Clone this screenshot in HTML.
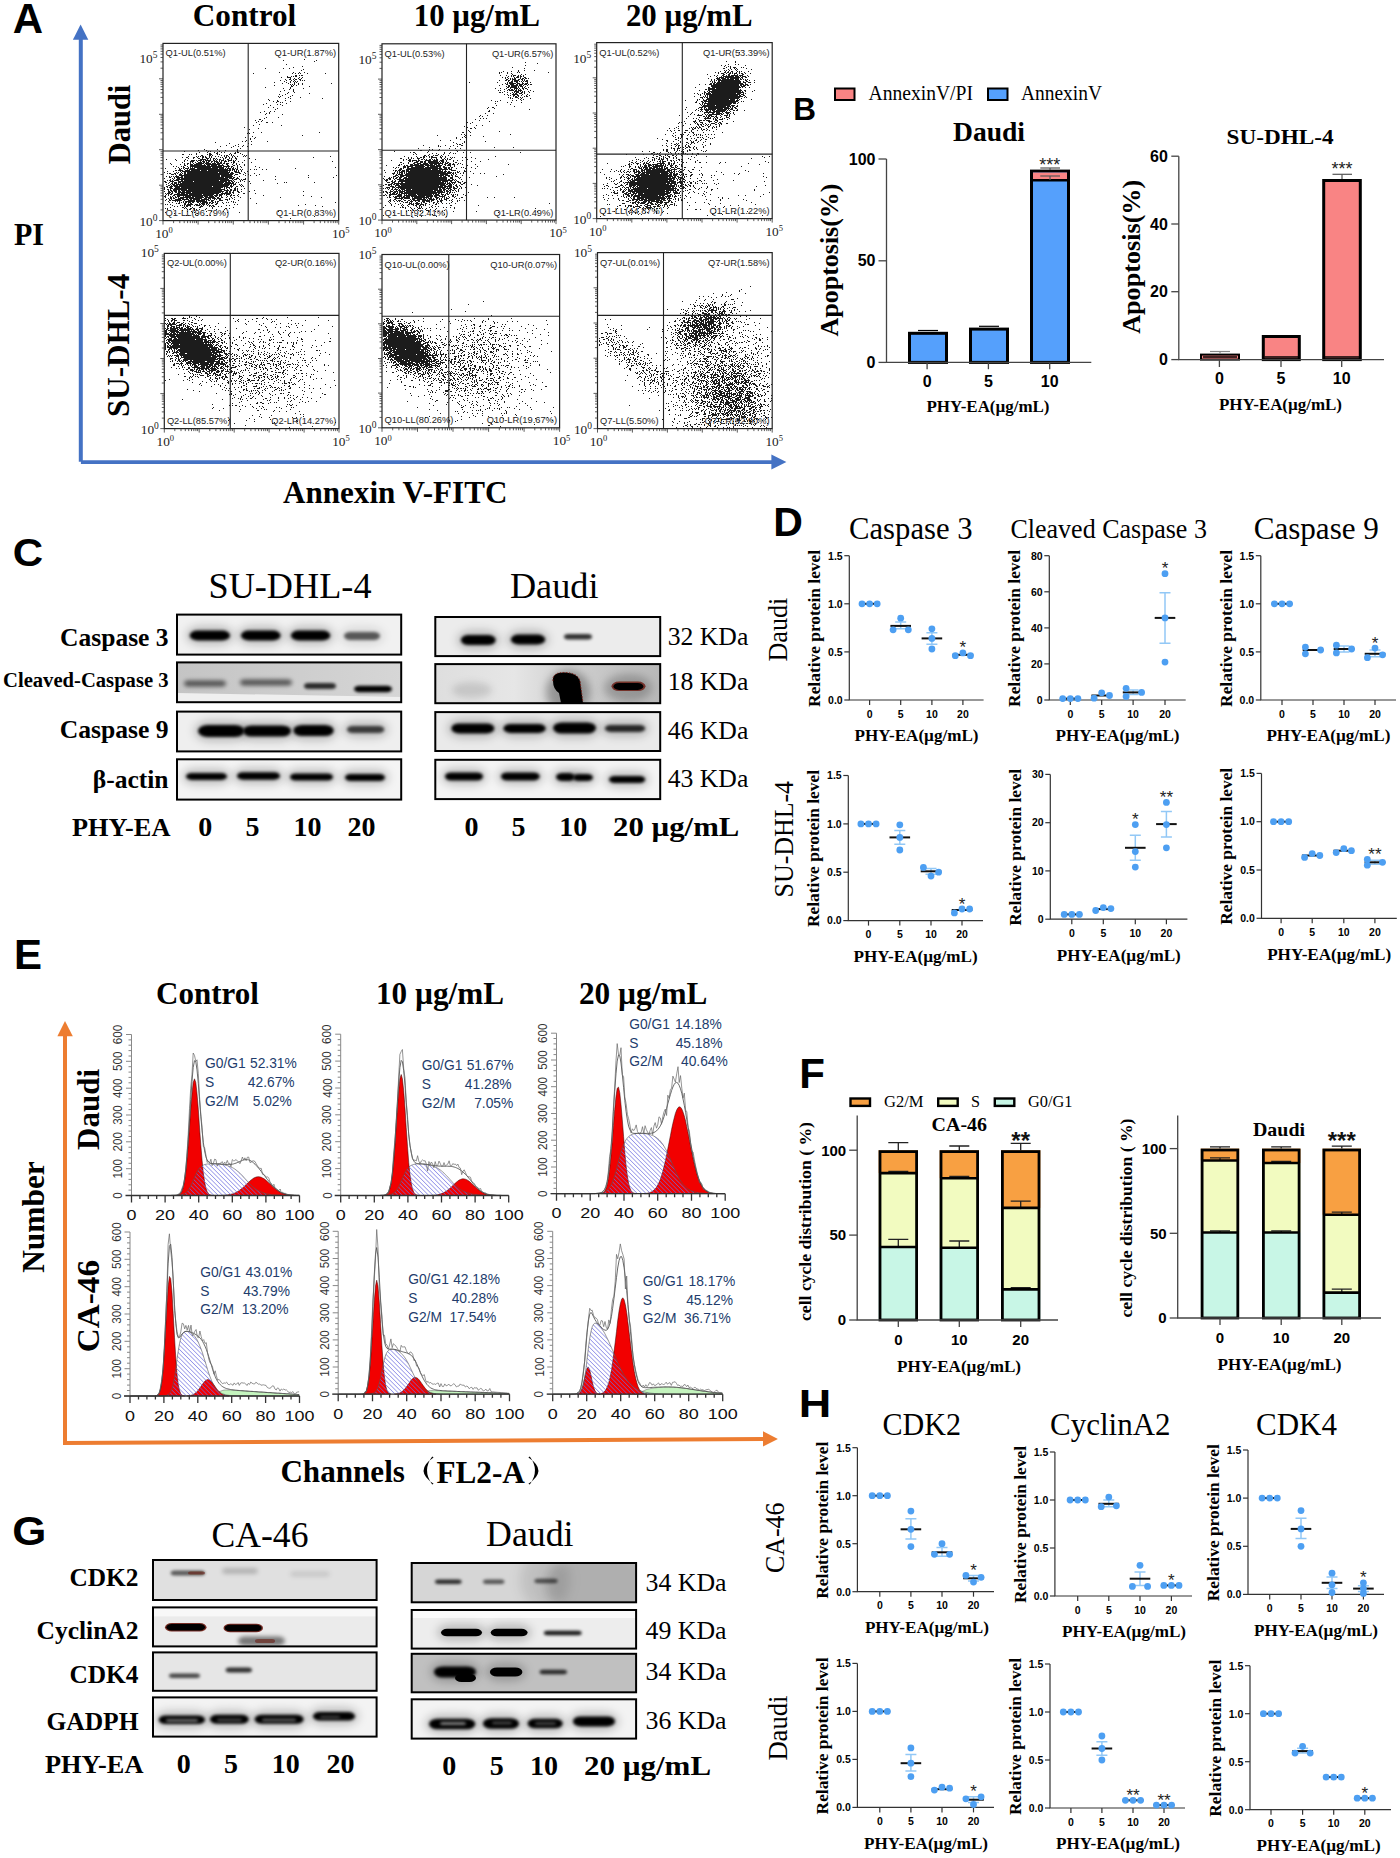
<!DOCTYPE html>
<html><head><meta charset="utf-8"><title>Figure</title>
<style>html,body{margin:0;padding:0;background:#fff;}svg{display:block;}</style>
</head><body>
<svg width="1400" height="1858" viewBox="0 0 1400 1858">
<rect width="1400" height="1858" fill="#fff"/>
<path d="M304 59h1M283 60h1M316 60h1M314 61h1M286 64h1M302 66h1M293 67h1M265 68h1M283 68h1M289 68h1M303 69h1M301 70h1M279 72h1M293 72h1M299 72h1M304 72h1M253 73h1M292 73h1M295 73h1M298 73h1M300 73h1M307 73h1M325 73h1M295 75h2M299 75h1M301 75h2M287 76h1M291 76h1M293 76h1M295 76h2M281 77h1M287 77h4M299 77h1M302 77h1M290 78h1M294 78h1M298 78h1M301 78h1M285 79h1M289 79h2M293 79h1M295 79h2M299 79h2M280 80h1M286 80h1M291 80h1M294 80h1M300 80h1M302 80h1M304 80h1M284 81h1M290 81h1M293 81h1M295 81h1M297 81h1M274 82h1M286 82h1M290 82h1M294 82h1M296 82h1M282 83h1M288 83h1M294 83h1M298 83h1M302 83h1M331 83h1M290 84h1M292 84h1M294 84h1M298 84h1M302 84h1M274 85h1M291 85h1M293 85h1M296 85h1M291 86h2M309 86h1M265 87h1M290 87h1M283 88h1M290 88h1M303 88h1M289 89h1M293 89h1M284 90h1M293 90h1M280 91h1M293 91h1M288 92h1M294 92h1M287 93h1M309 93h1M279 94h1M285 94h1M282 95h1M292 95h1M278 96h1M280 96h1M290 96h1M279 97h1M288 97h1M300 97h1M285 98h1M290 98h1M322 98h1M268 99h1M269 100h1M277 100h1M285 100h1M273 101h1M277 101h2M290 101h1M276 102h1M280 102h1M282 102h1M266 103h1M286 103h1M263 104h1M277 104h1M280 104h1M270 105h1M282 105h1M268 107h1M273 107h1M277 108h1M275 109h1M264 111h1M270 111h1M274 111h1M260 112h1M269 112h1M266 113h1M269 113h1M265 114h1M282 114h1M266 117h1M278 117h1M264 118h1M259 119h2M255 120h1M262 120h1M258 121h1M261 121h1M256 122h1M266 122h2M272 122h1M259 124h1M253 125h1M281 125h1M244 127h1M258 128h1M249 129h1M248 132h1M253 132h1M261 132h1M319 132h1M247 133h1M249 133h1M302 135h1M252 136h1M245 137h1M255 137h1M250 138h1M254 138h1M250 139h1M246 140h1M242 141h1M245 141h1M251 141h1M267 141h1M215 142h1M229 143h1M248 143h1M238 144h1M251 144h1M226 145h1M235 145h1M243 145h1M220 146h1M233 146h1M238 146h1M242 146h1M247 146h1M231 147h1M240 148h1M204 149h1M217 149h1M237 149h1M198 150h1M206 150h1M225 150h1M237 150h1M184 151h1M208 151h1M210 151h1M219 151h1M237 151h1M248 151h1M199 152h1M207 152h1M214 152h1M217 152h1M221 152h1M224 152h1M235 152h1M237 152h2M196 153h1M209 153h2M216 153h2M230 153h1M234 153h2M240 153h1M182 154h2M189 154h1M191 154h1M196 154h1M207 154h1M209 154h3M217 154h1M219 154h1M229 154h1M231 154h1M242 154h1M201 155h2M209 155h2M212 155h1M221 155h1M224 155h1M226 155h2M231 155h1M233 155h1M244 155h1M246 155h1M188 156h1M196 156h1M198 156h1M200 156h1M202 156h2M205 156h1M209 156h1M211 156h1M215 156h1M218 156h1M224 156h1M226 156h1M228 156h1M232 156h1M234 156h1M237 156h1M243 156h1M245 156h1M330 156h1M182 157h1M186 157h2M193 157h2M197 157h1M202 157h2M205 157h2M209 157h1M211 157h1M220 157h1M222 157h1M225 157h2M229 157h1M232 157h1M235 157h1M313 157h1M188 158h1M193 158h1M198 158h2M202 158h1M206 158h3M210 158h1M213 158h2M216 158h1M223 158h1M225 158h1M229 158h1M231 158h1M235 158h2M249 158h1M166 159h1M175 159h1M185 159h1M200 159h6M207 159h1M210 159h1M213 159h1M215 159h1M217 159h1M219 159h2M223 159h1M227 159h2M231 159h1M236 159h1M255 159h1M279 159h1M176 160h1M184 160h1M187 160h1M191 160h4M196 160h1M198 160h4M203 160h1M205 160h6M213 160h2M216 160h1M219 160h1M221 160h3M225 160h1M228 160h4M233 160h1M235 160h1M244 160h1M184 161h1M190 161h4M197 161h1M200 161h1M202 161h3M206 161h1M208 161h2M211 161h2M214 161h4M219 161h1M221 161h1M224 161h3M228 161h1M233 161h2M238 161h1M332 161h1M182 162h1M190 162h1M192 162h1M195 162h1M198 162h4M203 162h2M206 162h3M211 162h1M214 162h1M216 162h3M220 162h2M224 162h1M231 162h1M233 162h2M242 162h1M251 162h1M170 163h1M184 163h1M187 163h2M190 163h1M193 163h1M196 163h8M205 163h6M212 163h4M217 163h5M223 163h2M226 163h3M233 163h1M236 163h1M171 164h1M180 164h1M184 164h1M187 164h1M190 164h3M194 164h8M204 164h1M206 164h14M222 164h1M226 164h2M232 164h1M236 164h1M239 164h1M244 164h1M184 165h2M190 165h16M207 165h3M211 165h6M218 165h6M227 165h2M233 165h2M237 165h1M244 165h1M173 166h1M176 166h1M181 166h1M183 166h1M187 166h1M190 166h32M223 166h7M231 166h2M237 166h1M240 166h1M255 166h1M178 167h1M183 167h2M188 167h1M190 167h1M192 167h1M194 167h17M212 167h12M226 167h1M228 167h1M231 167h1M233 167h1M237 167h1M241 167h1M259 167h1M335 167h1M165 168h1M175 168h1M179 168h1M181 168h1M183 168h1M185 168h4M190 168h5M197 168h21M219 168h5M225 168h1M227 168h4M232 168h2M235 168h1M237 168h1M295 168h1M179 169h2M184 169h1M187 169h1M189 169h39M229 169h2M232 169h3M236 169h2M240 169h1M242 169h1M250 169h1M254 169h1M256 169h1M262 169h1M266 169h1M175 170h2M178 170h5M185 170h5M191 170h9M201 170h6M208 170h23M232 170h1M234 170h1M236 170h1M238 170h1M241 170h1M167 171h1M173 171h1M180 171h1M182 171h46M229 171h1M234 171h3M238 171h1M241 171h1M247 171h1M164 172h1M176 172h1M178 172h1M181 172h1M184 172h2M187 172h31M219 172h11M231 172h2M235 172h5M244 172h1M167 173h1M169 173h2M174 173h2M177 173h1M180 173h1M182 173h1M184 173h2M187 173h42M230 173h4M239 173h2M245 173h1M254 173h1M171 174h3M175 174h1M179 174h3M184 174h49M235 174h3M243 174h1M248 174h1M259 174h1M176 175h1M179 175h41M221 175h11M234 175h1M245 175h1M250 175h1M256 175h1M308 175h1M336 175h1M166 176h1M169 176h1M171 176h1M173 176h1M175 176h4M181 176h2M184 176h36M221 176h12M239 176h1M275 176h1M169 177h2M174 177h1M176 177h7M184 177h40M225 177h7M233 177h2M237 177h1M308 177h1M333 177h1M164 178h1M172 178h1M174 178h1M177 178h3M181 178h47M229 178h5M236 178h3M245 178h1M170 179h1M173 179h1M176 179h53M232 179h1M234 179h3M239 179h1M241 179h1M243 179h3M275 179h1M167 180h1M169 180h2M172 180h1M174 180h5M181 180h2M184 180h35M220 180h12M233 180h1M240 180h1M242 180h1M263 180h1M164 181h2M170 181h4M178 181h15M194 181h33M228 181h2M231 181h2M234 181h1M240 181h1M244 181h1M249 181h1M165 182h2M169 182h1M172 182h1M174 182h3M178 182h3M182 182h42M225 182h6M232 182h2M236 182h1M238 182h1M284 182h1M286 182h1M314 182h1M168 183h1M171 183h2M174 183h3M178 183h1M180 183h43M224 183h10M235 183h1M250 183h1M277 183h1M166 184h1M170 184h1M172 184h3M176 184h54M231 184h1M233 184h3M239 184h1M241 184h1M168 185h2M171 185h1M173 185h5M179 185h50M230 185h2M233 185h1M240 185h1M242 185h1M166 186h2M170 186h3M174 186h38M213 186h15M230 186h3M236 186h2M241 186h1M243 186h1M164 187h1M167 187h1M169 187h3M175 187h5M181 187h42M224 187h1M226 187h4M231 187h1M235 187h1M164 188h1M170 188h3M174 188h47M224 188h1M226 188h1M229 188h1M234 188h2M237 188h1M244 188h1M164 189h1M167 189h2M170 189h1M173 189h14M188 189h37M227 189h1M230 189h2M234 189h2M237 189h1M241 189h1M168 190h1M170 190h2M173 190h4M178 190h2M181 190h41M224 190h5M230 190h2M233 190h3M237 190h1M254 190h1M164 191h1M168 191h2M171 191h2M174 191h3M178 191h3M182 191h3M186 191h38M226 191h2M229 191h2M233 191h1M237 191h2M241 191h1M249 191h1M303 191h1M168 192h3M172 192h1M175 192h2M178 192h13M192 192h29M222 192h1M225 192h3M229 192h2M232 192h2M238 192h2M165 193h1M167 193h3M171 193h2M177 193h3M181 193h4M186 193h33M221 193h10M233 193h1M243 193h2M255 193h1M166 194h1M168 194h1M170 194h2M174 194h14M189 194h13M203 194h11M216 194h2M219 194h4M224 194h1M226 194h4M231 194h1M238 194h1M165 195h1M168 195h1M173 195h2M177 195h36M214 195h4M219 195h3M226 195h1M230 195h2M233 195h2M237 195h1M263 195h1M303 195h1M164 196h2M170 196h1M172 196h1M175 196h1M177 196h3M183 196h1M185 196h6M192 196h11M204 196h4M209 196h5M215 196h2M219 196h1M221 196h1M227 196h1M230 196h1M238 196h1M311 196h1M165 197h1M170 197h2M173 197h1M175 197h2M178 197h1M180 197h14M195 197h9M205 197h10M217 197h2M221 197h2M226 197h1M231 197h1M234 197h1M240 197h1M280 197h1M321 197h1M168 198h1M170 198h2M173 198h2M178 198h6M186 198h2M189 198h13M204 198h3M208 198h3M212 198h4M217 198h4M229 198h1M232 198h1M250 198h1M166 199h1M169 199h1M171 199h1M175 199h6M182 199h7M190 199h2M193 199h7M201 199h8M210 199h1M214 199h1M216 199h1M219 199h2M225 199h3M229 199h1M234 199h1M165 200h1M169 200h2M172 200h10M184 200h1M188 200h7M196 200h9M206 200h1M208 200h2M211 200h3M219 200h4M227 200h1M238 200h1M168 201h1M175 201h1M177 201h1M179 201h1M183 201h1M185 201h10M196 201h11M211 201h2M215 201h1M217 201h2M231 201h1M233 201h1M169 202h1M172 202h1M179 202h1M181 202h1M183 202h1M185 202h2M188 202h3M192 202h2M197 202h2M200 202h1M202 202h6M209 202h2M212 202h2M215 202h1M217 202h1M222 202h1M226 202h1M228 202h1M233 202h1M235 202h1M335 202h1M176 203h1M178 203h2M184 203h2M188 203h1M190 203h2M199 203h1M201 203h4M206 203h2M209 203h1M211 203h2M216 203h2M223 203h1M256 203h1M165 204h1M167 204h1M170 204h1M184 204h2M187 204h6M195 204h3M199 204h2M202 204h3M206 204h1M208 204h1M215 204h2M234 204h1M237 204h1M305 204h1M172 205h1M180 205h1M182 205h1M184 205h1M186 205h5M194 205h1M196 205h4M201 205h1M203 205h1M207 205h1M209 205h2M212 205h2M226 205h1M229 205h1M298 205h1M315 205h1M174 206h1M177 206h1M184 206h1M186 206h2M190 206h1M200 206h3M209 206h1M211 206h1M213 206h2M218 206h1M221 206h1M322 206h1M170 207h1M182 207h2M185 207h1M192 207h1M199 207h2M212 207h1M233 207h1M165 208h1M167 208h1M184 208h1M186 208h1M190 208h2M193 208h2M206 208h1M212 208h1M225 208h2M229 208h1M167 209h1M173 209h1M187 209h1M189 209h2M194 209h1M196 209h1M199 209h1M205 209h1M216 209h1M224 209h1M182 210h1M194 210h1M187 211h1M191 211h1M206 211h1M211 211h1M223 211h1M278 211h1M165 212h1M192 212h1M194 212h1M227 212h1M239 212h1M174 213h1M197 213h1M195 214h1M186 215h1M188 215h1M197 215h1M207 215h1M210 215h1M314 216h1M290 218h1" stroke="#1c1c1c" stroke-width="1" fill="none" transform="translate(0 .5)"/>
<rect x="163" y="43.4" width="175.7" height="177.2" fill="none" stroke="#222" stroke-width="1.2"/>
<line x1="248.2" y1="43.4" x2="248.2" y2="220.6" stroke="#222" stroke-width="1.1"/>
<line x1="163" y1="151" x2="338.7" y2="151" stroke="#222" stroke-width="1.1"/>
<path d="M163 220.6h-4M163 209.9h-2.5M163 203.7h-2.5M163 199.3h-2.5M163 195.8h-2.5M163 193.0h-2.5M163 190.6h-2.5M163 188.6h-2.5M163 186.8h-2.5M163 185.2h-4M163 174.5h-2.5M163 168.3h-2.5M163 163.8h-2.5M163 160.4h-2.5M163 157.6h-2.5M163 155.2h-2.5M163 153.2h-2.5M163 151.3h-2.5M163 149.7h-4M163 139.1h-2.5M163 132.8h-2.5M163 128.4h-2.5M163 124.9h-2.5M163 122.1h-2.5M163 119.8h-2.5M163 117.7h-2.5M163 115.9h-2.5M163 114.3h-4M163 103.6h-2.5M163 97.4h-2.5M163 92.9h-2.5M163 89.5h-2.5M163 86.7h-2.5M163 84.3h-2.5M163 82.3h-2.5M163 80.5h-2.5M163 78.8h-4M163 68.2h-2.5M163 61.9h-2.5M163 57.5h-2.5M163 54.1h-2.5M163 51.3h-2.5M163 48.9h-2.5M163 46.8h-2.5M163 45.0h-2.5M163 220.6v4M173.6 220.6v2.5M179.8 220.6v2.5M184.2 220.6v2.5M187.6 220.6v2.5M190.3 220.6v2.5M192.7 220.6v2.5M194.7 220.6v2.5M196.5 220.6v2.5M198.1 220.6v4M208.7 220.6v2.5M214.9 220.6v2.5M219.3 220.6v2.5M222.7 220.6v2.5M225.5 220.6v2.5M227.8 220.6v2.5M229.9 220.6v2.5M231.7 220.6v2.5M233.3 220.6v4M243.9 220.6v2.5M250.0 220.6v2.5M254.4 220.6v2.5M257.8 220.6v2.5M260.6 220.6v2.5M263.0 220.6v2.5M265.0 220.6v2.5M266.8 220.6v2.5M268.4 220.6v4M279.0 220.6v2.5M285.2 220.6v2.5M289.6 220.6v2.5M293.0 220.6v2.5M295.8 220.6v2.5M298.1 220.6v2.5M300.2 220.6v2.5M302.0 220.6v2.5M303.6 220.6v4M314.1 220.6v2.5M320.3 220.6v2.5M324.7 220.6v2.5M328.1 220.6v2.5M330.9 220.6v2.5M333.3 220.6v2.5M335.3 220.6v2.5M337.1 220.6v2.5M338.7 220.6v4" stroke="#333" stroke-width=".8" fill="none"/>
<text x="165.6" y="56.4" font-family="'Liberation Sans', sans-serif" font-size="8.9" fill="#222" textLength="60.0" lengthAdjust="spacingAndGlyphs">Q1-UL(0.51%)</text>
<text x="336.1" y="56.4" font-family="'Liberation Sans', sans-serif" font-size="8.9" text-anchor="end" fill="#222" textLength="61.5" lengthAdjust="spacingAndGlyphs">Q1-UR(1.87%)</text>
<text x="165.6" y="216.1" font-family="'Liberation Sans', sans-serif" font-size="8.9" fill="#222" textLength="63.6" lengthAdjust="spacingAndGlyphs">Q1-LL(96.79%)</text>
<text x="336.1" y="216.1" font-family="'Liberation Sans', sans-serif" font-size="8.9" text-anchor="end" fill="#222" textLength="60.0" lengthAdjust="spacingAndGlyphs">Q1-LR(0.83%)</text>
<text x="157.5" y="63.4" font-family="'Liberation Serif', serif" font-size="13.3" text-anchor="end" fill="#222">10<tspan font-size="9.5" dy="-5">5</tspan></text>
<text x="157.5" y="225.6" font-family="'Liberation Serif', serif" font-size="13.3" text-anchor="end" fill="#222">10<tspan font-size="9.5" dy="-5">0</tspan></text>
<text x="164" y="237.8" font-family="'Liberation Serif', serif" font-size="13.3" text-anchor="middle" fill="#222">10<tspan font-size="8.5" dy="-4.5">0</tspan></text>
<text x="340.7" y="237.8" font-family="'Liberation Serif', serif" font-size="13.3" text-anchor="middle" fill="#222">10<tspan font-size="8.5" dy="-4.5">5</tspan></text>
<path d="M525 62h1M537 63h1M525 65h1M512 67h1M524 68h1M518 70h1M524 70h1M534 70h1M503 71h1M511 71h1M518 71h1M499 72h1M501 72h1M507 72h1M517 72h1M519 72h1M548 72h1M499 73h1M507 73h1M511 73h1M512 74h1M521 74h1M525 74h1M500 75h1M506 75h1M511 75h1M513 75h3M518 75h1M520 75h1M523 75h1M508 76h1M511 76h1M513 76h1M517 76h2M520 76h2M523 76h1M502 77h1M505 77h1M507 77h1M514 77h1M516 77h3M520 77h1M524 77h2M505 78h1M508 78h1M510 78h1M512 78h1M514 78h2M520 78h1M522 78h2M525 78h2M528 78h1M506 79h2M510 79h1M512 79h4M518 79h2M521 79h2M524 79h1M499 80h1M505 80h2M508 80h2M512 80h1M514 80h5M522 80h1M524 80h1M526 80h2M508 81h1M511 81h2M514 81h4M519 81h1M521 81h1M523 81h1M525 81h3M469 82h1M497 82h1M507 82h1M509 82h4M516 82h2M522 82h1M527 82h1M530 82h1M505 83h1M507 83h1M509 83h7M517 83h3M522 83h2M525 83h3M502 84h1M506 84h2M510 84h4M516 84h2M519 84h4M524 84h3M528 84h1M530 84h2M499 85h1M508 85h2M511 85h7M519 85h3M523 85h1M527 85h1M506 86h1M508 86h2M511 86h6M518 86h1M520 86h3M525 86h1M507 87h2M510 87h7M518 87h1M522 87h1M524 87h1M528 87h1M495 88h1M500 88h1M506 88h1M510 88h1M514 88h4M519 88h1M522 88h2M525 88h2M504 89h1M508 89h2M511 89h2M514 89h1M516 89h1M518 89h1M520 89h1M523 89h1M527 89h1M498 90h1M500 90h1M507 90h1M509 90h5M515 90h2M518 90h4M530 90h1M504 91h1M514 91h5M520 91h1M522 91h1M524 91h1M528 91h1M533 91h1M499 92h2M502 92h1M507 92h1M512 92h1M514 92h1M516 92h3M521 92h2M524 92h1M529 92h1M510 93h1M513 93h1M515 93h2M519 93h3M524 93h1M504 94h1M507 94h1M512 94h6M522 94h1M527 94h1M508 95h1M510 95h1M513 95h2M517 95h2M521 95h1M526 95h1M529 95h1M513 96h1M515 96h2M518 96h1M524 96h1M526 96h2M508 97h1M510 97h1M515 97h3M520 97h1M522 97h1M510 98h1M512 98h1M518 98h1M521 98h1M530 98h1M520 99h1M523 99h1M491 100h1M500 100h1M512 100h1M516 100h1M521 100h1M495 101h1M497 101h1M507 102h1M511 102h1M521 102h1M495 103h1M510 104h1M496 105h1M514 106h1M488 107h1M492 107h2M487 108h1M494 108h1M529 109h1M489 110h1M488 111h2M485 113h1M493 113h1M480 115h1M487 115h1M479 116h1M482 116h1M480 118h1M483 118h1M486 118h1M475 119h1M479 120h1M489 121h1M467 122h1M472 122h1M470 123h1M476 125h1M482 125h1M464 126h1M467 127h1M474 127h1M470 128h2M475 128h1M468 130h1M469 131h1M499 131h1M462 132h2M466 132h1M470 132h1M461 134h1M464 134h1M510 134h1M437 135h1M465 135h1M470 135h1M464 136h1M483 136h1M456 137h1M462 137h1M465 137h1M456 138h1M466 138h1M460 139h1M440 140h1M450 140h1M466 140h1M464 141h1M485 141h1M453 142h1M464 142h1M466 142h1M456 143h1M462 143h1M457 144h1M459 144h2M423 145h1M438 145h1M445 145h1M453 145h1M461 145h2M438 146h1M440 146h1M450 146h1M457 146h1M429 147h1M494 147h1M513 147h1M418 148h1M449 148h1M455 148h1M460 148h1M429 149h1M432 149h1M439 149h1M420 150h2M438 150h1M456 150h1M464 150h1M394 151h1M428 151h1M457 151h1M410 152h1M413 152h2M427 152h1M444 152h1M450 152h1M463 152h1M470 152h1M520 152h1M415 153h1M432 153h1M436 153h1M444 153h1M449 153h1M453 153h1M455 153h1M413 154h1M416 154h1M429 154h1M438 154h1M443 154h1M424 155h2M428 155h1M433 155h1M435 155h3M441 155h1M448 155h1M404 156h1M416 156h1M423 156h2M426 156h1M429 156h1M431 156h2M440 156h1M442 156h1M445 156h1M495 156h1M408 157h1M411 157h1M417 157h1M420 157h2M423 157h2M429 157h1M431 157h6M440 157h2M445 157h1M450 157h1M452 157h1M454 157h1M462 157h1M465 157h1M471 157h1M400 158h2M408 158h1M411 158h1M413 158h1M417 158h3M423 158h1M431 158h1M436 158h1M441 158h1M444 158h1M447 158h1M451 158h1M475 158h1M403 159h1M406 159h1M409 159h2M418 159h1M421 159h2M424 159h1M426 159h1M429 159h2M432 159h1M434 159h1M436 159h2M442 159h2M445 159h1M447 159h1M449 159h2M467 159h1M488 159h1M391 160h1M403 160h1M408 160h3M412 160h5M418 160h2M425 160h6M433 160h5M440 160h4M446 160h1M453 160h1M457 160h1M462 160h1M409 161h2M412 161h1M416 161h3M420 161h3M424 161h2M428 161h10M439 161h1M441 161h3M446 161h1M453 161h1M471 161h1M480 161h1M400 162h2M408 162h1M414 162h4M420 162h3M424 162h2M428 162h11M440 162h1M442 162h2M445 162h1M447 162h2M455 162h2M403 163h1M408 163h1M413 163h2M417 163h4M423 163h5M429 163h14M445 163h3M449 163h2M453 163h1M458 163h1M460 163h1M399 164h1M401 164h1M410 164h3M414 164h5M420 164h9M430 164h3M434 164h3M438 164h2M442 164h1M444 164h2M448 164h3M452 164h3M457 164h1M462 164h1M475 164h1M508 164h1M386 165h1M398 165h2M404 165h1M406 165h2M410 165h14M425 165h10M436 165h6M445 165h1M447 165h4M454 165h1M467 165h1M403 166h3M407 166h6M415 166h10M427 166h2M430 166h11M443 166h2M450 166h1M454 166h1M477 166h1M393 167h1M396 167h1M398 167h1M403 167h3M407 167h2M411 167h13M425 167h13M439 167h2M443 167h4M448 167h2M451 167h2M461 167h1M463 167h1M471 167h1M395 168h1M400 168h2M403 168h1M407 168h35M444 168h3M448 168h2M451 168h1M456 168h1M465 168h1M475 168h1M399 169h3M406 169h25M432 169h6M439 169h9M449 169h3M384 170h1M393 170h1M395 170h2M398 170h3M402 170h3M406 170h3M410 170h31M442 170h1M445 170h1M451 170h5M464 170h1M395 171h1M397 171h1M399 171h1M401 171h4M406 171h37M444 171h3M448 171h2M457 171h1M459 171h1M464 171h2M470 171h1M385 172h1M394 172h1M397 172h1M399 172h4M404 172h1M406 172h1M408 172h38M447 172h5M453 172h1M455 172h1M457 172h2M463 172h1M466 172h1M392 173h3M397 173h1M399 173h1M401 173h2M404 173h1M406 173h45M452 173h2M455 173h1M460 173h1M463 173h1M473 173h1M480 173h1M484 173h1M393 174h1M396 174h1M398 174h5M405 174h34M440 174h8M451 174h1M453 174h1M456 174h1M503 174h1M395 175h3M400 175h44M445 175h5M451 175h2M455 175h1M462 175h1M384 176h1M393 176h3M398 176h1M400 176h4M406 176h33M440 176h2M443 176h3M448 176h2M452 176h1M455 176h3M496 176h1M389 177h1M391 177h1M393 177h1M396 177h2M399 177h3M404 177h3M408 177h39M450 177h3M458 177h1M460 177h1M469 177h1M383 178h1M388 178h3M393 178h1M395 178h2M399 178h2M403 178h44M450 178h3M459 178h1M384 179h1M386 179h2M389 179h2M394 179h1M397 179h7M405 179h42M448 179h2M452 179h2M455 179h1M461 179h1M385 180h3M392 180h1M395 180h1M399 180h54M454 180h1M456 180h1M386 181h1M391 181h2M394 181h2M398 181h43M442 181h6M450 181h2M455 181h1M457 181h2M462 181h1M387 182h3M392 182h3M398 182h1M401 182h2M405 182h39M445 182h1M447 182h1M449 182h1M451 182h5M458 182h3M464 182h2M391 183h2M394 183h52M447 183h4M452 183h1M454 183h1M460 183h1M463 183h2M385 184h2M388 184h4M393 184h2M396 184h3M400 184h45M446 184h2M449 184h3M453 184h1M456 184h1M461 184h2M471 184h1M383 185h1M388 185h2M391 185h1M395 185h5M401 185h38M440 185h6M448 185h4M455 185h2M459 185h1M477 185h1M390 186h4M395 186h1M398 186h45M444 186h8M453 186h1M456 186h2M460 186h1M386 187h4M392 187h3M396 187h50M447 187h1M449 187h3M453 187h2M457 187h1M461 187h1M465 187h1M383 188h1M385 188h1M387 188h1M389 188h1M392 188h1M395 188h1M398 188h1M400 188h38M439 188h2M442 188h3M446 188h5M453 188h4M459 188h1M461 188h1M388 189h1M391 189h2M394 189h4M399 189h1M401 189h4M406 189h5M412 189h26M439 189h3M443 189h3M448 189h1M450 189h2M454 189h1M458 189h1M390 190h1M393 190h1M396 190h1M398 190h3M402 190h1M404 190h29M434 190h8M443 190h2M446 190h2M449 190h2M452 190h2M455 190h1M458 190h1M383 191h1M385 191h2M390 191h3M394 191h4M399 191h6M406 191h30M437 191h6M444 191h1M446 191h3M450 191h1M456 191h1M458 191h1M383 192h1M386 192h2M389 192h2M393 192h3M397 192h1M399 192h4M404 192h41M447 192h1M449 192h2M452 192h1M454 192h1M468 192h1M387 193h1M390 193h1M392 193h3M396 193h2M399 193h1M401 193h36M438 193h2M441 193h1M446 193h2M449 193h1M385 194h1M389 194h8M398 194h4M404 194h1M406 194h1M408 194h8M417 194h15M433 194h1M435 194h4M441 194h3M445 194h1M447 194h2M451 194h1M453 194h1M455 194h1M457 194h1M463 194h1M383 195h2M386 195h1M389 195h2M397 195h5M404 195h13M418 195h15M434 195h6M442 195h1M444 195h2M452 195h2M457 195h1M465 195h1M389 196h1M393 196h1M395 196h7M403 196h2M406 196h4M411 196h14M426 196h7M434 196h3M439 196h6M448 196h1M452 196h2M455 196h1M387 197h1M389 197h2M394 197h3M399 197h1M401 197h9M412 197h1M414 197h15M430 197h2M435 197h4M442 197h1M444 197h1M446 197h1M449 197h1M454 197h1M461 197h2M487 197h1M494 197h1M514 197h1M395 198h8M404 198h6M412 198h10M423 198h2M426 198h1M428 198h4M433 198h1M436 198h2M439 198h1M441 198h1M444 198h1M446 198h3M456 198h1M459 198h1M390 199h1M394 199h2M401 199h1M403 199h1M410 199h1M412 199h3M417 199h9M427 199h1M429 199h6M436 199h1M439 199h1M441 199h1M444 199h3M452 199h1M389 200h2M393 200h1M396 200h1M398 200h3M404 200h2M408 200h2M411 200h1M413 200h7M422 200h8M431 200h3M437 200h1M440 200h3M446 200h1M449 200h1M451 200h1M457 200h1M459 200h1M464 200h1M388 201h1M390 201h1M394 201h1M397 201h1M399 201h1M401 201h2M407 201h1M410 201h3M415 201h1M418 201h2M422 201h3M426 201h4M431 201h1M437 201h2M440 201h2M452 201h1M457 201h1M389 202h1M403 202h1M405 202h3M409 202h1M411 202h1M416 202h2M421 202h1M423 202h2M429 202h1M433 202h2M437 202h1M441 202h1M451 202h1M390 203h1M395 203h1M400 203h1M409 203h3M413 203h1M415 203h5M421 203h1M425 203h2M433 203h1M436 203h1M438 203h1M442 203h1M446 203h1M449 203h1M455 203h1M549 203h1M391 204h1M398 204h1M402 204h1M408 204h2M411 204h3M416 204h3M420 204h4M425 204h1M429 204h1M435 204h2M385 205h1M391 205h1M401 205h1M403 205h1M407 205h1M413 205h1M415 205h2M419 205h2M423 205h1M425 205h1M432 205h1M450 205h2M478 205h1M394 206h1M402 206h1M408 206h1M416 206h1M419 206h1M421 206h1M431 206h1M435 206h1M438 206h1M383 207h1M400 207h1M402 207h2M405 207h1M410 207h1M417 207h1M419 207h1M421 207h1M429 207h1M432 207h1M443 207h1M446 207h1M450 207h1M454 207h1M405 208h1M411 208h1M414 208h1M418 208h3M422 208h1M426 208h1M436 208h1M454 208h1M535 208h1M412 209h1M417 209h1M425 209h1M430 209h1M435 209h1M408 210h1M410 210h1M413 210h1M418 210h1M426 210h3M444 210h1M406 211h1M420 211h1M428 211h1M435 211h1M438 211h1M442 211h1M453 211h1M476 211h1M537 211h1M393 212h1M412 212h1M422 212h1M498 212h1M432 214h1M444 214h1M383 215h1M433 215h1M411 216h1M417 216h1M421 216h1M436 216h1M446 216h1" stroke="#1c1c1c" stroke-width="1" fill="none" transform="translate(0 .5)"/>
<rect x="382" y="43.8" width="174" height="176.3" fill="none" stroke="#222" stroke-width="1.2"/>
<line x1="466.5" y1="43.8" x2="466.5" y2="220.1" stroke="#222" stroke-width="1.1"/>
<line x1="382" y1="150.2" x2="556" y2="150.2" stroke="#222" stroke-width="1.1"/>
<path d="M382 220.1h-4M382 209.5h-2.5M382 203.3h-2.5M382 198.9h-2.5M382 195.5h-2.5M382 192.7h-2.5M382 190.3h-2.5M382 188.3h-2.5M382 186.5h-2.5M382 184.8h-4M382 174.2h-2.5M382 168.0h-2.5M382 163.6h-2.5M382 160.2h-2.5M382 157.4h-2.5M382 155.0h-2.5M382 153.0h-2.5M382 151.2h-2.5M382 149.6h-4M382 139.0h-2.5M382 132.8h-2.5M382 128.4h-2.5M382 124.9h-2.5M382 122.1h-2.5M382 119.8h-2.5M382 117.7h-2.5M382 115.9h-2.5M382 114.3h-4M382 103.7h-2.5M382 97.5h-2.5M382 93.1h-2.5M382 89.7h-2.5M382 86.9h-2.5M382 84.5h-2.5M382 82.5h-2.5M382 80.7h-2.5M382 79.1h-4M382 68.4h-2.5M382 62.2h-2.5M382 57.8h-2.5M382 54.4h-2.5M382 51.6h-2.5M382 49.3h-2.5M382 47.2h-2.5M382 45.4h-2.5M382 220.1v4M392.5 220.1v2.5M398.6 220.1v2.5M403.0 220.1v2.5M406.3 220.1v2.5M409.1 220.1v2.5M411.4 220.1v2.5M413.4 220.1v2.5M415.2 220.1v2.5M416.8 220.1v4M427.3 220.1v2.5M433.4 220.1v2.5M437.8 220.1v2.5M441.1 220.1v2.5M443.9 220.1v2.5M446.2 220.1v2.5M448.2 220.1v2.5M450.0 220.1v2.5M451.6 220.1v4M462.1 220.1v2.5M468.2 220.1v2.5M472.6 220.1v2.5M475.9 220.1v2.5M478.7 220.1v2.5M481.0 220.1v2.5M483.0 220.1v2.5M484.8 220.1v2.5M486.4 220.1v4M496.9 220.1v2.5M503.0 220.1v2.5M507.4 220.1v2.5M510.7 220.1v2.5M513.5 220.1v2.5M515.8 220.1v2.5M517.8 220.1v2.5M519.6 220.1v2.5M521.2 220.1v4M531.7 220.1v2.5M537.8 220.1v2.5M542.2 220.1v2.5M545.5 220.1v2.5M548.3 220.1v2.5M550.6 220.1v2.5M552.6 220.1v2.5M554.4 220.1v2.5M556 220.1v4" stroke="#333" stroke-width=".8" fill="none"/>
<text x="384.6" y="56.8" font-family="'Liberation Sans', sans-serif" font-size="8.9" fill="#222" textLength="60.0" lengthAdjust="spacingAndGlyphs">Q1-UL(0.53%)</text>
<text x="553.4" y="56.8" font-family="'Liberation Sans', sans-serif" font-size="8.9" text-anchor="end" fill="#222" textLength="61.5" lengthAdjust="spacingAndGlyphs">Q1-UR(6.57%)</text>
<text x="384.6" y="215.6" font-family="'Liberation Sans', sans-serif" font-size="8.9" fill="#222" textLength="63.6" lengthAdjust="spacingAndGlyphs">Q1-LL(92.41%)</text>
<text x="553.4" y="215.6" font-family="'Liberation Sans', sans-serif" font-size="8.9" text-anchor="end" fill="#222" textLength="60.0" lengthAdjust="spacingAndGlyphs">Q1-LR(0.49%)</text>
<text x="376.5" y="63.8" font-family="'Liberation Serif', serif" font-size="13.3" text-anchor="end" fill="#222">10<tspan font-size="9.5" dy="-5">5</tspan></text>
<text x="376.5" y="225.1" font-family="'Liberation Serif', serif" font-size="13.3" text-anchor="end" fill="#222">10<tspan font-size="9.5" dy="-5">0</tspan></text>
<text x="383" y="237.3" font-family="'Liberation Serif', serif" font-size="13.3" text-anchor="middle" fill="#222">10<tspan font-size="8.5" dy="-4.5">0</tspan></text>
<text x="558" y="237.3" font-family="'Liberation Serif', serif" font-size="13.3" text-anchor="middle" fill="#222">10<tspan font-size="8.5" dy="-4.5">5</tspan></text>
<path d="M739 52h1M726 61h1M735 61h1M735 62h1M728 64h1M735 64h1M738 64h1M721 65h1M725 65h1M745 65h1M724 66h1M728 66h1M730 66h1M726 67h1M730 67h1M733 67h3M741 67h1M743 67h1M723 68h2M730 68h1M734 68h1M736 68h1M746 68h1M728 69h1M731 69h1M735 69h1M737 69h1M751 69h1M724 70h1M726 70h1M729 70h1M736 70h1M720 71h1M725 71h1M728 71h1M731 71h2M737 71h1M739 71h1M741 71h1M748 71h1M715 72h1M718 72h1M724 72h2M727 72h2M730 72h1M732 72h1M736 72h1M739 72h1M744 72h1M718 73h1M721 73h3M726 73h1M729 73h2M732 73h1M734 73h3M739 73h1M741 73h2M745 73h1M750 73h1M707 74h1M723 74h2M728 74h2M734 74h1M737 74h1M742 74h2M714 75h1M717 75h1M722 75h2M726 75h1M728 75h2M731 75h7M739 75h4M747 75h1M710 76h1M716 76h1M721 76h1M723 76h11M735 76h4M740 76h1M742 76h4M748 76h1M717 77h1M719 77h5M725 77h15M741 77h2M745 77h2M708 78h1M716 78h4M721 78h5M727 78h2M730 78h9M740 78h1M742 78h1M711 79h1M714 79h1M717 79h4M722 79h12M735 79h4M740 79h2M743 79h1M745 79h1M747 79h1M711 80h1M714 80h1M716 80h1M718 80h22M745 80h2M749 80h1M754 80h1M710 81h1M712 81h1M714 81h1M718 81h2M721 81h20M743 81h1M746 81h2M712 82h1M714 82h2M717 82h24M743 82h3M748 82h3M754 82h1M710 83h2M713 83h2M716 83h27M745 83h1M699 84h1M705 84h1M709 84h3M713 84h26M740 84h4M745 84h3M750 84h1M711 85h28M740 85h2M743 85h3M747 85h2M711 86h29M741 86h4M695 87h1M708 87h2M712 87h29M742 87h1M745 87h1M749 87h1M708 88h7M716 88h23M705 89h2M708 89h31M740 89h1M699 90h1M708 90h2M712 90h30M744 90h2M754 90h1M704 91h1M707 91h1M709 91h32M742 91h1M745 91h1M752 91h1M704 92h2M708 92h2M711 92h33M694 93h1M697 93h1M702 93h1M704 93h1M706 93h5M712 93h24M737 93h4M743 93h1M745 93h1M698 94h1M700 94h1M704 94h1M706 94h34M741 94h3M700 95h1M705 95h1M707 95h1M709 95h29M739 95h2M743 95h2M694 96h1M703 96h1M705 96h1M707 96h1M709 96h34M745 96h1M700 97h3M704 97h1M706 97h2M709 97h31M744 97h1M746 97h1M702 98h1M707 98h32M741 98h1M697 99h1M699 99h1M703 99h1M706 99h23M730 99h5M737 99h1M739 99h1M751 99h1M685 100h1M697 100h1M703 100h4M708 100h27M736 100h3M696 101h1M701 101h2M704 101h34M741 101h1M743 101h1M695 102h2M702 102h2M705 102h1M708 102h28M738 102h1M699 103h1M702 103h1M704 103h28M733 103h3M737 103h1M700 104h1M702 104h1M704 104h1M707 104h24M701 105h1M703 105h12M716 105h14M731 105h4M737 105h1M702 106h24M727 106h4M732 106h2M736 106h2M686 107h1M699 107h4M704 107h2M708 107h21M730 107h1M732 107h1M734 107h2M698 108h1M701 108h1M704 108h1M706 108h1M708 108h15M724 108h6M731 108h2M735 108h2M685 109h1M696 109h1M700 109h3M704 109h12M717 109h10M728 109h1M730 109h3M737 109h1M695 110h1M698 110h1M701 110h1M705 110h4M710 110h1M712 110h3M716 110h10M727 110h1M729 110h1M733 110h2M736 110h2M744 110h1M700 111h1M702 111h1M706 111h2M709 111h2M713 111h12M726 111h1M730 111h1M687 112h1M692 112h1M704 112h11M716 112h4M722 112h1M725 112h5M733 112h1M691 113h1M704 113h1M708 113h1M712 113h2M716 113h6M723 113h1M726 113h3M730 113h1M733 113h1M690 114h1M694 114h1M698 114h1M702 114h1M705 114h1M707 114h1M709 114h11M721 114h2M727 114h1M729 114h1M734 114h1M679 115h1M697 115h5M706 115h1M708 115h4M716 115h1M720 115h1M724 115h4M729 115h1M688 116h1M703 116h2M706 116h1M708 116h2M711 116h3M715 116h2M721 116h1M726 116h1M729 116h1M699 117h1M705 117h1M707 117h2M710 117h1M714 117h1M716 117h2M720 117h1M726 117h3M686 118h1M693 118h1M696 118h1M704 118h7M713 118h1M715 118h1M717 118h1M722 118h1M724 118h1M729 118h1M698 119h1M705 119h1M713 119h1M715 119h2M719 119h4M727 119h1M695 120h1M699 120h3M703 120h2M706 120h4M715 120h3M684 121h1M693 121h3M699 121h1M708 121h4M714 121h1M717 121h1M722 121h1M733 121h1M679 122h1M681 122h1M694 122h1M696 122h1M700 122h3M709 122h1M715 122h2M719 122h2M678 123h1M685 123h1M695 123h1M697 123h1M702 123h1M705 123h1M711 123h4M718 123h1M720 123h2M726 123h2M690 124h1M697 124h2M700 124h2M703 124h1M706 124h1M708 124h1M710 124h1M715 124h2M719 124h1M721 124h1M683 125h1M698 125h1M701 125h1M705 125h1M707 125h1M710 125h1M719 125h1M678 126h1M682 126h1M696 126h1M699 126h1M702 126h2M708 126h2M713 126h1M716 126h1M719 126h1M676 127h1M691 127h1M693 127h1M695 127h1M697 127h1M699 127h2M708 127h1M712 127h1M714 127h1M716 127h1M669 128h1M674 128h1M678 128h1M689 128h1M692 128h1M694 128h2M698 128h1M701 128h1M706 128h1M712 128h1M692 129h2M701 129h1M703 129h2M707 129h1M716 129h1M667 130h1M670 130h1M674 130h1M678 130h2M685 130h3M691 130h1M697 130h1M702 130h1M706 130h1M709 130h1M671 131h1M691 131h1M713 131h1M675 132h1M684 132h2M689 132h1M692 132h2M703 132h1M722 132h1M673 133h1M682 133h1M693 133h1M665 134h1M680 134h2M683 134h1M688 134h1M694 134h1M696 134h1M698 134h1M700 134h1M705 134h1M708 134h1M711 134h1M714 134h1M672 135h1M675 135h1M681 135h2M687 135h1M693 135h1M696 135h1M700 135h1M702 135h1M673 136h1M681 136h2M690 136h1M706 136h1M675 137h1M678 137h1M681 137h1M697 137h2M700 137h1M702 137h1M708 137h1M714 137h1M657 138h1M678 138h1M680 138h1M686 138h2M691 138h1M694 138h1M703 138h1M710 138h1M712 138h1M662 139h1M675 139h2M687 139h1M696 139h1M701 139h1M705 139h2M666 140h2M678 140h1M690 140h1M695 140h2M700 140h1M667 141h1M673 141h1M680 141h1M691 141h1M693 141h1M698 141h1M705 141h1M680 142h1M686 142h2M691 142h3M697 142h1M703 142h1M666 143h1M671 143h1M676 143h1M678 143h1M682 143h1M688 143h1M691 143h1M694 143h1M710 143h1M674 144h2M677 144h1M686 144h1M690 144h1M702 144h1M710 144h1M662 145h1M666 145h1M671 145h1M676 145h1M678 145h2M685 145h1M688 145h1M705 145h1M667 146h1M675 146h1M678 146h1M682 146h1M685 146h1M688 146h2M694 146h1M703 146h1M671 147h1M678 147h1M680 147h1M683 147h1M686 147h2M689 147h2M693 147h1M696 147h1M703 147h1M671 148h1M673 148h2M677 148h3M685 148h1M693 148h1M696 148h1M663 149h1M666 149h2M674 149h1M677 149h1M683 149h1M689 149h1M694 149h1M697 149h1M663 150h1M666 150h2M674 150h1M677 150h1M679 150h1M682 150h1M687 150h1M689 150h2M701 150h1M706 150h1M642 151h1M649 151h1M666 151h2M676 151h1M681 151h1M683 151h1M687 151h1M703 151h1M705 151h1M653 152h2M660 152h1M668 152h1M670 152h1M675 152h1M683 152h1M651 153h2M657 153h1M659 153h1M671 153h1M675 153h1M678 153h1M681 153h1M683 153h1M685 153h1M692 153h1M697 153h2M626 154h1M643 154h1M654 154h1M656 154h1M665 154h1M668 154h1M687 154h1M692 154h1M698 154h1M653 155h1M659 155h2M665 155h1M667 155h1M672 155h2M676 155h1M681 155h1M696 155h1M656 156h2M661 156h1M663 156h1M668 156h2M675 156h1M682 156h1M691 156h1M706 156h1M762 156h1M769 156h1M635 157h1M646 157h1M652 157h2M659 157h1M663 157h1M665 157h1M669 157h1M673 157h1M676 157h1M694 157h1M764 157h1M644 158h1M648 158h1M654 158h1M656 158h1M659 158h1M661 158h1M663 158h1M666 158h2M673 158h1M676 158h1M688 158h1M751 158h1M636 159h1M638 159h1M652 159h1M654 159h1M658 159h2M661 159h3M667 159h1M678 159h2M681 159h2M690 159h1M632 160h1M640 160h1M643 160h1M648 160h1M652 160h1M654 160h1M660 160h1M662 160h1M667 160h1M670 160h2M673 160h1M676 160h1M679 160h1M682 160h1M697 160h1M629 161h1M636 161h1M642 161h1M647 161h1M650 161h1M657 161h1M659 161h2M662 161h4M671 161h1M674 161h1M681 161h1M695 161h1M765 161h1M631 162h2M635 162h1M640 162h1M644 162h1M646 162h1M649 162h1M653 162h1M660 162h1M662 162h2M668 162h2M674 162h1M677 162h1M682 162h2M686 162h1M695 162h1M699 162h2M706 162h1M720 162h1M725 162h1M768 162h1M607 163h1M629 163h1M633 163h1M636 163h3M643 163h2M646 163h3M657 163h8M668 163h2M671 163h1M673 163h2M682 163h1M719 163h1M748 163h1M628 164h2M631 164h1M637 164h1M640 164h1M643 164h1M645 164h1M648 164h3M652 164h6M660 164h2M663 164h1M665 164h1M668 164h2M671 164h1M673 164h1M679 164h1M681 164h1M759 164h1M625 165h1M629 165h1M640 165h1M644 165h3M648 165h4M653 165h1M655 165h9M665 165h1M667 165h1M670 165h3M675 165h2M681 165h1M621 166h1M623 166h1M629 166h2M635 166h1M638 166h1M640 166h1M642 166h1M644 166h3M648 166h2M652 166h11M664 166h2M670 166h2M675 166h1M677 166h1M681 166h2M741 166h1M629 167h1M635 167h1M638 167h2M641 167h1M643 167h5M649 167h3M653 167h5M659 167h1M661 167h2M664 167h1M666 167h2M671 167h3M675 167h2M684 167h2M694 167h1M701 167h1M631 168h2M639 168h3M643 168h1M645 168h3M649 168h6M656 168h7M664 168h4M670 168h1M674 168h1M677 168h3M602 169h1M611 169h1M621 169h1M628 169h1M630 169h1M633 169h4M641 169h2M644 169h7M652 169h14M667 169h3M671 169h6M680 169h2M684 169h1M692 169h2M616 170h1M620 170h1M624 170h1M633 170h2M636 170h1M638 170h1M641 170h4M646 170h19M667 170h5M674 170h1M679 170h1M683 170h1M688 170h1M699 170h1M745 170h1M610 171h1M614 171h1M618 171h1M620 171h1M623 171h1M627 171h2M630 171h1M633 171h2M636 171h4M641 171h2M644 171h1M646 171h24M671 171h1M673 171h2M676 171h1M678 171h1M680 171h2M689 171h1M716 171h1M748 171h1M600 172h1M621 172h1M624 172h1M626 172h1M629 172h1M634 172h3M638 172h3M642 172h26M669 172h4M674 172h1M679 172h3M690 172h2M721 172h1M634 173h1M638 173h2M641 173h4M646 173h14M661 173h8M670 173h2M673 173h2M676 173h2M683 173h1M701 173h1M734 173h1M739 173h1M763 173h1M604 174h1M619 174h1M623 174h1M626 174h3M630 174h1M635 174h4M640 174h9M650 174h18M669 174h3M673 174h5M679 174h1M681 174h1M683 174h1M685 174h2M691 174h2M699 174h1M702 174h1M723 174h1M738 174h1M622 175h1M628 175h2M631 175h3M636 175h36M673 175h4M680 175h1M683 175h1M690 175h2M702 175h1M711 175h1M714 175h1M621 176h1M623 176h1M627 176h1M630 176h1M632 176h8M641 176h32M674 176h2M677 176h2M682 176h1M684 176h1M686 176h1M690 176h1M763 176h1M606 177h1M609 177h1M620 177h2M624 177h1M626 177h1M628 177h1M630 177h1M634 177h2M637 177h31M669 177h2M672 177h4M678 177h5M684 177h1M701 177h1M711 177h1M766 177h1M606 178h1M611 178h1M620 178h1M627 178h3M632 178h1M634 178h1M636 178h39M676 178h1M678 178h1M680 178h4M690 178h1M697 178h1M609 179h1M616 179h1M624 179h1M628 179h1M631 179h2M634 179h38M673 179h2M677 179h1M679 179h2M683 179h2M717 179h1M614 180h1M621 180h1M627 180h1M629 180h2M632 180h36M669 180h5M677 180h1M680 180h1M682 180h1M685 180h1M699 180h2M704 180h1M713 180h1M733 180h1M611 181h1M613 181h1M620 181h2M628 181h1M630 181h5M637 181h39M679 181h3M683 181h2M689 181h1M693 181h1M697 181h1M701 181h1M764 181h1M619 182h1M623 182h1M625 182h45M671 182h5M677 182h6M684 182h1M687 182h1M690 182h2M695 182h1M607 183h1M614 183h1M617 183h1M624 183h1M627 183h1M629 183h37M667 183h9M677 183h1M680 183h3M690 183h2M695 183h1M697 183h1M702 183h1M704 183h1M706 183h1M714 183h1M718 183h1M603 184h1M615 184h2M621 184h1M626 184h2M629 184h40M670 184h2M674 184h3M681 184h1M683 184h1M685 184h1M688 184h1M716 184h1M606 185h2M620 185h3M625 185h1M629 185h7M637 185h38M676 185h1M678 185h1M680 185h2M685 185h2M689 185h2M693 185h1M765 185h1M604 186h1M608 186h1M618 186h2M623 186h1M629 186h3M633 186h2M636 186h2M639 186h36M676 186h1M678 186h1M680 186h2M683 186h1M687 186h1M690 186h1M693 186h1M707 186h1M756 186h1M612 187h1M615 187h3M622 187h1M624 187h1M626 187h3M630 187h1M632 187h2M635 187h1M637 187h34M672 187h2M675 187h1M679 187h1M682 187h3M694 187h1M701 187h1M707 187h1M602 188h1M604 188h1M607 188h1M620 188h1M625 188h1M628 188h1M630 188h1M633 188h14M648 188h29M680 188h4M685 188h1M695 188h1M699 188h1M706 188h1M717 188h1M610 189h1M620 189h2M624 189h1M626 189h1M628 189h2M631 189h43M675 189h1M677 189h2M689 189h2M698 189h1M711 189h2M754 189h1M613 190h1M617 190h1M620 190h1M623 190h1M625 190h1M628 190h5M634 190h31M666 190h10M677 190h2M685 190h1M687 190h1M711 190h1M754 190h1M614 191h1M622 191h3M628 191h41M670 191h1M673 191h1M675 191h2M680 191h1M683 191h1M693 191h1M704 191h1M611 192h1M613 192h2M617 192h1M622 192h2M626 192h2M630 192h1M632 192h3M636 192h29M666 192h5M673 192h5M679 192h1M689 192h1M694 192h1M706 192h1M769 192h1M614 193h4M624 193h3M628 193h3M633 193h4M638 193h5M644 193h26M674 193h6M682 193h1M688 193h1M698 193h1M703 193h1M606 194h1M623 194h1M625 194h4M631 194h3M635 194h1M638 194h30M670 194h2M674 194h1M704 194h1M710 194h1M763 194h1M603 195h1M608 195h1M612 195h1M617 195h1M623 195h1M627 195h3M631 195h2M634 195h24M659 195h6M667 195h4M672 195h1M675 195h1M678 195h1M680 195h1M682 195h1M685 195h1M702 195h1M738 195h1M745 195h1M621 196h1M623 196h1M626 196h1M628 196h2M631 196h1M633 196h7M641 196h20M662 196h2M665 196h6M672 196h1M674 196h3M686 196h1M705 196h1M760 196h1M603 197h1M624 197h1M626 197h1M630 197h1M633 197h2M637 197h28M666 197h1M668 197h2M674 197h1M680 197h1M690 197h1M718 197h1M722 197h1M608 198h1M613 198h1M618 198h1M628 198h1M631 198h1M633 198h2M637 198h7M645 198h21M667 198h5M675 198h1M678 198h1M684 198h1M722 198h1M728 198h1M604 199h1M618 199h1M628 199h1M632 199h8M641 199h6M648 199h12M661 199h4M667 199h1M669 199h1M673 199h1M675 199h1M678 199h1M681 199h1M706 199h1M720 199h1M743 199h1M607 200h1M619 200h1M622 200h2M629 200h2M632 200h2M636 200h2M639 200h4M644 200h11M656 200h6M663 200h3M668 200h3M678 200h1M681 200h2M710 200h1M720 200h1M746 200h1M626 201h3M635 201h2M638 201h1M643 201h4M648 201h2M651 201h8M660 201h3M668 201h2M671 201h1M675 201h1M630 202h1M632 202h4M637 202h3M641 202h5M648 202h4M656 202h7M664 202h5M671 202h2M687 202h1M695 202h1M704 202h1M751 202h1M622 203h3M632 203h2M635 203h1M638 203h1M640 203h5M647 203h2M650 203h3M655 203h1M657 203h1M660 203h2M665 203h2M674 203h1M708 203h1M720 203h1M607 204h1M609 204h1M636 204h2M645 204h3M651 204h3M655 204h2M658 204h2M664 204h3M670 204h3M674 204h1M709 204h1M755 204h1M619 205h2M625 205h1M628 205h4M637 205h1M640 205h2M644 205h1M647 205h4M657 205h2M660 205h1M662 205h1M664 205h1M667 205h1M669 205h1M674 205h1M676 205h1M689 205h1M730 205h1M738 205h1M617 206h1M625 206h1M628 206h1M630 206h2M633 206h1M635 206h5M645 206h3M650 206h1M653 206h3M657 206h3M664 206h1M667 206h1M715 206h1M724 206h1M627 207h1M633 207h2M639 207h2M643 207h1M646 207h6M654 207h1M663 207h1M668 207h1M723 207h1M617 208h1M638 208h1M642 208h1M645 208h1M647 208h1M650 208h1M652 208h1M656 208h2M659 208h1M667 208h1M616 209h1M624 209h2M643 209h1M648 209h1M654 209h1M687 209h1M695 209h2M700 209h1M715 209h1M630 210h1M632 210h1M654 210h1M605 211h1M614 211h1M628 211h1M633 211h1M638 211h1M656 211h1M663 211h1M747 211h1M635 212h1M645 212h1M647 212h1M656 212h1M662 212h1M715 212h1M629 213h1M635 213h1M656 213h1M667 213h1M721 213h1M734 213h1M603 214h1M631 214h1M638 214h1M641 214h1M712 214h1M722 214h1M707 215h1M762 215h1M600 216h1" stroke="#1c1c1c" stroke-width="1" fill="none" transform="translate(0 .5)"/>
<rect x="596.7" y="42.6" width="175.5" height="176" fill="none" stroke="#222" stroke-width="1.2"/>
<line x1="682.3" y1="42.6" x2="682.3" y2="218.6" stroke="#222" stroke-width="1.1"/>
<line x1="596.7" y1="154.1" x2="772.2" y2="154.1" stroke="#222" stroke-width="1.1"/>
<path d="M596.7 218.6h-4M596.7 208.0h-2.5M596.7 201.8h-2.5M596.7 197.4h-2.5M596.7 194.0h-2.5M596.7 191.2h-2.5M596.7 188.9h-2.5M596.7 186.8h-2.5M596.7 185.0h-2.5M596.7 183.4h-4M596.7 172.8h-2.5M596.7 166.6h-2.5M596.7 162.2h-2.5M596.7 158.8h-2.5M596.7 156.0h-2.5M596.7 153.7h-2.5M596.7 151.6h-2.5M596.7 149.8h-2.5M596.7 148.2h-4M596.7 137.6h-2.5M596.7 131.4h-2.5M596.7 127.0h-2.5M596.7 123.6h-2.5M596.7 120.8h-2.5M596.7 118.5h-2.5M596.7 116.4h-2.5M596.7 114.6h-2.5M596.7 113h-4M596.7 102.4h-2.5M596.7 96.2h-2.5M596.7 91.8h-2.5M596.7 88.4h-2.5M596.7 85.6h-2.5M596.7 83.3h-2.5M596.7 81.2h-2.5M596.7 79.4h-2.5M596.7 77.8h-4M596.7 67.2h-2.5M596.7 61.0h-2.5M596.7 56.6h-2.5M596.7 53.2h-2.5M596.7 50.4h-2.5M596.7 48.1h-2.5M596.7 46.0h-2.5M596.7 44.2h-2.5M596.7 218.6v4M607.3 218.6v2.5M613.4 218.6v2.5M617.8 218.6v2.5M621.2 218.6v2.5M624.0 218.6v2.5M626.4 218.6v2.5M628.4 218.6v2.5M630.2 218.6v2.5M631.8 218.6v4M642.4 218.6v2.5M648.5 218.6v2.5M652.9 218.6v2.5M656.3 218.6v2.5M659.1 218.6v2.5M661.5 218.6v2.5M663.5 218.6v2.5M665.3 218.6v2.5M666.9 218.6v4M677.5 218.6v2.5M683.6 218.6v2.5M688.0 218.6v2.5M691.4 218.6v2.5M694.2 218.6v2.5M696.6 218.6v2.5M698.6 218.6v2.5M700.4 218.6v2.5M702 218.6v4M712.6 218.6v2.5M718.7 218.6v2.5M723.1 218.6v2.5M726.5 218.6v2.5M729.3 218.6v2.5M731.7 218.6v2.5M733.7 218.6v2.5M735.5 218.6v2.5M737.1 218.6v4M747.7 218.6v2.5M753.8 218.6v2.5M758.2 218.6v2.5M761.6 218.6v2.5M764.4 218.6v2.5M766.8 218.6v2.5M768.8 218.6v2.5M770.6 218.6v2.5M772.2 218.6v4" stroke="#333" stroke-width=".8" fill="none"/>
<text x="599.3" y="55.6" font-family="'Liberation Sans', sans-serif" font-size="8.9" fill="#222" textLength="60.0" lengthAdjust="spacingAndGlyphs">Q1-UL(0.52%)</text>
<text x="769.6" y="55.6" font-family="'Liberation Sans', sans-serif" font-size="8.9" text-anchor="end" fill="#222" textLength="66.7" lengthAdjust="spacingAndGlyphs">Q1-UR(53.39%)</text>
<text x="599.3" y="214.1" font-family="'Liberation Sans', sans-serif" font-size="8.9" fill="#222" textLength="63.6" lengthAdjust="spacingAndGlyphs">Q1-LL(44.87%)</text>
<text x="769.6" y="214.1" font-family="'Liberation Sans', sans-serif" font-size="8.9" text-anchor="end" fill="#222" textLength="60.0" lengthAdjust="spacingAndGlyphs">Q1-LR(1.22%)</text>
<text x="591.2" y="62.6" font-family="'Liberation Serif', serif" font-size="13.3" text-anchor="end" fill="#222">10<tspan font-size="9.5" dy="-5">5</tspan></text>
<text x="591.2" y="223.6" font-family="'Liberation Serif', serif" font-size="13.3" text-anchor="end" fill="#222">10<tspan font-size="9.5" dy="-5">0</tspan></text>
<text x="597.7" y="235.8" font-family="'Liberation Serif', serif" font-size="13.3" text-anchor="middle" fill="#222">10<tspan font-size="8.5" dy="-4.5">0</tspan></text>
<text x="774.2" y="235.8" font-family="'Liberation Serif', serif" font-size="13.3" text-anchor="middle" fill="#222">10<tspan font-size="8.5" dy="-4.5">5</tspan></text>
<path d="M172 315h1M189 316h1M196 316h1M183 317h1M189 317h1M191 317h1M199 317h1M263 317h1M287 317h1M318 317h1M165 318h1M171 318h2M174 318h2M182 318h4M187 318h1M194 318h1M233 318h1M256 318h2M262 318h1M266 318h1M167 319h1M172 319h3M195 319h1M202 319h1M238 319h1M245 319h1M252 319h1M267 319h1M271 319h1M276 319h1M165 320h1M168 320h1M171 320h2M174 320h3M183 320h2M187 320h1M192 320h1M198 320h1M201 320h1M237 320h1M291 320h1M305 320h1M328 320h1M168 321h1M171 321h1M174 321h1M189 321h1M235 321h1M238 321h1M248 321h1M256 321h1M272 321h1M274 321h1M169 322h1M173 322h2M177 322h3M183 322h1M191 322h2M271 322h1M165 323h1M167 323h1M169 323h2M172 323h3M176 323h1M181 323h2M185 323h1M188 323h1M194 323h3M218 323h1M245 323h1M263 323h1M280 323h1M288 323h1M295 323h1M298 323h1M166 324h1M168 324h8M179 324h3M183 324h2M189 324h1M191 324h1M201 324h1M246 324h1M259 324h1M276 324h1M291 324h1M167 325h2M170 325h2M176 325h6M183 325h1M185 325h1M187 325h1M192 325h1M199 325h1M204 325h2M209 325h1M261 325h1M296 325h1M302 325h1M318 325h1M167 326h2M171 326h4M176 326h1M179 326h1M183 326h1M185 326h1M187 326h3M193 326h1M195 326h1M197 326h1M204 326h1M215 326h1M265 326h1M286 326h1M288 326h1M332 326h1M167 327h1M170 327h2M173 327h2M176 327h4M181 327h2M186 327h3M190 327h2M197 327h1M202 327h1M210 327h1M225 327h1M266 327h1M275 327h1M280 327h1M289 327h1M297 327h1M165 328h1M167 328h2M170 328h8M179 328h4M184 328h2M187 328h4M192 328h1M196 328h2M199 328h4M236 328h1M166 329h2M170 329h6M177 329h2M180 329h14M195 329h4M201 329h2M207 329h1M214 329h1M218 329h1M258 329h2M267 329h1M314 329h1M165 330h2M168 330h10M179 330h11M191 330h1M193 330h2M197 330h2M200 330h2M205 330h1M227 330h1M263 330h1M267 330h1M285 330h1M165 331h2M170 331h9M181 331h3M185 331h1M187 331h10M198 331h4M209 331h1M214 331h1M225 331h1M246 331h1M269 331h1M278 331h1M301 331h1M305 331h1M311 331h1M165 332h2M169 332h1M171 332h4M176 332h15M192 332h9M202 332h4M220 332h2M243 332h1M255 332h1M260 332h1M268 332h1M278 332h1M283 332h1M290 332h1M294 332h1M299 332h1M165 333h4M170 333h2M173 333h3M177 333h1M179 333h15M195 333h1M197 333h5M203 333h2M207 333h1M210 333h2M215 333h1M222 333h1M224 333h2M229 333h1M242 333h1M254 333h1M279 333h1M289 333h1M328 333h1M165 334h30M196 334h1M198 334h3M203 334h2M211 334h1M221 334h1M224 334h1M272 334h1M280 334h1M288 334h1M165 335h1M169 335h6M176 335h16M193 335h6M202 335h3M208 335h4M214 335h1M222 335h1M228 335h1M264 335h1M288 335h1M165 336h1M167 336h2M170 336h30M201 336h8M210 336h1M215 336h1M221 336h1M239 336h1M259 336h2M273 336h1M289 336h1M166 337h1M168 337h1M171 337h5M177 337h23M201 337h5M207 337h2M211 337h1M215 337h1M218 337h1M229 337h1M233 337h1M239 337h1M243 337h1M245 337h1M270 337h1M281 337h1M297 337h1M165 338h1M169 338h3M174 338h3M178 338h25M205 338h1M208 338h2M212 338h2M217 338h1M220 338h1M225 338h1M229 338h1M243 338h1M249 338h1M253 338h1M301 338h1M330 338h1M167 339h5M173 339h22M196 339h11M212 339h1M214 339h1M218 339h1M221 339h1M230 339h1M236 339h1M258 339h1M261 339h1M269 339h1M271 339h1M273 339h1M301 339h2M166 340h1M168 340h35M204 340h3M208 340h4M213 340h2M221 340h2M234 340h1M241 340h1M269 340h2M282 340h2M297 340h1M315 340h1M168 341h2M171 341h32M204 341h5M210 341h1M212 341h4M218 341h2M224 341h1M248 341h1M253 341h1M260 341h1M263 341h1M302 341h1M329 341h2M166 342h2M169 342h2M172 342h43M216 342h2M221 342h2M224 342h1M230 342h1M232 342h1M249 342h1M251 342h1M259 342h1M263 342h1M265 342h1M273 342h1M277 342h1M279 342h3M287 342h1M291 342h1M293 342h1M296 342h1M324 342h1M165 343h1M167 343h2M171 343h33M205 343h2M208 343h1M210 343h1M212 343h1M218 343h1M222 343h1M226 343h1M232 343h1M245 343h1M252 343h1M269 343h1M287 343h1M293 343h1M296 343h1M165 344h1M168 344h1M171 344h1M173 344h6M180 344h32M213 344h1M216 344h2M235 344h2M250 344h1M253 344h1M268 344h1M293 344h1M165 345h1M167 345h1M169 345h2M172 345h41M215 345h2M218 345h1M220 345h2M230 345h1M237 345h1M243 345h1M253 345h2M263 345h1M269 345h1M279 345h1M292 345h1M302 345h1M312 345h1M321 345h1M165 346h1M167 346h2M170 346h38M209 346h4M214 346h1M219 346h2M224 346h2M231 346h1M250 346h1M255 346h1M259 346h1M263 346h1M274 346h1M279 346h1M292 346h2M316 346h1M165 347h1M167 347h51M220 347h1M222 347h1M225 347h1M227 347h1M249 347h1M254 347h1M259 347h1M265 347h1M278 347h1M282 347h2M285 347h1M294 347h1M311 347h1M165 348h1M169 348h3M173 348h5M180 348h30M211 348h6M218 348h1M221 348h1M226 348h2M230 348h1M234 348h1M239 348h1M255 348h1M262 348h1M264 348h1M269 348h1M277 348h2M165 349h1M168 349h2M171 349h1M174 349h1M176 349h1M178 349h39M218 349h4M237 349h2M253 349h1M278 349h1M290 349h1M293 349h1M301 349h1M168 350h1M172 350h1M174 350h1M177 350h42M221 350h4M226 350h1M238 350h1M242 350h1M246 350h1M248 350h1M258 350h1M277 350h1M280 350h1M316 350h2M319 350h1M166 351h2M169 351h1M172 351h1M174 351h1M176 351h2M179 351h32M212 351h3M216 351h6M223 351h2M229 351h1M247 351h1M251 351h1M253 351h1M264 351h1M286 351h1M300 351h1M304 351h1M167 352h1M169 352h1M173 352h6M180 352h43M224 352h1M243 352h1M258 352h1M261 352h1M267 352h1M275 352h1M280 352h1M284 352h1M296 352h1M298 352h1M325 352h1M166 353h1M172 353h2M176 353h1M179 353h6M187 353h25M213 353h4M219 353h1M224 353h3M228 353h2M232 353h1M242 353h1M253 353h1M258 353h1M264 353h1M269 353h1M278 353h1M285 353h1M288 353h1M292 353h1M320 353h1M166 354h1M177 354h1M179 354h35M215 354h3M219 354h2M225 354h3M230 354h2M234 354h1M236 354h1M244 354h2M247 354h1M249 354h1M258 354h1M260 354h1M263 354h1M266 354h1M272 354h1M274 354h1M276 354h1M279 354h1M290 354h2M293 354h1M298 354h1M301 354h1M304 354h1M329 354h1M168 355h1M170 355h1M172 355h1M174 355h5M180 355h36M217 355h6M226 355h1M228 355h1M234 355h1M237 355h1M243 355h1M245 355h2M251 355h2M264 355h1M269 355h1M271 355h1M281 355h1M284 355h1M293 355h1M319 355h1M167 356h1M169 356h1M171 356h1M176 356h3M181 356h1M183 356h28M212 356h9M225 356h1M227 356h1M232 356h1M236 356h1M239 356h1M243 356h1M249 356h1M251 356h1M255 356h1M259 356h1M267 356h1M269 356h2M278 356h1M282 356h1M284 356h1M175 357h1M178 357h1M181 357h36M219 357h1M221 357h4M226 357h2M241 357h1M249 357h2M255 357h1M260 357h1M268 357h2M274 357h1M277 357h1M286 357h1M290 357h1M300 357h1M312 357h1M170 358h3M176 358h1M178 358h1M180 358h1M184 358h32M217 358h6M224 358h3M229 358h1M232 358h2M236 358h2M239 358h1M241 358h1M246 358h1M248 358h1M254 358h1M264 358h2M267 358h1M273 358h1M275 358h1M279 358h1M290 358h1M303 358h1M311 358h1M315 358h1M170 359h1M175 359h1M178 359h2M183 359h35M219 359h5M229 359h1M231 359h1M234 359h2M244 359h1M250 359h2M256 359h2M272 359h1M274 359h1M172 360h1M175 360h1M178 360h2M181 360h1M183 360h5M190 360h2M193 360h22M218 360h2M223 360h2M227 360h1M229 360h2M234 360h1M239 360h1M258 360h1M260 360h1M262 360h1M264 360h1M266 360h1M270 360h3M281 360h1M285 360h1M297 360h1M302 360h1M304 360h2M312 360h1M316 360h1M170 361h1M172 361h1M177 361h1M179 361h2M182 361h2M185 361h1M188 361h17M207 361h13M221 361h2M224 361h1M229 361h2M232 361h1M235 361h1M239 361h1M242 361h1M246 361h1M251 361h1M253 361h1M255 361h1M267 361h1M272 361h1M274 361h1M277 361h2M280 361h1M288 361h1M181 362h1M186 362h5M192 362h22M216 362h4M221 362h2M225 362h3M230 362h1M245 362h2M248 362h1M253 362h1M261 362h1M263 362h1M280 362h1M283 362h1M285 362h1M298 362h1M305 362h1M310 362h1M174 363h1M176 363h3M180 363h3M186 363h6M193 363h6M200 363h9M210 363h4M215 363h10M226 363h1M233 363h2M239 363h1M249 363h3M261 363h1M267 363h3M273 363h1M278 363h1M280 363h1M284 363h1M292 363h1M173 364h2M179 364h1M181 364h1M185 364h1M187 364h1M190 364h1M192 364h4M198 364h15M214 364h5M220 364h6M229 364h1M244 364h3M252 364h1M254 364h1M257 364h1M260 364h2M263 364h2M270 364h1M273 364h1M275 364h2M279 364h2M287 364h4M293 364h1M295 364h1M297 364h1M308 364h1M324 364h1M173 365h2M181 365h1M183 365h1M188 365h1M190 365h1M192 365h1M194 365h3M198 365h1M201 365h7M209 365h4M214 365h2M218 365h2M223 365h1M225 365h1M227 365h1M230 365h1M232 365h2M238 365h1M241 365h1M245 365h1M249 365h1M251 365h1M255 365h2M259 365h1M262 365h1M264 365h1M273 365h1M276 365h1M278 365h1M286 365h1M298 365h1M302 365h1M306 365h1M324 365h1M328 365h1M178 366h1M182 366h1M191 366h1M194 366h4M200 366h5M206 366h5M212 366h5M218 366h1M221 366h2M225 366h4M235 366h2M239 366h1M251 366h2M256 366h1M259 366h1M270 366h1M276 366h1M280 366h1M283 366h1M289 366h1M297 366h1M307 366h1M312 366h1M171 367h1M182 367h1M184 367h1M188 367h2M192 367h8M201 367h4M206 367h4M211 367h2M214 367h1M216 367h2M220 367h2M223 367h1M227 367h1M231 367h5M246 367h1M254 367h2M259 367h2M262 367h1M265 367h1M275 367h1M281 367h1M283 367h1M287 367h1M292 367h1M296 367h1M300 367h1M176 368h1M179 368h1M188 368h2M194 368h1M197 368h12M210 368h6M217 368h2M220 368h3M224 368h1M230 368h2M247 368h1M249 368h1M256 368h1M263 368h1M265 368h2M270 368h2M276 368h2M281 368h1M295 368h1M183 369h1M186 369h2M190 369h3M194 369h1M196 369h2M199 369h1M201 369h3M205 369h2M208 369h2M211 369h6M223 369h1M225 369h1M227 369h1M229 369h2M237 369h1M245 369h1M254 369h1M260 369h1M263 369h1M267 369h1M278 369h1M285 369h1M296 369h1M313 369h1M190 370h4M196 370h1M198 370h3M203 370h1M206 370h1M209 370h7M217 370h2M221 370h3M227 370h1M231 370h1M241 370h1M243 370h1M245 370h1M248 370h1M267 370h1M275 370h1M283 370h2M287 370h1M294 370h1M300 370h2M314 370h1M325 370h1M188 371h1M192 371h1M194 371h3M198 371h1M200 371h1M202 371h3M207 371h3M211 371h2M216 371h4M221 371h2M225 371h4M230 371h3M234 371h1M240 371h1M261 371h1M271 371h2M283 371h1M317 371h1M189 372h1M196 372h5M205 372h2M209 372h1M211 372h1M214 372h1M216 372h3M221 372h1M229 372h3M234 372h1M236 372h1M238 372h1M242 372h1M249 372h1M256 372h1M258 372h1M265 372h1M275 372h2M278 372h3M282 372h2M333 372h1M184 373h1M190 373h1M192 373h1M201 373h1M205 373h3M209 373h2M213 373h3M220 373h1M222 373h1M226 373h1M228 373h1M233 373h4M239 373h1M254 373h3M263 373h2M282 373h1M285 373h1M296 373h1M298 373h1M301 373h2M306 373h1M178 374h1M193 374h1M195 374h1M197 374h1M199 374h1M207 374h2M213 374h1M215 374h3M219 374h2M224 374h2M233 374h1M235 374h1M251 374h1M263 374h1M265 374h1M267 374h1M273 374h1M275 374h1M283 374h1M287 374h1M311 374h1M313 374h1M193 375h1M200 375h4M207 375h1M209 375h2M212 375h1M215 375h1M217 375h4M225 375h1M232 375h2M239 375h1M243 375h1M249 375h2M253 375h3M259 375h3M270 375h2M277 375h1M293 375h2M306 375h1M184 376h2M190 376h1M192 376h1M195 376h1M197 376h1M207 376h2M216 376h1M222 376h2M225 376h2M230 376h1M239 376h3M253 376h1M258 376h1M263 376h2M267 376h1M272 376h1M275 376h1M277 376h2M284 376h1M295 376h1M302 376h1M310 376h1M189 377h1M191 377h1M198 377h1M205 377h1M210 377h1M215 377h1M219 377h1M221 377h2M225 377h3M239 377h1M242 377h1M256 377h1M258 377h2M261 377h1M264 377h1M267 377h1M271 377h1M275 377h1M277 377h1M281 377h1M283 377h1M293 377h2M310 377h1M189 378h1M210 378h1M215 378h3M219 378h1M222 378h1M224 378h1M230 378h1M232 378h1M238 378h1M241 378h1M247 378h1M254 378h1M259 378h1M268 378h1M273 378h1M276 378h1M291 378h1M296 378h1M316 378h1M321 378h1M169 379h1M187 379h1M192 379h1M209 379h1M212 379h1M217 379h1M223 379h2M230 379h1M240 379h1M248 379h2M258 379h1M264 379h1M269 379h1M271 379h2M278 379h1M290 379h1M300 379h1M302 379h1M313 379h1M165 380h1M183 380h1M189 380h1M210 380h1M216 380h1M227 380h1M231 380h1M234 380h1M236 380h1M241 380h1M243 380h1M247 380h3M251 380h4M257 380h2M262 380h2M276 380h1M280 380h1M284 380h1M290 380h1M299 380h1M334 380h1M202 381h1M211 381h1M214 381h1M216 381h1M228 381h1M231 381h1M235 381h1M239 381h2M245 381h1M250 381h1M261 381h1M274 381h1M284 381h1M298 381h1M192 382h1M206 382h1M227 382h2M241 382h1M243 382h1M248 382h1M264 382h1M268 382h1M278 382h1M284 382h1M288 382h2M291 382h1M304 382h1M200 383h1M222 383h1M228 383h1M232 383h1M235 383h1M239 383h1M243 383h1M246 383h1M252 383h1M255 383h3M259 383h1M261 383h1M273 383h1M282 383h1M284 383h3M289 383h1M294 383h1M199 384h1M214 384h1M218 384h1M232 384h1M246 384h1M261 384h1M264 384h1M292 384h2M295 384h1M304 384h1M325 384h1M201 385h1M220 385h1M225 385h1M243 385h2M256 385h1M269 385h2M284 385h1M289 385h1M309 385h1M335 385h1M211 386h1M220 386h1M241 386h1M246 386h1M253 386h4M263 386h1M266 386h1M271 386h1M288 386h2M224 387h1M234 387h1M238 387h1M241 387h1M259 387h1M261 387h1M270 387h1M272 387h1M274 387h2M278 387h1M281 387h1M290 387h1M299 387h1M304 387h1M330 387h1M226 388h1M229 388h1M246 388h1M254 388h1M257 388h3M265 388h1M267 388h1M277 388h1M279 388h1M289 388h2M309 388h1M313 388h1M320 388h1M187 389h1M222 389h1M235 389h1M243 389h2M246 389h1M264 389h1M275 389h2M281 389h1M285 389h1M193 390h1M225 390h1M228 390h1M243 390h1M246 390h2M251 390h1M253 390h1M255 390h1M257 390h1M262 390h1M265 390h1M274 390h1M279 390h1M281 390h1M283 390h1M302 390h1M199 391h1M230 391h2M239 391h1M249 391h1M251 391h1M258 391h1M272 391h1M304 391h1M240 392h1M256 392h1M259 392h1M262 392h1M288 392h2M311 392h1M216 393h1M231 393h1M250 393h1M252 393h1M255 393h1M259 393h1M269 393h1M280 393h2M283 393h1M322 393h1M229 394h1M231 394h1M235 394h1M245 394h1M258 394h1M270 394h1M275 394h1M288 394h1M303 394h1M324 394h2M233 395h1M243 395h1M250 395h1M261 395h1M272 395h1M287 395h1M290 395h1M293 395h1M241 396h1M248 396h1M253 396h1M262 396h1M297 396h1M234 397h1M241 397h1M252 397h1M270 397h1M278 397h1M284 397h1M290 397h1M296 397h1M302 397h1M307 397h1M320 397h1M232 398h1M238 398h1M240 398h1M246 398h1M250 398h2M255 398h1M265 398h2M278 398h1M284 398h1M288 398h1M293 398h1M311 398h1M182 399h1M222 399h1M240 399h1M242 399h1M263 399h1M270 399h1M294 399h1M300 399h1M247 400h1M267 400h1M269 400h1M278 400h1M291 400h1M241 401h1M287 401h1M290 401h1M302 401h1M308 401h1M316 401h1M239 402h1M257 402h1M260 402h2M270 402h1M274 402h1M276 402h1M299 402h1M305 402h1M232 403h1M256 403h2M262 403h2M268 403h1M212 404h1M250 404h1M287 404h1M289 404h1M292 404h1M229 405h1M232 405h1M235 405h2M242 405h1M290 405h2M296 405h1M239 406h1M245 406h1M252 406h1M259 406h1M262 406h1M286 406h1M213 407h1M253 407h1M263 407h1M276 407h1M279 407h1M291 407h1M293 407h1M212 408h1M223 408h1M256 408h1M261 408h1M281 408h1M240 409h1M264 409h1M266 409h1M290 409h1M219 410h1M257 410h2M274 410h1M239 411h1M273 411h1M279 411h1M286 411h1M299 411h1M295 413h1M260 414h1M300 414h1M303 414h1M252 415h1M271 415h1M259 416h1M303 416h1M261 417h1M269 417h1M292 417h1M296 417h1M249 418h1M229 419h1M254 419h1M270 419h1M228 420h1M246 420h1M296 420h1M254 421h1M297 421h1M274 422h1M335 422h1M234 423h1M272 423h1M290 423h1M245 425h1M312 426h1M289 427h1" stroke="#1c1c1c" stroke-width="1" fill="none" transform="translate(0 .5)"/>
<rect x="164.3" y="253.4" width="174.7" height="175.2" fill="none" stroke="#222" stroke-width="1.2"/>
<line x1="230.3" y1="253.4" x2="230.3" y2="428.6" stroke="#222" stroke-width="1.1"/>
<line x1="164.3" y1="315.4" x2="339" y2="315.4" stroke="#222" stroke-width="1.1"/>
<path d="M164.3 428.6h-4M164.3 418.1h-2.5M164.3 411.9h-2.5M164.3 407.5h-2.5M164.3 404.1h-2.5M164.3 401.3h-2.5M164.3 399.0h-2.5M164.3 397.0h-2.5M164.3 395.2h-2.5M164.3 393.6h-4M164.3 383.0h-2.5M164.3 376.8h-2.5M164.3 372.5h-2.5M164.3 369.1h-2.5M164.3 366.3h-2.5M164.3 363.9h-2.5M164.3 361.9h-2.5M164.3 360.1h-2.5M164.3 358.5h-4M164.3 348.0h-2.5M164.3 341.8h-2.5M164.3 337.4h-2.5M164.3 334.0h-2.5M164.3 331.3h-2.5M164.3 328.9h-2.5M164.3 326.9h-2.5M164.3 325.1h-2.5M164.3 323.5h-4M164.3 312.9h-2.5M164.3 306.8h-2.5M164.3 302.4h-2.5M164.3 299.0h-2.5M164.3 296.2h-2.5M164.3 293.9h-2.5M164.3 291.8h-2.5M164.3 290.0h-2.5M164.3 288.4h-4M164.3 277.9h-2.5M164.3 271.7h-2.5M164.3 267.3h-2.5M164.3 263.9h-2.5M164.3 261.2h-2.5M164.3 258.8h-2.5M164.3 256.8h-2.5M164.3 255.0h-2.5M164.3 428.6v4M174.8 428.6v2.5M181.0 428.6v2.5M185.3 428.6v2.5M188.7 428.6v2.5M191.5 428.6v2.5M193.8 428.6v2.5M195.9 428.6v2.5M197.6 428.6v2.5M199.2 428.6v4M209.8 428.6v2.5M215.9 428.6v2.5M220.3 428.6v2.5M223.7 428.6v2.5M226.4 428.6v2.5M228.8 428.6v2.5M230.8 428.6v2.5M232.6 428.6v2.5M234.2 428.6v4M244.7 428.6v2.5M250.9 428.6v2.5M255.2 428.6v2.5M258.6 428.6v2.5M261.4 428.6v2.5M263.7 428.6v2.5M265.7 428.6v2.5M267.5 428.6v2.5M269.1 428.6v4M279.6 428.6v2.5M285.8 428.6v2.5M290.2 428.6v2.5M293.5 428.6v2.5M296.3 428.6v2.5M298.6 428.6v2.5M300.7 428.6v2.5M302.5 428.6v2.5M304.1 428.6v4M314.6 428.6v2.5M320.7 428.6v2.5M325.1 428.6v2.5M328.5 428.6v2.5M331.2 428.6v2.5M333.6 428.6v2.5M335.6 428.6v2.5M337.4 428.6v2.5M339 428.6v4" stroke="#333" stroke-width=".8" fill="none"/>
<text x="166.9" y="266.4" font-family="'Liberation Sans', sans-serif" font-size="8.9" fill="#222" textLength="60.0" lengthAdjust="spacingAndGlyphs">Q2-UL(0.00%)</text>
<text x="336.4" y="266.4" font-family="'Liberation Sans', sans-serif" font-size="8.9" text-anchor="end" fill="#222" textLength="61.5" lengthAdjust="spacingAndGlyphs">Q2-UR(0.16%)</text>
<text x="166.9" y="424.1" font-family="'Liberation Sans', sans-serif" font-size="8.9" fill="#222" textLength="63.6" lengthAdjust="spacingAndGlyphs">Q2-LL(85.57%)</text>
<text x="336.4" y="424.1" font-family="'Liberation Sans', sans-serif" font-size="8.9" text-anchor="end" fill="#222" textLength="65.1" lengthAdjust="spacingAndGlyphs">Q2-LR(14.27%)</text>
<text x="158.8" y="257.4" font-family="'Liberation Serif', serif" font-size="13.3" text-anchor="end" fill="#222">10<tspan font-size="9.5" dy="-5">5</tspan></text>
<text x="158.8" y="433.6" font-family="'Liberation Serif', serif" font-size="13.3" text-anchor="end" fill="#222">10<tspan font-size="9.5" dy="-5">0</tspan></text>
<text x="165.3" y="445.8" font-family="'Liberation Serif', serif" font-size="13.3" text-anchor="middle" fill="#222">10<tspan font-size="8.5" dy="-4.5">0</tspan></text>
<text x="341" y="445.8" font-family="'Liberation Serif', serif" font-size="13.3" text-anchor="middle" fill="#222">10<tspan font-size="8.5" dy="-4.5">5</tspan></text>
<path d="M483 301h1M468 304h1M451 309h1M465 311h1M412 312h1M491 315h1M386 318h3M395 318h1M423 318h1M474 318h1M488 318h1M511 318h1M384 319h1M387 319h1M389 319h1M395 319h1M401 319h2M442 319h1M455 319h1M462 319h1M488 319h1M386 320h3M390 320h1M392 320h1M398 320h1M413 320h1M418 320h1M458 320h1M464 320h1M467 320h1M470 320h1M483 320h1M546 320h1M384 321h1M386 321h1M388 321h1M390 321h2M393 321h1M397 321h2M400 321h1M404 321h1M414 321h1M423 321h1M440 321h1M449 321h1M461 321h1M471 321h1M482 321h1M485 321h1M493 321h1M507 321h1M512 321h1M517 321h1M383 322h1M387 322h6M406 322h1M410 322h1M414 322h1M482 322h1M494 322h1M497 322h1M383 323h2M387 323h3M391 323h2M398 323h4M404 323h1M408 323h2M450 323h1M494 323h1M383 324h1M386 324h1M392 324h3M399 324h1M401 324h2M436 324h1M465 324h1M473 324h2M502 324h1M505 324h1M528 324h1M547 324h1M386 325h1M388 325h2M392 325h1M398 325h2M402 325h2M405 325h1M407 325h1M409 325h2M412 325h1M461 325h1M471 325h1M474 325h1M480 325h1M485 325h1M490 325h1M533 325h1M383 326h2M386 326h8M396 326h1M399 326h6M406 326h1M408 326h1M410 326h1M413 326h1M421 326h1M466 326h1M479 326h2M492 326h3M501 326h1M504 326h1M521 326h1M383 327h3M388 327h6M395 327h1M397 327h1M400 327h2M404 327h4M412 327h1M415 327h1M418 327h1M444 327h1M463 327h1M474 327h1M490 327h2M497 327h1M383 328h4M389 328h4M395 328h4M400 328h1M402 328h3M406 328h1M412 328h2M418 328h1M424 328h1M427 328h1M430 328h1M436 328h1M460 328h1M466 328h1M472 328h1M474 328h1M480 328h1M489 328h2M503 328h1M509 328h1M525 328h1M536 328h1M383 329h2M386 329h13M400 329h1M403 329h5M411 329h2M419 329h1M421 329h1M440 329h1M457 329h1M462 329h1M484 329h1M544 329h1M383 330h3M387 330h6M395 330h3M400 330h6M407 330h1M410 330h2M414 330h1M416 330h2M420 330h1M422 330h1M430 330h1M473 330h1M482 330h1M488 330h1M490 330h2M502 330h1M509 330h1M512 330h1M519 330h1M532 330h1M383 331h4M388 331h12M401 331h3M405 331h3M411 331h1M413 331h3M417 331h2M420 331h1M422 331h1M447 331h1M462 331h1M464 331h1M470 331h1M472 331h2M479 331h1M490 331h1M495 331h2M383 332h10M394 332h10M405 332h10M418 332h2M468 332h1M480 332h1M485 332h1M527 332h1M548 332h1M383 333h6M390 333h14M405 333h6M412 333h1M417 333h1M419 333h1M459 333h1M473 333h1M483 333h1M489 333h1M492 333h1M494 333h3M500 333h1M532 333h1M383 334h4M388 334h17M406 334h3M410 334h1M413 334h2M416 334h2M423 334h1M461 334h1M463 334h2M470 334h1M477 334h1M481 334h1M483 334h1M490 334h2M505 334h2M509 334h1M540 334h1M383 335h4M388 335h28M418 335h4M423 335h1M427 335h1M436 335h1M439 335h1M460 335h1M468 335h1M470 335h1M477 335h2M493 335h1M501 335h1M504 335h1M506 335h2M511 335h1M514 335h1M516 335h1M548 335h1M383 336h3M387 336h10M398 336h8M407 336h10M418 336h4M423 336h1M430 336h1M440 336h1M446 336h1M453 336h1M456 336h1M462 336h1M464 336h1M469 336h1M483 336h1M508 336h1M386 337h1M388 337h28M418 337h1M420 337h1M423 337h1M430 337h1M456 337h1M459 337h1M463 337h1M465 337h1M474 337h1M482 337h1M485 337h1M489 337h1M492 337h2M495 337h1M507 337h1M535 337h1M384 338h3M388 338h32M421 338h1M423 338h1M428 338h1M436 338h1M445 338h1M458 338h1M466 338h1M480 338h1M482 338h1M491 338h1M499 338h1M504 338h1M516 338h2M524 338h1M383 339h35M419 339h3M424 339h2M437 339h1M441 339h1M445 339h1M450 339h1M456 339h1M459 339h1M464 339h1M471 339h2M477 339h1M479 339h2M488 339h1M495 339h1M499 339h1M502 339h1M529 339h1M383 340h1M385 340h31M417 340h1M419 340h1M421 340h3M425 340h1M429 340h1M440 340h1M450 340h1M456 340h2M467 340h2M473 340h1M476 340h1M478 340h1M481 340h1M485 340h1M487 340h1M495 340h1M498 340h1M508 340h1M515 340h1M522 340h1M541 340h1M384 341h31M416 341h6M423 341h2M428 341h1M430 341h1M432 341h1M449 341h1M451 341h1M458 341h1M477 341h1M488 341h1M495 341h1M512 341h1M517 341h1M527 341h1M383 342h38M425 342h4M430 342h1M432 342h1M434 342h2M441 342h2M448 342h1M450 342h1M457 342h1M463 342h1M472 342h1M474 342h1M477 342h1M483 342h2M489 342h1M516 342h1M383 343h38M423 343h3M427 343h1M431 343h1M435 343h2M444 343h1M462 343h2M490 343h1M503 343h1M505 343h1M520 343h1M547 343h1M383 344h2M386 344h38M427 344h2M442 344h2M446 344h1M448 344h2M466 344h1M472 344h1M474 344h1M478 344h1M480 344h2M483 344h2M486 344h1M490 344h1M492 344h3M496 344h1M498 344h1M522 344h1M541 344h1M383 345h2M386 345h1M388 345h35M425 345h5M436 345h1M439 345h1M444 345h2M449 345h1M453 345h1M455 345h2M458 345h1M462 345h1M470 345h1M472 345h1M479 345h1M481 345h1M492 345h1M499 345h2M509 345h2M517 345h2M384 346h3M388 346h36M425 346h3M429 346h1M432 346h1M434 346h1M437 346h1M451 346h2M454 346h1M464 346h1M466 346h1M468 346h1M471 346h2M474 346h1M488 346h1M492 346h1M499 346h1M501 346h1M504 346h2M510 346h1M524 346h1M529 346h2M383 347h8M392 347h29M422 347h7M430 347h1M433 347h1M435 347h1M438 347h3M443 347h1M457 347h1M462 347h1M471 347h1M473 347h1M476 347h1M480 347h1M482 347h1M491 347h1M493 347h1M495 347h1M503 347h1M525 347h1M383 348h13M397 348h24M423 348h4M428 348h2M431 348h1M433 348h2M438 348h1M457 348h2M474 348h1M477 348h1M482 348h1M488 348h1M492 348h3M504 348h1M517 348h1M539 348h1M383 349h2M386 349h2M389 349h3M393 349h12M406 349h22M430 349h2M434 349h2M439 349h1M452 349h1M456 349h1M460 349h2M465 349h1M470 349h1M473 349h2M479 349h1M483 349h1M488 349h1M493 349h1M496 349h3M504 349h3M508 349h1M517 349h1M383 350h1M385 350h4M390 350h5M396 350h24M421 350h3M425 350h1M427 350h3M431 350h1M433 350h1M437 350h1M441 350h1M447 350h1M450 350h1M452 350h1M454 350h1M460 350h3M480 350h1M484 350h2M496 350h1M498 350h1M520 350h1M527 350h1M389 351h3M393 351h31M425 351h3M429 351h1M434 351h1M436 351h1M440 351h1M454 351h1M459 351h1M463 351h2M474 351h1M477 351h1M480 351h1M486 351h1M490 351h2M493 351h1M496 351h1M507 351h1M512 351h1M529 351h1M551 351h1M384 352h1M387 352h4M392 352h34M427 352h2M430 352h1M434 352h1M436 352h1M440 352h1M454 352h1M462 352h1M468 352h1M473 352h2M480 352h1M484 352h1M490 352h3M527 352h1M531 352h1M384 353h1M386 353h1M388 353h4M394 353h34M429 353h1M433 353h2M436 353h1M440 353h1M443 353h1M448 353h1M450 353h1M452 353h3M458 353h1M461 353h1M469 353h1M471 353h1M474 353h1M476 353h2M485 353h1M493 353h1M505 353h1M512 353h1M517 353h1M521 353h1M384 354h5M390 354h26M417 354h7M425 354h3M429 354h2M432 354h1M435 354h2M438 354h1M440 354h4M445 354h2M464 354h1M468 354h1M473 354h1M476 354h1M484 354h1M487 354h1M495 354h1M503 354h2M506 354h1M512 354h1M517 354h2M387 355h1M389 355h8M399 355h39M441 355h1M445 355h1M458 355h1M460 355h2M463 355h2M471 355h1M474 355h1M481 355h1M485 355h1M492 355h1M494 355h1M507 355h1M530 355h1M534 355h1M384 356h1M387 356h1M389 356h5M395 356h34M432 356h2M437 356h1M441 356h1M445 356h1M448 356h1M454 356h3M458 356h1M461 356h1M468 356h2M472 356h1M476 356h1M479 356h1M481 356h1M485 356h1M488 356h1M494 356h1M496 356h1M498 356h1M512 356h1M525 356h1M533 356h1M537 356h1M383 357h1M385 357h1M388 357h3M392 357h34M427 357h4M432 357h4M440 357h1M444 357h1M446 357h1M455 357h1M458 357h1M468 357h1M472 357h1M476 357h1M478 357h1M480 357h2M483 357h2M486 357h1M493 357h1M508 357h1M517 357h1M385 358h1M388 358h1M391 358h1M394 358h33M428 358h3M433 358h2M440 358h1M449 358h1M454 358h2M460 358h1M463 358h1M467 358h1M472 358h1M477 358h1M481 358h1M486 358h1M490 358h1M501 358h1M507 358h1M519 358h1M528 358h1M387 359h2M390 359h3M394 359h8M403 359h5M409 359h13M423 359h5M429 359h3M434 359h4M440 359h1M443 359h1M445 359h1M451 359h2M454 359h2M459 359h1M479 359h1M481 359h1M488 359h1M490 359h1M496 359h1M498 359h1M501 359h1M515 359h2M525 359h1M390 360h1M392 360h2M396 360h8M405 360h20M426 360h4M431 360h1M433 360h3M438 360h1M441 360h2M445 360h2M448 360h2M451 360h1M459 360h1M461 360h4M469 360h2M481 360h5M488 360h1M492 360h1M504 360h1M512 360h1M524 360h2M527 360h1M384 361h1M391 361h1M394 361h2M397 361h13M411 361h24M436 361h3M440 361h1M448 361h1M450 361h2M454 361h2M458 361h1M460 361h1M467 361h1M470 361h2M473 361h1M482 361h1M488 361h1M491 361h1M494 361h1M504 361h1M507 361h1M518 361h1M533 361h1M535 361h1M537 361h1M387 362h1M389 362h1M391 362h1M393 362h3M398 362h1M400 362h7M408 362h5M415 362h5M421 362h7M429 362h1M431 362h1M435 362h2M440 362h5M450 362h2M454 362h1M457 362h3M463 362h1M467 362h1M471 362h1M477 362h1M481 362h1M483 362h1M486 362h1M493 362h2M498 362h1M500 362h1M525 362h3M385 363h1M393 363h1M396 363h1M399 363h16M416 363h2M419 363h5M425 363h5M432 363h3M436 363h5M442 363h1M448 363h1M451 363h1M454 363h1M460 363h1M462 363h1M465 363h1M470 363h1M485 363h1M490 363h2M498 363h1M509 363h1M530 363h1M395 364h4M400 364h11M412 364h7M420 364h2M423 364h9M435 364h1M438 364h1M440 364h1M445 364h1M452 364h2M456 364h1M460 364h1M468 364h1M472 364h1M485 364h1M492 364h1M539 364h1M383 365h1M386 365h1M392 365h4M397 365h2M402 365h1M404 365h3M408 365h5M414 365h5M420 365h4M425 365h5M431 365h7M439 365h1M446 365h1M460 365h1M464 365h1M468 365h1M470 365h2M474 365h2M493 365h1M496 365h2M501 365h1M503 365h1M506 365h3M523 365h1M530 365h1M539 365h1M391 366h1M396 366h1M399 366h1M405 366h3M409 366h3M413 366h1M417 366h3M421 366h1M424 366h4M429 366h3M435 366h1M437 366h3M446 366h1M454 366h2M458 366h2M463 366h2M468 366h1M474 366h2M479 366h2M482 366h1M489 366h1M493 366h1M505 366h1M511 366h1M526 366h1M386 367h1M391 367h1M396 367h2M401 367h1M404 367h1M408 367h2M411 367h1M415 367h3M419 367h2M422 367h3M426 367h1M428 367h5M436 367h1M441 367h1M445 367h2M448 367h1M451 367h1M459 367h1M462 367h2M470 367h1M475 367h1M479 367h2M482 367h1M485 367h1M493 367h1M496 367h1M498 367h1M507 367h1M511 367h1M514 367h1M518 367h1M528 367h1M395 368h1M403 368h1M405 368h2M408 368h1M410 368h2M413 368h2M416 368h5M423 368h1M426 368h2M435 368h1M437 368h1M440 368h1M453 368h1M461 368h1M464 368h3M469 368h2M472 368h3M479 368h1M483 368h1M485 368h1M489 368h1M492 368h1M498 368h2M526 368h1M397 369h1M400 369h1M404 369h4M410 369h1M412 369h2M416 369h4M421 369h1M423 369h1M425 369h1M428 369h5M438 369h1M441 369h2M455 369h2M458 369h1M460 369h1M464 369h3M470 369h1M474 369h1M476 369h1M478 369h1M480 369h1M483 369h1M485 369h2M489 369h2M495 369h2M510 369h1M547 369h1M398 370h1M400 370h2M404 370h1M407 370h1M410 370h2M416 370h2M419 370h2M426 370h1M428 370h2M431 370h1M434 370h1M436 370h1M440 370h1M442 370h1M460 370h3M465 370h1M470 370h1M472 370h2M477 370h2M482 370h1M486 370h1M489 370h3M498 370h1M519 370h1M386 371h1M396 371h1M402 371h1M406 371h1M408 371h2M413 371h2M417 371h2M422 371h1M425 371h1M428 371h1M431 371h1M434 371h1M439 371h1M447 371h1M449 371h1M451 371h1M455 371h1M468 371h2M472 371h1M481 371h1M483 371h1M487 371h1M490 371h2M499 371h1M502 371h2M392 372h2M404 372h2M408 372h1M410 372h2M415 372h1M417 372h1M423 372h1M425 372h1M427 372h1M429 372h1M433 372h3M439 372h1M441 372h1M444 372h3M448 372h1M450 372h1M452 372h1M458 372h1M467 372h1M469 372h1M472 372h1M476 372h2M487 372h1M496 372h1M499 372h1M505 372h1M510 372h2M550 372h1M405 373h2M408 373h1M414 373h2M418 373h3M423 373h1M425 373h1M427 373h2M430 373h1M438 373h1M441 373h2M449 373h3M453 373h2M456 373h1M462 373h2M469 373h3M483 373h1M490 373h3M501 373h2M509 373h1M530 373h1M410 374h1M413 374h1M418 374h1M421 374h4M428 374h1M432 374h1M437 374h1M439 374h1M443 374h1M445 374h1M447 374h1M450 374h1M455 374h1M457 374h1M459 374h1M461 374h1M463 374h1M466 374h2M469 374h1M472 374h1M475 374h1M487 374h1M490 374h2M497 374h1M504 374h1M508 374h1M513 374h1M520 374h1M398 375h1M403 375h1M406 375h1M414 375h1M420 375h1M422 375h1M429 375h1M431 375h1M436 375h1M442 375h2M450 375h2M454 375h1M460 375h2M464 375h2M467 375h1M469 375h1M471 375h6M490 375h1M493 375h1M533 375h1M397 376h1M406 376h1M416 376h1M419 376h2M422 376h1M428 376h2M439 376h1M443 376h2M448 376h1M452 376h1M458 376h1M463 376h1M470 376h1M472 376h1M475 376h1M487 376h1M499 376h1M503 376h1M525 376h1M400 377h2M406 377h1M413 377h1M418 377h1M423 377h1M425 377h1M431 377h1M444 377h2M453 377h1M459 377h1M462 377h1M466 377h1M468 377h1M473 377h1M475 377h1M479 377h1M494 377h1M499 377h2M507 377h1M514 377h2M528 377h1M404 378h1M415 378h1M423 378h1M427 378h1M429 378h2M433 378h1M435 378h1M438 378h1M441 378h1M449 378h1M453 378h2M457 378h1M460 378h1M468 378h1M470 378h1M472 378h1M479 378h1M486 378h2M490 378h3M498 378h2M507 378h2M397 379h1M400 379h1M419 379h1M425 379h1M434 379h1M438 379h1M442 379h2M445 379h1M450 379h2M454 379h1M457 379h2M461 379h1M465 379h1M467 379h1M472 379h1M476 379h1M482 379h1M486 379h1M493 379h1M503 379h1M512 379h1M521 379h1M536 379h1M390 380h1M411 380h2M419 380h1M423 380h1M433 380h1M436 380h1M439 380h2M443 380h1M447 380h1M449 380h2M452 380h1M455 380h1M463 380h1M466 380h1M474 380h1M476 380h1M479 380h3M488 380h1M490 380h2M493 380h1M496 380h1M500 380h1M401 381h1M424 381h1M428 381h1M431 381h1M441 381h1M458 381h1M461 381h1M471 381h1M474 381h1M476 381h1M484 381h1M494 381h1M517 381h1M401 382h1M427 382h1M439 382h3M444 382h1M446 382h2M449 382h1M453 382h1M455 382h1M460 382h1M472 382h1M474 382h1M477 382h1M483 382h1M485 382h2M492 382h1M495 382h4M506 382h1M508 382h1M529 382h1M542 382h1M389 383h1M431 383h2M444 383h1M449 383h1M451 383h1M453 383h1M459 383h1M462 383h2M467 383h2M477 383h1M488 383h2M491 383h1M497 383h1M512 383h1M419 384h1M430 384h1M451 384h2M455 384h1M457 384h1M465 384h1M472 384h1M475 384h2M481 384h2M488 384h1M490 384h1M492 384h1M494 384h1M497 384h2M510 384h1M533 384h1M404 385h2M424 385h1M428 385h3M441 385h1M448 385h2M452 385h3M458 385h1M469 385h1M471 385h1M474 385h1M477 385h1M481 385h1M483 385h1M488 385h1M505 385h1M509 385h1M512 385h1M519 385h1M530 385h1M535 385h1M409 386h2M413 386h1M432 386h1M455 386h1M465 386h2M472 386h4M482 386h1M488 386h1M501 386h1M508 386h2M519 386h1M545 386h2M387 387h1M413 387h1M415 387h1M439 387h1M448 387h1M452 387h1M457 387h1M467 387h1M486 387h1M493 387h1M497 387h1M501 387h1M506 387h1M512 387h1M514 387h1M454 388h1M456 388h1M458 388h1M460 388h2M463 388h1M465 388h1M472 388h1M478 388h1M480 388h1M484 388h3M490 388h1M495 388h2M508 388h1M405 389h1M427 389h1M439 389h1M448 389h2M457 389h1M465 389h1M470 389h1M477 389h2M481 389h1M483 389h1M487 389h4M500 389h1M507 389h1M521 389h2M525 389h1M531 389h1M541 389h1M431 390h1M436 390h1M445 390h4M456 390h1M461 390h1M464 390h2M467 390h1M471 390h1M488 390h1M493 390h1M495 390h1M506 390h1M533 390h1M428 391h1M432 391h1M445 391h3M450 391h2M459 391h1M464 391h1M477 391h1M481 391h2M485 391h1M490 391h1M499 391h1M506 391h1M519 391h1M524 391h1M430 392h1M432 392h1M435 392h1M443 392h1M455 392h1M468 392h1M477 392h1M482 392h1M489 392h1M495 392h2M521 392h1M410 393h1M445 393h1M465 393h1M470 393h1M473 393h1M476 393h1M478 393h2M481 393h1M483 393h1M497 393h1M507 393h1M510 393h1M429 394h1M444 394h1M447 394h1M458 394h1M502 394h1M511 394h1M411 395h1M424 395h1M446 395h1M451 395h2M454 395h1M458 395h1M460 395h1M465 395h1M467 395h2M472 395h1M481 395h1M495 395h2M503 395h1M508 395h1M519 395h1M418 396h1M431 396h1M461 396h2M483 396h2M501 396h1M504 396h1M508 396h1M450 397h1M453 397h1M475 397h1M478 397h1M487 397h1M492 397h1M502 397h1M430 398h1M449 398h1M455 398h1M467 398h1M490 398h2M493 398h1M502 398h1M531 398h1M432 399h1M463 399h1M483 399h1M488 399h1M498 399h1M501 399h1M517 399h1M436 400h2M452 400h1M464 400h1M467 400h1M488 400h2M495 400h1M407 401h1M435 401h1M459 401h1M472 401h1M476 401h1M497 401h1M504 401h1M522 401h1M536 401h1M447 402h1M457 402h1M469 402h1M477 402h1M489 402h1M504 402h1M544 402h1M429 403h1M458 403h1M472 403h1M490 403h1M494 403h1M497 403h1M519 403h1M525 403h1M446 404h1M459 404h1M471 404h1M476 404h1M499 404h1M433 405h1M461 405h1M465 405h1M473 405h1M477 405h1M483 405h1M490 405h1M498 405h1M527 405h1M463 406h1M480 406h1M516 406h1M417 407h1M461 407h2M470 407h1M473 407h1M489 407h1M501 407h1M507 407h1M509 407h1M530 407h1M553 407h1M487 408h1M489 408h1M494 408h1M497 408h1M499 408h1M514 408h1M429 409h1M462 409h1M480 409h1M485 409h1M499 409h1M519 409h1M531 409h1M437 410h1M472 410h1M476 410h1M478 410h1M480 410h1M492 410h1M505 410h1M455 411h1M457 411h1M464 411h1M482 411h1M506 411h1M550 411h1M463 412h1M467 412h1M506 412h1M440 413h1M458 413h1M472 413h1M477 413h1M482 413h1M501 413h1M504 413h1M506 413h1M551 413h1M515 414h1M473 415h1M482 415h1M502 415h1M516 415h1M429 416h1M461 416h1M475 416h1M488 416h1M425 417h1M448 417h1M469 417h1M547 417h1M503 418h1M535 418h1M461 419h1M449 420h1M457 420h1M552 420h1M455 421h1M494 421h1M482 423h1M491 423h1M534 424h1M488 425h2M500 426h1" stroke="#1c1c1c" stroke-width="1" fill="none" transform="translate(0 .5)"/>
<rect x="382" y="254.5" width="177.6" height="173.3" fill="none" stroke="#222" stroke-width="1.2"/>
<line x1="448.8" y1="254.5" x2="448.8" y2="427.8" stroke="#222" stroke-width="1.1"/>
<line x1="382" y1="316.2" x2="559.6" y2="316.2" stroke="#222" stroke-width="1.1"/>
<path d="M382 427.8h-4M382 417.4h-2.5M382 411.3h-2.5M382 406.9h-2.5M382 403.6h-2.5M382 400.8h-2.5M382 398.5h-2.5M382 396.5h-2.5M382 394.7h-2.5M382 393.1h-4M382 382.7h-2.5M382 376.6h-2.5M382 372.3h-2.5M382 368.9h-2.5M382 366.2h-2.5M382 363.8h-2.5M382 361.8h-2.5M382 360.1h-2.5M382 358.5h-4M382 348.0h-2.5M382 341.9h-2.5M382 337.6h-2.5M382 334.3h-2.5M382 331.5h-2.5M382 329.2h-2.5M382 327.2h-2.5M382 325.4h-2.5M382 323.8h-4M382 313.4h-2.5M382 307.3h-2.5M382 303.0h-2.5M382 299.6h-2.5M382 296.8h-2.5M382 294.5h-2.5M382 292.5h-2.5M382 290.7h-2.5M382 289.2h-4M382 278.7h-2.5M382 272.6h-2.5M382 268.3h-2.5M382 264.9h-2.5M382 262.2h-2.5M382 259.9h-2.5M382 257.9h-2.5M382 256.1h-2.5M382 427.8v4M392.7 427.8v2.5M398.9 427.8v2.5M403.4 427.8v2.5M406.8 427.8v2.5M409.6 427.8v2.5M412.0 427.8v2.5M414.1 427.8v2.5M415.9 427.8v2.5M417.5 427.8v4M428.2 427.8v2.5M434.5 427.8v2.5M438.9 427.8v2.5M442.3 427.8v2.5M445.2 427.8v2.5M447.5 427.8v2.5M449.6 427.8v2.5M451.4 427.8v2.5M453.0 427.8v4M463.7 427.8v2.5M470.0 427.8v2.5M474.4 427.8v2.5M477.9 427.8v2.5M480.7 427.8v2.5M483.1 427.8v2.5M485.1 427.8v2.5M486.9 427.8v2.5M488.6 427.8v4M499.3 427.8v2.5M505.5 427.8v2.5M509.9 427.8v2.5M513.4 427.8v2.5M516.2 427.8v2.5M518.6 427.8v2.5M520.6 427.8v2.5M522.5 427.8v2.5M524.1 427.8v4M534.8 427.8v2.5M541.0 427.8v2.5M545.5 427.8v2.5M548.9 427.8v2.5M551.7 427.8v2.5M554.1 427.8v2.5M556.2 427.8v2.5M558.0 427.8v2.5M559.6 427.8v4" stroke="#333" stroke-width=".8" fill="none"/>
<text x="384.6" y="267.5" font-family="'Liberation Sans', sans-serif" font-size="8.9" fill="#222" textLength="65.1" lengthAdjust="spacingAndGlyphs">Q10-UL(0.00%)</text>
<text x="557" y="267.5" font-family="'Liberation Sans', sans-serif" font-size="8.9" text-anchor="end" fill="#222" textLength="66.7" lengthAdjust="spacingAndGlyphs">Q10-UR(0.07%)</text>
<text x="384.6" y="423.3" font-family="'Liberation Sans', sans-serif" font-size="8.9" fill="#222" textLength="68.8" lengthAdjust="spacingAndGlyphs">Q10-LL(80.26%)</text>
<text x="557" y="423.3" font-family="'Liberation Sans', sans-serif" font-size="8.9" text-anchor="end" fill="#222" textLength="70.3" lengthAdjust="spacingAndGlyphs">Q10-LR(19.67%)</text>
<text x="376.5" y="258.5" font-family="'Liberation Serif', serif" font-size="13.3" text-anchor="end" fill="#222">10<tspan font-size="9.5" dy="-5">5</tspan></text>
<text x="376.5" y="432.8" font-family="'Liberation Serif', serif" font-size="13.3" text-anchor="end" fill="#222">10<tspan font-size="9.5" dy="-5">0</tspan></text>
<text x="383" y="445" font-family="'Liberation Serif', serif" font-size="13.3" text-anchor="middle" fill="#222">10<tspan font-size="8.5" dy="-4.5">0</tspan></text>
<text x="561.6" y="445" font-family="'Liberation Serif', serif" font-size="13.3" text-anchor="middle" fill="#222">10<tspan font-size="8.5" dy="-4.5">5</tspan></text>
<path d="M718 265h1M750 286h1M741 289h1M739 290h1M739 291h1M726 292h1M713 293h1M745 293h1M722 294h1M731 294h1M722 295h1M730 295h1M699 296h1M703 296h1M708 296h1M721 296h1M725 296h1M728 296h1M711 297h1M716 297h1M699 298h1M737 298h1M705 299h1M713 299h1M731 299h3M696 300h1M704 300h1M682 301h1M712 301h1M726 301h1M734 301h1M695 302h1M711 302h1M714 302h2M725 302h1M742 302h1M700 303h1M703 303h1M707 303h1M714 303h1M724 303h1M734 303h1M690 304h1M693 304h1M708 304h1M710 304h1M712 304h1M721 304h1M724 304h2M728 304h1M730 304h1M732 304h1M694 305h1M697 305h1M699 305h1M701 305h2M706 305h1M708 305h2M712 305h1M724 305h2M741 305h1M694 306h2M700 306h1M703 306h1M705 306h1M707 306h1M709 306h1M713 306h1M715 306h1M722 306h2M700 307h2M705 307h2M710 307h2M713 307h4M718 307h1M721 307h1M723 307h1M729 307h1M733 307h3M688 308h1M692 308h1M694 308h1M702 308h1M704 308h1M709 308h2M713 308h1M716 308h1M718 308h1M720 308h1M724 308h1M727 308h1M732 308h1M667 309h1M681 309h1M683 309h1M707 309h1M709 309h1M711 309h3M716 309h1M718 309h1M720 309h1M723 309h1M734 309h1M737 309h1M685 310h1M687 310h1M693 310h1M696 310h1M698 310h1M700 310h1M702 310h1M704 310h2M708 310h9M723 310h2M729 310h1M731 310h1M734 310h1M750 310h1M686 311h1M692 311h1M694 311h1M700 311h1M705 311h2M708 311h1M711 311h2M715 311h1M719 311h2M722 311h4M731 311h1M739 311h1M745 311h1M683 312h1M688 312h1M693 312h1M702 312h2M707 312h1M711 312h2M715 312h2M719 312h1M721 312h2M724 312h1M730 312h2M680 313h1M685 313h2M692 313h1M695 313h1M697 313h1M702 313h5M708 313h2M713 313h1M717 313h1M719 313h4M724 313h1M732 313h1M736 313h1M685 314h1M688 314h1M692 314h1M698 314h3M704 314h6M715 314h1M718 314h2M721 314h3M725 314h2M728 314h2M676 315h1M690 315h1M696 315h3M703 315h1M705 315h1M707 315h5M714 315h1M717 315h2M720 315h4M725 315h1M729 315h1M731 315h1M747 315h1M691 316h2M694 316h2M698 316h1M700 316h1M703 316h2M706 316h3M710 316h2M713 316h2M716 316h1M719 316h2M726 316h1M740 316h1M746 316h1M683 317h2M689 317h1M692 317h1M694 317h3M700 317h3M704 317h3M708 317h8M717 317h2M720 317h1M723 317h1M728 317h2M677 318h1M682 318h1M684 318h1M686 318h1M688 318h2M691 318h3M696 318h2M699 318h3M705 318h7M713 318h10M724 318h1M727 318h1M730 318h1M734 318h1M736 318h1M749 318h1M760 318h1M605 319h1M610 319h1M680 319h1M686 319h1M688 319h1M694 319h2M699 319h3M703 319h6M710 319h4M715 319h2M719 319h1M722 319h1M725 319h1M727 319h1M729 319h1M735 319h1M746 319h1M675 320h1M679 320h1M683 320h2M688 320h3M693 320h6M700 320h4M705 320h2M708 320h1M710 320h4M718 320h2M722 320h1M725 320h2M728 320h2M674 321h2M683 321h2M687 321h2M692 321h3M696 321h4M701 321h3M705 321h1M707 321h9M717 321h1M719 321h1M722 321h1M724 321h1M726 321h2M732 321h1M736 321h1M738 321h1M740 321h1M669 322h1M681 322h2M684 322h7M692 322h1M694 322h3M699 322h3M703 322h1M705 322h9M716 322h1M719 322h2M723 322h1M726 322h1M731 322h2M741 322h1M744 322h1M754 322h1M682 323h1M687 323h1M690 323h1M692 323h1M695 323h4M700 323h4M705 323h2M708 323h6M718 323h4M723 323h1M726 323h3M732 323h2M759 323h1M607 324h1M677 324h1M681 324h1M684 324h2M688 324h1M690 324h1M692 324h3M696 324h2M699 324h8M708 324h4M713 324h3M719 324h2M728 324h1M745 324h1M747 324h2M621 325h1M667 325h1M674 325h2M678 325h1M680 325h2M683 325h3M687 325h14M702 325h8M711 325h1M713 325h3M717 325h3M726 325h2M729 325h2M755 325h1M670 326h1M675 326h1M680 326h1M683 326h3M688 326h1M690 326h3M694 326h5M700 326h2M703 326h4M708 326h2M711 326h3M716 326h2M719 326h2M724 326h1M726 326h1M728 326h2M732 326h1M737 326h1M743 326h1M608 327h1M649 327h1M671 327h1M682 327h1M686 327h3M692 327h4M697 327h5M703 327h5M709 327h1M711 327h4M716 327h2M719 327h3M724 327h1M726 327h1M731 327h1M739 327h1M767 327h1M613 328h1M668 328h1M677 328h1M679 328h1M685 328h4M693 328h2M696 328h2M699 328h1M702 328h1M704 328h9M714 328h2M718 328h1M720 328h1M724 328h1M726 328h1M731 328h1M737 328h1M610 329h1M616 329h1M621 329h1M647 329h1M662 329h1M672 329h1M675 329h1M679 329h1M681 329h2M685 329h1M687 329h2M692 329h2M698 329h7M706 329h5M714 329h2M717 329h4M722 329h1M733 329h2M759 329h1M613 330h1M615 330h1M667 330h1M675 330h1M677 330h2M682 330h2M685 330h1M687 330h3M691 330h1M693 330h4M698 330h3M702 330h1M706 330h4M711 330h2M714 330h1M717 330h2M727 330h1M733 330h1M743 330h1M745 330h1M748 330h1M615 331h2M662 331h1M679 331h4M684 331h1M687 331h1M689 331h1M691 331h1M693 331h8M702 331h1M704 331h1M707 331h5M713 331h3M717 331h1M719 331h1M722 331h1M725 331h1M750 331h1M753 331h1M771 331h1M605 332h2M615 332h1M671 332h1M675 332h2M678 332h3M688 332h1M692 332h2M695 332h3M699 332h7M707 332h1M709 332h5M722 332h1M733 332h1M739 332h1M741 332h1M601 333h2M607 333h1M609 333h3M616 333h1M673 333h1M677 333h1M679 333h2M684 333h3M689 333h8M698 333h14M713 333h4M718 333h2M721 333h3M739 333h1M607 334h1M671 334h1M675 334h1M678 334h1M680 334h2M684 334h3M689 334h1M691 334h1M694 334h3M698 334h2M701 334h1M703 334h2M706 334h2M709 334h1M711 334h1M720 334h1M726 334h2M742 334h1M756 334h1M760 334h1M616 335h1M618 335h1M620 335h1M677 335h1M682 335h1M685 335h2M689 335h5M695 335h11M707 335h2M710 335h1M713 335h5M719 335h1M722 335h1M732 335h1M745 335h1M753 335h1M606 336h1M609 336h1M612 336h1M614 336h1M624 336h1M673 336h1M678 336h2M682 336h1M686 336h3M690 336h4M695 336h3M699 336h2M703 336h2M707 336h2M711 336h3M715 336h2M720 336h2M723 336h1M727 336h1M729 336h1M740 336h1M742 336h1M747 336h1M601 337h3M608 337h1M616 337h1M619 337h1M661 337h1M665 337h1M672 337h1M677 337h1M679 337h1M682 337h1M684 337h1M686 337h1M688 337h3M692 337h6M700 337h1M702 337h1M704 337h2M709 337h1M711 337h2M714 337h2M720 337h1M729 337h2M735 337h1M743 337h1M748 337h1M755 337h2M767 337h1M599 338h1M606 338h2M611 338h1M626 338h1M666 338h1M677 338h1M680 338h2M685 338h2M688 338h4M694 338h4M699 338h3M703 338h1M706 338h2M711 338h1M713 338h2M719 338h1M728 338h1M733 338h1M735 338h1M752 338h1M756 338h1M759 338h1M762 338h1M603 339h2M608 339h1M611 339h1M613 339h1M672 339h1M678 339h1M683 339h1M685 339h3M692 339h7M705 339h1M707 339h1M710 339h1M714 339h1M723 339h2M728 339h1M754 339h1M759 339h2M767 339h1M599 340h1M608 340h1M610 340h1M613 340h1M619 340h1M621 340h1M670 340h1M672 340h2M678 340h2M684 340h2M687 340h1M691 340h1M693 340h2M696 340h2M699 340h2M703 340h1M705 340h2M708 340h2M713 340h1M720 340h1M730 340h2M747 340h1M759 340h2M599 341h1M611 341h1M617 341h1M622 341h1M627 341h1M633 341h1M663 341h1M667 341h1M675 341h1M680 341h1M682 341h1M684 341h1M686 341h1M691 341h2M696 341h1M698 341h2M702 341h2M707 341h1M711 341h1M729 341h1M734 341h1M744 341h1M748 341h2M600 342h1M606 342h1M609 342h1M612 342h1M614 342h1M618 342h1M622 342h1M625 342h1M628 342h1M632 342h1M666 342h1M672 342h1M680 342h1M683 342h1M688 342h2M692 342h1M695 342h2M698 342h2M704 342h1M706 342h1M709 342h1M711 342h2M717 342h1M726 342h2M736 342h1M739 342h1M741 342h2M746 342h1M756 342h1M762 342h1M603 343h1M606 343h1M616 343h1M642 343h1M666 343h1M671 343h1M676 343h2M681 343h1M684 343h1M687 343h4M695 343h1M700 343h2M705 343h1M708 343h1M714 343h1M718 343h1M725 343h1M732 343h1M735 343h1M737 343h1M755 343h1M599 344h1M601 344h1M607 344h2M613 344h1M615 344h1M619 344h1M640 344h1M674 344h1M676 344h1M683 344h1M685 344h1M687 344h1M693 344h1M695 344h2M699 344h1M704 344h1M706 344h1M710 344h1M718 344h2M725 344h1M728 344h1M753 344h1M599 345h1M611 345h2M620 345h1M622 345h2M626 345h2M632 345h1M675 345h1M677 345h2M680 345h2M684 345h2M689 345h1M694 345h2M697 345h1M700 345h1M704 345h2M708 345h1M710 345h1M721 345h1M727 345h1M735 345h1M748 345h1M758 345h1M767 345h1M608 346h1M612 346h1M619 346h1M623 346h2M626 346h1M638 346h2M670 346h1M687 346h1M690 346h1M693 346h1M695 346h1M699 346h1M702 346h3M709 346h1M711 346h1M715 346h1M729 346h1M758 346h1M761 346h1M764 346h1M767 346h1M613 347h1M616 347h1M619 347h1M623 347h3M643 347h1M666 347h2M676 347h1M679 347h1M684 347h2M691 347h1M701 347h2M715 347h1M719 347h1M722 347h2M729 347h1M731 347h1M740 347h1M744 347h2M755 347h1M769 347h1M613 348h1M615 348h1M623 348h1M630 348h1M634 348h1M637 348h1M676 348h2M681 348h3M686 348h2M689 348h1M694 348h1M698 348h1M703 348h1M705 348h1M707 348h2M718 348h3M725 348h1M730 348h3M739 348h1M742 348h1M748 348h1M755 348h2M760 348h1M608 349h1M613 349h1M615 349h1M617 349h3M625 349h2M628 349h2M632 349h1M671 349h1M681 349h1M685 349h1M694 349h1M698 349h1M704 349h1M707 349h1M709 349h1M711 349h1M714 349h1M720 349h1M724 349h2M728 349h2M731 349h1M756 349h1M759 349h1M765 349h1M767 349h1M605 350h1M620 350h1M630 350h1M633 350h1M636 350h1M685 350h1M689 350h2M700 350h1M708 350h1M711 350h1M715 350h1M719 350h5M725 350h2M730 350h1M741 350h1M743 350h1M751 350h1M763 350h1M610 351h2M615 351h1M628 351h1M633 351h1M636 351h1M641 351h2M665 351h1M667 351h1M682 351h2M694 351h2M698 351h2M704 351h1M710 351h2M721 351h1M723 351h4M729 351h1M731 351h1M733 351h3M742 351h1M745 351h1M758 351h1M608 352h1M614 352h1M616 352h1M620 352h2M624 352h1M628 352h1M632 352h2M635 352h1M638 352h1M675 352h1M689 352h1M700 352h1M704 352h1M708 352h3M717 352h1M721 352h1M726 352h1M729 352h1M733 352h1M739 352h1M741 352h1M751 352h1M757 352h1M770 352h1M610 353h1M623 353h1M630 353h1M633 353h1M637 353h1M656 353h1M666 353h1M677 353h1M681 353h1M683 353h1M688 353h1M690 353h1M698 353h1M701 353h1M710 353h1M712 353h3M716 353h2M722 353h2M728 353h1M736 353h1M751 353h1M753 353h1M757 353h1M761 353h1M619 354h1M621 354h1M624 354h1M627 354h1M629 354h1M631 354h3M638 354h1M647 354h2M672 354h1M688 354h1M690 354h1M694 354h1M700 354h1M702 354h2M711 354h1M715 354h1M720 354h1M725 354h1M729 354h1M735 354h1M745 354h1M747 354h1M753 354h1M755 354h1M605 355h1M610 355h1M614 355h1M616 355h2M619 355h1M623 355h1M625 355h1M629 355h1M634 355h1M648 355h1M665 355h1M680 355h1M682 355h1M685 355h1M693 355h2M697 355h1M704 355h1M718 355h2M722 355h1M724 355h3M730 355h2M733 355h2M737 355h1M745 355h1M749 355h1M758 355h1M767 355h2M607 356h1M615 356h1M637 356h2M644 356h1M685 356h1M703 356h1M706 356h6M713 356h1M715 356h1M722 356h1M725 356h1M728 356h3M732 356h1M735 356h1M745 356h2M752 356h1M765 356h1M767 356h1M617 357h1M624 357h1M626 357h1M630 357h1M633 357h1M637 357h1M640 357h1M667 357h1M683 357h1M689 357h1M691 357h1M694 357h1M707 357h2M713 357h1M716 357h2M721 357h2M725 357h2M728 357h1M733 357h1M737 357h1M744 357h1M747 357h2M752 357h1M757 357h1M624 358h1M628 358h1M633 358h1M635 358h1M644 358h1M647 358h1M651 358h1M681 358h1M696 358h1M700 358h1M703 358h4M712 358h1M718 358h1M724 358h2M727 358h1M729 358h1M736 358h1M740 358h1M742 358h1M745 358h1M747 358h1M751 358h1M753 358h1M761 358h1M615 359h1M619 359h1M624 359h1M627 359h4M634 359h2M637 359h1M665 359h1M669 359h1M677 359h1M695 359h1M699 359h1M704 359h2M707 359h1M714 359h2M717 359h1M721 359h1M731 359h1M733 359h1M735 359h1M741 359h2M749 359h1M751 359h1M622 360h1M626 360h1M629 360h1M634 360h1M640 360h2M649 360h1M664 360h1M667 360h1M690 360h1M694 360h1M700 360h1M706 360h1M716 360h1M720 360h1M729 360h1M731 360h1M739 360h1M743 360h2M753 360h1M757 360h1M619 361h1M621 361h1M629 361h1M632 361h1M635 361h2M643 361h1M680 361h1M687 361h1M693 361h1M697 361h1M699 361h2M702 361h3M706 361h3M710 361h1M716 361h1M720 361h5M729 361h1M731 361h2M736 361h2M741 361h1M743 361h1M745 361h1M747 361h1M769 361h1M626 362h1M628 362h2M639 362h1M645 362h1M650 362h2M687 362h1M692 362h1M705 362h1M710 362h1M715 362h1M721 362h2M734 362h1M739 362h1M745 362h1M755 362h1M757 362h1M761 362h1M619 363h1M631 363h1M634 363h1M636 363h1M638 363h1M640 363h1M643 363h1M645 363h1M647 363h1M649 363h1M688 363h1M690 363h2M694 363h4M705 363h2M708 363h1M711 363h1M715 363h1M720 363h1M722 363h1M726 363h1M732 363h1M735 363h1M738 363h1M741 363h1M743 363h2M746 363h2M749 363h1M758 363h1M766 363h1M619 364h1M627 364h1M636 364h1M639 364h2M642 364h1M645 364h1M673 364h1M678 364h1M687 364h1M693 364h1M696 364h1M698 364h1M700 364h3M707 364h1M710 364h1M713 364h1M717 364h2M724 364h1M730 364h3M734 364h1M737 364h1M740 364h1M747 364h1M751 364h1M753 364h1M755 364h1M758 364h1M766 364h1M628 365h1M631 365h3M637 365h1M644 365h1M647 365h1M652 365h1M656 365h1M660 365h1M672 365h1M682 365h1M691 365h1M694 365h1M702 365h1M707 365h3M714 365h2M717 365h1M719 365h1M721 365h2M724 365h3M728 365h1M731 365h2M734 365h1M736 365h1M738 365h1M740 365h1M742 365h2M748 365h1M762 365h1M627 366h1M631 366h1M641 366h1M663 366h1M698 366h2M705 366h3M714 366h1M718 366h3M725 366h1M729 366h2M732 366h2M735 366h1M737 366h3M743 366h2M747 366h1M750 366h1M754 366h4M762 366h1M626 367h1M642 367h3M649 367h1M656 367h1M667 367h1M685 367h1M691 367h1M695 367h1M699 367h1M701 367h1M706 367h1M708 367h1M711 367h2M714 367h1M718 367h1M721 367h1M723 367h1M728 367h1M730 367h1M734 367h1M738 367h1M740 367h1M743 367h1M748 367h1M750 367h1M766 367h1M624 368h1M629 368h2M636 368h1M643 368h1M648 368h1M650 368h1M656 368h1M664 368h1M666 368h1M684 368h2M702 368h1M704 368h1M707 368h1M710 368h1M715 368h1M719 368h1M721 368h1M723 368h1M729 368h1M732 368h1M735 368h1M739 368h1M741 368h2M750 368h1M755 368h1M760 368h1M769 368h1M629 369h2M646 369h1M649 369h1M655 369h1M663 369h1M674 369h1M681 369h1M683 369h1M692 369h1M700 369h1M703 369h1M709 369h2M712 369h1M714 369h1M717 369h2M721 369h3M726 369h1M728 369h1M732 369h2M737 369h2M746 369h1M752 369h1M755 369h1M769 369h1M630 370h1M642 370h2M646 370h2M651 370h2M654 370h2M663 370h1M672 370h1M679 370h1M683 370h1M688 370h1M698 370h1M704 370h1M708 370h2M711 370h1M717 370h4M723 370h3M732 370h2M735 370h1M739 370h2M742 370h1M744 370h2M749 370h1M752 370h2M757 370h1M760 370h2M769 370h1M639 371h1M643 371h1M649 371h1M656 371h3M660 371h1M665 371h4M677 371h2M695 371h1M698 371h1M700 371h1M702 371h1M707 371h1M713 371h1M719 371h1M721 371h1M723 371h1M726 371h1M730 371h1M733 371h3M739 371h2M742 371h1M748 371h1M751 371h1M754 371h1M756 371h3M761 371h1M763 371h2M635 372h1M637 372h1M641 372h1M644 372h1M649 372h1M657 372h1M683 372h1M686 372h1M691 372h1M693 372h4M700 372h1M703 372h1M706 372h4M713 372h1M715 372h1M717 372h1M719 372h1M722 372h1M724 372h2M729 372h1M731 372h2M734 372h1M737 372h2M745 372h2M754 372h2M767 372h1M636 373h2M640 373h1M642 373h1M645 373h1M650 373h1M654 373h1M661 373h2M664 373h1M666 373h1M668 373h1M679 373h1M683 373h1M687 373h1M691 373h1M695 373h1M699 373h1M701 373h2M705 373h1M712 373h1M715 373h1M720 373h1M722 373h2M725 373h2M728 373h1M731 373h1M733 373h9M744 373h2M751 373h1M758 373h3M764 373h1M769 373h1M639 374h1M646 374h1M651 374h1M653 374h1M656 374h2M660 374h1M663 374h1M666 374h1M673 374h1M694 374h1M697 374h1M700 374h2M703 374h2M710 374h3M714 374h4M720 374h1M723 374h1M727 374h2M731 374h2M736 374h1M741 374h1M743 374h1M745 374h1M747 374h1M750 374h1M756 374h1M759 374h1M627 375h1M649 375h1M651 375h1M653 375h1M662 375h1M668 375h1M670 375h1M682 375h1M687 375h2M694 375h1M696 375h1M700 375h2M704 375h2M707 375h1M711 375h1M713 375h3M717 375h2M722 375h2M726 375h1M729 375h1M731 375h1M733 375h3M737 375h4M742 375h2M751 375h1M753 375h3M758 375h1M763 375h1M766 375h1M639 376h2M645 376h1M647 376h1M651 376h1M660 376h1M662 376h1M671 376h1M679 376h1M684 376h1M688 376h1M691 376h1M693 376h2M697 376h2M700 376h1M702 376h3M707 376h2M711 376h1M713 376h1M717 376h3M721 376h3M725 376h1M730 376h2M733 376h5M739 376h1M741 376h2M744 376h1M746 376h1M749 376h1M751 376h1M754 376h1M756 376h2M759 376h1M765 376h1M638 377h1M641 377h1M645 377h1M650 377h1M655 377h1M657 377h1M660 377h2M664 377h1M676 377h3M686 377h1M692 377h2M698 377h1M702 377h1M704 377h2M707 377h1M710 377h7M721 377h3M726 377h4M731 377h2M734 377h3M739 377h1M742 377h2M748 377h2M760 377h1M768 377h1M637 378h1M644 378h1M648 378h1M654 378h1M661 378h1M669 378h1M673 378h1M685 378h2M692 378h1M694 378h2M697 378h1M701 378h1M704 378h1M708 378h1M711 378h1M713 378h1M717 378h1M720 378h1M722 378h1M724 378h1M726 378h1M728 378h1M730 378h1M732 378h2M735 378h1M739 378h1M741 378h1M743 378h2M747 378h1M762 378h1M764 378h1M644 379h1M651 379h1M654 379h1M657 379h1M662 379h1M668 379h2M680 379h1M682 379h1M684 379h2M688 379h1M695 379h1M698 379h2M706 379h1M712 379h1M715 379h2M718 379h2M722 379h1M724 379h2M727 379h3M731 379h2M735 379h1M737 379h1M739 379h1M741 379h2M744 379h2M748 379h1M761 379h1M625 380h1M640 380h1M644 380h1M647 380h2M650 380h1M652 380h3M661 380h1M663 380h1M673 380h1M675 380h2M684 380h1M688 380h1M697 380h2M700 380h5M707 380h1M711 380h2M714 380h3M718 380h2M722 380h3M726 380h2M734 380h3M738 380h1M744 380h6M754 380h1M756 380h1M759 380h1M642 381h1M652 381h1M654 381h1M657 381h1M661 381h1M677 381h1M684 381h1M689 381h1M693 381h1M699 381h1M701 381h1M703 381h1M705 381h2M708 381h1M710 381h1M712 381h3M716 381h2M719 381h1M721 381h2M724 381h1M729 381h1M734 381h3M738 381h1M741 381h3M745 381h2M748 381h1M751 381h2M764 381h1M644 382h1M650 382h2M656 382h1M658 382h1M664 382h1M673 382h1M676 382h1M682 382h1M686 382h1M692 382h2M696 382h1M701 382h1M706 382h2M711 382h1M713 382h2M716 382h1M718 382h2M722 382h1M724 382h2M728 382h1M730 382h1M732 382h1M735 382h5M741 382h2M744 382h5M750 382h1M644 383h1M650 383h1M653 383h1M658 383h1M667 383h1M672 383h1M681 383h2M684 383h1M687 383h1M692 383h1M694 383h2M698 383h1M700 383h1M702 383h1M706 383h1M708 383h1M713 383h7M723 383h2M726 383h1M729 383h4M734 383h1M736 383h1M738 383h1M740 383h2M743 383h3M749 383h2M752 383h3M760 383h1M767 383h1M639 384h1M644 384h1M649 384h1M658 384h1M662 384h1M667 384h1M678 384h1M681 384h1M684 384h1M690 384h2M698 384h1M700 384h1M706 384h2M710 384h1M712 384h1M714 384h2M718 384h2M721 384h1M726 384h8M737 384h2M745 384h2M749 384h1M751 384h1M753 384h3M759 384h1M766 384h1M771 384h1M644 385h1M660 385h1M667 385h1M670 385h1M675 385h1M682 385h1M687 385h1M689 385h1M693 385h1M695 385h1M703 385h1M705 385h2M717 385h5M725 385h5M732 385h1M734 385h1M742 385h2M746 385h2M749 385h1M755 385h2M759 385h1M762 385h2M769 385h1M632 386h1M645 386h1M650 386h1M655 386h1M664 386h1M674 386h2M690 386h1M695 386h4M700 386h1M703 386h2M707 386h2M711 386h4M716 386h2M719 386h2M723 386h1M727 386h1M730 386h2M734 386h3M742 386h2M747 386h1M756 386h2M763 386h3M767 386h2M661 387h1M663 387h1M683 387h2M690 387h1M692 387h1M697 387h1M701 387h1M703 387h2M706 387h2M712 387h1M714 387h3M718 387h2M721 387h3M725 387h4M730 387h2M733 387h1M735 387h1M737 387h1M739 387h3M743 387h4M749 387h2M754 387h1M767 387h1M769 387h1M645 388h1M650 388h1M655 388h1M657 388h1M665 388h1M672 388h1M681 388h1M692 388h1M694 388h1M697 388h1M699 388h3M707 388h1M709 388h2M712 388h2M716 388h1M718 388h2M723 388h1M727 388h3M731 388h2M734 388h1M736 388h2M739 388h2M742 388h1M745 388h1M748 388h2M756 388h2M761 388h1M675 389h2M682 389h1M686 389h1M688 389h1M694 389h1M696 389h1M701 389h1M703 389h4M708 389h2M711 389h1M715 389h1M718 389h1M721 389h2M724 389h1M726 389h1M728 389h2M732 389h2M736 389h2M739 389h5M745 389h1M747 389h1M749 389h1M751 389h1M756 389h2M763 389h2M638 390h1M642 390h1M645 390h1M649 390h1M655 390h1M665 390h1M669 390h1M672 390h1M681 390h1M694 390h1M698 390h2M704 390h1M706 390h1M708 390h1M712 390h6M719 390h2M724 390h2M728 390h4M735 390h1M737 390h2M741 390h2M744 390h1M758 390h1M762 390h1M648 391h1M653 391h1M658 391h1M665 391h1M671 391h1M685 391h1M689 391h1M693 391h2M701 391h1M706 391h1M711 391h1M714 391h2M718 391h5M725 391h5M735 391h1M739 391h5M746 391h5M755 391h1M759 391h1M767 391h2M651 392h1M657 392h1M664 392h1M686 392h1M693 392h1M697 392h3M701 392h1M705 392h2M708 392h1M710 392h1M712 392h2M715 392h2M719 392h3M723 392h2M727 392h1M729 392h1M731 392h1M736 392h1M738 392h3M743 392h1M747 392h1M749 392h4M754 392h1M764 392h1M643 393h1M676 393h1M680 393h1M682 393h2M688 393h1M691 393h1M693 393h1M697 393h1M699 393h2M705 393h1M707 393h1M709 393h2M712 393h1M715 393h4M720 393h5M726 393h6M733 393h3M737 393h1M739 393h4M746 393h3M750 393h3M754 393h1M757 393h1M765 393h1M668 394h1M670 394h1M673 394h1M676 394h1M684 394h1M696 394h2M701 394h1M705 394h3M709 394h1M712 394h4M718 394h4M724 394h1M726 394h2M729 394h1M731 394h5M737 394h1M739 394h1M741 394h1M743 394h1M745 394h1M747 394h1M749 394h1M752 394h1M755 394h1M758 394h1M760 394h1M765 394h1M658 395h1M678 395h1M685 395h1M691 395h3M695 395h1M700 395h1M702 395h3M706 395h3M710 395h1M713 395h1M716 395h2M719 395h9M729 395h1M731 395h1M733 395h1M736 395h6M745 395h6M752 395h2M757 395h2M761 395h2M764 395h1M771 395h1M678 396h1M681 396h3M685 396h1M693 396h1M696 396h1M701 396h1M703 396h2M706 396h1M708 396h1M711 396h1M713 396h2M716 396h4M722 396h4M727 396h5M735 396h2M739 396h3M745 396h1M748 396h5M758 396h2M761 396h1M673 397h1M678 397h1M682 397h1M684 397h1M694 397h1M696 397h2M699 397h1M701 397h1M703 397h6M713 397h4M720 397h3M725 397h5M732 397h3M737 397h4M742 397h1M745 397h5M754 397h2M649 398h1M679 398h1M686 398h1M693 398h1M704 398h1M707 398h1M711 398h1M713 398h2M716 398h3M720 398h1M722 398h1M724 398h1M728 398h4M735 398h4M740 398h1M744 398h6M754 398h2M768 398h1M771 398h1M686 399h1M691 399h1M695 399h1M701 399h1M709 399h1M712 399h4M717 399h3M721 399h2M725 399h2M728 399h1M730 399h1M732 399h1M735 399h6M742 399h3M747 399h4M757 399h1M760 399h1M764 399h1M679 400h1M684 400h1M690 400h1M692 400h1M695 400h4M701 400h2M712 400h1M715 400h1M718 400h1M721 400h3M726 400h2M730 400h5M736 400h4M741 400h1M744 400h2M747 400h5M757 400h1M759 400h1M764 400h1M771 400h1M671 401h1M684 401h1M691 401h1M693 401h1M697 401h1M702 401h4M707 401h1M709 401h1M713 401h1M717 401h1M720 401h2M723 401h1M726 401h3M732 401h5M740 401h2M743 401h1M745 401h3M749 401h1M751 401h1M753 401h2M758 401h1M764 401h2M770 401h1M676 402h1M683 402h1M685 402h1M688 402h1M692 402h1M695 402h2M698 402h1M701 402h2M705 402h1M708 402h2M711 402h1M714 402h4M720 402h4M725 402h9M735 402h2M738 402h1M740 402h2M744 402h1M746 402h1M748 402h1M750 402h4M755 402h1M666 403h1M668 403h1M697 403h1M700 403h2M703 403h2M707 403h1M711 403h1M720 403h1M723 403h1M725 403h5M733 403h1M735 403h1M737 403h1M739 403h1M741 403h2M748 403h2M754 403h2M760 403h1M673 404h1M685 404h2M696 404h1M703 404h1M707 404h1M710 404h3M715 404h2M719 404h3M724 404h5M730 404h2M733 404h2M736 404h1M738 404h1M742 404h1M744 404h1M746 404h1M748 404h1M751 404h2M758 404h1M760 404h2M763 404h2M768 404h1M629 405h1M675 405h1M677 405h1M681 405h1M685 405h1M695 405h1M699 405h3M706 405h2M710 405h1M713 405h2M719 405h1M723 405h1M725 405h1M728 405h4M734 405h3M738 405h1M741 405h1M744 405h1M746 405h1M748 405h1M750 405h1M755 405h1M757 405h1M759 405h1M761 405h1M765 405h1M767 405h1M668 406h1M673 406h1M682 406h1M688 406h1M691 406h1M697 406h1M703 406h2M707 406h5M713 406h8M723 406h1M725 406h1M729 406h3M733 406h1M735 406h5M741 406h1M744 406h2M747 406h4M752 406h3M760 406h3M768 406h1M679 407h1M686 407h1M698 407h2M704 407h1M710 407h2M714 407h2M717 407h1M719 407h1M721 407h3M726 407h1M728 407h1M730 407h3M735 407h3M739 407h4M744 407h1M751 407h3M755 407h2M759 407h2M665 408h1M682 408h1M691 408h1M694 408h1M696 408h1M698 408h1M708 408h1M712 408h1M718 408h2M721 408h1M725 408h1M729 408h1M731 408h2M734 408h7M743 408h2M749 408h3M755 408h1M760 408h1M669 409h1M675 409h1M689 409h1M692 409h1M695 409h1M698 409h1M703 409h1M706 409h1M710 409h1M714 409h1M716 409h1M718 409h1M720 409h2M723 409h1M725 409h1M727 409h2M730 409h1M734 409h2M742 409h3M749 409h2M753 409h2M756 409h1M759 409h1M770 409h1M659 410h1M668 410h2M680 410h1M682 410h1M686 410h1M688 410h1M701 410h2M705 410h1M711 410h3M715 410h2M719 410h2M724 410h2M727 410h1M729 410h7M737 410h3M741 410h2M744 410h1M746 410h2M751 410h1M753 410h2M760 410h2M763 410h2M767 410h1M692 411h1M701 411h1M704 411h1M709 411h1M716 411h1M719 411h2M722 411h1M724 411h1M728 411h2M731 411h1M733 411h2M736 411h1M738 411h3M743 411h1M746 411h1M749 411h2M753 411h1M755 411h1M757 411h2M760 411h1M769 411h1M692 412h1M695 412h4M704 412h1M709 412h1M711 412h1M715 412h1M720 412h1M724 412h1M726 412h3M730 412h3M736 412h1M738 412h1M740 412h1M742 412h1M744 412h2M747 412h3M753 412h2M764 412h1M691 413h1M696 413h2M704 413h2M709 413h1M712 413h2M715 413h1M717 413h3M721 413h3M725 413h3M729 413h1M731 413h1M736 413h1M740 413h1M742 413h3M750 413h1M752 413h2M756 413h1M761 413h1M764 413h1M669 414h1M675 414h1M680 414h1M690 414h1M699 414h1M703 414h3M711 414h6M718 414h1M722 414h4M727 414h2M730 414h3M734 414h2M737 414h2M740 414h1M742 414h2M745 414h2M749 414h2M754 414h2M759 414h1M768 414h1M678 415h1M680 415h1M689 415h1M692 415h1M697 415h1M708 415h3M712 415h5M718 415h1M720 415h1M723 415h1M726 415h3M730 415h1M732 415h1M735 415h3M739 415h1M741 415h1M744 415h1M747 415h1M749 415h2M752 415h1M755 415h1M763 415h2M690 416h2M694 416h1M696 416h1M704 416h2M708 416h1M712 416h1M717 416h1M724 416h1M727 416h1M733 416h1M736 416h1M738 416h2M741 416h5M752 416h1M754 416h2M761 416h1M765 416h1M688 417h2M708 417h1M711 417h1M716 417h1M720 417h1M723 417h1M730 417h2M734 417h1M739 417h1M741 417h5M747 417h1M751 417h1M753 417h2M765 417h2M768 417h1M771 417h1M674 418h1M684 418h3M702 418h3M707 418h1M714 418h1M717 418h3M729 418h1M731 418h3M737 418h1M739 418h1M746 418h1M756 418h2M766 418h1M662 419h1M674 419h1M696 419h1M700 419h1M702 419h1M709 419h1M711 419h1M718 419h1M721 419h9M731 419h1M737 419h3M746 419h1M749 419h1M751 419h1M754 419h1M756 419h1M758 419h1M765 419h1M702 420h1M708 420h1M711 420h1M714 420h1M718 420h1M721 420h1M737 420h4M744 420h1M747 420h1M749 420h2M753 420h1M762 420h1M672 421h1M679 421h1M689 421h1M704 421h1M709 421h1M713 421h1M716 421h3M723 421h1M733 421h1M735 421h1M744 421h2M747 421h1M749 421h3M754 421h1M673 422h1M684 422h1M687 422h1M700 422h1M702 422h2M709 422h1M715 422h1M720 422h1M738 422h1M750 422h1M758 422h1M677 423h1M684 423h1M696 423h1M708 423h1M710 423h1M717 423h1M721 423h1M723 423h2M728 423h1M730 423h1M732 423h2M737 423h1M740 423h1M746 423h2M749 423h2M755 423h1M767 423h1M687 424h1M690 424h1M694 424h2M698 424h2M701 424h1M704 424h1M708 424h1M710 424h1M720 424h1M728 424h1M735 424h1M743 424h1M751 424h1M753 424h1M755 424h1M672 425h1M685 425h2M690 425h1M704 425h1M709 425h2M715 425h1M718 425h1M726 425h1M735 425h1M737 425h1M739 425h1M741 425h1M745 425h1M754 425h1M761 425h1M763 425h1M683 426h1M687 426h1M691 426h2M697 426h1M707 426h1M710 426h1M714 426h2M733 426h1M743 426h1M747 426h1M760 426h1M764 426h1M676 427h1M692 427h1M700 427h1M706 427h1M717 427h1M723 427h1M727 427h1M729 427h1M733 427h1M752 427h1M766 427h1" stroke="#1c1c1c" stroke-width="1" fill="none" transform="translate(0 .5)"/>
<rect x="597.5" y="252.6" width="174.7" height="176" fill="none" stroke="#222" stroke-width="1.2"/>
<line x1="663.5" y1="252.6" x2="663.5" y2="428.6" stroke="#222" stroke-width="1.1"/>
<line x1="597.5" y1="315.4" x2="772.2" y2="315.4" stroke="#222" stroke-width="1.1"/>
<path d="M597.5 428.6h-4M597.5 418.0h-2.5M597.5 411.8h-2.5M597.5 407.4h-2.5M597.5 404.0h-2.5M597.5 401.2h-2.5M597.5 398.9h-2.5M597.5 396.8h-2.5M597.5 395.0h-2.5M597.5 393.4h-4M597.5 382.8h-2.5M597.5 376.6h-2.5M597.5 372.2h-2.5M597.5 368.8h-2.5M597.5 366.0h-2.5M597.5 363.7h-2.5M597.5 361.6h-2.5M597.5 359.8h-2.5M597.5 358.2h-4M597.5 347.6h-2.5M597.5 341.4h-2.5M597.5 337.0h-2.5M597.5 333.6h-2.5M597.5 330.8h-2.5M597.5 328.5h-2.5M597.5 326.4h-2.5M597.5 324.6h-2.5M597.5 323h-4M597.5 312.4h-2.5M597.5 306.2h-2.5M597.5 301.8h-2.5M597.5 298.4h-2.5M597.5 295.6h-2.5M597.5 293.3h-2.5M597.5 291.2h-2.5M597.5 289.4h-2.5M597.5 287.8h-4M597.5 277.2h-2.5M597.5 271.0h-2.5M597.5 266.6h-2.5M597.5 263.2h-2.5M597.5 260.4h-2.5M597.5 258.1h-2.5M597.5 256.0h-2.5M597.5 254.2h-2.5M597.5 428.6v4M608.0 428.6v2.5M614.2 428.6v2.5M618.5 428.6v2.5M621.9 428.6v2.5M624.7 428.6v2.5M627.0 428.6v2.5M629.1 428.6v2.5M630.8 428.6v2.5M632.4 428.6v4M643.0 428.6v2.5M649.1 428.6v2.5M653.5 428.6v2.5M656.9 428.6v2.5M659.6 428.6v2.5M662.0 428.6v2.5M664.0 428.6v2.5M665.8 428.6v2.5M667.4 428.6v4M677.9 428.6v2.5M684.1 428.6v2.5M688.4 428.6v2.5M691.8 428.6v2.5M694.6 428.6v2.5M696.9 428.6v2.5M698.9 428.6v2.5M700.7 428.6v2.5M702.3 428.6v4M712.8 428.6v2.5M719.0 428.6v2.5M723.4 428.6v2.5M726.7 428.6v2.5M729.5 428.6v2.5M731.8 428.6v2.5M733.9 428.6v2.5M735.7 428.6v2.5M737.3 428.6v4M747.8 428.6v2.5M753.9 428.6v2.5M758.3 428.6v2.5M761.7 428.6v2.5M764.4 428.6v2.5M766.8 428.6v2.5M768.8 428.6v2.5M770.6 428.6v2.5M772.2 428.6v4" stroke="#333" stroke-width=".8" fill="none"/>
<text x="600.1" y="265.6" font-family="'Liberation Sans', sans-serif" font-size="8.9" fill="#222" textLength="60.0" lengthAdjust="spacingAndGlyphs">Q7-UL(0.01%)</text>
<text x="769.6" y="265.6" font-family="'Liberation Sans', sans-serif" font-size="8.9" text-anchor="end" fill="#222" textLength="61.5" lengthAdjust="spacingAndGlyphs">Q7-UR(1.58%)</text>
<text x="600.1" y="424.1" font-family="'Liberation Sans', sans-serif" font-size="8.9" fill="#222" textLength="58.4" lengthAdjust="spacingAndGlyphs">Q7-LL(5.50%)</text>
<text x="769.6" y="424.1" font-family="'Liberation Sans', sans-serif" font-size="8.9" text-anchor="end" fill="#222" textLength="65.1" lengthAdjust="spacingAndGlyphs">Q7-LR(92.90%)</text>
<text x="592" y="256.6" font-family="'Liberation Serif', serif" font-size="13.3" text-anchor="end" fill="#222">10<tspan font-size="9.5" dy="-5">5</tspan></text>
<text x="592" y="433.6" font-family="'Liberation Serif', serif" font-size="13.3" text-anchor="end" fill="#222">10<tspan font-size="9.5" dy="-5">0</tspan></text>
<text x="598.5" y="445.8" font-family="'Liberation Serif', serif" font-size="13.3" text-anchor="middle" fill="#222">10<tspan font-size="8.5" dy="-4.5">0</tspan></text>
<text x="774.2" y="445.8" font-family="'Liberation Serif', serif" font-size="13.3" text-anchor="middle" fill="#222">10<tspan font-size="8.5" dy="-4.5">5</tspan></text>
<text x="244.5" y="25.5" font-family="'Liberation Serif', serif" font-size="31" font-weight="bold" text-anchor="middle" textLength="103.5" lengthAdjust="spacingAndGlyphs">Control</text>
<text x="476.9" y="25.5" font-family="'Liberation Serif', serif" font-size="31" font-weight="bold" text-anchor="middle" textLength="126.3" lengthAdjust="spacingAndGlyphs">10 µg/mL</text>
<text x="689.3" y="25.5" font-family="'Liberation Serif', serif" font-size="31" font-weight="bold" text-anchor="middle" textLength="126.7" lengthAdjust="spacingAndGlyphs">20 µg/mL</text>
<text x="130" y="124.5" font-family="'Liberation Serif', serif" font-size="32" font-weight="bold" text-anchor="middle" transform="rotate(-90 130 124.5)" textLength="79.7" lengthAdjust="spacingAndGlyphs">Daudi</text>
<text x="128.7" y="345.4" font-family="'Liberation Serif', serif" font-size="32" font-weight="bold" text-anchor="middle" transform="rotate(-90 128.7 345.4)" textLength="143.2" lengthAdjust="spacingAndGlyphs">SU-DHL-4</text>
<text x="29" y="245.2" font-family="'Liberation Serif', serif" font-size="32" font-weight="bold" text-anchor="middle" textLength="30" lengthAdjust="spacingAndGlyphs">PI</text>
<text x="28" y="33" font-family="'Liberation Sans', sans-serif" font-size="42" font-weight="bold" text-anchor="middle">A</text>
<line x1="80.8" y1="38" x2="80.8" y2="461.8" stroke="#4472C4" stroke-width="4"/>
<path d="M72.9 39.8L80.6 24.4L88.3 39.8Z" fill="#4472C4"/>
<line x1="80.9" y1="462.1" x2="773" y2="462.1" stroke="#4472C4" stroke-width="3.8"/>
<path d="M771.4 454.6L786.4 462.1L771.4 469.6Z" fill="#4472C4"/>
<text x="395.2" y="503.4" font-family="'Liberation Serif', serif" font-size="31.5" font-weight="bold" text-anchor="middle" textLength="224.4" lengthAdjust="spacingAndGlyphs">Annexin V-FITC</text>
<text x="804.6" y="120.4" font-family="'Liberation Sans', sans-serif" font-size="31.5" font-weight="bold" text-anchor="middle">B</text>
<rect x="835" y="88.5" width="19.5" height="11.5" fill="#F98484" stroke="#000" stroke-width="2"/>
<text x="868.5" y="100" font-family="'Liberation Serif', serif" font-size="20" textLength="104.5" lengthAdjust="spacingAndGlyphs">AnnexinV/PI</text>
<rect x="988" y="88.5" width="19.5" height="11.5" fill="#55A0FC" stroke="#000" stroke-width="2"/>
<text x="1021" y="100" font-family="'Liberation Serif', serif" font-size="20" textLength="81" lengthAdjust="spacingAndGlyphs">AnnexinV</text>
<text x="989" y="141" font-family="'Liberation Serif', serif" font-size="28" font-weight="bold" text-anchor="middle" textLength="72" lengthAdjust="spacingAndGlyphs">Daudi</text>
<rect x="909.5" y="333.3" width="37" height="29.1" fill="#55A0FC" stroke="#000" stroke-width="3"/>
<rect x="970.5" y="329.1" width="37" height="33.3" fill="#55A0FC" stroke="#000" stroke-width="3"/>
<rect x="1031.5" y="171.1" width="37" height="191.3" fill="#55A0FC" stroke="#000" stroke-width="3"/>
<rect x="1033" y="172.6" width="34" height="6.6" fill="#F98484"/>
<line x1="1033" y1="180.2" x2="1067" y2="180.2" stroke="#000" stroke-width="2.6"/>
<line x1="1040.3" y1="168" x2="1060" y2="168" stroke="#555" stroke-width="1.2"/>
<line x1="1050" y1="168" x2="1050" y2="170" stroke="#555" stroke-width="1.2"/>
<line x1="1040.3" y1="176" x2="1060" y2="176" stroke="#555" stroke-width="1.2"/>
<line x1="1050" y1="176" x2="1050" y2="180" stroke="#555" stroke-width="1.2"/>
<line x1="918" y1="330.5" x2="938" y2="330.5" stroke="#000" stroke-width="1.2"/>
<line x1="979" y1="326.3" x2="999" y2="326.3" stroke="#000" stroke-width="1.2"/>
<text x="1049.7" y="170.5" font-family="'Liberation Sans', sans-serif" font-size="18" text-anchor="middle" fill="#222">***</text>
<path d="M886.5 159V362.4H1091.3" stroke="#444" stroke-width="1.3" fill="none"/>
<line x1="878.5" y1="159" x2="886.5" y2="159" stroke="#444" stroke-width="1.3"/>
<text x="875.5" y="164.6" font-family="'Liberation Sans', sans-serif" font-size="16" font-weight="bold" text-anchor="end">100</text>
<line x1="878.5" y1="260.8" x2="886.5" y2="260.8" stroke="#444" stroke-width="1.3"/>
<text x="875.5" y="266.4" font-family="'Liberation Sans', sans-serif" font-size="16" font-weight="bold" text-anchor="end">50</text>
<line x1="878.5" y1="362.4" x2="886.5" y2="362.4" stroke="#444" stroke-width="1.3"/>
<text x="875.5" y="368" font-family="'Liberation Sans', sans-serif" font-size="16" font-weight="bold" text-anchor="end">0</text>
<line x1="927.1" y1="362.4" x2="927.1" y2="369.2" stroke="#444" stroke-width="1.3"/>
<text x="927.1" y="386.5" font-family="'Liberation Sans', sans-serif" font-size="16" font-weight="bold" text-anchor="middle">0</text>
<line x1="988.4" y1="362.4" x2="988.4" y2="369.2" stroke="#444" stroke-width="1.3"/>
<text x="988.4" y="386.5" font-family="'Liberation Sans', sans-serif" font-size="16" font-weight="bold" text-anchor="middle">5</text>
<line x1="1049.7" y1="362.4" x2="1049.7" y2="369.2" stroke="#444" stroke-width="1.3"/>
<text x="1049.7" y="386.5" font-family="'Liberation Sans', sans-serif" font-size="16" font-weight="bold" text-anchor="middle">10</text>
<text x="988" y="412.4" font-family="'Liberation Serif', serif" font-size="16" font-weight="bold" text-anchor="middle" textLength="123" lengthAdjust="spacingAndGlyphs">PHY-EA(µg/mL)</text>
<text x="838" y="260" font-family="'Liberation Serif', serif" font-size="26" font-weight="bold" text-anchor="middle" transform="rotate(-90 838 260)" textLength="153" lengthAdjust="spacingAndGlyphs">Apoptosis(%)</text>
<text x="1280" y="144.3" font-family="'Liberation Serif', serif" font-size="22" font-weight="bold" text-anchor="middle" textLength="107" lengthAdjust="spacingAndGlyphs">SU-DHL-4</text>
<rect x="1201" y="354.6" width="38" height="5" fill="#F98484" stroke="#000" stroke-width="2"/>
<rect x="1263.3" y="336.5" width="36" height="23.1" fill="#F98484" stroke="#000" stroke-width="3"/>
<rect x="1323.7" y="180.5" width="36.6" height="179.1" fill="#F98484" stroke="#000" stroke-width="3"/>
<line x1="1203" y1="357" x2="1237" y2="357" stroke="#000" stroke-width="1.3"/>
<line x1="1264.5" y1="357" x2="1298" y2="357" stroke="#000" stroke-width="1.3"/>
<line x1="1325" y1="357" x2="1359" y2="357" stroke="#000" stroke-width="1.3"/>
<line x1="1332.5" y1="174.3" x2="1352" y2="174.3" stroke="#555" stroke-width="1.2"/>
<line x1="1342" y1="174.3" x2="1342" y2="179" stroke="#555" stroke-width="1.2"/>
<line x1="1210" y1="351.5" x2="1230" y2="351.5" stroke="#888" stroke-width="1.2"/>
<line x1="1220" y1="351.5" x2="1220" y2="354" stroke="#888" stroke-width="1.2"/>
<text x="1342" y="175" font-family="'Liberation Sans', sans-serif" font-size="18" text-anchor="middle" fill="#222">***</text>
<path d="M1178.8 156.2V359.6H1384" stroke="#444" stroke-width="1.3" fill="none"/>
<line x1="1171.3" y1="156.2" x2="1178.8" y2="156.2" stroke="#444" stroke-width="1.3"/>
<text x="1167.9" y="161.8" font-family="'Liberation Sans', sans-serif" font-size="16" font-weight="bold" text-anchor="end">60</text>
<line x1="1171.3" y1="224" x2="1178.8" y2="224" stroke="#444" stroke-width="1.3"/>
<text x="1167.9" y="229.6" font-family="'Liberation Sans', sans-serif" font-size="16" font-weight="bold" text-anchor="end">40</text>
<line x1="1171.3" y1="291.7" x2="1178.8" y2="291.7" stroke="#444" stroke-width="1.3"/>
<text x="1167.9" y="297.3" font-family="'Liberation Sans', sans-serif" font-size="16" font-weight="bold" text-anchor="end">20</text>
<line x1="1171.3" y1="359.6" x2="1178.8" y2="359.6" stroke="#444" stroke-width="1.3"/>
<text x="1167.9" y="365.2" font-family="'Liberation Sans', sans-serif" font-size="16" font-weight="bold" text-anchor="end">0</text>
<line x1="1219.4" y1="359.6" x2="1219.4" y2="367" stroke="#444" stroke-width="1.3"/>
<text x="1219.4" y="384.2" font-family="'Liberation Sans', sans-serif" font-size="16" font-weight="bold" text-anchor="middle">0</text>
<line x1="1281" y1="359.6" x2="1281" y2="367" stroke="#444" stroke-width="1.3"/>
<text x="1281" y="384.2" font-family="'Liberation Sans', sans-serif" font-size="16" font-weight="bold" text-anchor="middle">5</text>
<line x1="1341.7" y1="359.6" x2="1341.7" y2="367" stroke="#444" stroke-width="1.3"/>
<text x="1341.7" y="384.2" font-family="'Liberation Sans', sans-serif" font-size="16" font-weight="bold" text-anchor="middle">10</text>
<text x="1280.5" y="410" font-family="'Liberation Serif', serif" font-size="16" font-weight="bold" text-anchor="middle" textLength="123" lengthAdjust="spacingAndGlyphs">PHY-EA(µg/mL)</text>
<text x="1140" y="256.8" font-family="'Liberation Serif', serif" font-size="26" font-weight="bold" text-anchor="middle" transform="rotate(-90 1140 256.8)" textLength="154" lengthAdjust="spacingAndGlyphs">Apoptosis(%)</text>
<defs>
<filter id="bl1" x="-50%" y="-100%" width="200%" height="300%"><feGaussianBlur stdDeviation=".7"/></filter>
<filter id="bl2" x="-50%" y="-100%" width="200%" height="300%"><feGaussianBlur stdDeviation="1.4"/></filter>
<filter id="bl3" x="-50%" y="-100%" width="200%" height="300%"><feGaussianBlur stdDeviation="2.1"/></filter>
<filter id="bl4" x="-50%" y="-100%" width="200%" height="300%"><feGaussianBlur stdDeviation="2.8"/></filter>
<filter id="bl5" x="-50%" y="-100%" width="200%" height="300%"><feGaussianBlur stdDeviation="3.5"/></filter>
<filter id="bl6" x="-50%" y="-100%" width="200%" height="300%"><feGaussianBlur stdDeviation="4.2"/></filter>
<filter id="bl8" x="-50%" y="-100%" width="200%" height="300%"><feGaussianBlur stdDeviation="5.6"/></filter>
</defs>
<text x="27.9" y="565.6" font-family="'Liberation Sans', sans-serif" font-size="39.5" font-weight="bold" text-anchor="middle" textLength="30.4" lengthAdjust="spacingAndGlyphs">C</text>
<text x="290" y="598.4" font-family="'Liberation Serif', serif" font-size="36" text-anchor="middle" textLength="163" lengthAdjust="spacingAndGlyphs">SU-DHL-4</text>
<text x="554.2" y="597.6" font-family="'Liberation Serif', serif" font-size="36" text-anchor="middle" textLength="88.6" lengthAdjust="spacingAndGlyphs">Daudi</text>
<text x="168.6" y="645.5" font-family="'Liberation Serif', serif" font-size="25.5" font-weight="bold" text-anchor="end" textLength="108.6" lengthAdjust="spacingAndGlyphs">Caspase 3</text>
<text x="168.6" y="686.6" font-family="'Liberation Serif', serif" font-size="20.8" font-weight="bold" text-anchor="end" textLength="165.6" lengthAdjust="spacingAndGlyphs">Cleaved-Caspase 3</text>
<text x="168.6" y="738.4" font-family="'Liberation Serif', serif" font-size="25.5" font-weight="bold" text-anchor="end" textLength="108.9" lengthAdjust="spacingAndGlyphs">Caspase 9</text>
<text x="168.6" y="787.6" font-family="'Liberation Serif', serif" font-size="25.5" font-weight="bold" text-anchor="end" textLength="75.9" lengthAdjust="spacingAndGlyphs">β-actin</text>
<text x="667.7" y="644.5" font-family="'Liberation Serif', serif" font-size="25" textLength="80.6" lengthAdjust="spacingAndGlyphs">32 KDa</text>
<text x="667.7" y="689.9" font-family="'Liberation Serif', serif" font-size="25" textLength="80.6" lengthAdjust="spacingAndGlyphs">18 KDa</text>
<text x="667.7" y="738.5" font-family="'Liberation Serif', serif" font-size="25" textLength="80.6" lengthAdjust="spacingAndGlyphs">46 KDa</text>
<text x="667.7" y="787" font-family="'Liberation Serif', serif" font-size="25" textLength="80.6" lengthAdjust="spacingAndGlyphs">43 KDa</text>
<text x="72" y="835.6" font-family="'Liberation Serif', serif" font-size="26" font-weight="bold" textLength="98.4" lengthAdjust="spacingAndGlyphs">PHY-EA</text>
<text x="205.2" y="835.6" font-family="'Liberation Serif', serif" font-size="28" font-weight="bold" text-anchor="middle">0</text>
<text x="252.5" y="835.6" font-family="'Liberation Serif', serif" font-size="28" font-weight="bold" text-anchor="middle">5</text>
<text x="307.5" y="835.6" font-family="'Liberation Serif', serif" font-size="28" font-weight="bold" text-anchor="middle">10</text>
<text x="361.5" y="835.6" font-family="'Liberation Serif', serif" font-size="28" font-weight="bold" text-anchor="middle">20</text>
<text x="471.4" y="835.6" font-family="'Liberation Serif', serif" font-size="28" font-weight="bold" text-anchor="middle">0</text>
<text x="518.4" y="835.6" font-family="'Liberation Serif', serif" font-size="28" font-weight="bold" text-anchor="middle">5</text>
<text x="573.2" y="835.6" font-family="'Liberation Serif', serif" font-size="28" font-weight="bold" text-anchor="middle">10</text>
<text x="613" y="835.6" font-family="'Liberation Serif', serif" font-size="28" font-weight="bold" textLength="126.3" lengthAdjust="spacingAndGlyphs">20 µg/mL</text>
<clipPath id="cb1"><rect x="177" y="614.6" width="224.2" height="40"/></clipPath>
<g clip-path="url(#cb1)">
<rect x="177" y="614.6" width="224.2" height="40" fill="#f1f1f1"/>
<rect x="185.7" y="625.5" width="48.3" height="20" rx="16" fill="#000" fill-opacity=".2" filter="url(#bl6)"/>
<rect x="189.7" y="630.5" width="40.3" height="10" rx="8" fill="#000" fill-opacity="1" filter="url(#bl2)"/>
<rect x="237" y="625.5" width="47.6" height="20" rx="16" fill="#000" fill-opacity=".2" filter="url(#bl6)"/>
<rect x="241" y="630.5" width="39.6" height="10" rx="8" fill="#000" fill-opacity="1" filter="url(#bl2)"/>
<rect x="286.9" y="625.5" width="47.4" height="20" rx="16" fill="#000" fill-opacity=".2" filter="url(#bl6)"/>
<rect x="290.9" y="630.5" width="39.4" height="10" rx="8" fill="#000" fill-opacity="1" filter="url(#bl2)"/>
<rect x="340" y="627" width="44" height="18" rx="14.4" fill="#000" fill-opacity=".1" filter="url(#bl6)"/>
<rect x="344" y="632" width="36" height="8" rx="6.4" fill="#000" fill-opacity=".6" filter="url(#bl2)"/>
</g>
<rect x="177" y="614.6" width="224.2" height="40" fill="none" stroke="#000" stroke-width="2"/>
<clipPath id="cb2"><rect x="177" y="662.4" width="224.2" height="39.8"/></clipPath>
<g clip-path="url(#cb2)">
<rect x="177" y="662.4" width="224.2" height="39.8" fill="#efefef"/>
<linearGradient id="gc2" x1="0" x2="1" y1="0" y2="0"><stop offset="0" stop-color="#c4c4c4"/><stop offset="1" stop-color="#d6d6d6"/></linearGradient><path d="M177 662.4H401.2V697L177 693Z" fill="url(#gc2)"/>
<rect x="184" y="680.5" width="42" height="6" rx="4.8" fill="#000" fill-opacity=".6" filter="url(#bl3)"/>
<rect x="240" y="679.5" width="52" height="6" rx="4.8" fill="#000" fill-opacity=".6" filter="url(#bl3)"/>
<rect x="304" y="683" width="32" height="6" rx="4.8" fill="#000" fill-opacity=".8" filter="url(#bl2)"/>
<rect x="354" y="685.8" width="38" height="6.5" rx="5.2" fill="#000" fill-opacity="1" filter="url(#bl2)"/>
</g>
<rect x="177" y="662.4" width="224.2" height="39.8" fill="none" stroke="#000" stroke-width="2"/>
<clipPath id="cb3"><rect x="177" y="711.6" width="224.2" height="39.8"/></clipPath>
<g clip-path="url(#cb3)">
<rect x="177" y="711.6" width="224.2" height="39.8" fill="#efefef"/>
<rect x="194" y="720" width="54.5" height="22" rx="17.6" fill="#000" fill-opacity=".2" filter="url(#bl6)"/>
<rect x="198" y="725" width="46.5" height="12" rx="9.6" fill="#000" fill-opacity="1" filter="url(#bl2)"/>
<rect x="239" y="720.5" width="56" height="21" rx="16.8" fill="#000" fill-opacity=".2" filter="url(#bl6)"/>
<rect x="243" y="725.5" width="48" height="11" rx="8.8" fill="#000" fill-opacity="1" filter="url(#bl2)"/>
<rect x="289.4" y="720" width="48.3" height="21" rx="16.8" fill="#000" fill-opacity=".2" filter="url(#bl6)"/>
<rect x="293.4" y="725" width="40.3" height="11" rx="8.8" fill="#000" fill-opacity="1" filter="url(#bl2)"/>
<rect x="343" y="721" width="45.3" height="17" rx="13.6" fill="#000" fill-opacity=".2" filter="url(#bl6)"/>
<rect x="347" y="726" width="37.3" height="7" rx="5.6" fill="#000" fill-opacity=".7" filter="url(#bl2)"/>
</g>
<rect x="177" y="711.6" width="224.2" height="39.8" fill="none" stroke="#000" stroke-width="2"/>
<clipPath id="cb4"><rect x="177" y="759.3" width="224.2" height="40.3"/></clipPath>
<g clip-path="url(#cb4)">
<rect x="177" y="759.3" width="224.2" height="40.3" fill="#f4f4f4"/>
<rect x="182" y="767.9" width="49" height="17" rx="13.6" fill="#000" fill-opacity=".2" filter="url(#bl6)"/>
<rect x="186" y="772.9" width="41" height="7" rx="5.6" fill="#000" fill-opacity="1" filter="url(#bl2)"/>
<rect x="233" y="767.2" width="51" height="17.5" rx="14" fill="#000" fill-opacity=".2" filter="url(#bl6)"/>
<rect x="237" y="772.2" width="43" height="7.5" rx="6" fill="#000" fill-opacity="1" filter="url(#bl2)"/>
<rect x="286" y="768.5" width="51" height="17" rx="13.6" fill="#000" fill-opacity=".2" filter="url(#bl6)"/>
<rect x="290" y="773.5" width="43" height="7" rx="5.6" fill="#000" fill-opacity="1" filter="url(#bl2)"/>
<rect x="341" y="769" width="48" height="17" rx="13.6" fill="#000" fill-opacity=".2" filter="url(#bl6)"/>
<rect x="345" y="774" width="40" height="7" rx="5.6" fill="#000" fill-opacity="1" filter="url(#bl2)"/>
</g>
<rect x="177" y="759.3" width="224.2" height="40.3" fill="none" stroke="#000" stroke-width="2"/>
<clipPath id="cb5"><rect x="435.3" y="617" width="224.9" height="39.1"/></clipPath>
<g clip-path="url(#cb5)">
<rect x="435.3" y="617" width="224.9" height="39.1" fill="#ececec"/>
<rect x="456.9" y="630.1" width="42.8" height="20" rx="16" fill="#000" fill-opacity=".2" filter="url(#bl6)"/>
<rect x="460.9" y="635.1" width="34.8" height="10" rx="8" fill="#000" fill-opacity="1" filter="url(#bl2)"/>
<rect x="506.9" y="629.5" width="42.3" height="20" rx="16" fill="#000" fill-opacity=".2" filter="url(#bl6)"/>
<rect x="510.9" y="634.5" width="34.3" height="10" rx="8" fill="#000" fill-opacity="1" filter="url(#bl2)"/>
<rect x="564" y="633.9" width="28" height="5.5" rx="4.4" fill="#000" fill-opacity=".8" filter="url(#bl2)"/>
</g>
<rect x="435.3" y="617" width="224.9" height="39.1" fill="none" stroke="#000" stroke-width="2"/>
<clipPath id="cb6"><rect x="435.3" y="664.1" width="224.9" height="39.1"/></clipPath>
<g clip-path="url(#cb6)">
<rect x="435.3" y="664.1" width="224.9" height="39.1" fill="#dcdcdc"/>
<linearGradient id="gc6" x1="0" x2="1" y1="0" y2="0"><stop offset="0" stop-color="#dedede"/><stop offset=".35" stop-color="#e6e6e6"/><stop offset=".6" stop-color="#cfcfcf"/><stop offset="1" stop-color="#b8b8b8"/></linearGradient><rect x="435" y="664" width="226" height="40" fill="url(#gc6)"/><ellipse cx="568" cy="692" rx="22" ry="22" fill="#000" fill-opacity=".3" filter="url(#bl6)"/><ellipse cx="628" cy="688" rx="24" ry="14" fill="#000" fill-opacity=".22" filter="url(#bl6)"/><ellipse cx="472" cy="690" rx="20" ry="8" fill="#000" fill-opacity=".12" filter="url(#bl5)"/><path d="M553 681Q552 672 565 672.5Q578 673 580 681L583 703L561 703L559 693Q553 689 553 681Z" fill="#000" filter="url(#bl1)"/><path d="M553 681Q552 672 565 672.5Q578 673 580 681L583 703" fill="none" stroke="#7a1a12" stroke-width="1" stroke-dasharray="1.5 1.5"/>
<rect x="611.5" y="681.6" width="34" height="9.5" rx="7.6" fill="#6a1610" fill-opacity=".8" filter="url(#bl1)"/>
<rect x="613.4" y="682.9" width="30" height="7" rx="5.6" fill="#000" fill-opacity="1" filter="url(#bl1)"/>
</g>
<rect x="435.3" y="664.1" width="224.9" height="39.1" fill="none" stroke="#000" stroke-width="2"/>
<clipPath id="cb7"><rect x="435.3" y="712.1" width="224.9" height="38.9"/></clipPath>
<g clip-path="url(#cb7)">
<rect x="435.3" y="712.1" width="224.9" height="38.9" fill="#eaeaea"/>
<rect x="447.4" y="718.4" width="50.9" height="20" rx="16" fill="#000" fill-opacity=".2" filter="url(#bl6)"/>
<rect x="451.4" y="723.4" width="42.9" height="10" rx="8" fill="#000" fill-opacity="1" filter="url(#bl2)"/>
<rect x="499.4" y="718.9" width="50.3" height="19" rx="15.2" fill="#000" fill-opacity=".2" filter="url(#bl6)"/>
<rect x="503.4" y="723.9" width="42.3" height="9" rx="7.2" fill="#000" fill-opacity="1" filter="url(#bl2)"/>
<rect x="549.1" y="717.5" width="50.9" height="21" rx="16.8" fill="#000" fill-opacity=".2" filter="url(#bl6)"/>
<rect x="553.1" y="722.5" width="42.9" height="11" rx="8.8" fill="#000" fill-opacity="1" filter="url(#bl2)"/>
<rect x="600.9" y="719.9" width="48.3" height="17" rx="13.6" fill="#000" fill-opacity=".2" filter="url(#bl6)"/>
<rect x="604.9" y="724.9" width="40.3" height="7" rx="5.6" fill="#000" fill-opacity=".8" filter="url(#bl2)"/>
</g>
<rect x="435.3" y="712.1" width="224.9" height="38.9" fill="none" stroke="#000" stroke-width="2"/>
<clipPath id="cb8"><rect x="435.3" y="759.8" width="224.9" height="39.3"/></clipPath>
<g clip-path="url(#cb8)">
<rect x="435.3" y="759.8" width="224.9" height="39.3" fill="#f4f4f4"/>
<rect x="441" y="767.4" width="46" height="18" rx="14.4" fill="#000" fill-opacity=".2" filter="url(#bl6)"/>
<rect x="445" y="772.4" width="38" height="8" rx="6.4" fill="#000" fill-opacity="1" filter="url(#bl2)"/>
<rect x="497" y="767.4" width="46.7" height="18" rx="14.4" fill="#000" fill-opacity=".2" filter="url(#bl6)"/>
<rect x="501" y="772.4" width="38.7" height="8" rx="6.4" fill="#000" fill-opacity="1" filter="url(#bl2)"/>
<rect x="552" y="768" width="27" height="18" rx="14.4" fill="#000" fill-opacity=".2" filter="url(#bl6)"/>
<rect x="556" y="773" width="19" height="8" rx="6.4" fill="#000" fill-opacity="1" filter="url(#bl2)"/>
<rect x="569" y="769" width="28" height="17" rx="13.6" fill="#000" fill-opacity=".2" filter="url(#bl6)"/>
<rect x="573" y="774" width="20" height="7" rx="5.6" fill="#000" fill-opacity="1" filter="url(#bl2)"/>
<rect x="605" y="771" width="44.2" height="17" rx="13.6" fill="#000" fill-opacity=".2" filter="url(#bl6)"/>
<rect x="609" y="776" width="36.2" height="7" rx="5.6" fill="#000" fill-opacity="1" filter="url(#bl2)"/>
</g>
<rect x="435.3" y="759.8" width="224.9" height="39.3" fill="none" stroke="#000" stroke-width="2"/>
<text x="788" y="536" font-family="'Liberation Sans', sans-serif" font-size="41" font-weight="bold" text-anchor="middle">D</text>
<text x="910.8" y="539.4" font-family="'Liberation Serif', serif" font-size="30.5" text-anchor="middle" textLength="123.5" lengthAdjust="spacingAndGlyphs">Caspase 3</text>
<text x="1108.7" y="537.5" font-family="'Liberation Serif', serif" font-size="26.5" text-anchor="middle" textLength="196.5" lengthAdjust="spacingAndGlyphs">Cleaved Caspase 3</text>
<text x="1316.3" y="539.4" font-family="'Liberation Serif', serif" font-size="30.5" text-anchor="middle" textLength="125.3" lengthAdjust="spacingAndGlyphs">Caspase 9</text>
<text x="787.4" y="629.6" font-family="'Liberation Serif', serif" font-size="27.6" text-anchor="middle" transform="rotate(-90 787.4 629.6)" textLength="64" lengthAdjust="spacingAndGlyphs">Daudi</text>
<text x="792.7" y="839.2" font-family="'Liberation Serif', serif" font-size="28" text-anchor="middle" transform="rotate(-90 792.7 839.2)" textLength="116.5" lengthAdjust="spacingAndGlyphs">SU-DHL-4</text>
<path d="M849.3 555.7V700H983.6" stroke="#333" stroke-width="1.2" fill="none"/>
<line x1="844.3" y1="700" x2="849.3" y2="700" stroke="#333" stroke-width="1.2"/>
<text x="842.7" y="703.8" font-family="'Liberation Sans', sans-serif" font-size="10.5" font-weight="bold" text-anchor="end">0.0</text>
<line x1="844.3" y1="651.9" x2="849.3" y2="651.9" stroke="#333" stroke-width="1.2"/>
<text x="842.7" y="655.6" font-family="'Liberation Sans', sans-serif" font-size="10.5" font-weight="bold" text-anchor="end">0.5</text>
<line x1="844.3" y1="603.8" x2="849.3" y2="603.8" stroke="#333" stroke-width="1.2"/>
<text x="842.7" y="607.6" font-family="'Liberation Sans', sans-serif" font-size="10.5" font-weight="bold" text-anchor="end">1.0</text>
<line x1="844.3" y1="555.7" x2="849.3" y2="555.7" stroke="#333" stroke-width="1.2"/>
<text x="842.7" y="559.5" font-family="'Liberation Sans', sans-serif" font-size="10.5" font-weight="bold" text-anchor="end">1.5</text>
<line x1="869.6" y1="700" x2="869.6" y2="705" stroke="#333" stroke-width="1.2"/>
<text x="869.6" y="717.5" font-family="'Liberation Sans', sans-serif" font-size="10.5" font-weight="bold" text-anchor="middle">0</text>
<line x1="900.7" y1="700" x2="900.7" y2="705" stroke="#333" stroke-width="1.2"/>
<text x="900.7" y="717.5" font-family="'Liberation Sans', sans-serif" font-size="10.5" font-weight="bold" text-anchor="middle">5</text>
<line x1="931.9" y1="700" x2="931.9" y2="705" stroke="#333" stroke-width="1.2"/>
<text x="931.9" y="717.5" font-family="'Liberation Sans', sans-serif" font-size="10.5" font-weight="bold" text-anchor="middle">10</text>
<line x1="962.9" y1="700" x2="962.9" y2="705" stroke="#333" stroke-width="1.2"/>
<text x="962.9" y="717.5" font-family="'Liberation Sans', sans-serif" font-size="10.5" font-weight="bold" text-anchor="middle">20</text>
<line x1="859.3" y1="603.8" x2="879.9" y2="603.8" stroke="#111" stroke-width="2"/>
<circle cx="862" cy="603.8" r="3.4" fill="#4D9FF2"/>
<circle cx="869.6" cy="603.8" r="3.4" fill="#4D9FF2"/>
<circle cx="877.2" cy="603.8" r="3.4" fill="#4D9FF2"/>
<path d="M900.7 622.1V628.8M895.2 622.1h11M895.2 628.8h11" stroke="#92C8F6" stroke-width="1.5" fill="none"/>
<line x1="890.4" y1="625.9" x2="911" y2="625.9" stroke="#111" stroke-width="2"/>
<circle cx="893.1" cy="629.8" r="3.4" fill="#4D9FF2"/>
<circle cx="900.7" cy="618.2" r="3.4" fill="#4D9FF2"/>
<circle cx="908.3" cy="629.8" r="3.4" fill="#4D9FF2"/>
<path d="M931.9 632.7V644.2M926.4 632.7h11M926.4 644.2h11" stroke="#92C8F6" stroke-width="1.5" fill="none"/>
<line x1="921.6" y1="638.4" x2="942.2" y2="638.4" stroke="#111" stroke-width="2"/>
<circle cx="931.9" cy="628.8" r="3.4" fill="#4D9FF2"/>
<circle cx="931.9" cy="638.4" r="3.4" fill="#4D9FF2"/>
<circle cx="931.9" cy="649.0" r="3.4" fill="#4D9FF2"/>
<line x1="952.6" y1="654.8" x2="973.2" y2="654.8" stroke="#111" stroke-width="2"/>
<circle cx="955.3" cy="655.7" r="3.4" fill="#4D9FF2"/>
<circle cx="962.9" cy="652.9" r="3.4" fill="#4D9FF2"/>
<circle cx="970.5" cy="655.7" r="3.4" fill="#4D9FF2"/>
<text x="962.9" y="653.4" font-family="'Liberation Sans', sans-serif" font-size="17" text-anchor="middle" fill="#222">*</text>
<text x="820.3" y="628.4" font-family="'Liberation Serif', serif" font-size="17" font-weight="bold" text-anchor="middle" transform="rotate(-90 820.3 628.4)" textLength="157" lengthAdjust="spacingAndGlyphs">Relative protein level</text>
<text x="916.5" y="741.4" font-family="'Liberation Serif', serif" font-size="16" font-weight="bold" text-anchor="middle" textLength="124" lengthAdjust="spacingAndGlyphs">PHY-EA(µg/mL)</text>
<path d="M1049.3 555.7V700H1185.7" stroke="#333" stroke-width="1.2" fill="none"/>
<line x1="1044.3" y1="700" x2="1049.3" y2="700" stroke="#333" stroke-width="1.2"/>
<text x="1042.7" y="703.8" font-family="'Liberation Sans', sans-serif" font-size="10.5" font-weight="bold" text-anchor="end">0</text>
<line x1="1044.3" y1="663.9" x2="1049.3" y2="663.9" stroke="#333" stroke-width="1.2"/>
<text x="1042.7" y="667.7" font-family="'Liberation Sans', sans-serif" font-size="10.5" font-weight="bold" text-anchor="end">20</text>
<line x1="1044.3" y1="627.9" x2="1049.3" y2="627.9" stroke="#333" stroke-width="1.2"/>
<text x="1042.7" y="631.6" font-family="'Liberation Sans', sans-serif" font-size="10.5" font-weight="bold" text-anchor="end">40</text>
<line x1="1044.3" y1="591.8" x2="1049.3" y2="591.8" stroke="#333" stroke-width="1.2"/>
<text x="1042.7" y="595.5" font-family="'Liberation Sans', sans-serif" font-size="10.5" font-weight="bold" text-anchor="end">60</text>
<line x1="1044.3" y1="555.7" x2="1049.3" y2="555.7" stroke="#333" stroke-width="1.2"/>
<text x="1042.7" y="559.5" font-family="'Liberation Sans', sans-serif" font-size="10.5" font-weight="bold" text-anchor="end">80</text>
<line x1="1070.3" y1="700" x2="1070.3" y2="705" stroke="#333" stroke-width="1.2"/>
<text x="1070.3" y="717.5" font-family="'Liberation Sans', sans-serif" font-size="10.5" font-weight="bold" text-anchor="middle">0</text>
<line x1="1101.7" y1="700" x2="1101.7" y2="705" stroke="#333" stroke-width="1.2"/>
<text x="1101.7" y="717.5" font-family="'Liberation Sans', sans-serif" font-size="10.5" font-weight="bold" text-anchor="middle">5</text>
<line x1="1133.1" y1="700" x2="1133.1" y2="705" stroke="#333" stroke-width="1.2"/>
<text x="1133.1" y="717.5" font-family="'Liberation Sans', sans-serif" font-size="10.5" font-weight="bold" text-anchor="middle">10</text>
<line x1="1165" y1="700" x2="1165" y2="705" stroke="#333" stroke-width="1.2"/>
<text x="1165" y="717.5" font-family="'Liberation Sans', sans-serif" font-size="10.5" font-weight="bold" text-anchor="middle">20</text>
<line x1="1060" y1="698.6" x2="1080.6" y2="698.6" stroke="#111" stroke-width="2"/>
<circle cx="1062.7" cy="698.6" r="3.4" fill="#4D9FF2"/>
<circle cx="1070.3" cy="698.6" r="3.4" fill="#4D9FF2"/>
<circle cx="1077.9" cy="698.6" r="3.4" fill="#4D9FF2"/>
<line x1="1091.4" y1="695.5" x2="1112" y2="695.5" stroke="#111" stroke-width="2"/>
<circle cx="1094.1" cy="698.2" r="3.4" fill="#4D9FF2"/>
<circle cx="1101.7" cy="692.8" r="3.4" fill="#4D9FF2"/>
<circle cx="1109.5" cy="695.5" r="3.4" fill="#4D9FF2"/>
<path d="M1133.1 689.9V694.6M1127.6 689.9h11M1127.6 694.6h11" stroke="#92C8F6" stroke-width="1.5" fill="none"/>
<line x1="1122.8" y1="692.4" x2="1143.4" y2="692.4" stroke="#111" stroke-width="2"/>
<circle cx="1126.1" cy="688.3" r="3.4" fill="#4D9FF2"/>
<circle cx="1126.1" cy="696.4" r="3.4" fill="#4D9FF2"/>
<circle cx="1141.6" cy="692.4" r="3.4" fill="#4D9FF2"/>
<path d="M1165 592.7V643.2M1159.5 592.7h11M1159.5 643.2h11" stroke="#92C8F6" stroke-width="1.5" fill="none"/>
<line x1="1154.7" y1="617.9" x2="1175.3" y2="617.9" stroke="#111" stroke-width="2"/>
<circle cx="1165" cy="573.7" r="3.4" fill="#4D9FF2"/>
<circle cx="1165" cy="617.9" r="3.4" fill="#4D9FF2"/>
<circle cx="1165" cy="662.1" r="3.4" fill="#4D9FF2"/>
<text x="1165" y="574.2" font-family="'Liberation Sans', sans-serif" font-size="17" text-anchor="middle" fill="#222">*</text>
<text x="1020.3" y="628.4" font-family="'Liberation Serif', serif" font-size="17" font-weight="bold" text-anchor="middle" transform="rotate(-90 1020.3 628.4)" textLength="157" lengthAdjust="spacingAndGlyphs">Relative protein level</text>
<text x="1117.5" y="741.4" font-family="'Liberation Serif', serif" font-size="16" font-weight="bold" text-anchor="middle" textLength="124" lengthAdjust="spacingAndGlyphs">PHY-EA(µg/mL)</text>
<path d="M1260.8 555.7V700H1396" stroke="#333" stroke-width="1.2" fill="none"/>
<line x1="1255.8" y1="700" x2="1260.8" y2="700" stroke="#333" stroke-width="1.2"/>
<text x="1254.2" y="703.8" font-family="'Liberation Sans', sans-serif" font-size="10.5" font-weight="bold" text-anchor="end">0.0</text>
<line x1="1255.8" y1="651.9" x2="1260.8" y2="651.9" stroke="#333" stroke-width="1.2"/>
<text x="1254.2" y="655.6" font-family="'Liberation Sans', sans-serif" font-size="10.5" font-weight="bold" text-anchor="end">0.5</text>
<line x1="1255.8" y1="603.8" x2="1260.8" y2="603.8" stroke="#333" stroke-width="1.2"/>
<text x="1254.2" y="607.6" font-family="'Liberation Sans', sans-serif" font-size="10.5" font-weight="bold" text-anchor="end">1.0</text>
<line x1="1255.8" y1="555.7" x2="1260.8" y2="555.7" stroke="#333" stroke-width="1.2"/>
<text x="1254.2" y="559.5" font-family="'Liberation Sans', sans-serif" font-size="10.5" font-weight="bold" text-anchor="end">1.5</text>
<line x1="1282" y1="700" x2="1282" y2="705" stroke="#333" stroke-width="1.2"/>
<text x="1282" y="717.5" font-family="'Liberation Sans', sans-serif" font-size="10.5" font-weight="bold" text-anchor="middle">0</text>
<line x1="1313" y1="700" x2="1313" y2="705" stroke="#333" stroke-width="1.2"/>
<text x="1313" y="717.5" font-family="'Liberation Sans', sans-serif" font-size="10.5" font-weight="bold" text-anchor="middle">5</text>
<line x1="1344" y1="700" x2="1344" y2="705" stroke="#333" stroke-width="1.2"/>
<text x="1344" y="717.5" font-family="'Liberation Sans', sans-serif" font-size="10.5" font-weight="bold" text-anchor="middle">10</text>
<line x1="1375" y1="700" x2="1375" y2="705" stroke="#333" stroke-width="1.2"/>
<text x="1375" y="717.5" font-family="'Liberation Sans', sans-serif" font-size="10.5" font-weight="bold" text-anchor="middle">20</text>
<line x1="1271.7" y1="603.8" x2="1292.3" y2="603.8" stroke="#111" stroke-width="2"/>
<circle cx="1274.4" cy="603.8" r="3.4" fill="#4D9FF2"/>
<circle cx="1282" cy="603.8" r="3.4" fill="#4D9FF2"/>
<circle cx="1289.6" cy="603.8" r="3.4" fill="#4D9FF2"/>
<line x1="1302.7" y1="650.0" x2="1323.3" y2="650.0" stroke="#111" stroke-width="2"/>
<circle cx="1305.4" cy="647.1" r="3.4" fill="#4D9FF2"/>
<circle cx="1305.4" cy="653.8" r="3.4" fill="#4D9FF2"/>
<circle cx="1320.6" cy="650.0" r="3.4" fill="#4D9FF2"/>
<path d="M1344 646.1V651.9M1338.5 646.1h11M1338.5 651.9h11" stroke="#92C8F6" stroke-width="1.5" fill="none"/>
<line x1="1333.7" y1="649.0" x2="1354.3" y2="649.0" stroke="#111" stroke-width="2"/>
<circle cx="1336.4" cy="645.2" r="3.4" fill="#4D9FF2"/>
<circle cx="1336.4" cy="652.9" r="3.4" fill="#4D9FF2"/>
<circle cx="1351.6" cy="649.0" r="3.4" fill="#4D9FF2"/>
<path d="M1375 650.0V656.7M1369.5 650.0h11M1369.5 656.7h11" stroke="#92C8F6" stroke-width="1.5" fill="none"/>
<line x1="1364.7" y1="653.8" x2="1385.3" y2="653.8" stroke="#111" stroke-width="2"/>
<circle cx="1367.4" cy="657.7" r="3.4" fill="#4D9FF2"/>
<circle cx="1375" cy="648.1" r="3.4" fill="#4D9FF2"/>
<circle cx="1382.6" cy="654.8" r="3.4" fill="#4D9FF2"/>
<text x="1375" y="648.6" font-family="'Liberation Sans', sans-serif" font-size="17" text-anchor="middle" fill="#222">*</text>
<text x="1231.8" y="628.4" font-family="'Liberation Serif', serif" font-size="17" font-weight="bold" text-anchor="middle" transform="rotate(-90 1231.8 628.4)" textLength="157" lengthAdjust="spacingAndGlyphs">Relative protein level</text>
<text x="1328.4" y="741.4" font-family="'Liberation Serif', serif" font-size="16" font-weight="bold" text-anchor="middle" textLength="124" lengthAdjust="spacingAndGlyphs">PHY-EA(µg/mL)</text>
<path d="M848.3 775.5V920.6H983" stroke="#333" stroke-width="1.2" fill="none"/>
<line x1="843.3" y1="920.6" x2="848.3" y2="920.6" stroke="#333" stroke-width="1.2"/>
<text x="841.7" y="924.4" font-family="'Liberation Sans', sans-serif" font-size="10.5" font-weight="bold" text-anchor="end">0.0</text>
<line x1="843.3" y1="872.2" x2="848.3" y2="872.2" stroke="#333" stroke-width="1.2"/>
<text x="841.7" y="876.0" font-family="'Liberation Sans', sans-serif" font-size="10.5" font-weight="bold" text-anchor="end">0.5</text>
<line x1="843.3" y1="823.9" x2="848.3" y2="823.9" stroke="#333" stroke-width="1.2"/>
<text x="841.7" y="827.6" font-family="'Liberation Sans', sans-serif" font-size="10.5" font-weight="bold" text-anchor="end">1.0</text>
<line x1="843.3" y1="775.5" x2="848.3" y2="775.5" stroke="#333" stroke-width="1.2"/>
<text x="841.7" y="779.2" font-family="'Liberation Sans', sans-serif" font-size="10.5" font-weight="bold" text-anchor="end">1.5</text>
<line x1="868.5" y1="920.6" x2="868.5" y2="925.6" stroke="#333" stroke-width="1.2"/>
<text x="868.5" y="938.1" font-family="'Liberation Sans', sans-serif" font-size="10.5" font-weight="bold" text-anchor="middle">0</text>
<line x1="899.8" y1="920.6" x2="899.8" y2="925.6" stroke="#333" stroke-width="1.2"/>
<text x="899.8" y="938.1" font-family="'Liberation Sans', sans-serif" font-size="10.5" font-weight="bold" text-anchor="middle">5</text>
<line x1="931" y1="920.6" x2="931" y2="925.6" stroke="#333" stroke-width="1.2"/>
<text x="931" y="938.1" font-family="'Liberation Sans', sans-serif" font-size="10.5" font-weight="bold" text-anchor="middle">10</text>
<line x1="962" y1="920.6" x2="962" y2="925.6" stroke="#333" stroke-width="1.2"/>
<text x="962" y="938.1" font-family="'Liberation Sans', sans-serif" font-size="10.5" font-weight="bold" text-anchor="middle">20</text>
<line x1="858.2" y1="823.9" x2="878.8" y2="823.9" stroke="#111" stroke-width="2"/>
<circle cx="860.9" cy="823.9" r="3.4" fill="#4D9FF2"/>
<circle cx="868.5" cy="823.9" r="3.4" fill="#4D9FF2"/>
<circle cx="876.1" cy="823.9" r="3.4" fill="#4D9FF2"/>
<path d="M899.8 830.6V844.2M894.3 830.6h11M894.3 844.2h11" stroke="#92C8F6" stroke-width="1.5" fill="none"/>
<line x1="889.5" y1="837.4" x2="910.1" y2="837.4" stroke="#111" stroke-width="2"/>
<circle cx="899.8" cy="824.8" r="3.4" fill="#4D9FF2"/>
<circle cx="899.8" cy="837.4" r="3.4" fill="#4D9FF2"/>
<circle cx="899.8" cy="850.0" r="3.4" fill="#4D9FF2"/>
<path d="M931 868.4V874.2M925.5 868.4h11M925.5 874.2h11" stroke="#92C8F6" stroke-width="1.5" fill="none"/>
<line x1="920.7" y1="871.3" x2="941.3" y2="871.3" stroke="#111" stroke-width="2"/>
<circle cx="923.4" cy="867.4" r="3.4" fill="#4D9FF2"/>
<circle cx="931" cy="876.1" r="3.4" fill="#4D9FF2"/>
<circle cx="938.6" cy="872.2" r="3.4" fill="#4D9FF2"/>
<line x1="951.7" y1="910.0" x2="972.3" y2="910.0" stroke="#111" stroke-width="2"/>
<circle cx="954.4" cy="912.9" r="3.4" fill="#4D9FF2"/>
<circle cx="962" cy="909.0" r="3.4" fill="#4D9FF2"/>
<circle cx="969.6" cy="909.0" r="3.4" fill="#4D9FF2"/>
<text x="962" y="909.5" font-family="'Liberation Sans', sans-serif" font-size="17" text-anchor="middle" fill="#222">*</text>
<text x="819.3" y="848.5" font-family="'Liberation Serif', serif" font-size="17" font-weight="bold" text-anchor="middle" transform="rotate(-90 819.3 848.5)" textLength="157" lengthAdjust="spacingAndGlyphs">Relative protein level</text>
<text x="915.6" y="962" font-family="'Liberation Serif', serif" font-size="16" font-weight="bold" text-anchor="middle" textLength="124" lengthAdjust="spacingAndGlyphs">PHY-EA(µg/mL)</text>
<path d="M1050.3 774.4V919.2H1187.4" stroke="#333" stroke-width="1.2" fill="none"/>
<line x1="1045.3" y1="919.2" x2="1050.3" y2="919.2" stroke="#333" stroke-width="1.2"/>
<text x="1043.7" y="923.0" font-family="'Liberation Sans', sans-serif" font-size="10.5" font-weight="bold" text-anchor="end">0</text>
<line x1="1045.3" y1="870.9" x2="1050.3" y2="870.9" stroke="#333" stroke-width="1.2"/>
<text x="1043.7" y="874.7" font-family="'Liberation Sans', sans-serif" font-size="10.5" font-weight="bold" text-anchor="end">10</text>
<line x1="1045.3" y1="822.7" x2="1050.3" y2="822.7" stroke="#333" stroke-width="1.2"/>
<text x="1043.7" y="826.4" font-family="'Liberation Sans', sans-serif" font-size="10.5" font-weight="bold" text-anchor="end">20</text>
<line x1="1045.3" y1="774.4" x2="1050.3" y2="774.4" stroke="#333" stroke-width="1.2"/>
<text x="1043.7" y="778.1" font-family="'Liberation Sans', sans-serif" font-size="10.5" font-weight="bold" text-anchor="end">30</text>
<line x1="1071.8" y1="919.2" x2="1071.8" y2="924.2" stroke="#333" stroke-width="1.2"/>
<text x="1071.8" y="936.7" font-family="'Liberation Sans', sans-serif" font-size="10.5" font-weight="bold" text-anchor="middle">0</text>
<line x1="1103.3" y1="919.2" x2="1103.3" y2="924.2" stroke="#333" stroke-width="1.2"/>
<text x="1103.3" y="936.7" font-family="'Liberation Sans', sans-serif" font-size="10.5" font-weight="bold" text-anchor="middle">5</text>
<line x1="1135.3" y1="919.2" x2="1135.3" y2="924.2" stroke="#333" stroke-width="1.2"/>
<text x="1135.3" y="936.7" font-family="'Liberation Sans', sans-serif" font-size="10.5" font-weight="bold" text-anchor="middle">10</text>
<line x1="1166.4" y1="919.2" x2="1166.4" y2="924.2" stroke="#333" stroke-width="1.2"/>
<text x="1166.4" y="936.7" font-family="'Liberation Sans', sans-serif" font-size="10.5" font-weight="bold" text-anchor="middle">20</text>
<line x1="1061.5" y1="914.4" x2="1082.1" y2="914.4" stroke="#111" stroke-width="2"/>
<circle cx="1064.2" cy="914.4" r="3.4" fill="#4D9FF2"/>
<circle cx="1071.8" cy="914.4" r="3.4" fill="#4D9FF2"/>
<circle cx="1079.4" cy="914.4" r="3.4" fill="#4D9FF2"/>
<line x1="1093" y1="909.1" x2="1113.6" y2="909.1" stroke="#111" stroke-width="2"/>
<circle cx="1095.7" cy="910.5" r="3.4" fill="#4D9FF2"/>
<circle cx="1103.3" cy="907.6" r="3.4" fill="#4D9FF2"/>
<circle cx="1110.9" cy="908.6" r="3.4" fill="#4D9FF2"/>
<path d="M1135.3 835.2V860.3M1129.8 835.2h11M1129.8 860.3h11" stroke="#92C8F6" stroke-width="1.5" fill="none"/>
<line x1="1125" y1="847.8" x2="1145.6" y2="847.8" stroke="#111" stroke-width="2"/>
<circle cx="1135.3" cy="824.6" r="3.4" fill="#4D9FF2"/>
<circle cx="1135.3" cy="851.6" r="3.4" fill="#4D9FF2"/>
<circle cx="1135.3" cy="867.1" r="3.4" fill="#4D9FF2"/>
<text x="1135.3" y="825.1" font-family="'Liberation Sans', sans-serif" font-size="17" text-anchor="middle" fill="#222">*</text>
<path d="M1166.4 811.6V837.1M1160.9 811.6h11M1160.9 837.1h11" stroke="#92C8F6" stroke-width="1.5" fill="none"/>
<line x1="1156.1" y1="824.1" x2="1176.7" y2="824.1" stroke="#111" stroke-width="2"/>
<circle cx="1166.4" cy="802.4" r="3.4" fill="#4D9FF2"/>
<circle cx="1166.4" cy="824.6" r="3.4" fill="#4D9FF2"/>
<circle cx="1166.4" cy="847.8" r="3.4" fill="#4D9FF2"/>
<text x="1166.4" y="802.9" font-family="'Liberation Sans', sans-serif" font-size="17" text-anchor="middle" fill="#222">**</text>
<text x="1021.3" y="847.3" font-family="'Liberation Serif', serif" font-size="17" font-weight="bold" text-anchor="middle" transform="rotate(-90 1021.3 847.3)" textLength="157" lengthAdjust="spacingAndGlyphs">Relative protein level</text>
<text x="1118.8" y="960.6" font-family="'Liberation Serif', serif" font-size="16" font-weight="bold" text-anchor="middle" textLength="124" lengthAdjust="spacingAndGlyphs">PHY-EA(µg/mL)</text>
<path d="M1261.5 773.4V918.3H1396.8" stroke="#333" stroke-width="1.2" fill="none"/>
<line x1="1256.5" y1="918.3" x2="1261.5" y2="918.3" stroke="#333" stroke-width="1.2"/>
<text x="1254.9" y="922.0" font-family="'Liberation Sans', sans-serif" font-size="10.5" font-weight="bold" text-anchor="end">0.0</text>
<line x1="1256.5" y1="870" x2="1261.5" y2="870" stroke="#333" stroke-width="1.2"/>
<text x="1254.9" y="873.8" font-family="'Liberation Sans', sans-serif" font-size="10.5" font-weight="bold" text-anchor="end">0.5</text>
<line x1="1256.5" y1="821.7" x2="1261.5" y2="821.7" stroke="#333" stroke-width="1.2"/>
<text x="1254.9" y="825.4" font-family="'Liberation Sans', sans-serif" font-size="10.5" font-weight="bold" text-anchor="end">1.0</text>
<line x1="1256.5" y1="773.4" x2="1261.5" y2="773.4" stroke="#333" stroke-width="1.2"/>
<text x="1254.9" y="777.1" font-family="'Liberation Sans', sans-serif" font-size="10.5" font-weight="bold" text-anchor="end">1.5</text>
<line x1="1281.1" y1="918.3" x2="1281.1" y2="923.3" stroke="#333" stroke-width="1.2"/>
<text x="1281.1" y="935.8" font-family="'Liberation Sans', sans-serif" font-size="10.5" font-weight="bold" text-anchor="middle">0</text>
<line x1="1312.2" y1="918.3" x2="1312.2" y2="923.3" stroke="#333" stroke-width="1.2"/>
<text x="1312.2" y="935.8" font-family="'Liberation Sans', sans-serif" font-size="10.5" font-weight="bold" text-anchor="middle">5</text>
<line x1="1343.8" y1="918.3" x2="1343.8" y2="923.3" stroke="#333" stroke-width="1.2"/>
<text x="1343.8" y="935.8" font-family="'Liberation Sans', sans-serif" font-size="10.5" font-weight="bold" text-anchor="middle">10</text>
<line x1="1374.9" y1="918.3" x2="1374.9" y2="923.3" stroke="#333" stroke-width="1.2"/>
<text x="1374.9" y="935.8" font-family="'Liberation Sans', sans-serif" font-size="10.5" font-weight="bold" text-anchor="middle">20</text>
<line x1="1270.8" y1="821.7" x2="1291.4" y2="821.7" stroke="#111" stroke-width="2"/>
<circle cx="1273.5" cy="821.7" r="3.4" fill="#4D9FF2"/>
<circle cx="1281.1" cy="821.7" r="3.4" fill="#4D9FF2"/>
<circle cx="1288.7" cy="821.7" r="3.4" fill="#4D9FF2"/>
<line x1="1301.9" y1="855.5" x2="1322.5" y2="855.5" stroke="#111" stroke-width="2"/>
<circle cx="1304.6" cy="857.4" r="3.4" fill="#4D9FF2"/>
<circle cx="1312.2" cy="853.6" r="3.4" fill="#4D9FF2"/>
<circle cx="1319.8" cy="855.5" r="3.4" fill="#4D9FF2"/>
<line x1="1333.5" y1="850.7" x2="1354.1" y2="850.7" stroke="#111" stroke-width="2"/>
<circle cx="1336.2" cy="852.6" r="3.4" fill="#4D9FF2"/>
<circle cx="1343.8" cy="848.7" r="3.4" fill="#4D9FF2"/>
<circle cx="1351.4" cy="850.7" r="3.4" fill="#4D9FF2"/>
<path d="M1374.9 860.3V864.2M1369.4 860.3h11M1369.4 864.2h11" stroke="#92C8F6" stroke-width="1.5" fill="none"/>
<line x1="1364.6" y1="862.3" x2="1385.2" y2="862.3" stroke="#111" stroke-width="2"/>
<circle cx="1367.3" cy="865.2" r="3.4" fill="#4D9FF2"/>
<circle cx="1367.3" cy="859.4" r="3.4" fill="#4D9FF2"/>
<circle cx="1382.5" cy="862.3" r="3.4" fill="#4D9FF2"/>
<text x="1374.9" y="859.9" font-family="'Liberation Sans', sans-serif" font-size="17" text-anchor="middle" fill="#222">**</text>
<text x="1232.5" y="846.3" font-family="'Liberation Serif', serif" font-size="17" font-weight="bold" text-anchor="middle" transform="rotate(-90 1232.5 846.3)" textLength="157" lengthAdjust="spacingAndGlyphs">Relative protein level</text>
<text x="1329.2" y="959.7" font-family="'Liberation Serif', serif" font-size="16" font-weight="bold" text-anchor="middle" textLength="124" lengthAdjust="spacingAndGlyphs">PHY-EA(µg/mL)</text>
<defs><pattern id="hatch" width="3.1" height="3.1" patternUnits="userSpaceOnUse" patternTransform="rotate(-45)"><line x1="0" y1="0" x2="0" y2="3.1" stroke="#6c6ce0" stroke-width="1.15"/></pattern></defs>
<clipPath id="hs0"><path d="M175.6 1195.4L176.9 1195.3L178.1 1195.2L179.4 1195.0L180.6 1194.8L181.9 1194.6L183.2 1194.1L184.4 1193.6L185.7 1192.8L186.9 1191.7L188.2 1190.2L189.5 1188.3L190.7 1186.0L192.0 1183.4L193.2 1180.4L194.5 1177.4L195.8 1174.5L197.0 1172.0L198.3 1169.8L199.5 1168.1L200.8 1166.8L202.1 1165.8L203.3 1165.1L204.6 1164.6L205.8 1164.3L207.1 1164.0L208.4 1163.9L209.6 1163.8L210.9 1163.7L212.1 1163.7L213.4 1163.8L214.7 1163.8L215.9 1163.9L217.2 1163.9L218.4 1164.0L219.7 1164.2L221.0 1164.3L222.2 1164.5L223.5 1164.7L224.7 1165.0L226 1165.3L227.3 1165.6L228.5 1166.0L229.8 1166.5L231.0 1167.0L232.3 1167.6L233.6 1168.3L234.8 1169.1L236.1 1170.0L237.3 1171.0L238.6 1172.0L239.9 1173.2L241.1 1174.4L242.4 1175.7L243.6 1177.1L244.9 1178.5L246.2 1179.9L247.4 1181.3L248.7 1182.6L249.9 1184.0L251.2 1185.2L252.5 1186.4L253.7 1187.5L255.0 1188.5L256.2 1189.4L257.5 1190.2L258.8 1190.9L260.0 1191.6L261.3 1192.1L262.5 1192.6L263.8 1193.1L265.1 1193.4L266.3 1193.7L267.6 1194.0L268.8 1194.2L270.1 1194.4L271.4 1194.6L272.6 1194.7L273.9 1194.9L275.1 1195.0L276.4 1195.0L277.7 1195.1L278.9 1195.2L280.2 1195.2L281.4 1195.3L282.7 1195.3L282.7 1195.5L175.6 1195.5Z"/></clipPath>
<path d="M175.6 1195.4L176.9 1195.3L178.1 1195.2L179.4 1195.0L180.6 1194.8L181.9 1194.6L183.2 1194.1L184.4 1193.6L185.7 1192.8L186.9 1191.7L188.2 1190.2L189.5 1188.3L190.7 1186.0L192.0 1183.4L193.2 1180.4L194.5 1177.4L195.8 1174.5L197.0 1172.0L198.3 1169.8L199.5 1168.1L200.8 1166.8L202.1 1165.8L203.3 1165.1L204.6 1164.6L205.8 1164.3L207.1 1164.0L208.4 1163.9L209.6 1163.8L210.9 1163.7L212.1 1163.7L213.4 1163.8L214.7 1163.8L215.9 1163.9L217.2 1163.9L218.4 1164.0L219.7 1164.2L221.0 1164.3L222.2 1164.5L223.5 1164.7L224.7 1165.0L226 1165.3L227.3 1165.6L228.5 1166.0L229.8 1166.5L231.0 1167.0L232.3 1167.6L233.6 1168.3L234.8 1169.1L236.1 1170.0L237.3 1171.0L238.6 1172.0L239.9 1173.2L241.1 1174.4L242.4 1175.7L243.6 1177.1L244.9 1178.5L246.2 1179.9L247.4 1181.3L248.7 1182.6L249.9 1184.0L251.2 1185.2L252.5 1186.4L253.7 1187.5L255.0 1188.5L256.2 1189.4L257.5 1190.2L258.8 1190.9L260.0 1191.6L261.3 1192.1L262.5 1192.6L263.8 1193.1L265.1 1193.4L266.3 1193.7L267.6 1194.0L268.8 1194.2L270.1 1194.4L271.4 1194.6L272.6 1194.7L273.9 1194.9L275.1 1195.0L276.4 1195.0L277.7 1195.1L278.9 1195.2L280.2 1195.2L281.4 1195.3L282.7 1195.3L282.7 1195.5L175.6 1195.5Z" fill="#fff"/>
<path d="M176.9 1195.3L178.1 1195.1L179.4 1194.6L180.6 1193.5L181.9 1191.4L183.2 1187.7L184.4 1181.8L185.7 1172.8L186.9 1160.5L188.2 1144.9L189.5 1127.1L190.7 1109.1L192.0 1093.4L193.2 1082.6L194.5 1078.8L195.8 1082.6L197.0 1093.4L198.3 1109.1L199.5 1127.1L200.8 1144.9L202.1 1160.5L203.3 1172.8L204.6 1181.8L205.8 1187.7L207.1 1191.4L208.4 1193.5L209.6 1194.6L210.9 1195.1L212.1 1195.3L212.1 1195.5L176.9 1195.5Z" fill="#F20000" stroke="#300" stroke-width=".5"/>
<path d="M222.2 1195.3L223.5 1195.3L224.7 1195.2L226 1195.1L227.3 1194.9L228.5 1194.7L229.8 1194.5L231.0 1194.2L232.3 1193.9L233.6 1193.5L234.8 1193.0L236.1 1192.4L237.3 1191.7L238.6 1190.9L239.9 1190.0L241.1 1189.1L242.4 1188.0L243.6 1186.9L244.9 1185.7L246.2 1184.5L247.4 1183.3L248.7 1182.1L249.9 1180.9L251.2 1179.9L252.5 1178.9L253.7 1178.1L255.0 1177.5L256.2 1177.0L257.5 1176.8L258.8 1176.7L260.0 1176.9L261.3 1177.3L262.5 1177.9L263.8 1178.6L265.1 1179.5L266.3 1180.6L267.6 1181.7L268.8 1182.9L270.1 1184.1L271.4 1185.3L272.6 1186.5L273.9 1187.7L275.1 1188.7L276.4 1189.7L277.7 1190.6L278.9 1191.4L280.2 1192.2L281.4 1192.8L282.7 1193.3L284.0 1193.7L285.2 1194.1L286.5 1194.4L287.7 1194.7L289 1194.9L290.3 1195.0L291.5 1195.1L292.8 1195.2L294.0 1195.3L294.0 1195.5L222.2 1195.5Z" fill="#F20000" stroke="#300" stroke-width=".5"/>
<rect x="131.5" y="1034.5" width="168" height="161" fill="url(#hatch)" clip-path="url(#hs0)"/>
<path d="M131.5 1195.5L132.8 1195.5L134.0 1195.5L135.3 1195.5L136.5 1195.5L137.8 1195.5L139.1 1195.5L140.3 1195.5L141.6 1195.5L142.8 1195.5L144.1 1195.5L145.4 1195.5L146.6 1195.5L147.9 1195.5L149.1 1195.5L150.4 1195.5L151.7 1195.5L152.9 1195.5L154.2 1195.5L155.4 1195.5L156.7 1195.5L158.0 1195.5L159.2 1195.5L160.5 1195.5L161.7 1195.5L163 1195.5L164.3 1195.5L165.5 1195.5L166.8 1195.5L168.0 1195.5L169.3 1195.5L170.6 1195.5L171.8 1195.5L173.1 1195.4L174.3 1195.4L175.6 1195.4L176.9 1195.3L178.1 1195.2L179.4 1195.0L180.6 1194.8L181.9 1194.6L183.2 1194.1L184.4 1193.6L185.7 1192.8L186.9 1191.7L188.2 1190.2L189.5 1188.3L190.7 1186.0L192.0 1183.4L193.2 1180.4L194.5 1177.4L195.8 1174.5L197.0 1172.0L198.3 1169.8L199.5 1168.1L200.8 1166.8L202.1 1165.8L203.3 1165.1L204.6 1164.6L205.8 1164.3L207.1 1164.0L208.4 1163.9L209.6 1163.8L210.9 1163.7L212.1 1163.7L213.4 1163.8L214.7 1163.8L215.9 1163.9L217.2 1163.9L218.4 1164.0L219.7 1164.2L221.0 1164.3L222.2 1164.5L223.5 1164.7L224.7 1165.0L226 1165.3L227.3 1165.6L228.5 1166.0L229.8 1166.5L231.0 1167.0L232.3 1167.6L233.6 1168.3L234.8 1169.1L236.1 1170.0L237.3 1171.0L238.6 1172.0L239.9 1173.2L241.1 1174.4L242.4 1175.7L243.6 1177.1L244.9 1178.5L246.2 1179.9L247.4 1181.3L248.7 1182.6L249.9 1184.0L251.2 1185.2L252.5 1186.4L253.7 1187.5L255.0 1188.5L256.2 1189.4L257.5 1190.2L258.8 1190.9L260.0 1191.6L261.3 1192.1L262.5 1192.6L263.8 1193.1L265.1 1193.4L266.3 1193.7L267.6 1194.0L268.8 1194.2L270.1 1194.4L271.4 1194.6L272.6 1194.7L273.9 1194.9L275.1 1195.0L276.4 1195.0L277.7 1195.1L278.9 1195.2L280.2 1195.2L281.4 1195.3L282.7 1195.3L284.0 1195.3L285.2 1195.4L286.5 1195.4L287.7 1195.4L289 1195.4L290.3 1195.4L291.5 1195.4L292.8 1195.5L294.0 1195.5L295.3 1195.5L296.6 1195.5L297.8 1195.5L299.1 1195.5" fill="none" stroke="#555" stroke-width=".6"/>
<path d="M131.5 1195.5L132.8 1195.5L134.0 1195.5L135.3 1195.5L136.5 1195.5L137.8 1195.5L139.1 1195.5L140.3 1195.5L141.6 1195.5L142.8 1195.5L144.1 1195.5L145.4 1195.5L146.6 1195.5L147.9 1195.5L149.1 1195.5L150.4 1195.5L151.7 1195.5L152.9 1195.5L154.2 1195.5L155.4 1195.5L156.7 1195.5L158.0 1195.5L159.2 1195.5L160.5 1195.5L161.7 1195.5L163 1195.5L164.3 1195.5L165.5 1195.5L166.8 1195.5L168.0 1195.5L169.3 1195.5L170.6 1195.5L171.8 1195.4L173.1 1195.4L174.3 1195.4L175.6 1195.3L176.9 1195.1L178.1 1194.8L179.4 1194.1L180.6 1192.8L181.9 1190.4L183.2 1186.4L184.4 1179.8L185.7 1170.1L186.9 1156.6L188.2 1139.6L189.5 1120.0L190.7 1099.6L192.0 1081.2L193.2 1067.5L194.5 1060.7L195.8 1061.7L197.0 1069.9L198.3 1083.4L199.5 1099.8L200.8 1116.2L202.1 1130.8L203.3 1142.4L204.6 1150.9L205.8 1156.5L207.1 1159.9L208.4 1161.8L209.6 1162.8L210.9 1163.3L212.1 1163.6L213.4 1163.7L214.7 1163.7L215.9 1163.8L217.2 1163.9L218.4 1164.0L219.7 1164.0L221.0 1164.1L222.2 1164.2L223.5 1164.3L224.7 1164.4L226 1164.5L227.3 1164.5L228.5 1164.5L229.8 1164.5L231.0 1164.4L232.3 1164.2L233.6 1163.9L234.8 1163.5L236.1 1163.1L237.3 1162.6L238.6 1162.0L239.9 1161.5L241.1 1160.9L242.4 1160.4L243.6 1160.0L244.9 1159.7L246.2 1159.6L247.4 1159.7L248.7 1159.9L249.9 1160.4L251.2 1161.1L252.5 1162.0L253.7 1163.0L255.0 1164.2L256.2 1165.5L257.5 1166.9L258.8 1168.4L260.0 1169.9L261.3 1171.5L262.5 1173.2L263.8 1174.8L265.1 1176.4L266.3 1178.1L267.6 1179.7L268.8 1181.3L270.1 1182.8L271.4 1184.3L272.6 1185.6L273.9 1186.9L275.1 1188.1L276.4 1189.2L277.7 1190.2L278.9 1191.1L280.2 1191.9L281.4 1192.5L282.7 1193.1L284.0 1193.6L285.2 1194.0L286.5 1194.3L287.7 1194.6L289 1194.8L290.3 1195.0L291.5 1195.1L292.8 1195.2L294.0 1195.3L295.3 1195.3L296.6 1195.4L297.8 1195.4L299.1 1195.4" fill="none" stroke="#444" stroke-width=".8"/>
<path d="M131.5 1195.5L132.8 1195.5L134.0 1195.5L135.3 1195.5L136.5 1195.5L137.8 1195.5L139.1 1195.5L140.3 1195.5L141.6 1195.5L142.8 1195.5L144.1 1195.5L145.4 1195.5L146.6 1195.5L147.9 1195.5L149.1 1195.5L150.4 1195.5L151.7 1195.5L152.9 1195.5L154.2 1195.5L155.4 1195.5L156.7 1195.5L158.0 1195.5L159.2 1195.5L160.5 1195.5L161.7 1195.5L163 1195.5L164.3 1195.5L165.5 1195.5L166.8 1195.5L168.0 1195.5L169.3 1195.5L170.6 1195.5L171.8 1195.4L173.1 1195.4L174.3 1195.4L175.6 1195.3L176.9 1195.2L178.1 1194.7L179.4 1193.0L180.6 1192.8L181.9 1188.4L183.2 1185.8L184.4 1179.6L185.7 1169.6L186.9 1155.2L188.2 1134.7L189.5 1108.7L190.7 1088.2L192.0 1074.2L193.2 1053.0L194.5 1055.4L195.8 1061.6L197.0 1059.8L198.3 1073.5L199.5 1096.2L200.8 1114.2L202.1 1127.4L203.3 1146.6L204.6 1147.5L205.8 1154.4L207.1 1162.4L208.4 1161.3L209.6 1162.9L210.9 1159.2L212.1 1165.7L213.4 1163.2L214.7 1159.1L215.9 1159.7L217.2 1166.2L218.4 1163.6L219.7 1163.6L221.0 1162.9L222.2 1161.6L223.5 1164.3L224.7 1162.2L226 1163.7L227.3 1160.4L228.5 1163.9L229.8 1163.2L231.0 1166.6L232.3 1159.6L233.6 1160.8L234.8 1160.6L236.1 1159.5L237.3 1161.1L238.6 1161.8L239.9 1163.7L241.1 1161.0L242.4 1157.0L243.6 1160.1L244.9 1157.8L246.2 1160.6L247.4 1157.2L248.7 1157.1L249.9 1162.4L251.2 1162.4L252.5 1160.8L253.7 1160.9L255.0 1161.5L256.2 1163.8L257.5 1165.9L258.8 1167.9L260.0 1168.4L261.3 1168.4L262.5 1174.3L263.8 1174.3L265.1 1175.7L266.3 1177.2L267.6 1176.8L268.8 1178.2L270.1 1182.1L271.4 1183.5L272.6 1186.4L273.9 1184.2L275.1 1188.2L276.4 1188.6L277.7 1190.1L278.9 1190.6L280.2 1189.0L281.4 1193.2L282.7 1192.3L284.0 1193.4L285.2 1193.2L286.5 1194.2L287.7 1194.4L289 1194.8L290.3 1194.9L291.5 1195.1L292.8 1195.1L294.0 1195.3L295.3 1195.3L296.6 1195.4L297.8 1195.4L299.1 1195.4" fill="none" stroke="#666" stroke-width=".7"/>
<path d="M131.5 1034.5V1195.5M131.5 1195.5h-5.5M131.5 1190.1h-3M131.5 1184.8h-3M131.5 1179.4h-3M131.5 1174.0h-3M131.5 1168.7h-5.5M131.5 1163.3h-3M131.5 1157.9h-3M131.5 1152.6h-3M131.5 1147.2h-3M131.5 1141.8h-5.5M131.5 1136.5h-3M131.5 1131.1h-3M131.5 1125.7h-3M131.5 1120.4h-3M131.5 1115h-5.5M131.5 1109.6h-3M131.5 1104.3h-3M131.5 1098.9h-3M131.5 1093.5h-3M131.5 1088.2h-5.5M131.5 1082.8h-3M131.5 1077.4h-3M131.5 1072.1h-3M131.5 1066.7h-3M131.5 1061.3h-5.5M131.5 1056.0h-3M131.5 1050.6h-3M131.5 1045.2h-3M131.5 1039.9h-3M131.5 1034.5h-5.5" stroke="#888" stroke-width="1" fill="none"/>
<path d="M125.5 1195.5H299.5M131.5 1195.5v7M139.9 1195.5v3.5M148.3 1195.5v3.5M156.7 1195.5v3.5M165.1 1195.5v7M173.5 1195.5v3.5M181.9 1195.5v3.5M190.3 1195.5v3.5M198.7 1195.5v7M207.1 1195.5v3.5M215.5 1195.5v3.5M223.9 1195.5v3.5M232.3 1195.5v7M240.7 1195.5v3.5M249.1 1195.5v3.5M257.5 1195.5v3.5M265.9 1195.5v7M274.3 1195.5v3.5M282.7 1195.5v3.5M291.1 1195.5v3.5M299.5 1195.5v7" stroke="#333" stroke-width="1.3" fill="none"/>
<text x="122.3" y="1195.5" font-family="'Liberation Sans', sans-serif" font-size="13" text-anchor="middle" fill="#333" transform="rotate(-90 122.3 1195.5)" textLength="6.5" lengthAdjust="spacingAndGlyphs">0</text>
<text x="122.3" y="1168.7" font-family="'Liberation Sans', sans-serif" font-size="13" text-anchor="middle" fill="#333" transform="rotate(-90 122.3 1168.7)" textLength="19.5" lengthAdjust="spacingAndGlyphs">100</text>
<text x="122.3" y="1141.8" font-family="'Liberation Sans', sans-serif" font-size="13" text-anchor="middle" fill="#333" transform="rotate(-90 122.3 1141.8)" textLength="19.5" lengthAdjust="spacingAndGlyphs">200</text>
<text x="122.3" y="1115" font-family="'Liberation Sans', sans-serif" font-size="13" text-anchor="middle" fill="#333" transform="rotate(-90 122.3 1115)" textLength="19.5" lengthAdjust="spacingAndGlyphs">300</text>
<text x="122.3" y="1088.2" font-family="'Liberation Sans', sans-serif" font-size="13" text-anchor="middle" fill="#333" transform="rotate(-90 122.3 1088.2)" textLength="19.5" lengthAdjust="spacingAndGlyphs">400</text>
<text x="122.3" y="1061.3" font-family="'Liberation Sans', sans-serif" font-size="13" text-anchor="middle" fill="#333" transform="rotate(-90 122.3 1061.3)" textLength="19.5" lengthAdjust="spacingAndGlyphs">500</text>
<text x="122.3" y="1034.5" font-family="'Liberation Sans', sans-serif" font-size="13" text-anchor="middle" fill="#333" transform="rotate(-90 122.3 1034.5)" textLength="19.5" lengthAdjust="spacingAndGlyphs">600</text>
<text x="131.5" y="1220.1" font-family="'Liberation Sans', sans-serif" font-size="15.3" text-anchor="middle" fill="#111" textLength="10.0" lengthAdjust="spacingAndGlyphs">0</text>
<text x="165.1" y="1220.1" font-family="'Liberation Sans', sans-serif" font-size="15.3" text-anchor="middle" fill="#111" textLength="20.0" lengthAdjust="spacingAndGlyphs">20</text>
<text x="198.7" y="1220.1" font-family="'Liberation Sans', sans-serif" font-size="15.3" text-anchor="middle" fill="#111" textLength="20.0" lengthAdjust="spacingAndGlyphs">40</text>
<text x="232.3" y="1220.1" font-family="'Liberation Sans', sans-serif" font-size="15.3" text-anchor="middle" fill="#111" textLength="20.0" lengthAdjust="spacingAndGlyphs">60</text>
<text x="265.9" y="1220.1" font-family="'Liberation Sans', sans-serif" font-size="15.3" text-anchor="middle" fill="#111" textLength="20.0" lengthAdjust="spacingAndGlyphs">80</text>
<text x="299.5" y="1220.1" font-family="'Liberation Sans', sans-serif" font-size="15.3" text-anchor="middle" fill="#111" textLength="30.0" lengthAdjust="spacingAndGlyphs">100</text>
<text x="205" y="1068" font-family="'Liberation Sans', sans-serif" font-size="14.7" fill="#223C6C" textLength="40.7" lengthAdjust="spacingAndGlyphs">G0/G1</text>
<text x="250" y="1068" font-family="'Liberation Sans', sans-serif" font-size="14.7" fill="#223C6C" textLength="46.8" lengthAdjust="spacingAndGlyphs">52.31%</text>
<text x="205" y="1086.8" font-family="'Liberation Sans', sans-serif" font-size="14.7" fill="#223C6C" textLength="9.2" lengthAdjust="spacingAndGlyphs">S</text>
<text x="247.8" y="1086.8" font-family="'Liberation Sans', sans-serif" font-size="14.7" fill="#223C6C" textLength="46.8" lengthAdjust="spacingAndGlyphs">42.67%</text>
<text x="205" y="1105.6" font-family="'Liberation Sans', sans-serif" font-size="14.7" fill="#223C6C" textLength="33.7" lengthAdjust="spacingAndGlyphs">G2/M</text>
<text x="252.7" y="1105.6" font-family="'Liberation Sans', sans-serif" font-size="14.7" fill="#223C6C" textLength="39.1" lengthAdjust="spacingAndGlyphs">5.02%</text>
<clipPath id="hs1"><path d="M384.8 1195.3L386.1 1195.2L387.3 1195.1L388.6 1194.9L389.8 1194.7L391.1 1194.3L392.4 1193.8L393.6 1193.1L394.9 1192.1L396.1 1190.7L397.4 1189.0L398.7 1186.8L399.9 1184.3L401.2 1181.4L402.4 1178.4L403.7 1175.5L405.0 1172.8L406.2 1170.5L407.5 1168.6L408.7 1167.2L410 1166.1L411.3 1165.3L412.5 1164.8L413.8 1164.4L415.0 1164.1L416.3 1164.0L417.6 1163.9L418.8 1163.9L420.1 1163.9L421.3 1163.9L422.6 1164.0L423.9 1164.1L425.1 1164.3L426.4 1164.5L427.6 1164.7L428.9 1164.9L430.2 1165.2L431.4 1165.6L432.7 1166.0L433.9 1166.4L435.2 1167.0L436.5 1167.6L437.7 1168.3L439.0 1169.1L440.2 1169.9L441.5 1170.9L442.8 1172.0L444.0 1173.1L445.3 1174.4L446.5 1175.7L447.8 1177.0L449.1 1178.4L450.3 1179.8L451.6 1181.2L452.8 1182.6L454.1 1183.9L455.4 1185.2L456.6 1186.4L457.9 1187.5L459.1 1188.5L460.4 1189.4L461.7 1190.2L462.9 1190.9L464.2 1191.6L465.4 1192.1L466.7 1192.6L468.0 1193.1L469.2 1193.4L470.5 1193.7L471.7 1194.0L473 1194.2L474.3 1194.4L475.5 1194.6L476.8 1194.7L478.0 1194.9L479.3 1195.0L480.6 1195.0L481.8 1195.1L483.1 1195.2L484.3 1195.2L485.6 1195.3L486.9 1195.3L486.9 1195.5L384.8 1195.5Z"/></clipPath>
<path d="M384.8 1195.3L386.1 1195.2L387.3 1195.1L388.6 1194.9L389.8 1194.7L391.1 1194.3L392.4 1193.8L393.6 1193.1L394.9 1192.1L396.1 1190.7L397.4 1189.0L398.7 1186.8L399.9 1184.3L401.2 1181.4L402.4 1178.4L403.7 1175.5L405.0 1172.8L406.2 1170.5L407.5 1168.6L408.7 1167.2L410 1166.1L411.3 1165.3L412.5 1164.8L413.8 1164.4L415.0 1164.1L416.3 1164.0L417.6 1163.9L418.8 1163.9L420.1 1163.9L421.3 1163.9L422.6 1164.0L423.9 1164.1L425.1 1164.3L426.4 1164.5L427.6 1164.7L428.9 1164.9L430.2 1165.2L431.4 1165.6L432.7 1166.0L433.9 1166.4L435.2 1167.0L436.5 1167.6L437.7 1168.3L439.0 1169.1L440.2 1169.9L441.5 1170.9L442.8 1172.0L444.0 1173.1L445.3 1174.4L446.5 1175.7L447.8 1177.0L449.1 1178.4L450.3 1179.8L451.6 1181.2L452.8 1182.6L454.1 1183.9L455.4 1185.2L456.6 1186.4L457.9 1187.5L459.1 1188.5L460.4 1189.4L461.7 1190.2L462.9 1190.9L464.2 1191.6L465.4 1192.1L466.7 1192.6L468.0 1193.1L469.2 1193.4L470.5 1193.7L471.7 1194.0L473 1194.2L474.3 1194.4L475.5 1194.6L476.8 1194.7L478.0 1194.9L479.3 1195.0L480.6 1195.0L481.8 1195.1L483.1 1195.2L484.3 1195.2L485.6 1195.3L486.9 1195.3L486.9 1195.5L384.8 1195.5Z" fill="#fff"/>
<path d="M383.5 1195.4L384.8 1195.2L386.1 1194.8L387.3 1193.9L388.6 1192.2L389.8 1188.9L391.1 1183.3L392.4 1174.6L393.6 1162.2L394.9 1146.2L396.1 1127.4L397.4 1107.9L398.7 1090.7L399.9 1078.8L401.2 1074.5L402.4 1078.8L403.7 1090.7L405.0 1107.9L406.2 1127.4L407.5 1146.2L408.7 1162.2L410 1174.6L411.3 1183.3L412.5 1188.9L413.8 1192.2L415.0 1193.9L416.3 1194.8L417.6 1195.2L418.8 1195.4L418.8 1195.5L383.5 1195.5Z" fill="#F20000" stroke="#300" stroke-width=".5"/>
<path d="M431.4 1195.3L432.7 1195.3L433.9 1195.2L435.2 1195.1L436.5 1194.9L437.7 1194.7L439.0 1194.4L440.2 1194.1L441.5 1193.6L442.8 1193.1L444.0 1192.5L445.3 1191.8L446.5 1191.0L447.8 1190.0L449.1 1189.0L450.3 1187.9L451.6 1186.7L452.8 1185.5L454.1 1184.3L455.4 1183.1L456.6 1182.0L457.9 1181.0L459.1 1180.1L460.4 1179.5L461.7 1179.0L462.9 1178.8L464.2 1178.9L465.4 1179.2L466.7 1179.7L468.0 1180.4L469.2 1181.3L470.5 1182.3L471.7 1183.5L473 1184.7L474.3 1185.9L475.5 1187.1L476.8 1188.2L478.0 1189.3L479.3 1190.3L480.6 1191.3L481.8 1192.0L483.1 1192.7L484.3 1193.3L485.6 1193.8L486.9 1194.2L488.1 1194.5L489.4 1194.8L490.6 1195.0L491.9 1195.1L493.2 1195.2L494.4 1195.3L494.4 1195.5L431.4 1195.5Z" fill="#F20000" stroke="#300" stroke-width=".5"/>
<rect x="340.7" y="1034.2" width="168" height="161.3" fill="url(#hatch)" clip-path="url(#hs1)"/>
<path d="M340.7 1195.5L342.0 1195.5L343.2 1195.5L344.5 1195.5L345.7 1195.5L347 1195.5L348.3 1195.5L349.5 1195.5L350.8 1195.5L352.0 1195.5L353.3 1195.5L354.6 1195.5L355.8 1195.5L357.1 1195.5L358.3 1195.5L359.6 1195.5L360.9 1195.5L362.1 1195.5L363.4 1195.5L364.6 1195.5L365.9 1195.5L367.2 1195.5L368.4 1195.5L369.7 1195.5L370.9 1195.5L372.2 1195.5L373.5 1195.5L374.7 1195.5L376.0 1195.5L377.2 1195.5L378.5 1195.5L379.8 1195.5L381.0 1195.4L382.3 1195.4L383.5 1195.4L384.8 1195.3L386.1 1195.2L387.3 1195.1L388.6 1194.9L389.8 1194.7L391.1 1194.3L392.4 1193.8L393.6 1193.1L394.9 1192.1L396.1 1190.7L397.4 1189.0L398.7 1186.8L399.9 1184.3L401.2 1181.4L402.4 1178.4L403.7 1175.5L405.0 1172.8L406.2 1170.5L407.5 1168.6L408.7 1167.2L410 1166.1L411.3 1165.3L412.5 1164.8L413.8 1164.4L415.0 1164.1L416.3 1164.0L417.6 1163.9L418.8 1163.9L420.1 1163.9L421.3 1163.9L422.6 1164.0L423.9 1164.1L425.1 1164.3L426.4 1164.5L427.6 1164.7L428.9 1164.9L430.2 1165.2L431.4 1165.6L432.7 1166.0L433.9 1166.4L435.2 1167.0L436.5 1167.6L437.7 1168.3L439.0 1169.1L440.2 1169.9L441.5 1170.9L442.8 1172.0L444.0 1173.1L445.3 1174.4L446.5 1175.7L447.8 1177.0L449.1 1178.4L450.3 1179.8L451.6 1181.2L452.8 1182.6L454.1 1183.9L455.4 1185.2L456.6 1186.4L457.9 1187.5L459.1 1188.5L460.4 1189.4L461.7 1190.2L462.9 1190.9L464.2 1191.6L465.4 1192.1L466.7 1192.6L468.0 1193.1L469.2 1193.4L470.5 1193.7L471.7 1194.0L473 1194.2L474.3 1194.4L475.5 1194.6L476.8 1194.7L478.0 1194.9L479.3 1195.0L480.6 1195.0L481.8 1195.1L483.1 1195.2L484.3 1195.2L485.6 1195.3L486.9 1195.3L488.1 1195.3L489.4 1195.4L490.6 1195.4L491.9 1195.4L493.2 1195.4L494.4 1195.4L495.7 1195.4L496.9 1195.5L498.2 1195.5L499.5 1195.5L500.7 1195.5L502.0 1195.5L503.2 1195.5L504.5 1195.5L505.8 1195.5L507.0 1195.5L508.3 1195.5" fill="none" stroke="#555" stroke-width=".6"/>
<path d="M340.7 1195.5L342.0 1195.5L343.2 1195.5L344.5 1195.5L345.7 1195.5L347 1195.5L348.3 1195.5L349.5 1195.5L350.8 1195.5L352.0 1195.5L353.3 1195.5L354.6 1195.5L355.8 1195.5L357.1 1195.5L358.3 1195.5L359.6 1195.5L360.9 1195.5L362.1 1195.5L363.4 1195.5L364.6 1195.5L365.9 1195.5L367.2 1195.5L368.4 1195.5L369.7 1195.5L370.9 1195.5L372.2 1195.5L373.5 1195.5L374.7 1195.5L376.0 1195.5L377.2 1195.5L378.5 1195.5L379.8 1195.5L381.0 1195.4L382.3 1195.4L383.5 1195.3L384.8 1195.0L386.1 1194.5L387.3 1193.5L388.6 1191.6L389.8 1188.0L391.1 1182.1L392.4 1172.9L393.6 1159.8L394.9 1142.7L396.1 1122.6L397.4 1101.4L398.7 1082.0L399.9 1067.6L401.2 1060.4L402.4 1061.7L403.7 1070.6L405.0 1085.2L406.2 1102.3L407.5 1119.3L408.7 1133.9L410 1145.2L411.3 1153.1L412.5 1158.2L413.8 1161.0L415.0 1162.6L416.3 1163.3L417.6 1163.6L418.8 1163.8L420.1 1163.9L421.3 1163.9L422.6 1164.0L423.9 1164.1L425.1 1164.2L426.4 1164.4L427.6 1164.5L428.9 1164.7L430.2 1164.9L431.4 1165.1L432.7 1165.3L433.9 1165.5L435.2 1165.7L436.5 1165.8L437.7 1166.0L439.0 1166.1L440.2 1166.1L441.5 1166.2L442.8 1166.2L444.0 1166.2L445.3 1166.2L446.5 1166.2L447.8 1166.2L449.1 1166.3L450.3 1166.4L451.6 1166.5L452.8 1166.7L454.1 1167.0L455.4 1167.4L456.6 1167.9L457.9 1168.5L459.1 1169.2L460.4 1170.0L461.7 1170.9L462.9 1171.9L464.2 1173.0L465.4 1174.3L466.7 1175.6L468.0 1177.1L469.2 1178.6L470.5 1180.1L471.7 1181.6L473 1183.2L474.3 1184.7L475.5 1186.1L476.8 1187.4L478.0 1188.7L479.3 1189.8L480.6 1190.8L481.8 1191.7L483.1 1192.4L484.3 1193.0L485.6 1193.6L486.9 1194.0L488.1 1194.4L489.4 1194.6L490.6 1194.8L491.9 1195.0L493.2 1195.1L494.4 1195.2L495.7 1195.3L496.9 1195.4L498.2 1195.4L499.5 1195.4L500.7 1195.4L502.0 1195.5L503.2 1195.5L504.5 1195.5L505.8 1195.5L507.0 1195.5L508.3 1195.5" fill="none" stroke="#444" stroke-width=".8"/>
<path d="M340.7 1195.5L342.0 1195.5L343.2 1195.5L344.5 1195.5L345.7 1195.5L347 1195.5L348.3 1195.5L349.5 1195.5L350.8 1195.5L352.0 1195.5L353.3 1195.5L354.6 1195.5L355.8 1195.5L357.1 1195.5L358.3 1195.5L359.6 1195.5L360.9 1195.5L362.1 1195.5L363.4 1195.5L364.6 1195.5L365.9 1195.5L367.2 1195.5L368.4 1195.5L369.7 1195.5L370.9 1195.5L372.2 1195.5L373.5 1195.5L374.7 1195.5L376.0 1195.5L377.2 1195.5L378.5 1195.5L379.8 1195.5L381.0 1195.4L382.3 1195.4L383.5 1195.3L384.8 1195.0L386.1 1194.5L387.3 1192.8L388.6 1193.4L389.8 1186.7L391.1 1183.5L392.4 1171.9L393.6 1154.1L394.9 1140.4L396.1 1124.7L397.4 1104.5L398.7 1076.0L399.9 1054.4L401.2 1051.5L402.4 1049.5L403.7 1068.5L405.0 1078.2L406.2 1100.9L407.5 1115.7L408.7 1134.6L410 1146.1L411.3 1152.3L412.5 1158.9L413.8 1160.4L415.0 1160.0L416.3 1161.0L417.6 1155.7L418.8 1161.2L420.1 1163.6L421.3 1161.0L422.6 1159.9L423.9 1161.0L425.1 1160.7L426.4 1164.2L427.6 1171.1L428.9 1161.5L430.2 1164.5L431.4 1162.0L432.7 1164.1L433.9 1167.8L435.2 1161.6L436.5 1166.1L437.7 1165.5L439.0 1161.1L440.2 1163.3L441.5 1166.4L442.8 1166.1L444.0 1162.6L445.3 1166.2L446.5 1165.0L447.8 1164.1L449.1 1160.8L450.3 1165.6L451.6 1165.8L452.8 1163.6L454.1 1164.4L455.4 1164.0L456.6 1165.6L457.9 1164.1L459.1 1167.5L460.4 1168.1L461.7 1174.7L462.9 1171.1L464.2 1169.8L465.4 1172.4L466.7 1175.4L468.0 1176.9L469.2 1176.8L470.5 1177.3L471.7 1181.7L473 1182.3L474.3 1183.6L475.5 1185.7L476.8 1187.2L478.0 1187.6L479.3 1189.1L480.6 1188.5L481.8 1192.0L483.1 1192.3L484.3 1193.0L485.6 1192.8L486.9 1195.1L488.1 1194.3L489.4 1194.5L490.6 1194.8L491.9 1195.0L493.2 1195.2L494.4 1195.2L495.7 1195.3L496.9 1195.4L498.2 1195.4L499.5 1195.4L500.7 1195.4L502.0 1195.5L503.2 1195.5L504.5 1195.5L505.8 1195.5L507.0 1195.5L508.3 1195.5" fill="none" stroke="#666" stroke-width=".7"/>
<path d="M340.7 1034.2V1195.5M340.7 1195.5h-5.5M340.7 1190.1h-3M340.7 1184.7h-3M340.7 1179.4h-3M340.7 1174.0h-3M340.7 1168.6h-5.5M340.7 1163.2h-3M340.7 1157.9h-3M340.7 1152.5h-3M340.7 1147.1h-3M340.7 1141.7h-5.5M340.7 1136.4h-3M340.7 1131.0h-3M340.7 1125.6h-3M340.7 1120.2h-3M340.7 1114.8h-5.5M340.7 1109.5h-3M340.7 1104.1h-3M340.7 1098.7h-3M340.7 1093.3h-3M340.7 1088.0h-5.5M340.7 1082.6h-3M340.7 1077.2h-3M340.7 1071.8h-3M340.7 1066.5h-3M340.7 1061.1h-5.5M340.7 1055.7h-3M340.7 1050.3h-3M340.7 1045.0h-3M340.7 1039.6h-3M340.7 1034.2h-5.5" stroke="#888" stroke-width="1" fill="none"/>
<path d="M334.7 1195.5H508.7M340.7 1195.5v7M349.1 1195.5v3.5M357.5 1195.5v3.5M365.9 1195.5v3.5M374.3 1195.5v7M382.7 1195.5v3.5M391.1 1195.5v3.5M399.5 1195.5v3.5M407.9 1195.5v7M416.3 1195.5v3.5M424.7 1195.5v3.5M433.1 1195.5v3.5M441.5 1195.5v7M449.9 1195.5v3.5M458.3 1195.5v3.5M466.7 1195.5v3.5M475.1 1195.5v7M483.5 1195.5v3.5M491.9 1195.5v3.5M500.3 1195.5v3.5M508.7 1195.5v7" stroke="#333" stroke-width="1.3" fill="none"/>
<text x="331.5" y="1195.5" font-family="'Liberation Sans', sans-serif" font-size="13" text-anchor="middle" fill="#333" transform="rotate(-90 331.5 1195.5)" textLength="6.5" lengthAdjust="spacingAndGlyphs">0</text>
<text x="331.5" y="1168.6" font-family="'Liberation Sans', sans-serif" font-size="13" text-anchor="middle" fill="#333" transform="rotate(-90 331.5 1168.6)" textLength="19.5" lengthAdjust="spacingAndGlyphs">100</text>
<text x="331.5" y="1141.7" font-family="'Liberation Sans', sans-serif" font-size="13" text-anchor="middle" fill="#333" transform="rotate(-90 331.5 1141.7)" textLength="19.5" lengthAdjust="spacingAndGlyphs">200</text>
<text x="331.5" y="1114.8" font-family="'Liberation Sans', sans-serif" font-size="13" text-anchor="middle" fill="#333" transform="rotate(-90 331.5 1114.8)" textLength="19.5" lengthAdjust="spacingAndGlyphs">300</text>
<text x="331.5" y="1088.0" font-family="'Liberation Sans', sans-serif" font-size="13" text-anchor="middle" fill="#333" transform="rotate(-90 331.5 1088.0)" textLength="19.5" lengthAdjust="spacingAndGlyphs">400</text>
<text x="331.5" y="1061.1" font-family="'Liberation Sans', sans-serif" font-size="13" text-anchor="middle" fill="#333" transform="rotate(-90 331.5 1061.1)" textLength="19.5" lengthAdjust="spacingAndGlyphs">500</text>
<text x="331.5" y="1034.2" font-family="'Liberation Sans', sans-serif" font-size="13" text-anchor="middle" fill="#333" transform="rotate(-90 331.5 1034.2)" textLength="19.5" lengthAdjust="spacingAndGlyphs">600</text>
<text x="340.7" y="1220.1" font-family="'Liberation Sans', sans-serif" font-size="15.3" text-anchor="middle" fill="#111" textLength="10.0" lengthAdjust="spacingAndGlyphs">0</text>
<text x="374.3" y="1220.1" font-family="'Liberation Sans', sans-serif" font-size="15.3" text-anchor="middle" fill="#111" textLength="20.0" lengthAdjust="spacingAndGlyphs">20</text>
<text x="407.9" y="1220.1" font-family="'Liberation Sans', sans-serif" font-size="15.3" text-anchor="middle" fill="#111" textLength="20.0" lengthAdjust="spacingAndGlyphs">40</text>
<text x="441.5" y="1220.1" font-family="'Liberation Sans', sans-serif" font-size="15.3" text-anchor="middle" fill="#111" textLength="20.0" lengthAdjust="spacingAndGlyphs">60</text>
<text x="475.1" y="1220.1" font-family="'Liberation Sans', sans-serif" font-size="15.3" text-anchor="middle" fill="#111" textLength="20.0" lengthAdjust="spacingAndGlyphs">80</text>
<text x="508.7" y="1220.1" font-family="'Liberation Sans', sans-serif" font-size="15.3" text-anchor="middle" fill="#111" textLength="30.0" lengthAdjust="spacingAndGlyphs">100</text>
<text x="421.7" y="1070.2" font-family="'Liberation Sans', sans-serif" font-size="14.7" fill="#223C6C" textLength="40.7" lengthAdjust="spacingAndGlyphs">G0/G1</text>
<text x="466.7" y="1070.2" font-family="'Liberation Sans', sans-serif" font-size="14.7" fill="#223C6C" textLength="46.8" lengthAdjust="spacingAndGlyphs">51.67%</text>
<text x="421.7" y="1089" font-family="'Liberation Sans', sans-serif" font-size="14.7" fill="#223C6C" textLength="9.2" lengthAdjust="spacingAndGlyphs">S</text>
<text x="464.8" y="1089" font-family="'Liberation Sans', sans-serif" font-size="14.7" fill="#223C6C" textLength="46.8" lengthAdjust="spacingAndGlyphs">41.28%</text>
<text x="421.7" y="1107.8" font-family="'Liberation Sans', sans-serif" font-size="14.7" fill="#223C6C" textLength="33.7" lengthAdjust="spacingAndGlyphs">G2/M</text>
<text x="474.2" y="1107.8" font-family="'Liberation Sans', sans-serif" font-size="14.7" fill="#223C6C" textLength="39.1" lengthAdjust="spacingAndGlyphs">7.05%</text>
<clipPath id="hs2"><path d="M595.7 1193.5L597.0 1193.4L598.3 1193.3L599.5 1193.2L600.8 1193.0L602.0 1192.7L603.3 1192.4L604.6 1191.9L605.8 1191.2L607.1 1190.3L608.4 1189.1L609.6 1187.5L610.9 1185.4L612.2 1182.8L613.4 1179.5L614.7 1175.7L616.0 1171.3L617.2 1166.5L618.5 1161.6L619.8 1156.7L621.0 1152.1L622.3 1148.1L623.6 1144.7L624.8 1141.9L626.1 1139.6L627.4 1137.9L628.6 1136.6L629.9 1135.6L631.1 1134.8L632.4 1134.3L633.7 1133.9L634.9 1133.7L636.2 1133.5L637.5 1133.4L638.7 1133.3L640.0 1133.3L641.3 1133.4L642.5 1133.4L643.8 1133.5L645.1 1133.7L646.3 1133.8L647.6 1134.1L648.9 1134.3L650.1 1134.7L651.4 1135.1L652.7 1135.5L653.9 1136.1L655.2 1136.8L656.5 1137.6L657.7 1138.6L659.0 1139.7L660.3 1141.1L661.5 1142.6L662.8 1144.3L664.0 1146.3L665.3 1148.5L666.6 1150.9L667.8 1153.5L669.1 1156.3L670.4 1159.2L671.6 1162.2L672.9 1165.2L674.2 1168.2L675.4 1171.0L676.7 1173.8L678.0 1176.3L679.2 1178.7L680.5 1180.8L681.8 1182.7L683.0 1184.4L684.3 1185.8L685.6 1187.1L686.8 1188.2L688.1 1189.1L689.4 1189.8L690.6 1190.5L691.9 1191.1L693.1 1191.5L694.4 1191.9L695.7 1192.2L696.9 1192.5L698.2 1192.7L699.5 1192.9L700.7 1193.0L702.0 1193.1L703.3 1193.2L704.5 1193.3L705.8 1193.4L707.1 1193.4L708.3 1193.5L708.3 1193.7L595.7 1193.7Z"/></clipPath>
<path d="M595.7 1193.5L597.0 1193.4L598.3 1193.3L599.5 1193.2L600.8 1193.0L602.0 1192.7L603.3 1192.4L604.6 1191.9L605.8 1191.2L607.1 1190.3L608.4 1189.1L609.6 1187.5L610.9 1185.4L612.2 1182.8L613.4 1179.5L614.7 1175.7L616.0 1171.3L617.2 1166.5L618.5 1161.6L619.8 1156.7L621.0 1152.1L622.3 1148.1L623.6 1144.7L624.8 1141.9L626.1 1139.6L627.4 1137.9L628.6 1136.6L629.9 1135.6L631.1 1134.8L632.4 1134.3L633.7 1133.9L634.9 1133.7L636.2 1133.5L637.5 1133.4L638.7 1133.3L640.0 1133.3L641.3 1133.4L642.5 1133.4L643.8 1133.5L645.1 1133.7L646.3 1133.8L647.6 1134.1L648.9 1134.3L650.1 1134.7L651.4 1135.1L652.7 1135.5L653.9 1136.1L655.2 1136.8L656.5 1137.6L657.7 1138.6L659.0 1139.7L660.3 1141.1L661.5 1142.6L662.8 1144.3L664.0 1146.3L665.3 1148.5L666.6 1150.9L667.8 1153.5L669.1 1156.3L670.4 1159.2L671.6 1162.2L672.9 1165.2L674.2 1168.2L675.4 1171.0L676.7 1173.8L678.0 1176.3L679.2 1178.7L680.5 1180.8L681.8 1182.7L683.0 1184.4L684.3 1185.8L685.6 1187.1L686.8 1188.2L688.1 1189.1L689.4 1189.8L690.6 1190.5L691.9 1191.1L693.1 1191.5L694.4 1191.9L695.7 1192.2L696.9 1192.5L698.2 1192.7L699.5 1192.9L700.7 1193.0L702.0 1193.1L703.3 1193.2L704.5 1193.3L705.8 1193.4L707.1 1193.4L708.3 1193.5L708.3 1193.7L595.7 1193.7Z" fill="#fff"/>
<path d="M600.8 1193.5L602.0 1193.2L603.3 1192.6L604.6 1191.3L605.8 1189.0L607.1 1185.0L608.4 1178.7L609.6 1169.5L610.9 1157.1L612.2 1142.0L613.4 1125.4L614.7 1109.3L616.0 1096.2L617.2 1088.3L618.5 1087.1L619.8 1092.9L621.0 1104.5L622.3 1119.9L623.6 1136.6L624.8 1152.4L626.1 1165.7L627.4 1176.0L628.6 1183.2L629.9 1187.9L631.1 1190.7L632.4 1192.2L633.7 1193.0L634.9 1193.4L636.2 1193.6L636.2 1193.7L600.8 1193.7Z" fill="#F20000" stroke="#300" stroke-width=".5"/>
<path d="M643.8 1193.5L645.1 1193.4L646.3 1193.3L647.6 1193.1L648.9 1192.8L650.1 1192.4L651.4 1191.9L652.7 1191.1L653.9 1190.1L655.2 1188.8L656.5 1187.2L657.7 1185.1L659.0 1182.5L660.3 1179.4L661.5 1175.7L662.8 1171.4L664.0 1166.5L665.3 1161.1L666.6 1155.1L667.8 1148.8L669.1 1142.3L670.4 1135.7L671.6 1129.3L672.9 1123.3L674.2 1118.0L675.4 1113.4L676.7 1110.0L678.0 1107.7L679.2 1106.8L680.5 1107.2L681.8 1108.9L683.0 1111.9L684.3 1116.0L685.6 1121.1L686.8 1126.9L688.1 1133.1L689.4 1139.7L690.6 1146.2L691.9 1152.6L693.1 1158.7L694.4 1164.4L695.7 1169.5L696.9 1174.1L698.2 1178.0L699.5 1181.3L700.7 1184.1L702.0 1186.4L703.3 1188.2L704.5 1189.6L705.8 1190.7L707.1 1191.6L708.3 1192.2L709.6 1192.7L710.9 1193.0L712.1 1193.2L713.4 1193.4L714.7 1193.5L714.7 1193.7L643.8 1193.7Z" fill="#F20000" stroke="#300" stroke-width=".5"/>
<rect x="556.5" y="1033.2" width="168.7" height="160.5" fill="url(#hatch)" clip-path="url(#hs2)"/>
<path d="M556.5 1193.7L557.8 1193.7L559.0 1193.7L560.3 1193.7L561.6 1193.7L562.8 1193.7L564.1 1193.7L565.4 1193.7L566.6 1193.7L567.9 1193.7L569.2 1193.7L570.4 1193.7L571.7 1193.7L572.9 1193.7L574.2 1193.7L575.5 1193.7L576.7 1193.7L578.0 1193.7L579.3 1193.7L580.5 1193.7L581.8 1193.7L583.1 1193.7L584.3 1193.7L585.6 1193.7L586.9 1193.7L588.1 1193.7L589.4 1193.7L590.7 1193.6L591.9 1193.6L593.2 1193.6L594.5 1193.6L595.7 1193.5L597.0 1193.4L598.3 1193.3L599.5 1193.2L600.8 1193.0L602.0 1192.7L603.3 1192.4L604.6 1191.9L605.8 1191.2L607.1 1190.3L608.4 1189.1L609.6 1187.5L610.9 1185.4L612.2 1182.8L613.4 1179.5L614.7 1175.7L616.0 1171.3L617.2 1166.5L618.5 1161.6L619.8 1156.7L621.0 1152.1L622.3 1148.1L623.6 1144.7L624.8 1141.9L626.1 1139.6L627.4 1137.9L628.6 1136.6L629.9 1135.6L631.1 1134.8L632.4 1134.3L633.7 1133.9L634.9 1133.7L636.2 1133.5L637.5 1133.4L638.7 1133.3L640.0 1133.3L641.3 1133.4L642.5 1133.4L643.8 1133.5L645.1 1133.7L646.3 1133.8L647.6 1134.1L648.9 1134.3L650.1 1134.7L651.4 1135.1L652.7 1135.5L653.9 1136.1L655.2 1136.8L656.5 1137.6L657.7 1138.6L659.0 1139.7L660.3 1141.1L661.5 1142.6L662.8 1144.3L664.0 1146.3L665.3 1148.5L666.6 1150.9L667.8 1153.5L669.1 1156.3L670.4 1159.2L671.6 1162.2L672.9 1165.2L674.2 1168.2L675.4 1171.0L676.7 1173.8L678.0 1176.3L679.2 1178.7L680.5 1180.8L681.8 1182.7L683.0 1184.4L684.3 1185.8L685.6 1187.1L686.8 1188.2L688.1 1189.1L689.4 1189.8L690.6 1190.5L691.9 1191.1L693.1 1191.5L694.4 1191.9L695.7 1192.2L696.9 1192.5L698.2 1192.7L699.5 1192.9L700.7 1193.0L702.0 1193.1L703.3 1193.2L704.5 1193.3L705.8 1193.4L707.1 1193.4L708.3 1193.5L709.6 1193.5L710.9 1193.6L712.1 1193.6L713.4 1193.6L714.7 1193.6L715.9 1193.6L717.2 1193.6L718.5 1193.7L719.7 1193.7L721.0 1193.7L722.2 1193.7L723.5 1193.7L724.8 1193.7" fill="none" stroke="#555" stroke-width=".6"/>
<path d="M556.5 1193.7L557.8 1193.7L559.0 1193.7L560.3 1193.7L561.6 1193.7L562.8 1193.7L564.1 1193.7L565.4 1193.7L566.6 1193.7L567.9 1193.7L569.2 1193.7L570.4 1193.7L571.7 1193.7L572.9 1193.7L574.2 1193.7L575.5 1193.7L576.7 1193.7L578.0 1193.7L579.3 1193.7L580.5 1193.7L581.8 1193.7L583.1 1193.7L584.3 1193.7L585.6 1193.7L586.9 1193.7L588.1 1193.7L589.4 1193.7L590.7 1193.6L591.9 1193.6L593.2 1193.6L594.5 1193.6L595.7 1193.5L597.0 1193.4L598.3 1193.3L599.5 1193.1L600.8 1192.8L602.0 1192.2L603.3 1191.2L604.6 1189.5L605.8 1186.5L607.1 1181.6L608.4 1174.1L609.6 1163.3L610.9 1148.8L612.2 1131.1L613.4 1111.3L614.7 1091.3L616.0 1073.8L617.2 1061.1L618.5 1055.0L619.8 1055.9L621.0 1063.0L622.3 1074.3L623.6 1087.6L624.8 1100.5L626.1 1111.6L627.4 1120.2L628.6 1126.1L629.9 1129.8L631.1 1131.8L632.4 1132.9L633.7 1133.3L634.9 1133.4L636.2 1133.4L637.5 1133.3L638.7 1133.3L640.0 1133.3L641.3 1133.3L642.5 1133.3L643.8 1133.3L645.1 1133.4L646.3 1133.4L647.6 1133.4L648.9 1133.4L650.1 1133.3L651.4 1133.2L652.7 1132.9L653.9 1132.5L655.2 1131.8L656.5 1130.9L657.7 1129.6L659.0 1128.0L660.3 1125.9L661.5 1123.4L662.8 1120.3L664.0 1116.7L665.3 1112.7L666.6 1108.4L667.8 1103.8L669.1 1099.1L670.4 1094.6L671.6 1090.5L672.9 1087.0L674.2 1084.4L675.4 1082.8L676.7 1082.4L678.0 1083.3L679.2 1085.4L680.5 1088.8L681.8 1093.4L683.0 1098.9L684.3 1105.3L685.6 1112.3L686.8 1119.8L688.1 1127.4L689.4 1135.1L690.6 1142.6L691.9 1149.7L693.1 1156.4L694.4 1162.5L695.7 1168.0L696.9 1172.8L698.2 1177.0L699.5 1180.5L700.7 1183.4L702.0 1185.8L703.3 1187.7L704.5 1189.3L705.8 1190.4L707.1 1191.3L708.3 1192.0L709.6 1192.5L710.9 1192.8L712.1 1193.1L713.4 1193.3L714.7 1193.4L715.9 1193.5L717.2 1193.6L718.5 1193.6L719.7 1193.6L721.0 1193.7L722.2 1193.7L723.5 1193.7L724.8 1193.7" fill="none" stroke="#444" stroke-width=".8"/>
<path d="M556.5 1193.7L557.8 1193.7L559.0 1193.7L560.3 1193.7L561.6 1193.7L562.8 1193.7L564.1 1193.7L565.4 1193.7L566.6 1193.7L567.9 1193.7L569.2 1193.7L570.4 1193.7L571.7 1193.7L572.9 1193.7L574.2 1193.7L575.5 1193.7L576.7 1193.7L578.0 1193.7L579.3 1193.7L580.5 1193.7L581.8 1193.7L583.1 1193.7L584.3 1193.7L585.6 1193.7L586.9 1193.7L588.1 1193.7L589.4 1193.7L590.7 1193.7L591.9 1193.6L593.2 1193.6L594.5 1193.6L595.7 1193.5L597.0 1193.4L598.3 1193.3L599.5 1193.1L600.8 1192.7L602.0 1192.5L603.3 1190.8L604.6 1189.3L605.8 1187.3L607.1 1183.1L608.4 1171.0L609.6 1156.7L610.9 1148.6L612.2 1138.0L613.4 1107.4L614.7 1087.0L616.0 1060.6L617.2 1043.6L618.5 1054.7L619.8 1055.3L621.0 1047.7L622.3 1074.7L623.6 1076.7L624.8 1096.9L626.1 1103.6L627.4 1114.5L628.6 1118.6L629.9 1124.9L631.1 1133.1L632.4 1128.8L633.7 1130.6L634.9 1128.8L636.2 1124.9L637.5 1131.6L638.7 1133.4L640.0 1133.5L641.3 1131.8L642.5 1126.7L643.8 1133.5L645.1 1125.7L646.3 1129.5L647.6 1132.2L648.9 1134.3L650.1 1130.6L651.4 1127.6L652.7 1134.7L653.9 1126.2L655.2 1122.6L656.5 1128.2L657.7 1125.1L659.0 1116.8L660.3 1117.9L661.5 1124.2L662.8 1116.6L664.0 1111.9L665.3 1109.1L666.6 1115.5L667.8 1095.2L669.1 1098.3L670.4 1089.6L671.6 1088.1L672.9 1076.1L674.2 1079.2L675.4 1082.1L676.7 1073.9L678.0 1066.7L679.2 1082.6L680.5 1075.6L681.8 1088.1L683.0 1098.2L684.3 1093.1L685.6 1110.1L686.8 1111.8L688.1 1127.2L689.4 1131.2L690.6 1144.0L691.9 1151.5L693.1 1152.0L694.4 1159.8L695.7 1166.3L696.9 1171.7L698.2 1177.1L699.5 1182.8L700.7 1182.2L702.0 1184.3L703.3 1189.4L704.5 1189.0L705.8 1190.2L707.1 1190.6L708.3 1191.7L709.6 1192.3L710.9 1192.8L712.1 1193.0L713.4 1193.3L714.7 1193.4L715.9 1193.5L717.2 1193.6L718.5 1193.6L719.7 1193.6L721.0 1193.6L722.2 1193.7L723.5 1193.7L724.8 1193.7" fill="none" stroke="#666" stroke-width=".7"/>
<path d="M556.5 1033.2V1193.7M556.5 1193.7h-5.5M556.5 1188.4h-3M556.5 1183h-3M556.5 1177.7h-3M556.5 1172.3h-3M556.5 1167.0h-5.5M556.5 1161.6h-3M556.5 1156.2h-3M556.5 1150.9h-3M556.5 1145.5h-3M556.5 1140.2h-5.5M556.5 1134.9h-3M556.5 1129.5h-3M556.5 1124.2h-3M556.5 1118.8h-3M556.5 1113.5h-5.5M556.5 1108.1h-3M556.5 1102.8h-3M556.5 1097.4h-3M556.5 1092.0h-3M556.5 1086.7h-5.5M556.5 1081.4h-3M556.5 1076h-3M556.5 1070.7h-3M556.5 1065.3h-3M556.5 1060.0h-5.5M556.5 1054.6h-3M556.5 1049.2h-3M556.5 1043.9h-3M556.5 1038.5h-3M556.5 1033.2h-5.5" stroke="#888" stroke-width="1" fill="none"/>
<path d="M550.5 1193.7H725.2M556.5 1193.7v7M564.9 1193.7v3.5M573.4 1193.7v3.5M581.8 1193.7v3.5M590.2 1193.7v7M598.7 1193.7v3.5M607.1 1193.7v3.5M615.5 1193.7v3.5M624.0 1193.7v7M632.4 1193.7v3.5M640.9 1193.7v3.5M649.3 1193.7v3.5M657.7 1193.7v7M666.2 1193.7v3.5M674.6 1193.7v3.5M683.0 1193.7v3.5M691.5 1193.7v7M699.9 1193.7v3.5M708.3 1193.7v3.5M716.8 1193.7v3.5M725.2 1193.7v7" stroke="#333" stroke-width="1.3" fill="none"/>
<text x="547.3" y="1193.7" font-family="'Liberation Sans', sans-serif" font-size="13" text-anchor="middle" fill="#333" transform="rotate(-90 547.3 1193.7)" textLength="6.5" lengthAdjust="spacingAndGlyphs">0</text>
<text x="547.3" y="1167.0" font-family="'Liberation Sans', sans-serif" font-size="13" text-anchor="middle" fill="#333" transform="rotate(-90 547.3 1167.0)" textLength="19.5" lengthAdjust="spacingAndGlyphs">100</text>
<text x="547.3" y="1140.2" font-family="'Liberation Sans', sans-serif" font-size="13" text-anchor="middle" fill="#333" transform="rotate(-90 547.3 1140.2)" textLength="19.5" lengthAdjust="spacingAndGlyphs">200</text>
<text x="547.3" y="1113.5" font-family="'Liberation Sans', sans-serif" font-size="13" text-anchor="middle" fill="#333" transform="rotate(-90 547.3 1113.5)" textLength="19.5" lengthAdjust="spacingAndGlyphs">300</text>
<text x="547.3" y="1086.7" font-family="'Liberation Sans', sans-serif" font-size="13" text-anchor="middle" fill="#333" transform="rotate(-90 547.3 1086.7)" textLength="19.5" lengthAdjust="spacingAndGlyphs">400</text>
<text x="547.3" y="1060.0" font-family="'Liberation Sans', sans-serif" font-size="13" text-anchor="middle" fill="#333" transform="rotate(-90 547.3 1060.0)" textLength="19.5" lengthAdjust="spacingAndGlyphs">500</text>
<text x="547.3" y="1033.2" font-family="'Liberation Sans', sans-serif" font-size="13" text-anchor="middle" fill="#333" transform="rotate(-90 547.3 1033.2)" textLength="19.5" lengthAdjust="spacingAndGlyphs">600</text>
<text x="556.5" y="1218.3" font-family="'Liberation Sans', sans-serif" font-size="15.3" text-anchor="middle" fill="#111" textLength="10.0" lengthAdjust="spacingAndGlyphs">0</text>
<text x="590.2" y="1218.3" font-family="'Liberation Sans', sans-serif" font-size="15.3" text-anchor="middle" fill="#111" textLength="20.0" lengthAdjust="spacingAndGlyphs">20</text>
<text x="624.0" y="1218.3" font-family="'Liberation Sans', sans-serif" font-size="15.3" text-anchor="middle" fill="#111" textLength="20.0" lengthAdjust="spacingAndGlyphs">40</text>
<text x="657.7" y="1218.3" font-family="'Liberation Sans', sans-serif" font-size="15.3" text-anchor="middle" fill="#111" textLength="20.0" lengthAdjust="spacingAndGlyphs">60</text>
<text x="691.5" y="1218.3" font-family="'Liberation Sans', sans-serif" font-size="15.3" text-anchor="middle" fill="#111" textLength="20.0" lengthAdjust="spacingAndGlyphs">80</text>
<text x="725.2" y="1218.3" font-family="'Liberation Sans', sans-serif" font-size="15.3" text-anchor="middle" fill="#111" textLength="30.0" lengthAdjust="spacingAndGlyphs">100</text>
<text x="629.2" y="1028.7" font-family="'Liberation Sans', sans-serif" font-size="14.7" fill="#223C6C" textLength="40.7" lengthAdjust="spacingAndGlyphs">G0/G1</text>
<text x="675" y="1028.7" font-family="'Liberation Sans', sans-serif" font-size="14.7" fill="#223C6C" textLength="46.8" lengthAdjust="spacingAndGlyphs">14.18%</text>
<text x="629.2" y="1047.5" font-family="'Liberation Sans', sans-serif" font-size="14.7" fill="#223C6C" textLength="9.2" lengthAdjust="spacingAndGlyphs">S</text>
<text x="675.7" y="1047.5" font-family="'Liberation Sans', sans-serif" font-size="14.7" fill="#223C6C" textLength="46.8" lengthAdjust="spacingAndGlyphs">45.18%</text>
<text x="629.2" y="1066.3" font-family="'Liberation Sans', sans-serif" font-size="14.7" fill="#223C6C" textLength="33.7" lengthAdjust="spacingAndGlyphs">G2/M</text>
<text x="681" y="1066.3" font-family="'Liberation Sans', sans-serif" font-size="14.7" fill="#223C6C" textLength="46.8" lengthAdjust="spacingAndGlyphs">40.64%</text>
<clipPath id="hs3"><path d="M163.1 1395.9L164.3 1395.7L165.6 1395.6L166.9 1395.2L168.1 1394.6L169.4 1393.5L170.7 1391.8L172.0 1388.8L173.2 1384.2L174.5 1377.5L175.8 1369.0L177.0 1359.4L178.3 1350.5L179.6 1343.2L180.8 1338.0L182.1 1334.7L183.4 1332.8L184.7 1331.8L185.9 1331.4L187.2 1331.4L188.5 1331.6L189.7 1332.1L191.0 1332.8L192.3 1333.8L193.6 1335.0L194.8 1336.5L196.1 1338.3L197.4 1340.4L198.6 1343.0L199.9 1346.0L201.2 1349.3L202.5 1353.0L203.7 1357.0L205.0 1361.1L206.3 1365.3L207.5 1369.4L208.8 1373.3L210.1 1376.9L211.4 1380.1L212.6 1382.9L213.9 1385.4L215.2 1387.4L216.4 1389.1L217.7 1390.5L219.0 1391.6L220.3 1392.6L221.5 1393.3L222.8 1393.9L224.1 1394.3L225.3 1394.7L226.6 1395.0L227.9 1395.2L229.2 1395.4L230.4 1395.5L231.7 1395.6L233.0 1395.7L234.2 1395.8L235.5 1395.8L235.5 1396L163.1 1396Z"/></clipPath>
<path d="M163.1 1395.9L164.3 1395.7L165.6 1395.6L166.9 1395.2L168.1 1394.6L169.4 1393.5L170.7 1391.8L172.0 1388.8L173.2 1384.2L174.5 1377.5L175.8 1369.0L177.0 1359.4L178.3 1350.5L179.6 1343.2L180.8 1338.0L182.1 1334.7L183.4 1332.8L184.7 1331.8L185.9 1331.4L187.2 1331.4L188.5 1331.6L189.7 1332.1L191.0 1332.8L192.3 1333.8L193.6 1335.0L194.8 1336.5L196.1 1338.3L197.4 1340.4L198.6 1343.0L199.9 1346.0L201.2 1349.3L202.5 1353.0L203.7 1357.0L205.0 1361.1L206.3 1365.3L207.5 1369.4L208.8 1373.3L210.1 1376.9L211.4 1380.1L212.6 1382.9L213.9 1385.4L215.2 1387.4L216.4 1389.1L217.7 1390.5L219.0 1391.6L220.3 1392.6L221.5 1393.3L222.8 1393.9L224.1 1394.3L225.3 1394.7L226.6 1395.0L227.9 1395.2L229.2 1395.4L230.4 1395.5L231.7 1395.6L233.0 1395.7L234.2 1395.8L235.5 1395.8L235.5 1396L163.1 1396Z" fill="#fff"/>
<path d="M208.8 1395.8L210.1 1395.7L211.4 1395.6L212.6 1395.3L213.9 1394.9L215.2 1394.4L216.4 1393.7L217.7 1392.9L219.0 1392.1L220.3 1391.3L221.5 1390.8L222.8 1390.4L224.1 1390.1L225.3 1390.0L226.6 1390.0L227.9 1390.0L229.2 1390.0L230.4 1390.0L231.7 1390.1L233.0 1390.2L234.2 1390.3L235.5 1390.3L236.8 1390.4L238.1 1390.5L239.3 1390.6L240.6 1390.7L241.9 1390.8L243.1 1390.8L244.4 1390.9L245.7 1391.0L247.0 1391.1L248.2 1391.2L249.5 1391.3L250.8 1391.4L252.0 1391.4L253.3 1391.5L254.6 1391.6L255.9 1391.7L257.1 1391.8L258.4 1391.9L259.7 1392.0L260.9 1392.0L262.2 1392.1L263.5 1392.2L264.8 1392.3L266.0 1392.4L267.3 1392.5L268.6 1392.6L269.8 1392.6L271.1 1392.7L272.4 1392.8L273.7 1392.9L274.9 1393.0L276.2 1393.1L277.5 1393.2L278.7 1393.2L280.0 1393.3L281.3 1393.4L282.6 1393.5L283.8 1393.6L285.1 1393.7L286.4 1393.8L287.6 1393.8L288.9 1393.9L290.2 1394.0L291.4 1394.1L292.7 1394.2L294.0 1394.3L295.3 1394.3L296.5 1394.4L297.8 1394.5L299.1 1394.6L299.1 1396L208.8 1396Z" fill="#C4F4BE" stroke="#777" stroke-width=".6"/>
<path d="M155.4 1395.9L156.7 1395.6L158.0 1394.8L159.2 1393.0L160.5 1389.1L161.8 1381.7L163.1 1369.5L164.3 1351.7L165.6 1329.4L166.9 1306.0L168.1 1286.6L169.4 1276.4L170.7 1278.5L172.0 1292.2L173.2 1313.6L174.5 1337.2L175.8 1358.2L177.0 1374.2L178.3 1384.7L179.6 1390.7L180.8 1393.8L182.1 1395.2L183.4 1395.7L184.7 1395.9L184.7 1396L155.4 1396Z" fill="#F20000" stroke="#300" stroke-width=".5"/>
<path d="M187.2 1395.8L188.5 1395.7L189.7 1395.6L191.0 1395.3L192.3 1394.9L193.6 1394.3L194.8 1393.5L196.1 1392.5L197.4 1391.2L198.6 1389.6L199.9 1387.9L201.2 1386.1L202.5 1384.2L203.7 1382.5L205.0 1381.1L206.3 1380.1L207.5 1379.6L208.8 1379.7L210.1 1380.4L211.4 1381.5L212.6 1383.1L213.9 1384.8L215.2 1386.7L216.4 1388.5L217.7 1390.2L219.0 1391.6L220.3 1392.8L221.5 1393.8L222.8 1394.5L224.1 1395.0L225.3 1395.4L226.6 1395.6L227.9 1395.8L229.2 1395.9L229.2 1396L187.2 1396Z" fill="#F20000" stroke="#300" stroke-width=".5"/>
<rect x="130" y="1232" width="169.5" height="164" fill="url(#hatch)" clip-path="url(#hs3)"/>
<path d="M130 1396L131.3 1396L132.5 1396L133.8 1396L135.1 1396L136.4 1396L137.6 1396.0L138.9 1396.0L140.2 1396.0L141.4 1396.0L142.7 1396.0L144.0 1396.0L145.3 1396.0L146.5 1396.0L147.8 1396.0L149.1 1396.0L150.3 1396.0L151.6 1396.0L152.9 1396.0L154.2 1396.0L155.4 1396.0L156.7 1396.0L158.0 1396.0L159.2 1396.0L160.5 1396.0L161.8 1395.9L163.1 1395.9L164.3 1395.7L165.6 1395.6L166.9 1395.2L168.1 1394.6L169.4 1393.5L170.7 1391.8L172.0 1388.8L173.2 1384.2L174.5 1377.5L175.8 1369.0L177.0 1359.4L178.3 1350.5L179.6 1343.2L180.8 1338.0L182.1 1334.7L183.4 1332.8L184.7 1331.8L185.9 1331.4L187.2 1331.4L188.5 1331.6L189.7 1332.1L191.0 1332.8L192.3 1333.8L193.6 1335.0L194.8 1336.5L196.1 1338.3L197.4 1340.4L198.6 1343.0L199.9 1346.0L201.2 1349.3L202.5 1353.0L203.7 1357.0L205.0 1361.1L206.3 1365.3L207.5 1369.4L208.8 1373.3L210.1 1376.9L211.4 1380.1L212.6 1382.9L213.9 1385.4L215.2 1387.4L216.4 1389.1L217.7 1390.5L219.0 1391.6L220.3 1392.6L221.5 1393.3L222.8 1393.9L224.1 1394.3L225.3 1394.7L226.6 1395.0L227.9 1395.2L229.2 1395.4L230.4 1395.5L231.7 1395.6L233.0 1395.7L234.2 1395.8L235.5 1395.8L236.8 1395.9L238.1 1395.9L239.3 1395.9L240.6 1395.9L241.9 1395.9L243.1 1396.0L244.4 1396.0L245.7 1396.0L247.0 1396.0L248.2 1396.0L249.5 1396.0L250.8 1396.0L252.0 1396.0L253.3 1396.0L254.6 1396.0L255.9 1396.0L257.1 1396.0L258.4 1396.0L259.7 1396.0L260.9 1396.0L262.2 1396.0L263.5 1396.0L264.8 1396.0L266.0 1396.0L267.3 1396.0L268.6 1396.0L269.8 1396.0L271.1 1396.0L272.4 1396.0L273.7 1396.0L274.9 1396.0L276.2 1396.0L277.5 1396.0L278.7 1396.0L280.0 1396.0L281.3 1396.0L282.6 1396.0L283.8 1396.0L285.1 1396.0L286.4 1396.0L287.6 1396.0L288.9 1396.0L290.2 1396.0L291.4 1396.0L292.7 1396.0L294.0 1396.0L295.3 1396.0L296.5 1396.0L297.8 1396L299.1 1396" fill="none" stroke="#555" stroke-width=".6"/>
<path d="M130 1396L131.3 1396L132.5 1396L133.8 1396L135.1 1396L136.4 1396L137.6 1396.0L138.9 1396.0L140.2 1396.0L141.4 1396.0L142.7 1396.0L144.0 1396.0L145.3 1396.0L146.5 1396.0L147.8 1396.0L149.1 1396.0L150.3 1396.0L151.6 1396.0L152.9 1396.0L154.2 1396.0L155.4 1395.9L156.7 1395.6L158.0 1394.8L159.2 1393.0L160.5 1388.9L161.8 1381.2L163.1 1368.0L164.3 1348.0L165.6 1321.4L166.9 1291.4L168.1 1263.9L169.4 1246.4L170.7 1244.2L172.0 1257.5L173.2 1280.5L174.5 1304.9L175.8 1323.7L177.0 1334.2L178.3 1337.8L179.6 1337.5L180.8 1335.7L182.1 1333.9L183.4 1332.5L184.7 1331.7L185.9 1331.3L187.2 1331.2L188.5 1331.4L189.7 1331.7L191.0 1332.1L192.3 1332.7L193.6 1333.3L194.8 1334.0L196.1 1334.7L197.4 1335.6L198.6 1336.6L199.9 1337.9L201.2 1339.4L202.5 1341.2L203.7 1343.5L205.0 1346.2L206.3 1349.3L207.5 1352.9L208.8 1356.8L210.1 1361.0L211.4 1365.2L212.6 1369.3L213.9 1373.1L215.2 1376.5L216.4 1379.3L217.7 1381.5L219.0 1383.3L220.3 1384.7L221.5 1385.8L222.8 1386.8L224.1 1387.5L225.3 1388.1L226.6 1388.6L227.9 1388.9L229.2 1389.2L230.4 1389.5L231.7 1389.7L233.0 1389.9L234.2 1390.0L235.5 1390.2L236.8 1390.3L238.1 1390.4L239.3 1390.5L240.6 1390.6L241.9 1390.7L243.1 1390.8L244.4 1390.9L245.7 1391.0L247.0 1391.1L248.2 1391.2L249.5 1391.3L250.8 1391.4L252.0 1391.4L253.3 1391.5L254.6 1391.6L255.9 1391.7L257.1 1391.8L258.4 1391.9L259.7 1392.0L260.9 1392.0L262.2 1392.1L263.5 1392.2L264.8 1392.3L266.0 1392.4L267.3 1392.5L268.6 1392.6L269.8 1392.6L271.1 1392.7L272.4 1392.8L273.7 1392.9L274.9 1393.0L276.2 1393.1L277.5 1393.2L278.7 1393.2L280.0 1393.3L281.3 1393.4L282.6 1393.5L283.8 1393.6L285.1 1393.7L286.4 1393.8L287.6 1393.8L288.9 1393.9L290.2 1394.0L291.4 1394.1L292.7 1394.2L294.0 1394.3L295.3 1394.3L296.5 1394.4L297.8 1394.5L299.1 1394.6" fill="none" stroke="#444" stroke-width=".8"/>
<path d="M130 1396L131.3 1396L132.5 1396L133.8 1396L135.1 1396L136.4 1396L137.6 1396.0L138.9 1396.0L140.2 1396.0L141.4 1396.0L142.7 1396.0L144.0 1396.0L145.3 1396.0L146.5 1396.0L147.8 1396.0L149.1 1396.0L150.3 1396.0L151.6 1396.0L152.9 1396.0L154.2 1396.0L155.4 1395.8L156.7 1395.6L158.0 1394.9L159.2 1393.3L160.5 1387.1L161.8 1379.4L163.1 1367.9L164.3 1349.6L165.6 1319.2L166.9 1290.9L168.1 1244.5L169.4 1233.8L170.7 1250.3L172.0 1262.6L173.2 1278.2L174.5 1310.4L175.8 1321.2L177.0 1331.8L178.3 1336.8L179.6 1336.4L180.8 1331.8L182.1 1323.2L183.4 1323.8L184.7 1328.9L185.9 1325.4L187.2 1330.0L188.5 1325.4L189.7 1331.8L191.0 1325.1L192.3 1335.8L193.6 1334.1L194.8 1331.3L196.1 1329.5L197.4 1337.2L198.6 1337.7L199.9 1331.0L201.2 1336.6L202.5 1340.8L203.7 1339.6L205.0 1343.5L206.3 1342.7L207.5 1352.4L208.8 1359.1L210.1 1363.0L211.4 1364.4L212.6 1367.1L213.9 1374.2L215.2 1370.8L216.4 1375.8L217.7 1380.2L219.0 1379.3L220.3 1381.0L221.5 1382.8L222.8 1383.7L224.1 1382.8L225.3 1383.3L226.6 1382.1L227.9 1384.2L229.2 1384.8L230.4 1383.9L231.7 1384.3L233.0 1385.3L234.2 1382.9L235.5 1384.6L236.8 1384.0L238.1 1382.5L239.3 1385.4L240.6 1383.1L241.9 1382.7L243.1 1383.1L244.4 1383.0L245.7 1383.9L247.0 1385.5L248.2 1383.4L249.5 1384.4L250.8 1382.0L252.0 1383.2L253.3 1383.8L254.6 1384.0L255.9 1382.2L257.1 1383.1L258.4 1384.2L259.7 1383.9L260.9 1385.2L262.2 1385.0L263.5 1384.8L264.8 1385.2L266.0 1385.4L267.3 1387.5L268.6 1388.1L269.8 1388.3L271.1 1387.6L272.4 1385.8L273.7 1386.0L274.9 1388.9L276.2 1390.0L277.5 1387.9L278.7 1388.4L280.0 1391.1L281.3 1389.0L282.6 1389.9L283.8 1389.0L285.1 1390.0L286.4 1389.9L287.6 1391.0L288.9 1392.7L290.2 1392.0L291.4 1392.9L292.7 1391.5L294.0 1393.6L295.3 1394.5L296.5 1392.3L297.8 1392.0L299.1 1391.8" fill="none" stroke="#666" stroke-width=".7"/>
<path d="M130 1232V1396M130 1396h-5.5M130 1390.5h-3M130 1385.1h-3M130 1379.6h-3M130 1374.1h-3M130 1368.7h-5.5M130 1363.2h-3M130 1357.7h-3M130 1352.3h-3M130 1346.8h-3M130 1341.3h-5.5M130 1335.9h-3M130 1330.4h-3M130 1324.9h-3M130 1319.5h-3M130 1314h-5.5M130 1308.5h-3M130 1303.1h-3M130 1297.6h-3M130 1292.1h-3M130 1286.7h-5.5M130 1281.2h-3M130 1275.7h-3M130 1270.3h-3M130 1264.8h-3M130 1259.3h-5.5M130 1253.9h-3M130 1248.4h-3M130 1242.9h-3M130 1237.5h-3M130 1232h-5.5" stroke="#888" stroke-width="1" fill="none"/>
<path d="M124 1396H299.5M130 1396v7M138.5 1396v3.5M146.9 1396v3.5M155.4 1396v3.5M163.9 1396v7M172.4 1396v3.5M180.8 1396v3.5M189.3 1396v3.5M197.8 1396v7M206.3 1396v3.5M214.8 1396v3.5M223.2 1396v3.5M231.7 1396v7M240.2 1396v3.5M248.7 1396v3.5M257.1 1396v3.5M265.6 1396v7M274.1 1396v3.5M282.6 1396v3.5M291.0 1396v3.5M299.5 1396v7" stroke="#333" stroke-width="1.3" fill="none"/>
<text x="120.8" y="1396" font-family="'Liberation Sans', sans-serif" font-size="13" text-anchor="middle" fill="#333" transform="rotate(-90 120.8 1396)" textLength="6.5" lengthAdjust="spacingAndGlyphs">0</text>
<text x="120.8" y="1368.7" font-family="'Liberation Sans', sans-serif" font-size="13" text-anchor="middle" fill="#333" transform="rotate(-90 120.8 1368.7)" textLength="19.5" lengthAdjust="spacingAndGlyphs">100</text>
<text x="120.8" y="1341.3" font-family="'Liberation Sans', sans-serif" font-size="13" text-anchor="middle" fill="#333" transform="rotate(-90 120.8 1341.3)" textLength="19.5" lengthAdjust="spacingAndGlyphs">200</text>
<text x="120.8" y="1314" font-family="'Liberation Sans', sans-serif" font-size="13" text-anchor="middle" fill="#333" transform="rotate(-90 120.8 1314)" textLength="19.5" lengthAdjust="spacingAndGlyphs">300</text>
<text x="120.8" y="1286.7" font-family="'Liberation Sans', sans-serif" font-size="13" text-anchor="middle" fill="#333" transform="rotate(-90 120.8 1286.7)" textLength="19.5" lengthAdjust="spacingAndGlyphs">400</text>
<text x="120.8" y="1259.3" font-family="'Liberation Sans', sans-serif" font-size="13" text-anchor="middle" fill="#333" transform="rotate(-90 120.8 1259.3)" textLength="19.5" lengthAdjust="spacingAndGlyphs">500</text>
<text x="120.8" y="1232" font-family="'Liberation Sans', sans-serif" font-size="13" text-anchor="middle" fill="#333" transform="rotate(-90 120.8 1232)" textLength="19.5" lengthAdjust="spacingAndGlyphs">600</text>
<text x="130" y="1420.6" font-family="'Liberation Sans', sans-serif" font-size="15.3" text-anchor="middle" fill="#111" textLength="10.0" lengthAdjust="spacingAndGlyphs">0</text>
<text x="163.9" y="1420.6" font-family="'Liberation Sans', sans-serif" font-size="15.3" text-anchor="middle" fill="#111" textLength="20.0" lengthAdjust="spacingAndGlyphs">20</text>
<text x="197.8" y="1420.6" font-family="'Liberation Sans', sans-serif" font-size="15.3" text-anchor="middle" fill="#111" textLength="20.0" lengthAdjust="spacingAndGlyphs">40</text>
<text x="231.7" y="1420.6" font-family="'Liberation Sans', sans-serif" font-size="15.3" text-anchor="middle" fill="#111" textLength="20.0" lengthAdjust="spacingAndGlyphs">60</text>
<text x="265.6" y="1420.6" font-family="'Liberation Sans', sans-serif" font-size="15.3" text-anchor="middle" fill="#111" textLength="20.0" lengthAdjust="spacingAndGlyphs">80</text>
<text x="299.5" y="1420.6" font-family="'Liberation Sans', sans-serif" font-size="15.3" text-anchor="middle" fill="#111" textLength="30.0" lengthAdjust="spacingAndGlyphs">100</text>
<text x="200.2" y="1276.7" font-family="'Liberation Sans', sans-serif" font-size="14.7" fill="#223C6C" textLength="40.7" lengthAdjust="spacingAndGlyphs">G0/G1</text>
<text x="245.5" y="1276.7" font-family="'Liberation Sans', sans-serif" font-size="14.7" fill="#223C6C" textLength="46.8" lengthAdjust="spacingAndGlyphs">43.01%</text>
<text x="200.2" y="1295.5" font-family="'Liberation Sans', sans-serif" font-size="14.7" fill="#223C6C" textLength="9.2" lengthAdjust="spacingAndGlyphs">S</text>
<text x="243.2" y="1295.5" font-family="'Liberation Sans', sans-serif" font-size="14.7" fill="#223C6C" textLength="46.8" lengthAdjust="spacingAndGlyphs">43.79%</text>
<text x="200.2" y="1314.3" font-family="'Liberation Sans', sans-serif" font-size="14.7" fill="#223C6C" textLength="33.7" lengthAdjust="spacingAndGlyphs">G2/M</text>
<text x="241.7" y="1314.3" font-family="'Liberation Sans', sans-serif" font-size="14.7" fill="#223C6C" textLength="46.8" lengthAdjust="spacingAndGlyphs">13.20%</text>
<clipPath id="hs4"><path d="M369.0 1394.1L370.3 1393.9L371.6 1393.7L372.9 1393.4L374.2 1392.8L375.5 1391.7L376.7 1390.0L378.0 1387.2L379.3 1383.0L380.6 1377.5L381.9 1370.9L383.2 1364.5L384.5 1358.9L385.7 1354.9L387.0 1352.2L388.3 1350.6L389.6 1349.7L390.9 1349.3L392.2 1349.2L393.4 1349.3L394.7 1349.6L396.0 1350.0L397.3 1350.6L398.6 1351.3L399.9 1352.2L401.2 1353.3L402.4 1354.6L403.7 1356.1L405.0 1357.9L406.3 1359.9L407.6 1362.2L408.9 1364.6L410.1 1367.2L411.4 1369.9L412.7 1372.7L414.0 1375.4L415.3 1377.9L416.6 1380.3L417.9 1382.5L419.1 1384.4L420.4 1386.1L421.7 1387.6L423.0 1388.8L424.3 1389.8L425.6 1390.7L426.8 1391.4L428.1 1391.9L429.4 1392.4L430.7 1392.7L432.0 1393.0L433.3 1393.3L434.6 1393.5L435.8 1393.6L437.1 1393.7L438.4 1393.8L439.7 1393.9L441.0 1394.0L442.3 1394.0L442.3 1394.2L369.0 1394.2Z"/></clipPath>
<path d="M369.0 1394.1L370.3 1393.9L371.6 1393.7L372.9 1393.4L374.2 1392.8L375.5 1391.7L376.7 1390.0L378.0 1387.2L379.3 1383.0L380.6 1377.5L381.9 1370.9L383.2 1364.5L384.5 1358.9L385.7 1354.9L387.0 1352.2L388.3 1350.6L389.6 1349.7L390.9 1349.3L392.2 1349.2L393.4 1349.3L394.7 1349.6L396.0 1350.0L397.3 1350.6L398.6 1351.3L399.9 1352.2L401.2 1353.3L402.4 1354.6L403.7 1356.1L405.0 1357.9L406.3 1359.9L407.6 1362.2L408.9 1364.6L410.1 1367.2L411.4 1369.9L412.7 1372.7L414.0 1375.4L415.3 1377.9L416.6 1380.3L417.9 1382.5L419.1 1384.4L420.4 1386.1L421.7 1387.6L423.0 1388.8L424.3 1389.8L425.6 1390.7L426.8 1391.4L428.1 1391.9L429.4 1392.4L430.7 1392.7L432.0 1393.0L433.3 1393.3L434.6 1393.5L435.8 1393.6L437.1 1393.7L438.4 1393.8L439.7 1393.9L441.0 1394.0L442.3 1394.0L442.3 1394.2L369.0 1394.2Z" fill="#fff"/>
<path d="M415.3 1394.1L416.6 1394.0L417.9 1393.8L419.1 1393.6L420.4 1393.4L421.7 1393.0L423.0 1392.5L424.3 1392.0L425.6 1391.6L426.8 1391.2L428.1 1390.9L429.4 1390.7L430.7 1390.6L432.0 1390.6L433.3 1390.6L434.6 1390.6L435.8 1390.6L437.1 1390.7L438.4 1390.7L439.7 1390.8L441.0 1390.8L442.3 1390.9L443.5 1390.9L444.8 1391.0L446.1 1391.0L447.4 1391.1L448.7 1391.1L450.0 1391.2L451.3 1391.2L452.5 1391.3L453.8 1391.3L455.1 1391.4L456.4 1391.4L457.7 1391.5L459.0 1391.5L460.3 1391.6L461.5 1391.6L462.8 1391.7L464.1 1391.7L465.4 1391.8L466.7 1391.8L468.0 1391.9L469.2 1391.9L470.5 1392.0L471.8 1392.0L473.1 1392.1L474.4 1392.1L475.7 1392.2L477.0 1392.2L478.2 1392.3L479.5 1392.3L480.8 1392.4L482.1 1392.4L483.4 1392.5L484.7 1392.5L485.9 1392.6L487.2 1392.6L488.5 1392.7L489.8 1392.7L491.1 1392.8L492.4 1392.8L493.7 1392.9L494.9 1392.9L496.2 1393.0L497.5 1393.0L498.8 1393.1L500.1 1393.1L501.4 1393.2L502.6 1393.2L503.9 1393.3L505.2 1393.4L506.5 1393.4L507.8 1393.5L509.1 1393.5L509.1 1394.2L415.3 1394.2Z" fill="#C4F4BE" stroke="#777" stroke-width=".6"/>
<path d="M362.6 1394.0L363.9 1393.6L365.2 1392.7L366.5 1390.4L367.7 1385.8L369.0 1377.4L370.3 1364.0L371.6 1345.5L372.9 1323.5L374.2 1302.0L375.5 1286.1L376.7 1280.2L378.0 1286.1L379.3 1302.0L380.6 1323.5L381.9 1345.5L383.2 1364.0L384.5 1377.4L385.7 1385.8L387.0 1390.4L388.3 1392.7L389.6 1393.6L390.9 1394.0L390.9 1394.2L362.6 1394.2Z" fill="#F20000" stroke="#300" stroke-width=".5"/>
<path d="M394.7 1394.0L396.0 1393.9L397.3 1393.7L398.6 1393.3L399.9 1392.9L401.2 1392.2L402.4 1391.3L403.7 1390.1L405.0 1388.7L406.3 1387.1L407.6 1385.3L408.9 1383.4L410.1 1381.5L411.4 1379.8L412.7 1378.5L414.0 1377.7L415.3 1377.4L416.6 1377.7L417.9 1378.5L419.1 1379.8L420.4 1381.5L421.7 1383.4L423.0 1385.3L424.3 1387.1L425.6 1388.7L426.8 1390.1L428.1 1391.3L429.4 1392.2L430.7 1392.9L432.0 1393.3L433.3 1393.7L434.6 1393.9L435.8 1394.0L435.8 1394.2L394.7 1394.2Z" fill="#F20000" stroke="#300" stroke-width=".5"/>
<rect x="338.2" y="1231.3" width="171.3" height="162.9" fill="url(#hatch)" clip-path="url(#hs4)"/>
<path d="M338.2 1394.2L339.5 1394.2L340.8 1394.2L342.1 1394.2L343.3 1394.2L344.6 1394.2L345.9 1394.2L347.2 1394.2L348.5 1394.2L349.8 1394.2L351.0 1394.2L352.3 1394.2L353.6 1394.2L354.9 1394.2L356.2 1394.2L357.5 1394.2L358.8 1394.2L360.0 1394.2L361.3 1394.2L362.6 1394.2L363.9 1394.2L365.2 1394.2L366.5 1394.2L367.7 1394.1L369.0 1394.1L370.3 1393.9L371.6 1393.7L372.9 1393.4L374.2 1392.8L375.5 1391.7L376.7 1390.0L378.0 1387.2L379.3 1383.0L380.6 1377.5L381.9 1370.9L383.2 1364.5L384.5 1358.9L385.7 1354.9L387.0 1352.2L388.3 1350.6L389.6 1349.7L390.9 1349.3L392.2 1349.2L393.4 1349.3L394.7 1349.6L396.0 1350.0L397.3 1350.6L398.6 1351.3L399.9 1352.2L401.2 1353.3L402.4 1354.6L403.7 1356.1L405.0 1357.9L406.3 1359.9L407.6 1362.2L408.9 1364.6L410.1 1367.2L411.4 1369.9L412.7 1372.7L414.0 1375.4L415.3 1377.9L416.6 1380.3L417.9 1382.5L419.1 1384.4L420.4 1386.1L421.7 1387.6L423.0 1388.8L424.3 1389.8L425.6 1390.7L426.8 1391.4L428.1 1391.9L429.4 1392.4L430.7 1392.7L432.0 1393.0L433.3 1393.3L434.6 1393.5L435.8 1393.6L437.1 1393.7L438.4 1393.8L439.7 1393.9L441.0 1394.0L442.3 1394.0L443.5 1394.1L444.8 1394.1L446.1 1394.1L447.4 1394.1L448.7 1394.1L450.0 1394.2L451.3 1394.2L452.5 1394.2L453.8 1394.2L455.1 1394.2L456.4 1394.2L457.7 1394.2L459.0 1394.2L460.3 1394.2L461.5 1394.2L462.8 1394.2L464.1 1394.2L465.4 1394.2L466.7 1394.2L468.0 1394.2L469.2 1394.2L470.5 1394.2L471.8 1394.2L473.1 1394.2L474.4 1394.2L475.7 1394.2L477.0 1394.2L478.2 1394.2L479.5 1394.2L480.8 1394.2L482.1 1394.2L483.4 1394.2L484.7 1394.2L485.9 1394.2L487.2 1394.2L488.5 1394.2L489.8 1394.2L491.1 1394.2L492.4 1394.2L493.7 1394.2L494.9 1394.2L496.2 1394.2L497.5 1394.2L498.8 1394.2L500.1 1394.2L501.4 1394.2L502.6 1394.2L503.9 1394.2L505.2 1394.2L506.5 1394.2L507.8 1394.2L509.1 1394.2" fill="none" stroke="#555" stroke-width=".6"/>
<path d="M338.2 1394.2L339.5 1394.2L340.8 1394.2L342.1 1394.2L343.3 1394.2L344.6 1394.2L345.9 1394.2L347.2 1394.2L348.5 1394.2L349.8 1394.2L351.0 1394.2L352.3 1394.2L353.6 1394.2L354.9 1394.2L356.2 1394.2L357.5 1394.2L358.8 1394.2L360.0 1394.2L361.3 1394.1L362.6 1394.0L363.9 1393.6L365.2 1392.6L366.5 1390.3L367.7 1385.3L369.0 1375.9L370.3 1360.0L371.6 1336.2L372.9 1306.3L374.2 1276.0L375.5 1254.1L376.7 1247.5L378.0 1257.1L379.3 1277.2L380.6 1300.0L381.9 1319.5L383.2 1333.4L384.5 1341.9L385.7 1346.4L387.0 1348.4L388.3 1349.0L389.6 1349.1L390.9 1349.1L392.2 1349.1L393.4 1349.2L394.7 1349.4L396.0 1349.7L397.3 1350.1L398.6 1350.5L399.9 1350.9L401.2 1351.3L402.4 1351.7L403.7 1352.1L405.0 1352.4L406.3 1352.8L407.6 1353.2L408.9 1353.8L410.1 1354.5L411.4 1355.5L412.7 1356.9L414.0 1358.7L415.3 1360.9L416.6 1363.5L417.9 1366.4L419.1 1369.5L420.4 1372.6L421.7 1375.5L423.0 1378.1L424.3 1380.5L425.6 1382.5L426.8 1384.3L428.1 1385.7L429.4 1386.9L430.7 1387.9L432.0 1388.6L433.3 1389.1L434.6 1389.6L435.8 1389.9L437.1 1390.1L438.4 1390.3L439.7 1390.4L441.0 1390.6L442.3 1390.7L443.5 1390.8L444.8 1390.8L446.1 1390.9L447.4 1391.0L448.7 1391.1L450.0 1391.1L451.3 1391.2L452.5 1391.2L453.8 1391.3L455.1 1391.3L456.4 1391.4L457.7 1391.5L459.0 1391.5L460.3 1391.6L461.5 1391.6L462.8 1391.7L464.1 1391.7L465.4 1391.8L466.7 1391.8L468.0 1391.9L469.2 1391.9L470.5 1392.0L471.8 1392.0L473.1 1392.1L474.4 1392.1L475.7 1392.2L477.0 1392.2L478.2 1392.3L479.5 1392.3L480.8 1392.4L482.1 1392.4L483.4 1392.5L484.7 1392.5L485.9 1392.6L487.2 1392.6L488.5 1392.7L489.8 1392.7L491.1 1392.8L492.4 1392.8L493.7 1392.9L494.9 1392.9L496.2 1393.0L497.5 1393.0L498.8 1393.1L500.1 1393.1L501.4 1393.2L502.6 1393.2L503.9 1393.3L505.2 1393.4L506.5 1393.4L507.8 1393.5L509.1 1393.5" fill="none" stroke="#444" stroke-width=".8"/>
<path d="M338.2 1394.2L339.5 1394.2L340.8 1394.2L342.1 1394.2L343.3 1394.2L344.6 1394.2L345.9 1394.2L347.2 1394.2L348.5 1394.2L349.8 1394.2L351.0 1394.2L352.3 1394.2L353.6 1394.2L354.9 1394.2L356.2 1394.2L357.5 1394.2L358.8 1394.2L360.0 1394.2L361.3 1394.1L362.6 1394.0L363.9 1393.6L365.2 1391.5L366.5 1391.6L367.7 1385.1L369.0 1374.9L370.3 1356.7L371.6 1330.7L372.9 1300.1L374.2 1280.4L375.5 1258.0L376.7 1229.5L378.0 1248.0L379.3 1286.5L380.6 1302.7L381.9 1314.8L383.2 1335.4L384.5 1335.2L385.7 1343.7L387.0 1345.0L388.3 1349.1L389.6 1345.0L390.9 1338.9L392.2 1347.7L393.4 1343.7L394.7 1344.9L396.0 1346.2L397.3 1348.3L398.6 1350.5L399.9 1351.6L401.2 1345.3L402.4 1347.1L403.7 1346.9L405.0 1346.8L406.3 1350.5L407.6 1353.2L408.9 1353.9L410.1 1351.9L411.4 1352.4L412.7 1354.3L414.0 1360.7L415.3 1360.4L416.6 1366.1L417.9 1366.8L419.1 1368.4L420.4 1372.6L421.7 1374.9L423.0 1375.6L424.3 1374.6L425.6 1380.2L426.8 1382.3L428.1 1381.4L429.4 1383.2L430.7 1382.4L432.0 1383.9L433.3 1384.2L434.6 1383.9L435.8 1384.5L437.1 1383.1L438.4 1383.2L439.7 1387.0L441.0 1383.6L442.3 1386.5L443.5 1386.6L444.8 1383.9L446.1 1385.8L447.4 1385.5L448.7 1384.0L450.0 1385.8L451.3 1385.7L452.5 1384.7L453.8 1383.7L455.1 1384.8L456.4 1386.9L457.7 1386.2L459.0 1386.0L460.3 1383.9L461.5 1385.1L462.8 1385.2L464.1 1385.2L465.4 1387.0L466.7 1386.1L468.0 1386.8L469.2 1388.7L470.5 1387.6L471.8 1387.3L473.1 1389.4L474.4 1387.6L475.7 1388.0L477.0 1387.8L478.2 1390.2L479.5 1389.3L480.8 1388.3L482.1 1389.2L483.4 1391.1L484.7 1390.3L485.9 1389.1L487.2 1391.0L488.5 1390.7L489.8 1388.5L491.1 1391.6L492.4 1391.9L493.7 1391.9L494.9 1392.1L496.2 1392.2L497.5 1392.3L498.8 1392.4L500.1 1392.5L501.4 1392.6L502.6 1392.7L503.9 1392.9L505.2 1392.9L506.5 1393.0L507.8 1393.2L509.1 1393.2" fill="none" stroke="#666" stroke-width=".7"/>
<path d="M338.2 1231.3V1394.2M338.2 1394.2h-5.5M338.2 1388.8h-3M338.2 1383.3h-3M338.2 1377.9h-3M338.2 1372.5h-3M338.2 1367.0h-5.5M338.2 1361.6h-3M338.2 1356.2h-3M338.2 1350.8h-3M338.2 1345.3h-3M338.2 1339.9h-5.5M338.2 1334.5h-3M338.2 1329.0h-3M338.2 1323.6h-3M338.2 1318.2h-3M338.2 1312.8h-5.5M338.2 1307.3h-3M338.2 1301.9h-3M338.2 1296.5h-3M338.2 1291.0h-3M338.2 1285.6h-5.5M338.2 1280.2h-3M338.2 1274.7h-3M338.2 1269.3h-3M338.2 1263.9h-3M338.2 1258.5h-5.5M338.2 1253.0h-3M338.2 1247.6h-3M338.2 1242.2h-3M338.2 1236.7h-3M338.2 1231.3h-5.5" stroke="#888" stroke-width="1" fill="none"/>
<path d="M332.2 1394.2H509.5M338.2 1394.2v7M346.8 1394.2v3.5M355.3 1394.2v3.5M363.9 1394.2v3.5M372.5 1394.2v7M381.0 1394.2v3.5M389.6 1394.2v3.5M398.2 1394.2v3.5M406.7 1394.2v7M415.3 1394.2v3.5M423.9 1394.2v3.5M432.4 1394.2v3.5M441.0 1394.2v7M449.5 1394.2v3.5M458.1 1394.2v3.5M466.7 1394.2v3.5M475.2 1394.2v7M483.8 1394.2v3.5M492.4 1394.2v3.5M500.9 1394.2v3.5M509.5 1394.2v7" stroke="#333" stroke-width="1.3" fill="none"/>
<text x="329" y="1394.2" font-family="'Liberation Sans', sans-serif" font-size="13" text-anchor="middle" fill="#333" transform="rotate(-90 329 1394.2)" textLength="6.5" lengthAdjust="spacingAndGlyphs">0</text>
<text x="329" y="1367.0" font-family="'Liberation Sans', sans-serif" font-size="13" text-anchor="middle" fill="#333" transform="rotate(-90 329 1367.0)" textLength="19.5" lengthAdjust="spacingAndGlyphs">100</text>
<text x="329" y="1339.9" font-family="'Liberation Sans', sans-serif" font-size="13" text-anchor="middle" fill="#333" transform="rotate(-90 329 1339.9)" textLength="19.5" lengthAdjust="spacingAndGlyphs">200</text>
<text x="329" y="1312.8" font-family="'Liberation Sans', sans-serif" font-size="13" text-anchor="middle" fill="#333" transform="rotate(-90 329 1312.8)" textLength="19.5" lengthAdjust="spacingAndGlyphs">300</text>
<text x="329" y="1285.6" font-family="'Liberation Sans', sans-serif" font-size="13" text-anchor="middle" fill="#333" transform="rotate(-90 329 1285.6)" textLength="19.5" lengthAdjust="spacingAndGlyphs">400</text>
<text x="329" y="1258.5" font-family="'Liberation Sans', sans-serif" font-size="13" text-anchor="middle" fill="#333" transform="rotate(-90 329 1258.5)" textLength="19.5" lengthAdjust="spacingAndGlyphs">500</text>
<text x="329" y="1231.3" font-family="'Liberation Sans', sans-serif" font-size="13" text-anchor="middle" fill="#333" transform="rotate(-90 329 1231.3)" textLength="19.5" lengthAdjust="spacingAndGlyphs">600</text>
<text x="338.2" y="1418.8" font-family="'Liberation Sans', sans-serif" font-size="15.3" text-anchor="middle" fill="#111" textLength="10.0" lengthAdjust="spacingAndGlyphs">0</text>
<text x="372.5" y="1418.8" font-family="'Liberation Sans', sans-serif" font-size="15.3" text-anchor="middle" fill="#111" textLength="20.0" lengthAdjust="spacingAndGlyphs">20</text>
<text x="406.7" y="1418.8" font-family="'Liberation Sans', sans-serif" font-size="15.3" text-anchor="middle" fill="#111" textLength="20.0" lengthAdjust="spacingAndGlyphs">40</text>
<text x="441.0" y="1418.8" font-family="'Liberation Sans', sans-serif" font-size="15.3" text-anchor="middle" fill="#111" textLength="20.0" lengthAdjust="spacingAndGlyphs">60</text>
<text x="475.2" y="1418.8" font-family="'Liberation Sans', sans-serif" font-size="15.3" text-anchor="middle" fill="#111" textLength="20.0" lengthAdjust="spacingAndGlyphs">80</text>
<text x="509.5" y="1418.8" font-family="'Liberation Sans', sans-serif" font-size="15.3" text-anchor="middle" fill="#111" textLength="30.0" lengthAdjust="spacingAndGlyphs">100</text>
<text x="408.2" y="1284.2" font-family="'Liberation Sans', sans-serif" font-size="14.7" fill="#223C6C" textLength="40.7" lengthAdjust="spacingAndGlyphs">G0/G1</text>
<text x="453.2" y="1284.2" font-family="'Liberation Sans', sans-serif" font-size="14.7" fill="#223C6C" textLength="46.8" lengthAdjust="spacingAndGlyphs">42.18%</text>
<text x="408.2" y="1303" font-family="'Liberation Sans', sans-serif" font-size="14.7" fill="#223C6C" textLength="9.2" lengthAdjust="spacingAndGlyphs">S</text>
<text x="451.7" y="1303" font-family="'Liberation Sans', sans-serif" font-size="14.7" fill="#223C6C" textLength="46.8" lengthAdjust="spacingAndGlyphs">40.28%</text>
<text x="408.2" y="1321.8" font-family="'Liberation Sans', sans-serif" font-size="14.7" fill="#223C6C" textLength="33.7" lengthAdjust="spacingAndGlyphs">G2/M</text>
<text x="449.5" y="1321.8" font-family="'Liberation Sans', sans-serif" font-size="14.7" fill="#223C6C" textLength="46.8" lengthAdjust="spacingAndGlyphs">17.54%</text>
<clipPath id="hs5"><path d="M574.4 1394.0L575.7 1393.8L576.9 1393.5L578.2 1393.0L579.5 1392.2L580.8 1390.7L582.0 1388.2L583.3 1384.1L584.6 1377.9L585.9 1369.3L587.1 1358.9L588.4 1348.0L589.7 1338.5L591.0 1331.4L592.2 1326.8L593.5 1324.3L594.8 1323.2L596.1 1323.2L597.3 1323.7L598.6 1324.8L599.9 1326.1L601.2 1327.7L602.4 1329.6L603.7 1331.6L605.0 1333.9L606.2 1336.3L607.5 1338.9L608.8 1341.6L610.1 1344.5L611.4 1347.4L612.6 1350.4L613.9 1353.5L615.2 1356.5L616.5 1359.5L617.7 1362.5L619 1365.3L620.3 1368.1L621.6 1370.7L622.8 1373.1L624.1 1375.3L625.4 1377.4L626.7 1379.3L627.9 1381.1L629.2 1382.6L630.5 1384.1L631.8 1385.3L633.0 1386.4L634.3 1387.4L635.6 1388.3L636.9 1389.1L638.1 1389.7L639.4 1390.3L640.7 1390.9L642.0 1391.3L643.2 1391.7L644.5 1392.0L645.8 1392.3L647.1 1392.6L648.3 1392.8L649.6 1393.0L650.9 1393.2L652.2 1393.3L653.4 1393.4L654.7 1393.5L656.0 1393.6L657.2 1393.7L658.5 1393.8L659.8 1393.8L661.1 1393.9L662.4 1393.9L663.6 1394.0L664.9 1394.0L664.9 1394.2L574.4 1394.2Z"/></clipPath>
<path d="M574.4 1394.0L575.7 1393.8L576.9 1393.5L578.2 1393.0L579.5 1392.2L580.8 1390.7L582.0 1388.2L583.3 1384.1L584.6 1377.9L585.9 1369.3L587.1 1358.9L588.4 1348.0L589.7 1338.5L591.0 1331.4L592.2 1326.8L593.5 1324.3L594.8 1323.2L596.1 1323.2L597.3 1323.7L598.6 1324.8L599.9 1326.1L601.2 1327.7L602.4 1329.6L603.7 1331.6L605.0 1333.9L606.2 1336.3L607.5 1338.9L608.8 1341.6L610.1 1344.5L611.4 1347.4L612.6 1350.4L613.9 1353.5L615.2 1356.5L616.5 1359.5L617.7 1362.5L619 1365.3L620.3 1368.1L621.6 1370.7L622.8 1373.1L624.1 1375.3L625.4 1377.4L626.7 1379.3L627.9 1381.1L629.2 1382.6L630.5 1384.1L631.8 1385.3L633.0 1386.4L634.3 1387.4L635.6 1388.3L636.9 1389.1L638.1 1389.7L639.4 1390.3L640.7 1390.9L642.0 1391.3L643.2 1391.7L644.5 1392.0L645.8 1392.3L647.1 1392.6L648.3 1392.8L649.6 1393.0L650.9 1393.2L652.2 1393.3L653.4 1393.4L654.7 1393.5L656.0 1393.6L657.2 1393.7L658.5 1393.8L659.8 1393.8L661.1 1393.9L662.4 1393.9L663.6 1394.0L664.9 1394.0L664.9 1394.2L574.4 1394.2Z" fill="#fff"/>
<path d="M634.3 1394.0L635.6 1393.8L636.9 1393.6L638.1 1393.3L639.4 1392.8L640.7 1392.2L642.0 1391.6L643.2 1391.0L644.5 1390.4L645.8 1389.8L647.1 1389.4L648.3 1389.1L649.6 1388.8L650.9 1388.5L652.2 1388.3L653.4 1388.1L654.7 1387.9L656.0 1387.8L657.2 1387.6L658.5 1387.5L659.8 1387.4L661.1 1387.3L662.4 1387.2L663.6 1387.2L664.9 1387.1L666.2 1387.1L667.5 1387.1L668.7 1387.1L670 1387.1L671.3 1387.1L672.6 1387.2L673.8 1387.2L675.1 1387.3L676.4 1387.4L677.7 1387.5L678.9 1387.6L680.2 1387.7L681.5 1387.9L682.8 1388.0L684.0 1388.2L685.3 1388.3L686.6 1388.5L687.9 1388.7L689.1 1388.9L690.4 1389.1L691.7 1389.3L693.0 1389.5L694.2 1389.7L695.5 1389.9L696.8 1390.1L698.1 1390.3L699.3 1390.5L700.6 1390.7L701.9 1390.9L703.2 1391.1L704.4 1391.2L705.7 1391.4L707.0 1391.6L708.2 1391.8L709.5 1391.9L710.8 1392.1L712.1 1392.2L713.4 1392.4L714.6 1392.5L715.9 1392.7L717.2 1392.8L718.5 1392.9L719.7 1393.0L721 1393.1L722.3 1393.2L722.3 1394.2L634.3 1394.2Z" fill="#C4F4BE" stroke="#777" stroke-width=".6"/>
<path d="M576.9 1394.1L578.2 1393.8L579.5 1393.1L580.8 1391.5L582.0 1388.6L583.3 1384.0L584.6 1378.1L585.9 1372.2L587.1 1368.1L588.4 1367.2L589.7 1369.9L591.0 1375.3L592.2 1381.4L593.5 1386.7L594.8 1390.3L596.1 1392.5L597.3 1393.5L598.6 1394.0L599.9 1394.1L599.9 1394.2L576.9 1394.2Z" fill="#F20000" stroke="#300" stroke-width=".5"/>
<path d="M598.6 1394.0L599.9 1393.9L601.2 1393.6L602.4 1393.1L603.7 1392.3L605.0 1391.0L606.2 1389.1L607.5 1386.3L608.8 1382.4L610.1 1377.2L611.4 1370.5L612.6 1362.3L613.9 1352.8L615.2 1342.3L616.5 1331.4L617.7 1320.8L619 1311.3L620.3 1303.9L621.6 1299.3L622.8 1297.8L624.1 1299.7L625.4 1304.8L626.7 1312.5L627.9 1322.1L629.2 1332.8L630.5 1343.7L631.8 1354.1L633.0 1363.5L634.3 1371.5L635.6 1378.0L636.9 1383.0L638.1 1386.7L639.4 1389.4L640.7 1391.2L642.0 1392.4L643.2 1393.2L644.5 1393.6L645.8 1393.9L647.1 1394.0L647.1 1394.2L598.6 1394.2Z" fill="#F20000" stroke="#300" stroke-width=".5"/>
<rect x="552.7" y="1231.3" width="170" height="162.9" fill="url(#hatch)" clip-path="url(#hs5)"/>
<path d="M552.7 1394.2L554.0 1394.2L555.2 1394.2L556.5 1394.2L557.8 1394.2L559.1 1394.2L560.4 1394.2L561.6 1394.2L562.9 1394.2L564.2 1394.2L565.5 1394.2L566.7 1394.2L568 1394.2L569.3 1394.2L570.6 1394.2L571.8 1394.1L573.1 1394.1L574.4 1394.0L575.7 1393.8L576.9 1393.5L578.2 1393.0L579.5 1392.2L580.8 1390.7L582.0 1388.2L583.3 1384.1L584.6 1377.9L585.9 1369.3L587.1 1358.9L588.4 1348.0L589.7 1338.5L591.0 1331.4L592.2 1326.8L593.5 1324.3L594.8 1323.2L596.1 1323.2L597.3 1323.7L598.6 1324.8L599.9 1326.1L601.2 1327.7L602.4 1329.6L603.7 1331.6L605.0 1333.9L606.2 1336.3L607.5 1338.9L608.8 1341.6L610.1 1344.5L611.4 1347.4L612.6 1350.4L613.9 1353.5L615.2 1356.5L616.5 1359.5L617.7 1362.5L619 1365.3L620.3 1368.1L621.6 1370.7L622.8 1373.1L624.1 1375.3L625.4 1377.4L626.7 1379.3L627.9 1381.1L629.2 1382.6L630.5 1384.1L631.8 1385.3L633.0 1386.4L634.3 1387.4L635.6 1388.3L636.9 1389.1L638.1 1389.7L639.4 1390.3L640.7 1390.9L642.0 1391.3L643.2 1391.7L644.5 1392.0L645.8 1392.3L647.1 1392.6L648.3 1392.8L649.6 1393.0L650.9 1393.2L652.2 1393.3L653.4 1393.4L654.7 1393.5L656.0 1393.6L657.2 1393.7L658.5 1393.8L659.8 1393.8L661.1 1393.9L662.4 1393.9L663.6 1394.0L664.9 1394.0L666.2 1394.0L667.5 1394.1L668.7 1394.1L670 1394.1L671.3 1394.1L672.6 1394.1L673.8 1394.1L675.1 1394.1L676.4 1394.1L677.7 1394.2L678.9 1394.2L680.2 1394.2L681.5 1394.2L682.8 1394.2L684.0 1394.2L685.3 1394.2L686.6 1394.2L687.9 1394.2L689.1 1394.2L690.4 1394.2L691.7 1394.2L693.0 1394.2L694.2 1394.2L695.5 1394.2L696.8 1394.2L698.1 1394.2L699.3 1394.2L700.6 1394.2L701.9 1394.2L703.2 1394.2L704.4 1394.2L705.7 1394.2L707.0 1394.2L708.2 1394.2L709.5 1394.2L710.8 1394.2L712.1 1394.2L713.4 1394.2L714.6 1394.2L715.9 1394.2L717.2 1394.2L718.5 1394.2L719.7 1394.2L721 1394.2L722.3 1394.2" fill="none" stroke="#555" stroke-width=".6"/>
<path d="M552.7 1394.2L554.0 1394.2L555.2 1394.2L556.5 1394.2L557.8 1394.2L559.1 1394.2L560.4 1394.2L561.6 1394.2L562.9 1394.2L564.2 1394.2L565.5 1394.2L566.7 1394.2L568 1394.2L569.3 1394.2L570.6 1394.2L571.8 1394.1L573.1 1394.1L574.4 1394.0L575.7 1393.8L576.9 1393.4L578.2 1392.6L579.5 1391.1L580.8 1388.0L582.0 1382.5L583.3 1373.9L584.6 1361.8L585.9 1347.3L587.1 1332.7L588.4 1321.0L589.7 1314.2L591.0 1312.4L592.2 1314.0L593.5 1316.7L594.8 1319.3L596.1 1321.4L597.3 1323.0L598.6 1324.4L599.9 1325.7L601.2 1327.1L602.4 1328.4L603.7 1329.5L605.0 1330.2L606.2 1330.3L607.5 1329.3L608.8 1326.9L610.1 1322.8L611.4 1316.7L612.6 1308.6L613.9 1298.9L615.2 1288.2L616.5 1277.5L617.7 1268.0L619 1260.8L620.3 1256.8L621.6 1256.6L622.8 1260.3L624.1 1267.7L625.4 1278.1L626.7 1290.6L627.9 1304.3L629.2 1318.3L630.5 1331.8L631.8 1344.2L633.0 1355.1L634.3 1364.3L635.6 1371.6L636.9 1377.2L638.1 1381.4L639.4 1384.2L640.7 1385.9L642.0 1386.9L643.2 1387.4L644.5 1387.6L645.8 1387.7L647.1 1387.6L648.3 1387.6L649.6 1387.5L650.9 1387.5L652.2 1387.4L653.4 1387.3L654.7 1387.3L656.0 1387.2L657.2 1387.2L658.5 1387.1L659.8 1387.1L661.1 1387.0L662.4 1387.0L663.6 1386.9L664.9 1386.9L666.2 1386.9L667.5 1386.9L668.7 1386.9L670 1387.0L671.3 1387.0L672.6 1387.1L673.8 1387.1L675.1 1387.2L676.4 1387.3L677.7 1387.4L678.9 1387.6L680.2 1387.7L681.5 1387.8L682.8 1388.0L684.0 1388.1L685.3 1388.3L686.6 1388.5L687.9 1388.7L689.1 1388.9L690.4 1389.1L691.7 1389.3L693.0 1389.5L694.2 1389.7L695.5 1389.9L696.8 1390.1L698.1 1390.3L699.3 1390.5L700.6 1390.7L701.9 1390.9L703.2 1391.1L704.4 1391.2L705.7 1391.4L707.0 1391.6L708.2 1391.8L709.5 1391.9L710.8 1392.1L712.1 1392.2L713.4 1392.4L714.6 1392.5L715.9 1392.7L717.2 1392.8L718.5 1392.9L719.7 1393.0L721 1393.1L722.3 1393.2" fill="none" stroke="#444" stroke-width=".8"/>
<path d="M552.7 1394.2L554.0 1394.2L555.2 1394.2L556.5 1394.2L557.8 1394.2L559.1 1394.2L560.4 1394.2L561.6 1394.2L562.9 1394.2L564.2 1394.2L565.5 1394.2L566.7 1394.2L568 1394.2L569.3 1394.2L570.6 1394.2L571.8 1394.1L573.1 1394.1L574.4 1394.0L575.7 1393.8L576.9 1393.4L578.2 1392.1L579.5 1391.8L580.8 1387.6L582.0 1381.6L583.3 1371.5L584.6 1361.9L585.9 1343.2L587.1 1331.2L588.4 1319.6L589.7 1308.3L591.0 1310.6L592.2 1310.2L593.5 1315.3L594.8 1317.5L596.1 1318.1L597.3 1319.4L598.6 1324.0L599.9 1325.0L601.2 1320.5L602.4 1320.9L603.7 1326.7L605.0 1321.5L606.2 1327.2L607.5 1329.5L608.8 1319.9L610.1 1323.4L611.4 1309.5L612.6 1299.6L613.9 1296.2L615.2 1281.7L616.5 1254.4L617.7 1258.8L619 1252.6L620.3 1243.9L621.6 1250.7L622.8 1254.3L624.1 1259.0L625.4 1289.0L626.7 1276.0L627.9 1304.3L629.2 1319.3L630.5 1326.0L631.8 1340.7L633.0 1357.3L634.3 1364.1L635.6 1370.3L636.9 1375.7L638.1 1380.6L639.4 1382.5L640.7 1385.0L642.0 1386.6L643.2 1385.1L644.5 1387.0L645.8 1384.7L647.1 1386.6L648.3 1385.2L649.6 1382.5L650.9 1383.1L652.2 1385.2L653.4 1383.8L654.7 1385.7L656.0 1385.0L657.2 1384.1L658.5 1382.9L659.8 1385.2L661.1 1383.9L662.4 1383.8L663.6 1385.0L664.9 1383.7L666.2 1382.2L667.5 1384.3L668.7 1383.0L670 1382.7L671.3 1385.4L672.6 1382.3L673.8 1382.2L675.1 1381.7L676.4 1383.3L677.7 1385.5L678.9 1384.9L680.2 1386.3L681.5 1386.2L682.8 1386.5L684.0 1384.7L685.3 1384.7L686.6 1386.7L687.9 1385.0L689.1 1387.7L690.4 1386.9L691.7 1388.2L693.0 1388.6L694.2 1387.4L695.5 1387.5L696.8 1389.0L698.1 1389.0L699.3 1390.1L700.6 1389.1L701.9 1390.0L703.2 1389.6L704.4 1391.2L705.7 1389.7L707.0 1389.8L708.2 1389.2L709.5 1389.9L710.8 1391.0L712.1 1392.2L713.4 1393.5L714.6 1391.7L715.9 1390.4L717.2 1390.3L718.5 1392.4L719.7 1392.5L721 1392.7L722.3 1392.9" fill="none" stroke="#666" stroke-width=".7"/>
<path d="M552.7 1231.3V1394.2M552.7 1394.2h-5.5M552.7 1388.8h-3M552.7 1383.3h-3M552.7 1377.9h-3M552.7 1372.5h-3M552.7 1367.0h-5.5M552.7 1361.6h-3M552.7 1356.2h-3M552.7 1350.8h-3M552.7 1345.3h-3M552.7 1339.9h-5.5M552.7 1334.5h-3M552.7 1329.0h-3M552.7 1323.6h-3M552.7 1318.2h-3M552.7 1312.8h-5.5M552.7 1307.3h-3M552.7 1301.9h-3M552.7 1296.5h-3M552.7 1291.0h-3M552.7 1285.6h-5.5M552.7 1280.2h-3M552.7 1274.7h-3M552.7 1269.3h-3M552.7 1263.9h-3M552.7 1258.5h-5.5M552.7 1253.0h-3M552.7 1247.6h-3M552.7 1242.2h-3M552.7 1236.7h-3M552.7 1231.3h-5.5" stroke="#888" stroke-width="1" fill="none"/>
<path d="M546.7 1394.2H722.7M552.7 1394.2v7M561.2 1394.2v3.5M569.7 1394.2v3.5M578.2 1394.2v3.5M586.7 1394.2v7M595.2 1394.2v3.5M603.7 1394.2v3.5M612.2 1394.2v3.5M620.7 1394.2v7M629.2 1394.2v3.5M637.7 1394.2v3.5M646.2 1394.2v3.5M654.7 1394.2v7M663.2 1394.2v3.5M671.7 1394.2v3.5M680.2 1394.2v3.5M688.7 1394.2v7M697.2 1394.2v3.5M705.7 1394.2v3.5M714.2 1394.2v3.5M722.7 1394.2v7" stroke="#333" stroke-width="1.3" fill="none"/>
<text x="543.5" y="1394.2" font-family="'Liberation Sans', sans-serif" font-size="13" text-anchor="middle" fill="#333" transform="rotate(-90 543.5 1394.2)" textLength="6.5" lengthAdjust="spacingAndGlyphs">0</text>
<text x="543.5" y="1367.0" font-family="'Liberation Sans', sans-serif" font-size="13" text-anchor="middle" fill="#333" transform="rotate(-90 543.5 1367.0)" textLength="19.5" lengthAdjust="spacingAndGlyphs">100</text>
<text x="543.5" y="1339.9" font-family="'Liberation Sans', sans-serif" font-size="13" text-anchor="middle" fill="#333" transform="rotate(-90 543.5 1339.9)" textLength="19.5" lengthAdjust="spacingAndGlyphs">200</text>
<text x="543.5" y="1312.8" font-family="'Liberation Sans', sans-serif" font-size="13" text-anchor="middle" fill="#333" transform="rotate(-90 543.5 1312.8)" textLength="19.5" lengthAdjust="spacingAndGlyphs">300</text>
<text x="543.5" y="1285.6" font-family="'Liberation Sans', sans-serif" font-size="13" text-anchor="middle" fill="#333" transform="rotate(-90 543.5 1285.6)" textLength="19.5" lengthAdjust="spacingAndGlyphs">400</text>
<text x="543.5" y="1258.5" font-family="'Liberation Sans', sans-serif" font-size="13" text-anchor="middle" fill="#333" transform="rotate(-90 543.5 1258.5)" textLength="19.5" lengthAdjust="spacingAndGlyphs">500</text>
<text x="543.5" y="1231.3" font-family="'Liberation Sans', sans-serif" font-size="13" text-anchor="middle" fill="#333" transform="rotate(-90 543.5 1231.3)" textLength="19.5" lengthAdjust="spacingAndGlyphs">600</text>
<text x="552.7" y="1418.8" font-family="'Liberation Sans', sans-serif" font-size="15.3" text-anchor="middle" fill="#111" textLength="10.0" lengthAdjust="spacingAndGlyphs">0</text>
<text x="586.7" y="1418.8" font-family="'Liberation Sans', sans-serif" font-size="15.3" text-anchor="middle" fill="#111" textLength="20.0" lengthAdjust="spacingAndGlyphs">20</text>
<text x="620.7" y="1418.8" font-family="'Liberation Sans', sans-serif" font-size="15.3" text-anchor="middle" fill="#111" textLength="20.0" lengthAdjust="spacingAndGlyphs">40</text>
<text x="654.7" y="1418.8" font-family="'Liberation Sans', sans-serif" font-size="15.3" text-anchor="middle" fill="#111" textLength="20.0" lengthAdjust="spacingAndGlyphs">60</text>
<text x="688.7" y="1418.8" font-family="'Liberation Sans', sans-serif" font-size="15.3" text-anchor="middle" fill="#111" textLength="20.0" lengthAdjust="spacingAndGlyphs">80</text>
<text x="722.7" y="1418.8" font-family="'Liberation Sans', sans-serif" font-size="15.3" text-anchor="middle" fill="#111" textLength="30.0" lengthAdjust="spacingAndGlyphs">100</text>
<text x="642.7" y="1285.7" font-family="'Liberation Sans', sans-serif" font-size="14.7" fill="#223C6C" textLength="40.7" lengthAdjust="spacingAndGlyphs">G0/G1</text>
<text x="688.5" y="1285.7" font-family="'Liberation Sans', sans-serif" font-size="14.7" fill="#223C6C" textLength="46.8" lengthAdjust="spacingAndGlyphs">18.17%</text>
<text x="642.7" y="1304.5" font-family="'Liberation Sans', sans-serif" font-size="14.7" fill="#223C6C" textLength="9.2" lengthAdjust="spacingAndGlyphs">S</text>
<text x="686.2" y="1304.5" font-family="'Liberation Sans', sans-serif" font-size="14.7" fill="#223C6C" textLength="46.8" lengthAdjust="spacingAndGlyphs">45.12%</text>
<text x="642.7" y="1323.3" font-family="'Liberation Sans', sans-serif" font-size="14.7" fill="#223C6C" textLength="33.7" lengthAdjust="spacingAndGlyphs">G2/M</text>
<text x="684" y="1323.3" font-family="'Liberation Sans', sans-serif" font-size="14.7" fill="#223C6C" textLength="46.8" lengthAdjust="spacingAndGlyphs">36.71%</text>
<text x="28" y="968.6" font-family="'Liberation Sans', sans-serif" font-size="42" font-weight="bold" text-anchor="middle">E</text>
<text x="207.4" y="1003.9" font-family="'Liberation Serif', serif" font-size="31" font-weight="bold" text-anchor="middle" textLength="102.8" lengthAdjust="spacingAndGlyphs">Control</text>
<text x="440" y="1003.9" font-family="'Liberation Serif', serif" font-size="31" font-weight="bold" text-anchor="middle" textLength="128" lengthAdjust="spacingAndGlyphs">10 µg/mL</text>
<text x="643.2" y="1003.9" font-family="'Liberation Serif', serif" font-size="31" font-weight="bold" text-anchor="middle" textLength="128.5" lengthAdjust="spacingAndGlyphs">20 µg/mL</text>
<text x="99" y="1109.5" font-family="'Liberation Serif', serif" font-size="31" font-weight="bold" text-anchor="middle" transform="rotate(-90 99 1109.5)" textLength="81" lengthAdjust="spacingAndGlyphs">Daudi</text>
<text x="98.6" y="1306.1" font-family="'Liberation Serif', serif" font-size="32" font-weight="bold" text-anchor="middle" transform="rotate(-90 98.6 1306.1)" textLength="92.3" lengthAdjust="spacingAndGlyphs">CA-46</text>
<text x="44" y="1217" font-family="'Liberation Serif', serif" font-size="31" font-weight="bold" text-anchor="middle" transform="rotate(-90 44 1217)" textLength="111.6" lengthAdjust="spacingAndGlyphs">Number</text>
<text x="280.4" y="1482.3" font-family="'Liberation Serif', serif" font-size="31" font-weight="bold" textLength="124.5" lengthAdjust="spacingAndGlyphs">Channels</text>
<text x="436.4" y="1482.6" font-family="'Liberation Serif', serif" font-size="31.5" font-weight="bold" textLength="88.5" lengthAdjust="spacingAndGlyphs">FL2-A</text>
<path d="M433.6 1457.4Q413.6 1470.5 433.6 1483.7L432.2 1484.6Q421.8 1470.5 432.2 1456.6Z" fill="#000"/>
<path d="M528.4 1457.4Q548.4 1470.5 528.4 1483.7L529.8 1484.6Q540.2 1470.5 529.8 1456.6Z" fill="#000"/>
<line x1="65" y1="1034" x2="65" y2="1443" stroke="#ED7D31" stroke-width="4"/>
<path d="M57.4 1036.3L65 1021L72.8 1036.3Z" fill="#ED7D31"/>
<line x1="63" y1="1443" x2="765" y2="1439.1" stroke="#ED7D31" stroke-width="4"/>
<path d="M763 1431.3L777.9 1438.9L763 1446.6Z" fill="#ED7D31"/>
<text x="812" y="1088" font-family="'Liberation Sans', sans-serif" font-size="42" font-weight="bold" text-anchor="middle">F</text>
<rect x="850.5" y="1098.5" width="19.5" height="7.4" fill="#F8A042" stroke="#000" stroke-width="2.4"/>
<text x="884" y="1107" font-family="'Liberation Serif', serif" font-size="16.6" textLength="39.6" lengthAdjust="spacingAndGlyphs">G2/M</text>
<rect x="938.2" y="1098.5" width="19.5" height="7.4" fill="#F2FBC0" stroke="#000" stroke-width="2.4"/>
<text x="971" y="1107" font-family="'Liberation Serif', serif" font-size="16.6" textLength="9" lengthAdjust="spacingAndGlyphs">S</text>
<rect x="994.8" y="1098.5" width="19.5" height="7.4" fill="#C8F6E6" stroke="#000" stroke-width="2.4"/>
<text x="1028" y="1107" font-family="'Liberation Serif', serif" font-size="16.6" textLength="44.5" lengthAdjust="spacingAndGlyphs">G0/G1</text>
<rect x="878.6" y="1247.0" width="39.4" height="73.0" fill="#C8F6E6"/>
<rect x="878.6" y="1173.1" width="39.4" height="73.9" fill="#F2FBC0"/>
<rect x="878.6" y="1150.2" width="39.4" height="22.9" fill="#F8A042"/>
<path d="M898.3 1247.0V1239.3M888.3 1239.3h20" stroke="#222" stroke-width="1.3" fill="none"/>
<path d="M898.3 1173.1V1171.4M888.3 1171.4h20" stroke="#222" stroke-width="1.3" fill="none"/>
<path d="M898.3 1150.2V1142.6M888.3 1142.6h20" stroke="#222" stroke-width="1.3" fill="none"/>
<rect x="880" y="1151.6" width="36.6" height="168.4" fill="none" stroke="#000" stroke-width="2.8"/>
<line x1="879.6" y1="1247.0" x2="917" y2="1247.0" stroke="#000" stroke-width="2.6"/>
<line x1="879.6" y1="1173.1" x2="917" y2="1173.1" stroke="#000" stroke-width="2.6"/>
<rect x="939.6" y="1247.8" width="39.4" height="72.2" fill="#C8F6E6"/>
<rect x="939.6" y="1178.2" width="39.4" height="69.6" fill="#F2FBC0"/>
<rect x="939.6" y="1150.2" width="39.4" height="28.0" fill="#F8A042"/>
<path d="M959.3 1247.8V1241.0M949.3 1241.0h20" stroke="#222" stroke-width="1.3" fill="none"/>
<path d="M959.3 1178.2V1176.5M949.3 1176.5h20" stroke="#222" stroke-width="1.3" fill="none"/>
<path d="M959.3 1150.2V1146.0M949.3 1146.0h20" stroke="#222" stroke-width="1.3" fill="none"/>
<rect x="941" y="1151.6" width="36.6" height="168.4" fill="none" stroke="#000" stroke-width="2.8"/>
<line x1="940.6" y1="1247.8" x2="978" y2="1247.8" stroke="#000" stroke-width="2.6"/>
<line x1="940.6" y1="1178.2" x2="978" y2="1178.2" stroke="#000" stroke-width="2.6"/>
<rect x="1001" y="1289.4" width="39.4" height="30.6" fill="#C8F6E6"/>
<rect x="1001" y="1207.9" width="39.4" height="81.5" fill="#F2FBC0"/>
<rect x="1001" y="1150.2" width="39.4" height="57.7" fill="#F8A042"/>
<path d="M1020.7 1289.4V1287.7M1010.7 1287.7h20" stroke="#222" stroke-width="1.3" fill="none"/>
<path d="M1020.7 1207.9V1201.1M1010.7 1201.1h20" stroke="#222" stroke-width="1.3" fill="none"/>
<path d="M1020.7 1150.2V1143.4M1010.7 1143.4h20" stroke="#222" stroke-width="1.3" fill="none"/>
<rect x="1002.4" y="1151.6" width="36.6" height="168.4" fill="none" stroke="#000" stroke-width="2.8"/>
<line x1="1002" y1="1289.4" x2="1039.4" y2="1289.4" stroke="#000" stroke-width="2.6"/>
<line x1="1002" y1="1207.9" x2="1039.4" y2="1207.9" stroke="#000" stroke-width="2.6"/>
<path d="M857.2 1115.5V1320H1058" stroke="#444" stroke-width="1.3" fill="none"/>
<line x1="849.2" y1="1320" x2="857.2" y2="1320" stroke="#444" stroke-width="1.3"/>
<text x="846.2" y="1325.3" font-family="'Liberation Sans', sans-serif" font-size="15" font-weight="bold" text-anchor="end">0</text>
<line x1="849.2" y1="1235.1" x2="857.2" y2="1235.1" stroke="#444" stroke-width="1.3"/>
<text x="846.2" y="1240.4" font-family="'Liberation Sans', sans-serif" font-size="15" font-weight="bold" text-anchor="end">50</text>
<line x1="849.2" y1="1150.2" x2="857.2" y2="1150.2" stroke="#444" stroke-width="1.3"/>
<text x="846.2" y="1155.5" font-family="'Liberation Sans', sans-serif" font-size="15" font-weight="bold" text-anchor="end">100</text>
<line x1="898.3" y1="1320" x2="898.3" y2="1327" stroke="#444" stroke-width="1.3"/>
<text x="898.3" y="1344.5" font-family="'Liberation Sans', sans-serif" font-size="15" font-weight="bold" text-anchor="middle">0</text>
<line x1="959.3" y1="1320" x2="959.3" y2="1327" stroke="#444" stroke-width="1.3"/>
<text x="959.3" y="1344.5" font-family="'Liberation Sans', sans-serif" font-size="15" font-weight="bold" text-anchor="middle">10</text>
<line x1="1020.7" y1="1320" x2="1020.7" y2="1327" stroke="#444" stroke-width="1.3"/>
<text x="1020.7" y="1344.5" font-family="'Liberation Sans', sans-serif" font-size="15" font-weight="bold" text-anchor="middle">20</text>
<text x="959.3" y="1131.2" font-family="'Liberation Serif', serif" font-size="19" font-weight="bold" text-anchor="middle" textLength="55.4" lengthAdjust="spacingAndGlyphs">CA-46</text>
<text x="1020.7" y="1148.5" font-family="'Liberation Sans', sans-serif" font-size="24" font-weight="bold" text-anchor="middle" fill="#111">**</text>
<text x="959" y="1371.5" font-family="'Liberation Serif', serif" font-size="16" font-weight="bold" text-anchor="middle" textLength="124" lengthAdjust="spacingAndGlyphs">PHY-EA(µg/mL)</text>
<text x="811" y="1221.5" font-family="'Liberation Serif', serif" font-size="17" font-weight="bold" text-anchor="middle" transform="rotate(-90 811 1221.5)" textLength="199" lengthAdjust="spacingAndGlyphs">cell cycle distribution ( %)</text>
<rect x="1200.7" y="1232.5" width="38.5" height="85.5" fill="#C8F6E6"/>
<rect x="1200.7" y="1160.5" width="38.5" height="72.0" fill="#F2FBC0"/>
<rect x="1200.7" y="1148.6" width="38.5" height="11.9" fill="#F8A042"/>
<path d="M1220 1232.5V1230.8M1210 1230.8h20" stroke="#222" stroke-width="1.3" fill="none"/>
<path d="M1220 1160.5V1157.9M1210 1157.9h20" stroke="#222" stroke-width="1.3" fill="none"/>
<path d="M1220 1148.6V1146.9M1210 1146.9h20" stroke="#222" stroke-width="1.3" fill="none"/>
<rect x="1202.1" y="1150" width="35.7" height="168" fill="none" stroke="#000" stroke-width="2.8"/>
<line x1="1201.7" y1="1232.5" x2="1238.2" y2="1232.5" stroke="#000" stroke-width="2.6"/>
<line x1="1201.7" y1="1160.5" x2="1238.2" y2="1160.5" stroke="#000" stroke-width="2.6"/>
<rect x="1262" y="1232.5" width="38.5" height="85.5" fill="#C8F6E6"/>
<rect x="1262" y="1163.0" width="38.5" height="69.5" fill="#F2FBC0"/>
<rect x="1262" y="1148.6" width="38.5" height="14.4" fill="#F8A042"/>
<path d="M1281.2 1232.5V1230.8M1271.2 1230.8h20" stroke="#222" stroke-width="1.3" fill="none"/>
<path d="M1281.2 1163.0V1161.3M1271.2 1161.3h20" stroke="#222" stroke-width="1.3" fill="none"/>
<path d="M1281.2 1148.6V1146.9M1271.2 1146.9h20" stroke="#222" stroke-width="1.3" fill="none"/>
<rect x="1263.4" y="1150" width="35.7" height="168" fill="none" stroke="#000" stroke-width="2.8"/>
<line x1="1263" y1="1232.5" x2="1299.5" y2="1232.5" stroke="#000" stroke-width="2.6"/>
<line x1="1263" y1="1163.0" x2="1299.5" y2="1163.0" stroke="#000" stroke-width="2.6"/>
<rect x="1322.5" y="1292.6" width="38.5" height="25.4" fill="#C8F6E6"/>
<rect x="1322.5" y="1214.7" width="38.5" height="77.9" fill="#F2FBC0"/>
<rect x="1322.5" y="1148.6" width="38.5" height="66.1" fill="#F8A042"/>
<path d="M1341.8 1292.6V1289.2M1331.8 1289.2h20" stroke="#222" stroke-width="1.3" fill="none"/>
<path d="M1341.8 1214.7V1212.1M1331.8 1212.1h20" stroke="#222" stroke-width="1.3" fill="none"/>
<path d="M1341.8 1148.6V1146.1M1331.8 1146.1h20" stroke="#222" stroke-width="1.3" fill="none"/>
<rect x="1323.9" y="1150" width="35.7" height="168" fill="none" stroke="#000" stroke-width="2.8"/>
<line x1="1323.5" y1="1292.6" x2="1360" y2="1292.6" stroke="#000" stroke-width="2.6"/>
<line x1="1323.5" y1="1214.7" x2="1360" y2="1214.7" stroke="#000" stroke-width="2.6"/>
<path d="M1177.7 1115.5V1318H1381" stroke="#444" stroke-width="1.3" fill="none"/>
<line x1="1169.7" y1="1318" x2="1177.7" y2="1318" stroke="#444" stroke-width="1.3"/>
<text x="1166.7" y="1323.3" font-family="'Liberation Sans', sans-serif" font-size="15" font-weight="bold" text-anchor="end">0</text>
<line x1="1169.7" y1="1233.3" x2="1177.7" y2="1233.3" stroke="#444" stroke-width="1.3"/>
<text x="1166.7" y="1238.6" font-family="'Liberation Sans', sans-serif" font-size="15" font-weight="bold" text-anchor="end">50</text>
<line x1="1169.7" y1="1148.6" x2="1177.7" y2="1148.6" stroke="#444" stroke-width="1.3"/>
<text x="1166.7" y="1153.9" font-family="'Liberation Sans', sans-serif" font-size="15" font-weight="bold" text-anchor="end">100</text>
<line x1="1220" y1="1318" x2="1220" y2="1325" stroke="#444" stroke-width="1.3"/>
<text x="1220" y="1342.5" font-family="'Liberation Sans', sans-serif" font-size="15" font-weight="bold" text-anchor="middle">0</text>
<line x1="1281.2" y1="1318" x2="1281.2" y2="1325" stroke="#444" stroke-width="1.3"/>
<text x="1281.2" y="1342.5" font-family="'Liberation Sans', sans-serif" font-size="15" font-weight="bold" text-anchor="middle">10</text>
<line x1="1341.8" y1="1318" x2="1341.8" y2="1325" stroke="#444" stroke-width="1.3"/>
<text x="1341.8" y="1342.5" font-family="'Liberation Sans', sans-serif" font-size="15" font-weight="bold" text-anchor="middle">20</text>
<text x="1279" y="1136" font-family="'Liberation Serif', serif" font-size="19" font-weight="bold" text-anchor="middle" textLength="52" lengthAdjust="spacingAndGlyphs">Daudi</text>
<text x="1341.8" y="1148.5" font-family="'Liberation Sans', sans-serif" font-size="24" font-weight="bold" text-anchor="middle" fill="#111">***</text>
<text x="1279.5" y="1369.5" font-family="'Liberation Serif', serif" font-size="16" font-weight="bold" text-anchor="middle" textLength="124" lengthAdjust="spacingAndGlyphs">PHY-EA(µg/mL)</text>
<text x="1132" y="1218" font-family="'Liberation Serif', serif" font-size="17" font-weight="bold" text-anchor="middle" transform="rotate(-90 1132 1218)" textLength="199" lengthAdjust="spacingAndGlyphs">cell cycle distribution ( %)</text>
<text x="29.4" y="1544.6" font-family="'Liberation Sans', sans-serif" font-size="40" font-weight="bold" text-anchor="middle" textLength="34.1" lengthAdjust="spacingAndGlyphs">G</text>
<text x="260" y="1546.5" font-family="'Liberation Serif', serif" font-size="35" text-anchor="middle" textLength="96.9" lengthAdjust="spacingAndGlyphs">CA-46</text>
<text x="529.8" y="1545.8" font-family="'Liberation Serif', serif" font-size="35" text-anchor="middle" textLength="87.5" lengthAdjust="spacingAndGlyphs">Daudi</text>
<text x="138.5" y="1586.4" font-family="'Liberation Serif', serif" font-size="25.5" font-weight="bold" text-anchor="end" textLength="69" lengthAdjust="spacingAndGlyphs">CDK2</text>
<text x="138.5" y="1638.6" font-family="'Liberation Serif', serif" font-size="25.5" font-weight="bold" text-anchor="end" textLength="102" lengthAdjust="spacingAndGlyphs">CyclinA2</text>
<text x="138.5" y="1683" font-family="'Liberation Serif', serif" font-size="25.5" font-weight="bold" text-anchor="end" textLength="69" lengthAdjust="spacingAndGlyphs">CDK4</text>
<text x="138.5" y="1729.5" font-family="'Liberation Serif', serif" font-size="25.5" font-weight="bold" text-anchor="end" textLength="92.1" lengthAdjust="spacingAndGlyphs">GADPH</text>
<text x="645.6" y="1591.3" font-family="'Liberation Serif', serif" font-size="25" textLength="81" lengthAdjust="spacingAndGlyphs">34 KDa</text>
<text x="645.6" y="1638.9" font-family="'Liberation Serif', serif" font-size="25" textLength="81" lengthAdjust="spacingAndGlyphs">49 KDa</text>
<text x="645.6" y="1680" font-family="'Liberation Serif', serif" font-size="25" textLength="81" lengthAdjust="spacingAndGlyphs">34 KDa</text>
<text x="645.6" y="1728.9" font-family="'Liberation Serif', serif" font-size="25" textLength="81" lengthAdjust="spacingAndGlyphs">36 KDa</text>
<text x="45" y="1773" font-family="'Liberation Serif', serif" font-size="26" font-weight="bold" textLength="98.4" lengthAdjust="spacingAndGlyphs">PHY-EA</text>
<text x="183.8" y="1773" font-family="'Liberation Serif', serif" font-size="28" font-weight="bold" text-anchor="middle">0</text>
<text x="231" y="1773" font-family="'Liberation Serif', serif" font-size="28" font-weight="bold" text-anchor="middle">5</text>
<text x="285.8" y="1773" font-family="'Liberation Serif', serif" font-size="28" font-weight="bold" text-anchor="middle">10</text>
<text x="340.5" y="1773" font-family="'Liberation Serif', serif" font-size="28" font-weight="bold" text-anchor="middle">20</text>
<text x="449.2" y="1774.6" font-family="'Liberation Serif', serif" font-size="28" font-weight="bold" text-anchor="middle">0</text>
<text x="496.8" y="1774.6" font-family="'Liberation Serif', serif" font-size="28" font-weight="bold" text-anchor="middle">5</text>
<text x="544" y="1774.6" font-family="'Liberation Serif', serif" font-size="28" font-weight="bold" text-anchor="middle">10</text>
<text x="583.9" y="1774.6" font-family="'Liberation Serif', serif" font-size="28" font-weight="bold" textLength="127.2" lengthAdjust="spacingAndGlyphs">20 µg/mL</text>
<clipPath id="cb9"><rect x="153" y="1560" width="223.6" height="40"/></clipPath>
<g clip-path="url(#cb9)">
<rect x="153" y="1560" width="223.6" height="40" fill="#e0e0e0"/>
<rect x="170.7" y="1570.5" width="34.3" height="5" rx="4" fill="#000" fill-opacity=".6" filter="url(#bl2)"/>
<rect x="188" y="1571.5" width="17" height="3" rx="2.4" fill="#6a1a10" fill-opacity=".6" filter="url(#bl1)"/>
<rect x="222" y="1568" width="36" height="6" rx="4.8" fill="#000" fill-opacity=".2" filter="url(#bl3)"/>
<rect x="290" y="1571" width="40" height="6" rx="4.8" fill="#000" fill-opacity=".1" filter="url(#bl3)"/>
</g>
<rect x="153" y="1560" width="223.6" height="40" fill="none" stroke="#000" stroke-width="2"/>
<clipPath id="cb10"><rect x="153" y="1607.4" width="223.6" height="39"/></clipPath>
<g clip-path="url(#cb10)">
<rect x="153" y="1607.4" width="223.6" height="39" fill="#ebebeb"/>
<rect x="153" y="1607.4" width="223.6" height="9" fill="#f8f8f8"/>
<rect x="160" y="1607" width="220" height="10" rx="8" fill="#000" fill-opacity="0" filter="url(#bl3)"/>
<rect x="165" y="1623.0" width="41.5" height="8.5" rx="6.8" fill="#6a1a10" fill-opacity=".9" filter="url(#bl1)"/>
<rect x="223.5" y="1623.8" width="39.5" height="8.5" rx="6.8" fill="#6a1a10" fill-opacity=".9" filter="url(#bl1)"/>
<rect x="166.4" y="1624.0" width="38.6" height="6.5" rx="5.2" fill="#000" fill-opacity="1" filter="url(#bl1)"/>
<rect x="224.7" y="1624.8" width="36.9" height="6.5" rx="5.2" fill="#000" fill-opacity="1" filter="url(#bl1)"/>
<rect x="238" y="1636.5" width="47" height="9" rx="7.2" fill="#000" fill-opacity=".5" filter="url(#bl3)"/>
<rect x="255" y="1639" width="20" height="4" rx="3.2" fill="#6a1a10" fill-opacity=".6" filter="url(#bl1)"/>
</g>
<rect x="153" y="1607.4" width="223.6" height="39" fill="none" stroke="#000" stroke-width="2"/>
<clipPath id="cb11"><rect x="153" y="1652.4" width="223.6" height="38.4"/></clipPath>
<g clip-path="url(#cb11)">
<rect x="153" y="1652.4" width="223.6" height="38.4" fill="#e6e6e6"/>
<rect x="169" y="1673.5" width="31" height="4.5" rx="3.6" fill="#000" fill-opacity=".7" filter="url(#bl2)"/>
<rect x="225.6" y="1667.5" width="26.4" height="5" rx="4" fill="#000" fill-opacity=".8" filter="url(#bl2)"/>
</g>
<rect x="153" y="1652.4" width="223.6" height="38.4" fill="none" stroke="#000" stroke-width="2"/>
<clipPath id="cb12"><rect x="153" y="1697.4" width="223.6" height="39.2"/></clipPath>
<g clip-path="url(#cb12)">
<rect x="153" y="1697.4" width="223.6" height="39.2" fill="#f3f3f3"/>
<rect x="154.7" y="1710.5" width="54.3" height="18.5" rx="14.8" fill="#000" fill-opacity=".2" filter="url(#bl6)"/>
<rect x="158.7" y="1715.5" width="46.3" height="8.5" rx="6.8" fill="#000" fill-opacity="1" filter="url(#bl2)"/>
<rect x="206" y="1709.7" width="46.7" height="19" rx="15.2" fill="#000" fill-opacity=".2" filter="url(#bl6)"/>
<rect x="210" y="1714.7" width="38.7" height="9" rx="7.2" fill="#000" fill-opacity="1" filter="url(#bl2)"/>
<rect x="250.7" y="1709.7" width="56.9" height="19" rx="15.2" fill="#000" fill-opacity=".2" filter="url(#bl6)"/>
<rect x="254.7" y="1714.7" width="48.9" height="9" rx="7.2" fill="#000" fill-opacity="1" filter="url(#bl2)"/>
<rect x="309" y="1707.0" width="50" height="18.5" rx="14.8" fill="#000" fill-opacity=".2" filter="url(#bl6)"/>
<rect x="313" y="1712.0" width="42" height="8.5" rx="6.8" fill="#000" fill-opacity="1" filter="url(#bl2)"/>
<rect x="166" y="1719.2" width="32" height="2.5" rx="2" fill="#fff" fill-opacity=".5" filter="url(#bl2)"/>
<rect x="217" y="1718.8" width="25" height="2.5" rx="2" fill="#fff" fill-opacity=".3" filter="url(#bl2)"/>
<rect x="262" y="1718.8" width="34" height="2.5" rx="2" fill="#fff" fill-opacity=".4" filter="url(#bl2)"/>
<rect x="320" y="1716" width="20" height="2" rx="1.6" fill="#fff" fill-opacity=".3" filter="url(#bl2)"/>
</g>
<rect x="153" y="1697.4" width="223.6" height="39.2" fill="none" stroke="#000" stroke-width="2"/>
<clipPath id="cb13"><rect x="411.7" y="1563" width="224.4" height="39.3"/></clipPath>
<g clip-path="url(#cb13)">
<rect x="411.7" y="1563" width="224.4" height="39.3" fill="#d6d6d6"/>
<ellipse cx="600" cy="1585" rx="55" ry="35" fill="#000" fill-opacity=".18" filter="url(#bl8)"/><ellipse cx="545" cy="1580" rx="25" ry="30" fill="#000" fill-opacity=".1" filter="url(#bl8)"/>
<rect x="435" y="1579.5" width="26.6" height="4.5" rx="3.6" fill="#000" fill-opacity=".8" filter="url(#bl2)"/>
<rect x="483" y="1579.5" width="21.4" height="4.5" rx="3.6" fill="#000" fill-opacity=".6" filter="url(#bl2)"/>
<rect x="534.4" y="1578.8" width="23.2" height="4.5" rx="3.6" fill="#000" fill-opacity=".6" filter="url(#bl2)"/>
</g>
<rect x="411.7" y="1563" width="224.4" height="39.3" fill="none" stroke="#000" stroke-width="2"/>
<clipPath id="cb14"><rect x="411.7" y="1610" width="224.4" height="38.6"/></clipPath>
<g clip-path="url(#cb14)">
<rect x="411.7" y="1610" width="224.4" height="38.6" fill="#ededed"/>
<rect x="411.7" y="1610" width="224.4" height="8" fill="#fafafa"/>
<rect x="437" y="1623.8" width="49" height="17.5" rx="14" fill="#000" fill-opacity=".2" filter="url(#bl6)"/>
<rect x="441" y="1628.8" width="41" height="7.5" rx="6" fill="#000" fill-opacity="1" filter="url(#bl1)"/>
<rect x="486.7" y="1623.8" width="44.9" height="17.5" rx="14" fill="#000" fill-opacity=".2" filter="url(#bl6)"/>
<rect x="490.7" y="1628.8" width="36.9" height="7.5" rx="6" fill="#000" fill-opacity="1" filter="url(#bl1)"/>
<rect x="543.9" y="1630.8" width="37.7" height="4.5" rx="3.6" fill="#000" fill-opacity=".9" filter="url(#bl2)"/>
</g>
<rect x="411.7" y="1610" width="224.4" height="38.6" fill="none" stroke="#000" stroke-width="2"/>
<clipPath id="cb15"><rect x="411.7" y="1653.8" width="224.4" height="38.5"/></clipPath>
<g clip-path="url(#cb15)">
<rect x="411.7" y="1653.8" width="224.4" height="38.5" fill="#c0c0c0"/>
<rect x="430" y="1661.5" width="50" height="21" rx="16.8" fill="#000" fill-opacity=".2" filter="url(#bl6)"/>
<rect x="434" y="1666.5" width="42" height="11" rx="8.8" fill="#000" fill-opacity="1" filter="url(#bl2)"/>
<rect x="455" y="1674" width="21" height="8" rx="6.4" fill="#000" fill-opacity="1" filter="url(#bl1)"/>
<rect x="485.9" y="1662.5" width="40.5" height="19" rx="15.2" fill="#000" fill-opacity=".2" filter="url(#bl6)"/>
<rect x="489.9" y="1667.5" width="32.5" height="9" rx="7.2" fill="#000" fill-opacity="1" filter="url(#bl1)"/>
<rect x="539.6" y="1669.8" width="27.4" height="4.5" rx="3.6" fill="#000" fill-opacity=".8" filter="url(#bl2)"/>
</g>
<rect x="411.7" y="1653.8" width="224.4" height="38.5" fill="none" stroke="#000" stroke-width="2"/>
<clipPath id="cb16"><rect x="411.7" y="1699.3" width="224.4" height="39.3"/></clipPath>
<g clip-path="url(#cb16)">
<rect x="411.7" y="1699.3" width="224.4" height="39.3" fill="#f3f3f3"/>
<rect x="425" y="1713.8" width="54.3" height="20.5" rx="16.4" fill="#000" fill-opacity=".2" filter="url(#bl6)"/>
<rect x="429" y="1718.8" width="46.3" height="10.5" rx="8.4" fill="#000" fill-opacity="1" filter="url(#bl2)"/>
<rect x="479" y="1713.2" width="44" height="20.5" rx="16.4" fill="#000" fill-opacity=".2" filter="url(#bl6)"/>
<rect x="483" y="1718.2" width="36" height="10.5" rx="8.4" fill="#000" fill-opacity="1" filter="url(#bl2)"/>
<rect x="523.6" y="1713.8" width="43.1" height="19.5" rx="15.6" fill="#000" fill-opacity=".2" filter="url(#bl6)"/>
<rect x="527.6" y="1718.8" width="35.1" height="9.5" rx="7.6" fill="#000" fill-opacity="1" filter="url(#bl2)"/>
<rect x="569" y="1711.4" width="50" height="20" rx="16" fill="#000" fill-opacity=".2" filter="url(#bl6)"/>
<rect x="573" y="1716.4" width="42" height="10" rx="8" fill="#000" fill-opacity="1" filter="url(#bl2)"/>
<rect x="440" y="1722" width="26" height="3" rx="2.4" fill="#fff" fill-opacity=".5" filter="url(#bl2)"/>
<rect x="492" y="1721.8" width="20" height="2.5" rx="2" fill="#fff" fill-opacity=".3" filter="url(#bl2)"/>
<rect x="535" y="1722.2" width="21" height="2.5" rx="2" fill="#fff" fill-opacity=".3" filter="url(#bl2)"/>
</g>
<rect x="411.7" y="1699.3" width="224.4" height="39.3" fill="none" stroke="#000" stroke-width="2"/>
<text x="814.9" y="1416.6" font-family="'Liberation Sans', sans-serif" font-size="38.5" font-weight="bold" text-anchor="middle" textLength="32.5" lengthAdjust="spacingAndGlyphs">H</text>
<text x="921.8" y="1435" font-family="'Liberation Serif', serif" font-size="30.5" text-anchor="middle" textLength="78.5" lengthAdjust="spacingAndGlyphs">CDK2</text>
<text x="1110.3" y="1435" font-family="'Liberation Serif', serif" font-size="30.5" text-anchor="middle" textLength="120.5" lengthAdjust="spacingAndGlyphs">CyclinA2</text>
<text x="1296.5" y="1435" font-family="'Liberation Serif', serif" font-size="30.5" text-anchor="middle" textLength="81" lengthAdjust="spacingAndGlyphs">CDK4</text>
<text x="783.7" y="1537.8" font-family="'Liberation Serif', serif" font-size="26.5" text-anchor="middle" transform="rotate(-90 783.7 1537.8)" textLength="70.5" lengthAdjust="spacingAndGlyphs">CA-46</text>
<text x="787.5" y="1728.1" font-family="'Liberation Serif', serif" font-size="27.3" text-anchor="middle" transform="rotate(-90 787.5 1728.1)" textLength="65" lengthAdjust="spacingAndGlyphs">Daudi</text>
<path d="M857.4 1447.7V1591.7H994" stroke="#333" stroke-width="1.2" fill="none"/>
<line x1="852.4" y1="1591.7" x2="857.4" y2="1591.7" stroke="#333" stroke-width="1.2"/>
<text x="850.8" y="1595.5" font-family="'Liberation Sans', sans-serif" font-size="10.5" font-weight="bold" text-anchor="end">0.0</text>
<line x1="852.4" y1="1543.7" x2="857.4" y2="1543.7" stroke="#333" stroke-width="1.2"/>
<text x="850.8" y="1547.5" font-family="'Liberation Sans', sans-serif" font-size="10.5" font-weight="bold" text-anchor="end">0.5</text>
<line x1="852.4" y1="1495.7" x2="857.4" y2="1495.7" stroke="#333" stroke-width="1.2"/>
<text x="850.8" y="1499.5" font-family="'Liberation Sans', sans-serif" font-size="10.5" font-weight="bold" text-anchor="end">1.0</text>
<line x1="852.4" y1="1447.7" x2="857.4" y2="1447.7" stroke="#333" stroke-width="1.2"/>
<text x="850.8" y="1451.5" font-family="'Liberation Sans', sans-serif" font-size="10.5" font-weight="bold" text-anchor="end">1.5</text>
<line x1="879.8" y1="1591.7" x2="879.8" y2="1596.7" stroke="#333" stroke-width="1.2"/>
<text x="879.8" y="1609.2" font-family="'Liberation Sans', sans-serif" font-size="10.5" font-weight="bold" text-anchor="middle">0</text>
<line x1="910.9" y1="1591.7" x2="910.9" y2="1596.7" stroke="#333" stroke-width="1.2"/>
<text x="910.9" y="1609.2" font-family="'Liberation Sans', sans-serif" font-size="10.5" font-weight="bold" text-anchor="middle">5</text>
<line x1="942" y1="1591.7" x2="942" y2="1596.7" stroke="#333" stroke-width="1.2"/>
<text x="942" y="1609.2" font-family="'Liberation Sans', sans-serif" font-size="10.5" font-weight="bold" text-anchor="middle">10</text>
<line x1="973.5" y1="1591.7" x2="973.5" y2="1596.7" stroke="#333" stroke-width="1.2"/>
<text x="973.5" y="1609.2" font-family="'Liberation Sans', sans-serif" font-size="10.5" font-weight="bold" text-anchor="middle">20</text>
<line x1="869.5" y1="1495.7" x2="890.1" y2="1495.7" stroke="#111" stroke-width="2"/>
<circle cx="872.2" cy="1495.7" r="3.4" fill="#4D9FF2"/>
<circle cx="879.8" cy="1495.7" r="3.4" fill="#4D9FF2"/>
<circle cx="887.4" cy="1495.7" r="3.4" fill="#4D9FF2"/>
<path d="M910.9 1518.7V1538.9M905.4 1518.7h11M905.4 1538.9h11" stroke="#92C8F6" stroke-width="1.5" fill="none"/>
<line x1="900.6" y1="1529.3" x2="921.2" y2="1529.3" stroke="#111" stroke-width="2"/>
<circle cx="910.9" cy="1511.1" r="3.4" fill="#4D9FF2"/>
<circle cx="910.9" cy="1529.3" r="3.4" fill="#4D9FF2"/>
<circle cx="910.9" cy="1546.6" r="3.4" fill="#4D9FF2"/>
<path d="M942 1547.5V1556.2M936.5 1547.5h11M936.5 1556.2h11" stroke="#92C8F6" stroke-width="1.5" fill="none"/>
<line x1="931.7" y1="1552.3" x2="952.3" y2="1552.3" stroke="#111" stroke-width="2"/>
<circle cx="934.4" cy="1554.3" r="3.4" fill="#4D9FF2"/>
<circle cx="942" cy="1543.7" r="3.4" fill="#4D9FF2"/>
<circle cx="949.6" cy="1554.3" r="3.4" fill="#4D9FF2"/>
<path d="M973.5 1575.4V1581.1M968 1575.4h11M968 1581.1h11" stroke="#92C8F6" stroke-width="1.5" fill="none"/>
<line x1="963.2" y1="1578.3" x2="983.8" y2="1578.3" stroke="#111" stroke-width="2"/>
<circle cx="965.9" cy="1575.4" r="3.4" fill="#4D9FF2"/>
<circle cx="973.5" cy="1582.1" r="3.4" fill="#4D9FF2"/>
<circle cx="981.1" cy="1577.3" r="3.4" fill="#4D9FF2"/>
<text x="973.5" y="1575.9" font-family="'Liberation Sans', sans-serif" font-size="17" text-anchor="middle" fill="#222">*</text>
<text x="828.4" y="1520.2" font-family="'Liberation Serif', serif" font-size="17" font-weight="bold" text-anchor="middle" transform="rotate(-90 828.4 1520.2)" textLength="157" lengthAdjust="spacingAndGlyphs">Relative protein level</text>
<text x="926.9" y="1633.1" font-family="'Liberation Serif', serif" font-size="16" font-weight="bold" text-anchor="middle" textLength="124" lengthAdjust="spacingAndGlyphs">PHY-EA(µg/mL)</text>
<path d="M1054.9 1452V1596H1192" stroke="#333" stroke-width="1.2" fill="none"/>
<line x1="1049.9" y1="1596" x2="1054.9" y2="1596" stroke="#333" stroke-width="1.2"/>
<text x="1048.3" y="1599.8" font-family="'Liberation Sans', sans-serif" font-size="10.5" font-weight="bold" text-anchor="end">0.0</text>
<line x1="1049.9" y1="1548" x2="1054.9" y2="1548" stroke="#333" stroke-width="1.2"/>
<text x="1048.3" y="1551.8" font-family="'Liberation Sans', sans-serif" font-size="10.5" font-weight="bold" text-anchor="end">0.5</text>
<line x1="1049.9" y1="1500" x2="1054.9" y2="1500" stroke="#333" stroke-width="1.2"/>
<text x="1048.3" y="1503.8" font-family="'Liberation Sans', sans-serif" font-size="10.5" font-weight="bold" text-anchor="end">1.0</text>
<line x1="1049.9" y1="1452" x2="1054.9" y2="1452" stroke="#333" stroke-width="1.2"/>
<text x="1048.3" y="1455.8" font-family="'Liberation Sans', sans-serif" font-size="10.5" font-weight="bold" text-anchor="end">1.5</text>
<line x1="1077.7" y1="1596" x2="1077.7" y2="1601" stroke="#333" stroke-width="1.2"/>
<text x="1077.7" y="1613.5" font-family="'Liberation Sans', sans-serif" font-size="10.5" font-weight="bold" text-anchor="middle">0</text>
<line x1="1108.8" y1="1596" x2="1108.8" y2="1601" stroke="#333" stroke-width="1.2"/>
<text x="1108.8" y="1613.5" font-family="'Liberation Sans', sans-serif" font-size="10.5" font-weight="bold" text-anchor="middle">5</text>
<line x1="1140" y1="1596" x2="1140" y2="1601" stroke="#333" stroke-width="1.2"/>
<text x="1140" y="1613.5" font-family="'Liberation Sans', sans-serif" font-size="10.5" font-weight="bold" text-anchor="middle">10</text>
<line x1="1171.4" y1="1596" x2="1171.4" y2="1601" stroke="#333" stroke-width="1.2"/>
<text x="1171.4" y="1613.5" font-family="'Liberation Sans', sans-serif" font-size="10.5" font-weight="bold" text-anchor="middle">20</text>
<line x1="1067.4" y1="1500" x2="1088" y2="1500" stroke="#111" stroke-width="2"/>
<circle cx="1070.1" cy="1500" r="3.4" fill="#4D9FF2"/>
<circle cx="1077.7" cy="1500" r="3.4" fill="#4D9FF2"/>
<circle cx="1085.3" cy="1500" r="3.4" fill="#4D9FF2"/>
<path d="M1108.8 1500V1506.7M1103.3 1500h11M1103.3 1506.7h11" stroke="#92C8F6" stroke-width="1.5" fill="none"/>
<line x1="1098.5" y1="1503.8" x2="1119.1" y2="1503.8" stroke="#111" stroke-width="2"/>
<circle cx="1101.2" cy="1506.7" r="3.4" fill="#4D9FF2"/>
<circle cx="1108.8" cy="1497.1" r="3.4" fill="#4D9FF2"/>
<circle cx="1116.4" cy="1505.8" r="3.4" fill="#4D9FF2"/>
<path d="M1140 1572V1585.4M1134.5 1572h11M1134.5 1585.4h11" stroke="#92C8F6" stroke-width="1.5" fill="none"/>
<line x1="1129.7" y1="1578.7" x2="1150.3" y2="1578.7" stroke="#111" stroke-width="2"/>
<circle cx="1140" cy="1565.3" r="3.4" fill="#4D9FF2"/>
<circle cx="1132.4" cy="1586.4" r="3.4" fill="#4D9FF2"/>
<circle cx="1147.6" cy="1586.4" r="3.4" fill="#4D9FF2"/>
<line x1="1161.1" y1="1585.4" x2="1181.7" y2="1585.4" stroke="#111" stroke-width="2"/>
<circle cx="1163.8" cy="1585.4" r="3.4" fill="#4D9FF2"/>
<circle cx="1171.4" cy="1585.4" r="3.4" fill="#4D9FF2"/>
<circle cx="1179" cy="1585.4" r="3.4" fill="#4D9FF2"/>
<text x="1171.4" y="1585.9" font-family="'Liberation Sans', sans-serif" font-size="17" text-anchor="middle" fill="#222">*</text>
<text x="1025.9" y="1524.5" font-family="'Liberation Serif', serif" font-size="17" font-weight="bold" text-anchor="middle" transform="rotate(-90 1025.9 1524.5)" textLength="157" lengthAdjust="spacingAndGlyphs">Relative protein level</text>
<text x="1124" y="1637.4" font-family="'Liberation Serif', serif" font-size="16" font-weight="bold" text-anchor="middle" textLength="124" lengthAdjust="spacingAndGlyphs">PHY-EA(µg/mL)</text>
<path d="M1248 1450V1594.4H1384" stroke="#333" stroke-width="1.2" fill="none"/>
<line x1="1243" y1="1594.4" x2="1248" y2="1594.4" stroke="#333" stroke-width="1.2"/>
<text x="1241.4" y="1598.2" font-family="'Liberation Sans', sans-serif" font-size="10.5" font-weight="bold" text-anchor="end">0.0</text>
<line x1="1243" y1="1546.3" x2="1248" y2="1546.3" stroke="#333" stroke-width="1.2"/>
<text x="1241.4" y="1550.0" font-family="'Liberation Sans', sans-serif" font-size="10.5" font-weight="bold" text-anchor="end">0.5</text>
<line x1="1243" y1="1498.1" x2="1248" y2="1498.1" stroke="#333" stroke-width="1.2"/>
<text x="1241.4" y="1501.9" font-family="'Liberation Sans', sans-serif" font-size="10.5" font-weight="bold" text-anchor="end">1.0</text>
<line x1="1243" y1="1450" x2="1248" y2="1450" stroke="#333" stroke-width="1.2"/>
<text x="1241.4" y="1453.8" font-family="'Liberation Sans', sans-serif" font-size="10.5" font-weight="bold" text-anchor="end">1.5</text>
<line x1="1269.7" y1="1594.4" x2="1269.7" y2="1599.4" stroke="#333" stroke-width="1.2"/>
<text x="1269.7" y="1611.9" font-family="'Liberation Sans', sans-serif" font-size="10.5" font-weight="bold" text-anchor="middle">0</text>
<line x1="1301" y1="1594.4" x2="1301" y2="1599.4" stroke="#333" stroke-width="1.2"/>
<text x="1301" y="1611.9" font-family="'Liberation Sans', sans-serif" font-size="10.5" font-weight="bold" text-anchor="middle">5</text>
<line x1="1332" y1="1594.4" x2="1332" y2="1599.4" stroke="#333" stroke-width="1.2"/>
<text x="1332" y="1611.9" font-family="'Liberation Sans', sans-serif" font-size="10.5" font-weight="bold" text-anchor="middle">10</text>
<line x1="1363.4" y1="1594.4" x2="1363.4" y2="1599.4" stroke="#333" stroke-width="1.2"/>
<text x="1363.4" y="1611.9" font-family="'Liberation Sans', sans-serif" font-size="10.5" font-weight="bold" text-anchor="middle">20</text>
<line x1="1259.4" y1="1498.1" x2="1280" y2="1498.1" stroke="#111" stroke-width="2"/>
<circle cx="1262.1" cy="1498.1" r="3.4" fill="#4D9FF2"/>
<circle cx="1269.7" cy="1498.1" r="3.4" fill="#4D9FF2"/>
<circle cx="1277.3" cy="1498.1" r="3.4" fill="#4D9FF2"/>
<path d="M1301 1518.3V1538.6M1295.5 1518.3h11M1295.5 1538.6h11" stroke="#92C8F6" stroke-width="1.5" fill="none"/>
<line x1="1290.7" y1="1528.9" x2="1311.3" y2="1528.9" stroke="#111" stroke-width="2"/>
<circle cx="1301" cy="1510.6" r="3.4" fill="#4D9FF2"/>
<circle cx="1301" cy="1528.9" r="3.4" fill="#4D9FF2"/>
<circle cx="1301" cy="1546.3" r="3.4" fill="#4D9FF2"/>
<path d="M1332 1577.1V1588.6M1326.5 1577.1h11M1326.5 1588.6h11" stroke="#92C8F6" stroke-width="1.5" fill="none"/>
<line x1="1321.7" y1="1582.8" x2="1342.3" y2="1582.8" stroke="#111" stroke-width="2"/>
<circle cx="1332" cy="1573.2" r="3.4" fill="#4D9FF2"/>
<circle cx="1332" cy="1584.8" r="3.4" fill="#4D9FF2"/>
<circle cx="1332" cy="1592.5" r="3.4" fill="#4D9FF2"/>
<path d="M1363.4 1585.7V1591.5M1357.9 1585.7h11M1357.9 1591.5h11" stroke="#92C8F6" stroke-width="1.5" fill="none"/>
<line x1="1353.1" y1="1588.6" x2="1373.7" y2="1588.6" stroke="#111" stroke-width="2"/>
<circle cx="1363.4" cy="1582.8" r="3.4" fill="#4D9FF2"/>
<circle cx="1363.4" cy="1588.6" r="3.4" fill="#4D9FF2"/>
<circle cx="1363.4" cy="1593.4" r="3.4" fill="#4D9FF2"/>
<text x="1363.4" y="1583.3" font-family="'Liberation Sans', sans-serif" font-size="17" text-anchor="middle" fill="#222">*</text>
<text x="1219" y="1522.7" font-family="'Liberation Serif', serif" font-size="17" font-weight="bold" text-anchor="middle" transform="rotate(-90 1219 1522.7)" textLength="157" lengthAdjust="spacingAndGlyphs">Relative protein level</text>
<text x="1316" y="1635.8" font-family="'Liberation Serif', serif" font-size="16" font-weight="bold" text-anchor="middle" textLength="124" lengthAdjust="spacingAndGlyphs">PHY-EA(µg/mL)</text>
<path d="M857.4 1663.4V1807.4H994" stroke="#333" stroke-width="1.2" fill="none"/>
<line x1="852.4" y1="1807.4" x2="857.4" y2="1807.4" stroke="#333" stroke-width="1.2"/>
<text x="850.8" y="1811.2" font-family="'Liberation Sans', sans-serif" font-size="10.5" font-weight="bold" text-anchor="end">0.0</text>
<line x1="852.4" y1="1759.4" x2="857.4" y2="1759.4" stroke="#333" stroke-width="1.2"/>
<text x="850.8" y="1763.2" font-family="'Liberation Sans', sans-serif" font-size="10.5" font-weight="bold" text-anchor="end">0.5</text>
<line x1="852.4" y1="1711.4" x2="857.4" y2="1711.4" stroke="#333" stroke-width="1.2"/>
<text x="850.8" y="1715.2" font-family="'Liberation Sans', sans-serif" font-size="10.5" font-weight="bold" text-anchor="end">1.0</text>
<line x1="852.4" y1="1663.4" x2="857.4" y2="1663.4" stroke="#333" stroke-width="1.2"/>
<text x="850.8" y="1667.2" font-family="'Liberation Sans', sans-serif" font-size="10.5" font-weight="bold" text-anchor="end">1.5</text>
<line x1="879.8" y1="1807.4" x2="879.8" y2="1812.4" stroke="#333" stroke-width="1.2"/>
<text x="879.8" y="1824.9" font-family="'Liberation Sans', sans-serif" font-size="10.5" font-weight="bold" text-anchor="middle">0</text>
<line x1="910.9" y1="1807.4" x2="910.9" y2="1812.4" stroke="#333" stroke-width="1.2"/>
<text x="910.9" y="1824.9" font-family="'Liberation Sans', sans-serif" font-size="10.5" font-weight="bold" text-anchor="middle">5</text>
<line x1="942" y1="1807.4" x2="942" y2="1812.4" stroke="#333" stroke-width="1.2"/>
<text x="942" y="1824.9" font-family="'Liberation Sans', sans-serif" font-size="10.5" font-weight="bold" text-anchor="middle">10</text>
<line x1="973.5" y1="1807.4" x2="973.5" y2="1812.4" stroke="#333" stroke-width="1.2"/>
<text x="973.5" y="1824.9" font-family="'Liberation Sans', sans-serif" font-size="10.5" font-weight="bold" text-anchor="middle">20</text>
<line x1="869.5" y1="1711.4" x2="890.1" y2="1711.4" stroke="#111" stroke-width="2"/>
<circle cx="872.2" cy="1711.4" r="3.4" fill="#4D9FF2"/>
<circle cx="879.8" cy="1711.4" r="3.4" fill="#4D9FF2"/>
<circle cx="887.4" cy="1711.4" r="3.4" fill="#4D9FF2"/>
<path d="M910.9 1754.6V1770.9M905.4 1754.6h11M905.4 1770.9h11" stroke="#92C8F6" stroke-width="1.5" fill="none"/>
<line x1="900.6" y1="1763.2" x2="921.2" y2="1763.2" stroke="#111" stroke-width="2"/>
<circle cx="910.9" cy="1747.9" r="3.4" fill="#4D9FF2"/>
<circle cx="910.9" cy="1763.2" r="3.4" fill="#4D9FF2"/>
<circle cx="910.9" cy="1776.7" r="3.4" fill="#4D9FF2"/>
<line x1="931.7" y1="1789.2" x2="952.3" y2="1789.2" stroke="#111" stroke-width="2"/>
<circle cx="934.4" cy="1790.1" r="3.4" fill="#4D9FF2"/>
<circle cx="942" cy="1787.2" r="3.4" fill="#4D9FF2"/>
<circle cx="949.6" cy="1788.2" r="3.4" fill="#4D9FF2"/>
<path d="M973.5 1796.8V1802.6M968 1796.8h11M968 1802.6h11" stroke="#92C8F6" stroke-width="1.5" fill="none"/>
<line x1="963.2" y1="1799.7" x2="983.8" y2="1799.7" stroke="#111" stroke-width="2"/>
<circle cx="965.9" cy="1798.8" r="3.4" fill="#4D9FF2"/>
<circle cx="973.5" cy="1804.5" r="3.4" fill="#4D9FF2"/>
<circle cx="981.1" cy="1796.8" r="3.4" fill="#4D9FF2"/>
<text x="973.5" y="1797.3" font-family="'Liberation Sans', sans-serif" font-size="17" text-anchor="middle" fill="#222">*</text>
<text x="828.4" y="1735.9" font-family="'Liberation Serif', serif" font-size="17" font-weight="bold" text-anchor="middle" transform="rotate(-90 828.4 1735.9)" textLength="157" lengthAdjust="spacingAndGlyphs">Relative protein level</text>
<text x="926" y="1848.8" font-family="'Liberation Serif', serif" font-size="16" font-weight="bold" text-anchor="middle" textLength="124" lengthAdjust="spacingAndGlyphs">PHY-EA(µg/mL)</text>
<path d="M1050 1664V1808H1185" stroke="#333" stroke-width="1.2" fill="none"/>
<line x1="1045" y1="1808" x2="1050" y2="1808" stroke="#333" stroke-width="1.2"/>
<text x="1043.4" y="1811.8" font-family="'Liberation Sans', sans-serif" font-size="10.5" font-weight="bold" text-anchor="end">0.0</text>
<line x1="1045" y1="1760" x2="1050" y2="1760" stroke="#333" stroke-width="1.2"/>
<text x="1043.4" y="1763.8" font-family="'Liberation Sans', sans-serif" font-size="10.5" font-weight="bold" text-anchor="end">0.5</text>
<line x1="1045" y1="1712" x2="1050" y2="1712" stroke="#333" stroke-width="1.2"/>
<text x="1043.4" y="1715.8" font-family="'Liberation Sans', sans-serif" font-size="10.5" font-weight="bold" text-anchor="end">1.0</text>
<line x1="1045" y1="1664" x2="1050" y2="1664" stroke="#333" stroke-width="1.2"/>
<text x="1043.4" y="1667.8" font-family="'Liberation Sans', sans-serif" font-size="10.5" font-weight="bold" text-anchor="end">1.5</text>
<line x1="1070.9" y1="1808" x2="1070.9" y2="1813" stroke="#333" stroke-width="1.2"/>
<text x="1070.9" y="1825.5" font-family="'Liberation Sans', sans-serif" font-size="10.5" font-weight="bold" text-anchor="middle">0</text>
<line x1="1101.9" y1="1808" x2="1101.9" y2="1813" stroke="#333" stroke-width="1.2"/>
<text x="1101.9" y="1825.5" font-family="'Liberation Sans', sans-serif" font-size="10.5" font-weight="bold" text-anchor="middle">5</text>
<line x1="1133" y1="1808" x2="1133" y2="1813" stroke="#333" stroke-width="1.2"/>
<text x="1133" y="1825.5" font-family="'Liberation Sans', sans-serif" font-size="10.5" font-weight="bold" text-anchor="middle">10</text>
<line x1="1164" y1="1808" x2="1164" y2="1813" stroke="#333" stroke-width="1.2"/>
<text x="1164" y="1825.5" font-family="'Liberation Sans', sans-serif" font-size="10.5" font-weight="bold" text-anchor="middle">20</text>
<line x1="1060.6" y1="1712" x2="1081.2" y2="1712" stroke="#111" stroke-width="2"/>
<circle cx="1063.3" cy="1712" r="3.4" fill="#4D9FF2"/>
<circle cx="1070.9" cy="1712" r="3.4" fill="#4D9FF2"/>
<circle cx="1078.5" cy="1712" r="3.4" fill="#4D9FF2"/>
<path d="M1101.9 1741.8V1755.2M1096.4 1741.8h11M1096.4 1755.2h11" stroke="#92C8F6" stroke-width="1.5" fill="none"/>
<line x1="1091.6" y1="1748.5" x2="1112.2" y2="1748.5" stroke="#111" stroke-width="2"/>
<circle cx="1101.9" cy="1736" r="3.4" fill="#4D9FF2"/>
<circle cx="1101.9" cy="1748.5" r="3.4" fill="#4D9FF2"/>
<circle cx="1101.9" cy="1760" r="3.4" fill="#4D9FF2"/>
<line x1="1122.7" y1="1800.3" x2="1143.3" y2="1800.3" stroke="#111" stroke-width="2"/>
<circle cx="1125.4" cy="1800.3" r="3.4" fill="#4D9FF2"/>
<circle cx="1133" cy="1800.3" r="3.4" fill="#4D9FF2"/>
<circle cx="1140.6" cy="1800.3" r="3.4" fill="#4D9FF2"/>
<text x="1133" y="1800.8" font-family="'Liberation Sans', sans-serif" font-size="17" text-anchor="middle" fill="#222">**</text>
<line x1="1153.7" y1="1805.1" x2="1174.3" y2="1805.1" stroke="#111" stroke-width="2"/>
<circle cx="1156.4" cy="1805.1" r="3.4" fill="#4D9FF2"/>
<circle cx="1164" cy="1805.1" r="3.4" fill="#4D9FF2"/>
<circle cx="1171.6" cy="1805.1" r="3.4" fill="#4D9FF2"/>
<text x="1164" y="1805.6" font-family="'Liberation Sans', sans-serif" font-size="17" text-anchor="middle" fill="#222">**</text>
<text x="1021" y="1736.5" font-family="'Liberation Serif', serif" font-size="17" font-weight="bold" text-anchor="middle" transform="rotate(-90 1021 1736.5)" textLength="157" lengthAdjust="spacingAndGlyphs">Relative protein level</text>
<text x="1118" y="1849.4" font-family="'Liberation Serif', serif" font-size="16" font-weight="bold" text-anchor="middle" textLength="124" lengthAdjust="spacingAndGlyphs">PHY-EA(µg/mL)</text>
<path d="M1250 1665.7V1809.7H1391" stroke="#333" stroke-width="1.2" fill="none"/>
<line x1="1245" y1="1809.7" x2="1250" y2="1809.7" stroke="#333" stroke-width="1.2"/>
<text x="1243.4" y="1813.5" font-family="'Liberation Sans', sans-serif" font-size="10.5" font-weight="bold" text-anchor="end">0.0</text>
<line x1="1245" y1="1761.7" x2="1250" y2="1761.7" stroke="#333" stroke-width="1.2"/>
<text x="1243.4" y="1765.5" font-family="'Liberation Sans', sans-serif" font-size="10.5" font-weight="bold" text-anchor="end">0.5</text>
<line x1="1245" y1="1713.7" x2="1250" y2="1713.7" stroke="#333" stroke-width="1.2"/>
<text x="1243.4" y="1717.5" font-family="'Liberation Sans', sans-serif" font-size="10.5" font-weight="bold" text-anchor="end">1.0</text>
<line x1="1245" y1="1665.7" x2="1250" y2="1665.7" stroke="#333" stroke-width="1.2"/>
<text x="1243.4" y="1669.5" font-family="'Liberation Sans', sans-serif" font-size="10.5" font-weight="bold" text-anchor="end">1.5</text>
<line x1="1271" y1="1809.7" x2="1271" y2="1814.7" stroke="#333" stroke-width="1.2"/>
<text x="1271" y="1827.2" font-family="'Liberation Sans', sans-serif" font-size="10.5" font-weight="bold" text-anchor="middle">0</text>
<line x1="1302.6" y1="1809.7" x2="1302.6" y2="1814.7" stroke="#333" stroke-width="1.2"/>
<text x="1302.6" y="1827.2" font-family="'Liberation Sans', sans-serif" font-size="10.5" font-weight="bold" text-anchor="middle">5</text>
<line x1="1333.7" y1="1809.7" x2="1333.7" y2="1814.7" stroke="#333" stroke-width="1.2"/>
<text x="1333.7" y="1827.2" font-family="'Liberation Sans', sans-serif" font-size="10.5" font-weight="bold" text-anchor="middle">10</text>
<line x1="1364.8" y1="1809.7" x2="1364.8" y2="1814.7" stroke="#333" stroke-width="1.2"/>
<text x="1364.8" y="1827.2" font-family="'Liberation Sans', sans-serif" font-size="10.5" font-weight="bold" text-anchor="middle">20</text>
<line x1="1260.7" y1="1713.7" x2="1281.3" y2="1713.7" stroke="#111" stroke-width="2"/>
<circle cx="1263.4" cy="1713.7" r="3.4" fill="#4D9FF2"/>
<circle cx="1271" cy="1713.7" r="3.4" fill="#4D9FF2"/>
<circle cx="1278.6" cy="1713.7" r="3.4" fill="#4D9FF2"/>
<path d="M1302.6 1748.3V1753.1M1297.1 1748.3h11M1297.1 1753.1h11" stroke="#92C8F6" stroke-width="1.5" fill="none"/>
<line x1="1292.3" y1="1751.1" x2="1312.9" y2="1751.1" stroke="#111" stroke-width="2"/>
<circle cx="1295" cy="1753.1" r="3.4" fill="#4D9FF2"/>
<circle cx="1302.6" cy="1746.3" r="3.4" fill="#4D9FF2"/>
<circle cx="1310.2" cy="1753.1" r="3.4" fill="#4D9FF2"/>
<line x1="1323.4" y1="1777.1" x2="1344" y2="1777.1" stroke="#111" stroke-width="2"/>
<circle cx="1326.1" cy="1777.1" r="3.4" fill="#4D9FF2"/>
<circle cx="1333.7" cy="1777.1" r="3.4" fill="#4D9FF2"/>
<circle cx="1341.3" cy="1777.1" r="3.4" fill="#4D9FF2"/>
<line x1="1354.5" y1="1798.2" x2="1375.1" y2="1798.2" stroke="#111" stroke-width="2"/>
<circle cx="1357.2" cy="1798.2" r="3.4" fill="#4D9FF2"/>
<circle cx="1364.8" cy="1798.2" r="3.4" fill="#4D9FF2"/>
<circle cx="1372.4" cy="1798.2" r="3.4" fill="#4D9FF2"/>
<text x="1364.8" y="1798.7" font-family="'Liberation Sans', sans-serif" font-size="17" text-anchor="middle" fill="#222">*</text>
<text x="1221" y="1738.2" font-family="'Liberation Serif', serif" font-size="17" font-weight="bold" text-anchor="middle" transform="rotate(-90 1221 1738.2)" textLength="157" lengthAdjust="spacingAndGlyphs">Relative protein level</text>
<text x="1318.6" y="1851.1" font-family="'Liberation Serif', serif" font-size="16" font-weight="bold" text-anchor="middle" textLength="124" lengthAdjust="spacingAndGlyphs">PHY-EA(µg/mL)</text>
</svg>
</body></html>
